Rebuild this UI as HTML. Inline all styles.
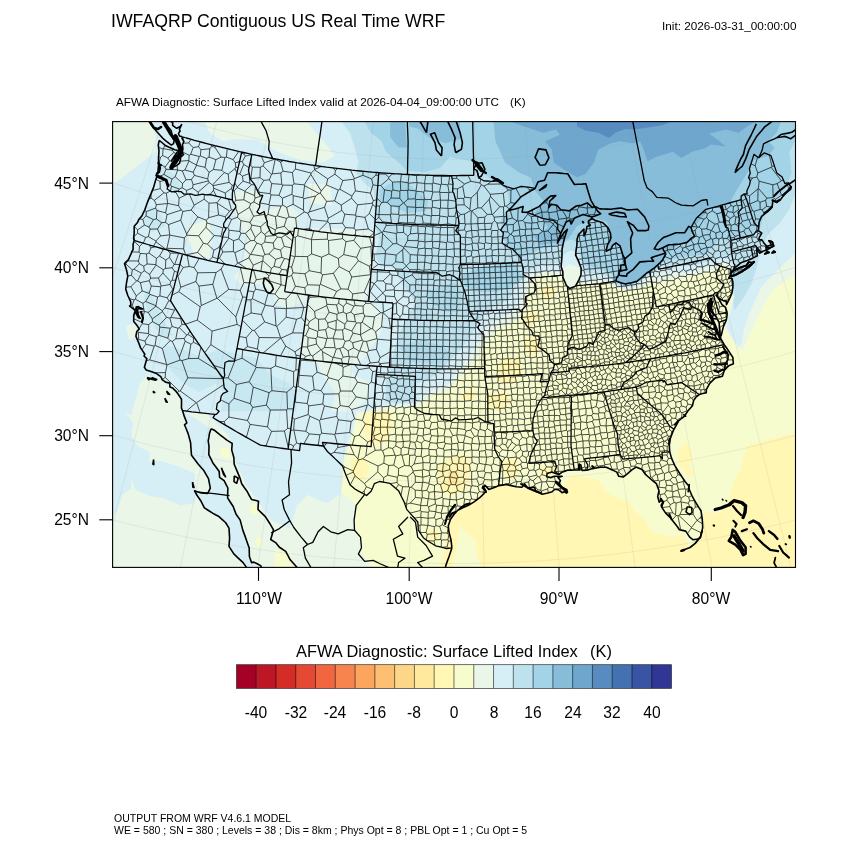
<!DOCTYPE html>
<html lang="en"><head><meta charset="utf-8"><title>IWFAQRP Contiguous US Real Time WRF</title>
<style>
html,body{margin:0;padding:0;background:#fff;}
body{width:850px;height:850px;position:relative;overflow:hidden;font-family:"Liberation Sans",Arial,Helvetica,sans-serif;color:#000;}
.t{position:absolute;white-space:pre;line-height:1;will-change:transform;transform:translateZ(0);}
#title{left:111.3px;top:13.4px;font-size:17.66px;}
#init{left:661.6px;top:20.2px;font-size:11.74px;}
#sub{left:116.2px;top:95.8px;font-size:11.68px;}
#subk{left:510.2px;top:95.8px;font-size:11.68px;}
#cbt{left:296.4px;top:642.5px;font-size:16.4px;}
#cbk{left:590.2px;top:642.5px;font-size:16.4px;}
#foot1{left:114.3px;top:813.2px;font-size:10.5px;}
#foot2{left:114.3px;top:825.2px;font-size:10.5px;}
.yl{font-size:15.6px;width:60px;text-align:right;left:29.2px;}
.xl{font-size:15.6px;width:80px;text-align:center;}
.cl{font-size:15.6px;width:60px;text-align:center;top:704.9px;}
svg{position:absolute;left:0;top:0;}
</style></head><body>
<div class="t" id="title">IWFAQRP Contiguous US Real Time WRF</div>
<div class="t" id="init">Init: 2026-03-31_00:00:00</div>
<div class="t" id="sub">AFWA Diagnostic: Surface Lifted Index valid at 2026-04-04_09:00:00 UTC</div><div class="t" id="subk">(K)</div>
<svg width="850" height="850" viewBox="0 0 850 850">
<defs><clipPath id="fc"><rect x="112.6" y="121.6" width="682.9" height="445.8"/></clipPath></defs>
<g clip-path="url(#fc)">
<rect x="111" y="120" width="686" height="449" fill="#d6eef5"/>
<path d="M341.4,121.7 349.9,132.7 354.1,145.4 358.4,162.4 356.2,172.9 364.7,183.5 373.2,189.9 375.3,204.7 373.2,221.7 379.5,238.6 375.3,255.5 380.0,266.0 394.4,268.0 398.6,277.7 407.1,290.4 415.5,303.1 407.1,317.9 398.6,334.9 394.4,349.7 390.1,368.8 385.9,379.4 385.9,402.7 415.5,402.7 415.5,383.6 428.2,379.4 440.0,372.0 450.0,360.0 460.6,349.7 471.2,334.9 479.6,320.1 492.4,307.4 507.2,301.0 513.5,292.5 519.9,277.7 522.2,273.7 542.4,264.2 560.4,263.1 563.5,254.6 570.9,250.4 578.4,253.6 583.6,272.6 599.5,274.1 611.0,277.5 615.0,284.0 621.6,286.0 625.4,287.0 631.6,285.8 637.2,284.3 646.7,276.2 649.8,274.6 654.5,271.5 658.5,268.8 664.0,266.0 669.8,265.5 680.5,266.0 691.2,265.9 700.4,263.6 712.6,260.6 721.8,258.3 734.0,259.1 732.2,273.5 732.2,296.8 734.4,310.5 742.8,298.9 751.3,284.1 755.5,271.4 760.0,255.0 764.0,242.8 768.2,234.4 780.9,221.7 789.4,208.9 797.0,189.9 796.5,120.6Z" fill="#bde2ee"/>
<path d="M146.0,204.7 158.7,208.9 165.1,225.9 152.4,232.2 143.9,221.7Z" fill="#bde2ee" fill-opacity="0.60"/>
<path d="M159.8,159.2 173.5,175.1 182.0,187.8 173.5,190.9 162.9,181.4 157.6,168.7Z" fill="#bde2ee" fill-opacity="0.60"/>
<path d="M147.1,288.3 155.5,303.1 162.9,320.1 173.5,334.9 165.1,338.1 155.5,328.5 148.1,313.7 143.9,296.8Z" fill="#bde2ee" fill-opacity="0.60"/>
<path d="M165.1,345.5 184.1,349.7 198.9,356.1 220.1,349.7 237.1,353.9 256.1,358.2 271.0,375.1 290.0,383.6 297.0,395.0 296.0,414.9 220.1,414.9 224.4,392.1 215.9,383.6 198.9,392.1 184.1,383.6 171.4,370.9 162.9,356.1Z" fill="#bde2ee" fill-opacity="0.60"/>
<path d="M187.0,414.0 205.0,414.0 210.0,430.0 208.0,452.0 196.0,450.0 190.0,432.0Z" fill="#bde2ee" fill-opacity="0.60"/>
<path d="M364.7,121.7 371.0,132.7 381.7,141.2 385.9,151.8 398.6,162.4 407.0,170.8 425.0,172.0 440.0,168.0 447.0,160.0 450.0,157.1 471.2,161.3 488.1,177.2 507.2,189.9 509.3,204.7 500.8,219.5 502.9,238.6 512.0,252.0 519.1,258.9 542.4,248.3 559.3,246.2 563.5,241.9 572.0,239.8 578.4,243.0 584.7,265.2 599.5,268.4 612.0,274.0 615.2,282.7 621.6,284.7 625.4,285.8 631.6,284.5 637.2,283.0 646.7,274.8 649.8,273.0 654.5,269.7 657.8,266.7 662.2,262.6 669.8,260.0 683.5,257.0 704.7,254.5 713.2,247.1 719.5,239.0 730.1,240.7 738.6,238.6 747.1,234.4 759.8,230.1 764.0,215.3 772.5,204.7 785.2,189.9 791.5,172.9 789.4,151.8 797.0,137.0 796.5,120.6Z" fill="#a3d3e6"/>
<path d="M379.5,189.9 390.1,183.5 407.0,181.4 415.5,189.9 428.2,200.5 426.1,211.0 407.0,213.2 390.1,204.7 379.5,200.5Z" fill="#a3d3e6"/>
<path d="M460.9,277.1 477.9,267.6 496.7,265.8 512.0,262.0 519.3,270.5 523.1,278.9 511.8,286.5 496.7,292.1 477.9,292.1 464.7,286.5Z" fill="#a3d3e6"/>
<path d="M400.0,348.0 417.6,340.0 442.1,345.0 452.0,356.0 440.0,364.0 410.0,362.0Z" fill="#a3d3e6" fill-opacity="0.60"/>
<path d="M425.0,292.0 455.0,282.0 462.0,292.0 460.0,312.0 445.0,312.0 432.0,304.0Z" fill="#a3d3e6" fill-opacity="0.60"/>
<path d="M390.1,124.2 392.0,120.0 405.0,120.0 407.0,147.5 398.6,147.5 390.1,137.0Z" fill="#87bdd9"/>
<path d="M409.2,120.0 460.0,120.0 460.0,139.0 445.2,143.3 428.2,137.0 417.7,128.5 409.2,126.4Z" fill="#87bdd9"/>
<path d="M493.4,121.7 495.5,141.2 505.1,162.4 519.9,172.9 530.5,177.2 534.7,189.9 543.2,200.5 534.7,213.2 543.2,219.5 548.0,228.0 534.0,236.0 540.0,245.0 556.0,243.0 560.1,242.8 568.6,238.6 577.1,225.9 594.0,217.4 606.7,221.7 609.5,228.0 609.0,238.0 606.0,246.0 610.0,250.0 615.0,244.0 619.0,247.0 621.0,255.0 622.0,262.0 619.0,268.0 617.0,274.0 615.5,281.5 621.6,283.5 625.4,284.6 631.6,283.3 637.2,281.8 646.7,273.6 649.8,271.8 654.5,268.5 657.8,265.5 662.2,261.2 666.5,253.5 675.9,246.1 691.2,239.2 692.0,230.1 700.5,219.5 708.9,208.9 730.1,202.6 734.4,194.1 740.7,183.5 747.1,172.9 753.4,160.2 768.2,156.0 774.6,147.5 768.2,141.2 776.7,132.7 780.9,121.7 780.9,120.6 493.4,120.6Z" fill="#87bdd9"/>
<path d="M511.4,121.7 524.1,126.4 543.2,132.7 555.9,129.5 560.1,134.8 545.3,141.2 551.7,149.6 553.8,162.4 564.4,169.8 577.1,177.2 585.5,174.0 594.0,162.4 598.2,149.6 610.9,143.3 620.0,141.2 632.7,143.3 640.1,141.2 643.3,148.6 647.5,161.3 656.0,157.1 672.9,151.8 681.4,158.1 692.0,151.8 704.7,148.6 711.1,144.4 725.9,146.5 715.3,138.0 708.9,133.8 725.9,129.5 738.6,132.7 747.1,126.4 755.5,121.7 755.5,120.6 511.4,120.6Z" fill="#6ea6ce"/>
<path d="M577.0,120.0 577.0,126.4 585.5,130.6 598.2,132.7 608.8,138.0 615.2,132.7 625.0,129.0 633.8,129.5 641.2,128.5 662.4,125.3 670.8,121.7 670.8,120.0Z" fill="#588cc0"/>
<path d="M112.0,516.0 116.4,511.7 122.7,494.7 131.2,488.4 131.2,477.8 148.1,465.1 150.2,452.4 137.5,446.0 131.2,435.4 133.3,422.7 124.8,411.7 131.2,414.9 135.4,400.5 139.6,383.6 148.1,375.1 160.8,380.4 171.4,387.8 179.9,396.3 183.1,413.0 356.2,411.7 368.9,411.1 385.9,404.8 415.5,403.7 428.2,392.1 449.4,383.6 455.0,374.0 462.7,364.5 475.4,347.6 483.9,330.7 496.6,320.1 511.4,313.7 517.8,305.2 523.1,292.5 526.5,279.0 530.0,274.8 542.4,272.0 561.4,272.0 563.5,267.4 569.9,264.2 579.4,267.4 581.5,280.5 599.5,279.6 612.0,282.0 615.0,285.5 621.6,287.5 625.4,288.6 631.6,287.5 637.2,286.2 646.7,278.5 649.8,277.0 654.5,274.5 660.0,273.5 669.8,273.0 680.5,273.0 691.2,271.3 700.4,269.0 712.6,265.9 720.2,262.9 731.0,262.9 730.1,277.7 734.4,296.8 730.1,313.7 726.9,326.4 731.2,335.9 738.6,346.5 741.8,343.4 743.9,328.5 749.2,313.7 755.5,298.9 761.9,286.2 772.5,275.6 780.9,266.7 790.0,258.0 797.0,252.0 796.5,568.4 111.6,568.4 111.6,516.0Z" fill="#e9f6e8"/>
<path d="M111.0,120.0 149.2,120.0 157.6,139.0 155.5,151.8 135.4,167.6 117.4,181.4 111.0,184.5Z" fill="#e9f6e8"/>
<path d="M204.2,120.0 305.4,120.0 316.0,132.7 328.7,147.5 335.1,156.0 322.4,162.4 301.2,160.2 285.0,155.0 273.1,149.6 258.2,140.1 237.1,139.1 222.2,141.2 209.5,132.7Z" fill="#e9f6e8"/>
<path d="M188.4,225.9 209.5,219.5 211.7,238.6 209.5,257.7 194.7,255.5 188.4,238.6Z" fill="#e9f6e8"/>
<path d="M233.9,192.0 258.2,189.9 262.5,211.1 290.0,204.7 300.0,215.0 296.0,228.0 330.0,228.0 373.0,231.0 373.2,266.0 368.9,286.2 364.7,298.9 375.3,305.2 383.8,320.1 379.5,337.0 368.9,349.7 362.6,360.3 349.9,364.5 354.1,375.1 371.0,383.6 364.7,400.5 349.9,414.9 330.8,414.9 335.1,392.1 322.4,375.1 318.1,364.5 301.2,358.2 303.3,328.5 307.5,298.9 290.0,307.4 277.3,305.2 271.0,290.4 258.2,284.1 245.5,286.2 232.8,277.7 241.3,268.0 247.7,238.6 237.1,219.5 235.0,204.7Z" fill="#e9f6e8" fill-opacity="0.80"/>
<path d="M307.5,183.5 330.8,185.0 332.0,204.7 310.0,204.0Z" fill="#e9f6e8"/>
<path d="M125.9,325.4 135.4,323.2 137.5,337.0 129.1,340.2Z" fill="#e9f6e8"/>
<path d="M148.0,462.0 160.8,460.8 179.9,467.2 194.7,473.5 194.7,503.2 179.9,505.3 162.9,498.0 150.0,496.0 136.0,490.0 131.0,478.0Z" fill="#d6eef5"/>
<path d="M190.0,411.0 356.2,411.7 352.0,431.2 347.8,443.9 341.4,462.9 341.4,479.9 339.3,494.7 326.6,503.2 307.5,494.7 297.0,505.0 290.0,528.6 271.0,520.1 258.2,501.1 245.5,484.1 237.1,465.1 228.6,435.4 211.7,418.5 205.0,412.0Z" fill="#d6eef5"/>
<path d="M182.5,410.6 184.3,416.4 186.8,422.8 184.5,424.8 186.4,429.3 188.2,433.9 189.4,438.3 190.6,442.7 190.9,447.7 191.2,451.5 191.5,455.3 194.9,459.7 198.3,464.2 200.9,467.2 203.6,470.2 206.0,474.4 208.5,478.6 209.4,483.3 210.3,488.1 207.8,493.4 204.6,493.2 201.3,493.0 198.0,491.9 194.6,490.8 197.1,495.5 201.1,501.3 204.4,507.8 208.5,510.5 212.6,513.1 215.5,514.7 218.4,516.2 222.0,519.3 225.5,522.5 229.0,528.1 229.3,533.1 229.6,538.2 229.3,542.3 229.0,546.4 233.8,553.9 238.5,558.3 243.1,562.6 245.6,566.1 248.2,569.6 253.1,574.5 253.6,578.4 254.0,582.2 256.8,584.7 256.8,584.7 262.6,581.8 265.0,575.4 262.8,570.5 260.6,565.6 257.2,563.8 253.9,562.1 251.5,562.6 249.4,556.4 249.3,552.2 249.2,548.0 247.3,542.7 245.5,537.4 242.9,530.4 241.5,525.1 240.1,519.9 236.1,514.3 234.6,510.4 233.2,506.5 230.4,502.2 227.6,497.9 227.7,492.9 227.9,488.0 226.0,484.3 224.1,480.7 219.6,477.4 219.2,471.5 216.1,467.2 212.9,462.9 210.9,458.8 208.8,454.7 208.9,450.5 209.0,446.4 208.2,441.0 208.9,437.2 209.5,433.3 211.1,428.7Z" fill="#d6eef5"/>
<path d="M373.2,569.0 368.9,562.5 362.6,554.0 360.5,541.3 356.2,528.6 354.1,520.1 356.2,505.3 349.9,498.9 341.4,492.6 343.5,479.9 343.5,462.9 349.9,443.9 354.1,431.2 358.4,413.5 373.2,414.9 390.1,409.0 415.5,406.9 432.5,396.3 449.4,389.9 456.0,381.0 462.7,375.1 477.5,358.2 486.0,341.2 498.7,328.5 513.5,322.2 522.0,313.7 526.2,298.9 531.0,285.0 536.0,278.5 542.4,275.2 561.4,275.2 564.6,283.2 570.9,287.5 578.4,283.9 599.5,283.0 612.0,285.0 616.0,288.0 621.6,289.5 625.4,290.5 631.6,289.8 637.2,289.0 645.3,286.0 651.0,283.5 657.5,282.5 669.8,280.5 680.5,278.9 691.2,275.9 700.4,273.6 712.6,270.5 718.7,267.5 727.9,265.2 729.0,278.0 732.5,297.0 728.5,314.0 724.5,327.0 730.0,337.0 738.6,349.7 743.9,348.7 749.2,334.9 757.7,317.9 766.1,301.0 774.6,288.3 785.2,280.9 797.0,274.5 796.5,568.4 373.2,568.4Z" fill="#f7fcce"/>
<path d="M220.1,448.1 230.7,449.0 229.0,458.7 221.0,457.0Z" fill="#f7fcce"/>
<path d="M249.8,503.2 256.0,505.0 258.2,515.9 251.0,514.0Z" fill="#f7fcce"/>
<path d="M256.1,537.1 262.5,539.0 261.0,547.7 256.5,546.0Z" fill="#f7fcce"/>
<path d="M275.2,549.8 290.0,552.0 292.0,568.0 274.0,568.0Z" fill="#f7fcce"/>
<path d="M481.8,569.0 477.5,556.1 475.4,539.2 462.7,530.7 458.5,518.0 452.0,521.0 456.4,511.7 481.8,494.7 498.7,484.1 534.7,491.5 560.1,492.6 567.5,479.9 572.8,475.7 598.2,479.9 606.7,492.6 619.4,498.9 628.5,501.1 634.8,511.7 645.4,520.1 651.8,532.8 672.9,537.1 683.5,534.9 685.6,539.2 689.9,547.7 700.5,537.1 702.6,528.6 704.7,511.7 713.2,513.8 725.9,509.5 730.1,494.7 734.4,479.9 740.7,469.3 744.9,454.5 747.1,446.0 759.8,441.8 776.7,437.5 797.0,433.3 796.5,568.4 481.8,568.4Z" fill="#fff7b3"/>
<path d="M449.0,516.0 460.0,516.0 458.0,540.0 452.0,569.0 440.0,569.0 446.0,545.0Z" fill="#fff7b3"/>
<path d="M366.0,412.0 390.0,410.0 392.0,425.0 388.0,440.0 372.0,446.0 363.0,430.0Z" fill="#fff7b3"/>
<path d="M351.0,460.0 362.0,456.0 370.0,468.0 364.0,480.0 352.0,478.0Z" fill="#fff7b3"/>
<path d="M437.0,468.0 450.0,458.0 466.0,455.0 471.0,470.0 465.0,490.0 450.0,496.0 440.0,488.0Z" fill="#fff7b3"/>
<path d="M427.0,530.0 438.0,529.0 439.0,540.0 430.0,542.0Z" fill="#fff7b3"/>
<path d="M502.0,461.0 516.0,459.0 520.0,472.0 512.0,480.0 503.0,476.0Z" fill="#fff7b3"/>
<path d="M540.0,467.0 555.0,466.0 556.0,475.0 541.0,476.0Z" fill="#fff7b3"/>
<path d="M538.9,290.4 549.5,285.1 555.9,288.3 553.8,296.8 543.2,298.9Z" fill="#fff7b3"/>
<path d="M524.1,314.8 534.7,312.6 538.9,320.1 530.5,326.4 524.1,322.2Z" fill="#fff7b3"/>
<path d="M525.2,339.1 536.8,337.0 541.1,349.7 532.6,356.1 524.1,349.7Z" fill="#fff7b3"/>
<path d="M500.8,360.3 519.9,356.1 522.0,370.9 513.5,383.6 498.7,383.6 496.6,370.9Z" fill="#fff7b3"/>
<path d="M488.1,394.2 507.2,392.1 511.4,402.7 500.8,411.1 488.1,406.9Z" fill="#fff7b3"/>
<path d="M462.7,392.1 477.5,389.9 473.3,400.5 462.7,400.5Z" fill="#fff7b3"/>
<path d="M677.2,452.4 685.6,441.8 692.0,452.4 689.9,467.2 694.1,475.7 687.8,475.7 679.3,465.1Z" fill="#fff7b3"/>
<path d="M448.0,472.0 458.0,470.0 459.0,484.0 449.0,486.0Z" fill="#fee99d"/>
<path d="M-166.7,601.0 -159.6,585.1 -152.6,569.4 -145.6,553.7 -138.7,538.2 -131.8,522.7 -125.0,507.3 -118.2,491.9 -111.4,476.7 -104.7,461.5 -98.0,446.4 -91.3,431.3 -84.6,416.3 -78.0,401.4 -71.3,386.5 -64.7,371.6 -58.2,356.8 -51.6,342.0 -45.0,327.3 -38.5,312.6 -32.0,297.9 -25.4,283.2 -18.9,268.5 -12.4,253.8 -5.9,239.2 0.6,224.5 7.1,209.9 13.7,195.2 20.2,180.5 26.7,165.8 33.3,151.1 39.8,136.3 46.4,121.6 53.0,106.7 59.6,91.9 66.2,76.9 72.9,62.0 79.5,46.9 86.3,31.8 93.0,16.7 99.8,1.4 106.6,-13.9 113.5,-29.4 120.4,-44.9 127.3,-60.6 134.3,-76.3 M-88.9,633.0 -82.7,616.8 -76.6,600.7 -70.5,584.7 -64.5,568.7 -58.4,552.9 -52.5,537.1 -46.5,521.5 -40.6,505.9 -34.7,490.3 -28.8,474.9 -22.9,459.5 -17.1,444.1 -11.3,428.8 -5.5,413.6 0.3,398.4 6.0,383.3 11.8,368.1 17.5,353.0 23.2,338.0 28.9,322.9 34.6,307.9 40.3,292.9 46.0,277.9 51.7,262.9 57.4,247.9 63.1,232.9 68.8,217.9 74.5,202.9 80.3,187.9 86.0,172.8 91.7,157.7 97.5,142.6 103.2,127.4 109.0,112.2 114.8,97.0 120.6,81.6 126.5,66.3 132.3,50.8 138.2,35.3 144.2,19.7 150.1,4.0 156.1,-11.8 162.2,-27.7 168.3,-43.7 174.4,-59.8 M-9.5,660.7 -4.2,644.2 1.0,627.8 6.2,611.4 11.4,595.2 16.5,579.0 21.6,563.0 26.7,547.0 31.8,531.1 36.8,515.3 41.8,499.5 46.8,483.8 51.8,468.2 56.7,452.6 61.7,437.1 66.6,421.6 71.5,406.1 76.4,390.7 81.3,375.3 86.2,360.0 91.1,344.6 96.0,329.3 100.8,314.0 105.7,298.7 110.6,283.4 115.4,268.2 120.3,252.9 125.2,237.6 130.1,222.3 134.9,206.9 139.8,191.6 144.7,176.2 149.6,160.8 154.5,145.3 159.5,129.8 164.4,114.3 169.4,98.7 174.4,83.0 179.4,67.2 184.4,51.4 189.5,35.5 194.6,19.5 199.7,3.4 204.9,-12.8 210.1,-29.1 215.3,-45.6 M71.3,684.0 75.7,667.2 80.0,650.5 84.3,633.9 88.5,617.4 92.8,601.0 97.0,584.7 101.2,568.5 105.4,552.3 109.5,536.2 113.7,520.2 117.8,504.3 121.9,488.4 126.0,472.6 130.1,456.8 134.2,441.0 138.2,425.3 142.3,409.7 146.3,394.0 150.4,378.4 154.4,362.9 158.4,347.3 162.4,331.8 166.4,316.2 170.5,300.7 174.5,285.2 178.5,269.6 182.5,254.1 186.5,238.5 190.6,223.0 194.6,207.4 198.6,191.7 202.7,176.1 206.8,160.4 210.8,144.6 214.9,128.8 219.0,113.0 223.1,97.0 227.3,81.0 231.4,65.0 235.6,48.8 239.8,32.5 244.0,16.2 248.3,-0.3 252.6,-16.9 256.9,-33.6 M153.3,702.8 156.7,685.8 160.1,668.9 163.5,652.1 166.8,635.4 170.2,618.8 173.5,602.3 176.8,585.8 180.1,569.5 183.3,553.2 186.6,537.0 189.8,520.8 193.0,504.7 196.3,488.7 199.5,472.7 202.7,456.7 205.9,440.9 209.0,425.0 212.2,409.2 215.4,393.4 218.6,377.6 221.7,361.8 224.9,346.1 228.0,330.4 231.2,314.6 234.3,298.9 237.5,283.2 240.7,267.4 243.8,251.7 247.0,235.9 250.2,220.1 253.3,204.3 256.5,188.4 259.7,172.5 262.9,156.6 266.1,140.6 269.4,124.5 272.6,108.4 275.8,92.2 279.1,75.9 282.4,59.5 285.7,43.1 289.0,26.5 292.4,9.8 295.7,-7.0 299.1,-23.9 M236.2,717.1 238.6,699.9 241.1,682.9 243.5,665.9 246.0,649.0 248.4,632.3 250.8,615.6 253.2,599.0 255.6,582.5 257.9,566.0 260.3,549.6 262.6,533.3 265.0,517.1 267.3,500.9 269.6,484.8 271.9,468.7 274.3,452.6 276.6,436.6 278.9,420.6 281.2,404.7 283.4,388.8 285.7,372.9 288.0,357.0 290.3,341.1 292.6,325.2 294.9,309.3 297.2,293.5 299.5,277.6 301.8,261.7 304.1,245.7 306.3,229.8 308.6,213.8 311.0,197.8 313.3,181.7 315.6,165.6 317.9,149.5 320.3,133.3 322.6,117.0 325.0,100.6 327.3,84.2 329.7,67.7 332.1,51.1 334.5,34.3 336.9,17.5 339.4,0.6 341.8,-16.5 M319.7,726.8 321.2,709.5 322.7,692.3 324.2,675.3 325.7,658.3 327.2,641.4 328.7,624.6 330.2,607.9 331.7,591.3 333.1,574.7 334.6,558.3 336.0,541.9 337.5,525.5 338.9,509.2 340.3,493.0 341.8,476.8 343.2,460.6 344.6,444.5 346.0,428.4 347.4,412.4 348.9,396.4 350.3,380.4 351.7,364.4 353.1,348.4 354.5,332.4 355.9,316.4 357.3,300.4 358.7,284.4 360.1,268.4 361.6,252.4 363.0,236.4 364.4,220.3 365.8,204.2 367.2,188.0 368.7,171.8 370.1,155.5 371.6,139.2 373.0,122.8 374.5,106.4 375.9,89.8 377.4,73.2 378.9,56.5 380.3,39.7 381.8,22.7 383.3,5.7 384.9,-11.5 M403.6,731.9 404.2,714.5 404.8,697.3 405.3,680.2 405.9,663.1 406.5,646.2 407.0,629.4 407.6,612.6 408.1,595.9 408.7,579.3 409.2,562.8 409.8,546.3 410.3,529.9 410.8,513.6 411.4,497.3 411.9,481.0 412.5,464.8 413.0,448.7 413.5,432.5 414.1,416.4 414.6,400.3 415.1,384.3 415.6,368.2 416.2,352.2 416.7,336.2 417.2,320.1 417.8,304.1 418.3,288.1 418.8,272.0 419.4,255.9 419.9,239.8 420.4,223.7 421.0,207.5 421.5,191.3 422.0,175.0 422.6,158.7 423.1,142.3 423.6,125.9 424.2,109.4 424.7,92.8 425.3,76.1 425.8,59.3 426.4,42.5 427.0,25.5 427.5,8.3 428.1,-8.9 M487.7,732.3 487.3,715.0 487.0,697.7 486.6,680.6 486.2,663.6 485.8,646.6 485.5,629.8 485.1,613.0 484.7,596.3 484.4,579.7 484.0,563.2 483.6,546.7 483.3,530.3 482.9,514.0 482.6,497.7 482.2,481.4 481.8,465.2 481.5,449.0 481.1,432.9 480.8,416.8 480.4,400.7 480.1,384.6 479.7,368.6 479.4,352.5 479.0,336.5 478.7,320.5 478.3,304.4 478.0,288.4 477.6,272.3 477.3,256.2 476.9,240.1 476.5,224.0 476.2,207.8 475.8,191.6 475.5,175.3 475.1,159.0 474.7,142.6 474.4,126.2 474.0,109.7 473.7,93.1 473.3,76.4 472.9,59.6 472.5,42.7 472.2,25.7 471.8,8.6 471.4,-8.7 M571.7,728.2 570.4,710.9 569.1,693.7 567.7,676.6 566.4,659.6 565.1,642.7 563.8,625.9 562.5,609.2 561.3,592.6 560.0,576.0 558.7,559.5 557.4,543.1 556.2,526.7 554.9,510.4 553.7,494.1 552.4,477.9 551.2,461.8 549.9,445.6 548.7,429.6 547.4,413.5 546.2,397.4 545.0,381.4 543.7,365.4 542.5,349.4 541.3,333.4 540.0,317.4 538.8,301.4 537.6,285.4 536.3,269.4 535.1,253.4 533.8,237.3 532.6,221.2 531.3,205.1 530.1,188.9 528.8,172.7 527.6,156.4 526.3,140.1 525.1,123.7 523.8,107.2 522.5,90.6 521.2,74.0 519.9,57.3 518.6,40.4 517.3,23.5 516.0,6.4 514.7,-10.8 M655.4,719.4 653.1,702.2 650.8,685.1 648.5,668.1 646.3,651.2 644.1,634.4 641.9,617.7 639.6,601.1 637.4,584.6 635.3,568.1 633.1,551.7 630.9,535.4 628.8,519.1 626.6,502.9 624.5,486.7 622.3,470.6 620.2,454.5 618.0,438.5 615.9,422.5 613.8,406.5 611.7,390.6 609.6,374.6 607.5,358.7 605.3,342.8 603.2,326.9 601.1,311.0 599.0,295.1 596.9,279.2 594.8,263.3 592.7,247.3 590.5,231.4 588.4,215.4 586.3,199.3 584.1,183.2 582.0,167.1 579.9,150.9 577.7,134.7 575.5,118.4 573.4,102.0 571.2,85.5 569.0,69.0 566.8,52.4 564.5,35.6 562.3,18.7 560.0,1.8 557.8,-15.3 M738.4,706.0 735.2,689.0 732.0,672.0 728.8,655.2 725.6,638.5 722.4,621.8 719.3,605.3 716.2,588.8 713.1,572.4 710.0,556.1 706.9,539.8 703.9,523.6 700.8,507.5 697.8,491.4 694.7,475.4 691.7,459.4 688.7,443.5 685.7,427.6 682.7,411.8 679.7,395.9 676.7,380.1 673.7,364.3 670.7,348.5 667.7,332.8 664.8,317.0 661.8,301.3 658.8,285.5 655.8,269.7 652.8,253.9 649.8,238.1 646.8,222.3 643.8,206.4 640.8,190.5 637.8,174.6 634.8,158.6 631.7,142.6 628.7,126.5 625.6,110.3 622.6,94.1 619.5,77.8 616.4,61.4 613.2,44.9 610.1,28.3 606.9,11.6 603.8,-5.3 600.5,-22.2 M820.6,688.1 816.4,671.3 812.3,654.5 808.1,637.9 804.1,621.4 800.0,604.9 796.0,588.6 791.9,572.3 787.9,556.1 784.0,539.9 780.0,523.9 776.0,507.9 772.1,492.0 768.2,476.1 764.3,460.3 760.4,444.5 756.5,428.7 752.6,413.0 748.8,397.4 744.9,381.7 741.0,366.1 737.2,350.5 733.3,334.9 729.5,319.3 725.6,303.8 721.8,288.2 717.9,272.6 714.1,257.0 710.2,241.4 706.4,225.8 702.5,210.2 698.7,194.5 694.8,178.8 690.9,163.0 687.0,147.2 683.1,131.4 679.1,115.5 675.2,99.5 671.2,83.5 667.3,67.4 663.3,51.1 659.2,34.8 655.2,18.4 651.1,1.9 647.0,-14.7 642.9,-31.5 M901.6,665.7 896.5,649.1 891.5,632.7 886.5,616.3 881.5,600.0 876.5,583.8 871.6,567.7 866.7,551.6 861.8,535.7 856.9,519.8 852.1,504.0 847.3,488.2 842.5,472.5 837.7,456.9 832.9,441.3 828.1,425.8 823.4,410.2 818.7,394.8 813.9,379.3 809.2,363.9 804.5,348.6 799.8,333.2 795.1,317.8 790.4,302.5 785.7,287.2 781.0,271.8 776.3,256.5 771.6,241.1 766.9,225.8 762.2,210.4 757.5,195.0 752.8,179.5 748.0,164.1 743.3,148.6 738.5,133.0 733.7,117.4 728.9,101.7 724.1,86.0 719.3,70.2 714.4,54.3 709.5,38.4 704.6,22.3 699.7,6.2 694.7,-10.1 689.7,-26.5 684.6,-43.0 M981.3,638.9 975.3,622.6 969.4,606.4 963.5,590.4 957.6,574.4 951.8,558.5 945.9,542.6 940.2,526.9 934.4,511.2 928.7,495.6 923.0,480.1 917.3,464.7 911.6,449.2 906.0,433.9 900.4,418.6 894.8,403.3 889.2,388.1 883.6,372.9 878.0,357.8 872.5,342.7 866.9,327.6 861.4,312.5 855.8,297.4 850.3,282.3 844.8,267.3 839.2,252.2 833.7,237.2 828.2,222.1 822.6,207.0 817.1,191.9 811.5,176.8 805.9,161.6 800.4,146.5 794.8,131.2 789.2,116.0 783.5,100.6 777.9,85.3 772.2,69.8 766.5,54.3 760.8,38.7 755.0,23.1 749.2,7.3 743.4,-8.6 737.5,-24.5 731.6,-40.6 725.7,-56.8 M1059.4,607.8 1052.6,591.8 1045.7,576.0 1038.9,560.2 1032.2,544.6 1025.5,529.0 1018.8,513.6 1012.2,498.2 1005.6,482.8 999.0,467.6 992.4,452.4 985.9,437.3 979.4,422.2 972.9,407.2 966.5,392.2 960.0,377.3 953.6,362.4 947.2,347.5 940.8,332.7 934.4,317.9 928.1,303.2 921.7,288.4 915.3,273.7 909.0,258.9 902.6,244.2 896.3,229.5 889.9,214.7 883.6,200.0 877.2,185.2 870.8,170.5 864.5,155.7 858.1,140.8 851.7,126.0 845.2,111.1 838.8,96.1 832.3,81.2 825.8,66.1 819.3,51.0 812.8,35.8 806.2,20.6 799.6,5.3 793.0,-10.2 786.3,-25.7 779.5,-41.3 772.8,-57.0 765.9,-72.9 M-203.5,488.5 -189.3,495.6 -175.0,502.6 -160.7,509.5 -146.3,516.1 -131.8,522.7 -117.3,529.0 -102.7,535.2 -88.0,541.3 -73.3,547.2 -58.4,552.9 -43.6,558.5 -28.6,563.8 -13.6,569.1 1.4,574.1 16.5,579.0 31.7,583.8 46.9,588.3 62.1,592.7 77.4,597.0 92.8,601.0 108.2,604.9 123.6,608.6 139.1,612.2 154.6,615.6 170.2,618.8 185.7,621.8 201.4,624.7 217.0,627.4 232.7,629.9 248.4,632.3 264.1,634.4 279.9,636.4 295.6,638.3 311.4,639.9 327.2,641.4 343.1,642.7 358.9,643.8 374.7,644.8 390.6,645.6 406.5,646.2 422.3,646.6 438.2,646.9 454.1,647.0 470.0,646.9 485.8,646.6 501.7,646.2 517.6,645.6 533.4,644.8 549.3,643.8 565.1,642.7 580.9,641.4 596.8,639.9 612.5,638.3 628.3,636.4 644.1,634.4 659.8,632.3 675.5,629.9 691.2,627.4 706.8,624.7 722.4,621.8 738.0,618.8 753.6,615.6 769.1,612.2 784.6,608.6 800.0,604.9 815.4,601.0 830.7,597.0 846.1,592.7 861.3,588.3 876.5,583.8 891.7,579.0 906.8,574.1 921.8,569.1 936.8,563.8 951.8,558.5 966.6,552.9 981.4,547.2 996.2,541.3 1010.9,535.2 1025.5,529.0 1040.0,522.7 1054.5,516.1 1068.9,509.5 1083.2,502.6 1097.5,495.6 1111.6,488.5 1125.7,481.1 1139.8,473.7 1153.7,466.0 1167.5,458.3 M-165.4,414.2 -152.1,420.9 -138.7,427.5 -125.2,434.0 -111.6,440.3 -98.0,446.4 -84.2,452.4 -70.5,458.3 -56.6,463.9 -42.8,469.5 -28.8,474.9 -14.8,480.1 -0.7,485.2 13.4,490.1 27.6,494.9 41.8,499.5 56.1,504.0 70.4,508.3 84.8,512.4 99.2,516.4 113.7,520.2 128.2,523.9 142.7,527.4 157.3,530.7 171.9,533.9 186.6,537.0 201.3,539.8 216.0,542.5 230.7,545.1 245.5,547.4 260.3,549.6 275.1,551.7 289.9,553.6 304.8,555.3 319.7,556.9 334.6,558.3 349.5,559.5 364.4,560.6 379.3,561.5 394.3,562.2 409.2,562.8 424.2,563.2 439.1,563.5 454.1,563.5 469.0,563.5 484.0,563.2 499.0,562.8 513.9,562.2 528.9,561.5 543.8,560.6 558.7,559.5 573.6,558.3 588.5,556.9 603.4,555.3 618.2,553.6 633.1,551.7 647.9,549.6 662.7,547.4 677.5,545.1 692.2,542.5 706.9,539.8 721.6,537.0 736.3,533.9 750.9,530.7 765.5,527.4 780.0,523.9 794.5,520.2 809.0,516.4 823.4,512.4 837.8,508.3 852.1,504.0 866.4,499.5 880.6,494.9 894.8,490.1 908.9,485.2 923.0,480.1 937.0,474.9 950.9,469.5 964.8,463.9 978.7,458.3 992.4,452.4 1006.1,446.4 1019.8,440.3 1033.3,434.0 1046.8,427.5 1060.3,420.9 1073.6,414.2 1086.9,407.3 1100.1,400.2 1113.2,393.1 1126.3,385.7 M-128.2,341.4 -115.6,347.7 -103.0,353.9 -90.3,359.9 -77.6,365.9 -64.7,371.6 -51.9,377.3 -38.9,382.8 -25.9,388.1 -12.9,393.3 0.3,398.4 13.4,403.3 26.7,408.1 39.9,412.7 53.3,417.2 66.6,421.6 80.0,425.8 93.5,429.8 107.0,433.7 120.6,437.4 134.2,441.0 147.8,444.5 161.5,447.8 175.2,450.9 188.9,453.9 202.7,456.7 216.5,459.4 230.3,462.0 244.2,464.4 258.0,466.6 271.9,468.7 285.9,470.6 299.8,472.4 313.8,474.0 327.8,475.5 341.8,476.8 355.8,477.9 369.8,478.9 383.8,479.8 397.9,480.5 411.9,481.0 426.0,481.4 440.0,481.7 454.1,481.7 468.1,481.7 482.2,481.4 496.3,481.0 510.3,480.5 524.4,479.8 538.4,478.9 552.4,477.9 566.4,476.8 580.4,475.5 594.4,474.0 608.4,472.4 622.3,470.6 636.2,468.7 650.1,466.6 664.0,464.4 677.9,462.0 691.7,459.4 705.5,456.7 719.3,453.9 733.0,450.9 746.7,447.8 760.4,444.5 774.0,441.0 787.6,437.4 801.2,433.7 814.7,429.8 828.1,425.8 841.6,421.6 854.9,417.2 868.3,412.7 881.5,408.1 894.8,403.3 907.9,398.4 921.0,393.3 934.1,388.1 947.1,382.8 960.0,377.3 972.9,371.6 985.7,365.9 998.5,359.9 1011.2,353.9 1023.8,347.7 1036.3,341.4 1048.8,334.9 1061.2,328.3 1073.6,321.5 1085.8,314.6 M-91.4,269.5 -79.6,275.4 -67.8,281.2 -55.9,286.9 -44.0,292.5 -32.0,297.9 -19.9,303.2 -7.8,308.3 4.4,313.3 16.6,318.2 28.9,322.9 41.3,327.6 53.7,332.0 66.1,336.4 78.6,340.6 91.1,344.6 103.7,348.6 116.3,352.3 129.0,356.0 141.6,359.5 154.4,362.9 167.1,366.1 180.0,369.2 192.8,372.1 205.7,374.9 218.6,377.6 231.5,380.1 244.4,382.5 257.4,384.7 270.4,386.8 283.4,388.8 296.5,390.6 309.6,392.2 322.6,393.8 335.7,395.1 348.9,396.4 362.0,397.4 375.1,398.4 388.3,399.2 401.4,399.8 414.6,400.3 427.8,400.7 440.9,400.9 454.1,401.0 467.3,400.9 480.4,400.7 493.6,400.3 506.8,399.8 519.9,399.2 533.1,398.4 546.2,397.4 559.3,396.4 572.4,395.1 585.5,393.8 598.6,392.2 611.7,390.6 624.7,388.8 637.8,386.8 650.8,384.7 663.7,382.5 676.7,380.1 689.6,377.6 702.5,374.9 715.4,372.1 728.2,369.2 741.0,366.1 753.8,362.9 766.5,359.5 779.2,356.0 791.9,352.3 804.5,348.6 817.1,344.6 829.6,340.6 842.1,336.4 854.5,332.0 866.9,327.6 879.2,322.9 891.5,318.2 903.8,313.3 915.9,308.3 928.1,303.2 940.1,297.9 952.1,292.5 964.1,286.9 976.0,281.2 987.8,275.4 999.5,269.5 1011.2,263.4 1022.9,257.2 1034.4,250.9 1045.9,244.5 M-54.8,198.1 -43.8,203.6 -32.8,209.0 -21.7,214.3 -10.6,219.5 0.6,224.5 11.9,229.5 23.2,234.3 34.6,238.9 46.0,243.5 57.4,247.9 68.9,252.2 80.5,256.4 92.1,260.4 103.8,264.4 115.4,268.2 127.2,271.8 138.9,275.4 150.8,278.8 162.6,282.0 174.5,285.2 186.4,288.2 198.3,291.1 210.3,293.8 222.3,296.4 234.3,298.9 246.4,301.3 258.5,303.5 270.6,305.6 282.7,307.5 294.9,309.3 307.1,311.0 319.3,312.6 331.5,314.0 343.7,315.3 355.9,316.4 368.2,317.4 380.4,318.3 392.7,319.1 405.0,319.7 417.2,320.1 429.5,320.5 441.8,320.7 454.1,320.7 466.4,320.7 478.7,320.5 490.9,320.1 503.2,319.7 515.5,319.1 527.8,318.3 540.0,317.4 552.3,316.4 564.5,315.3 576.7,314.0 588.9,312.6 601.1,311.0 613.3,309.3 625.4,307.5 637.6,305.6 649.7,303.5 661.8,301.3 673.8,298.9 685.9,296.4 697.9,293.8 709.8,291.1 721.8,288.2 733.7,285.2 745.6,282.0 757.4,278.8 769.2,275.4 781.0,271.8 792.7,268.2 804.4,264.4 816.1,260.4 827.7,256.4 839.2,252.2 850.7,247.9 862.2,243.5 873.6,238.9 885.0,234.3 896.3,229.5 907.5,224.5 918.7,219.5 929.9,214.3 941.0,209.0 952.0,203.6 963.0,198.1 973.9,192.4 984.7,186.6 995.5,180.7 1006.2,174.7 M-18.2,126.5 -8.0,131.7 2.2,136.7 12.5,141.6 22.9,146.4 33.3,151.1 43.7,155.7 54.2,160.1 64.8,164.5 75.3,168.7 86.0,172.8 96.7,176.8 107.4,180.7 118.2,184.4 129.0,188.1 139.8,191.6 150.7,195.0 161.6,198.3 172.6,201.4 183.6,204.4 194.6,207.4 205.7,210.2 216.7,212.8 227.9,215.4 239.0,217.8 250.2,220.1 261.4,222.3 272.6,224.4 283.8,226.3 295.1,228.1 306.3,229.8 317.6,231.4 329.0,232.8 340.3,234.1 351.6,235.3 363.0,236.4 374.3,237.3 385.7,238.1 397.1,238.8 408.5,239.4 419.9,239.8 431.3,240.1 442.7,240.3 454.1,240.4 465.5,240.3 476.9,240.1 488.3,239.8 499.7,239.4 511.1,238.8 522.5,238.1 533.8,237.3 545.2,236.4 556.6,235.3 567.9,234.1 579.2,232.8 590.5,231.4 601.8,229.8 613.1,228.1 624.4,226.3 635.6,224.4 646.8,222.3 658.0,220.1 669.2,217.8 680.3,215.4 691.4,212.8 702.5,210.2 713.6,207.4 724.6,204.4 735.6,201.4 746.6,198.3 757.5,195.0 768.4,191.6 779.2,188.1 790.0,184.4 800.8,180.7 811.5,176.8 822.2,172.8 832.8,168.7 843.4,164.5 854.0,160.1 864.5,155.7 874.9,151.1 885.3,146.4 895.6,141.6 905.9,136.7 916.2,131.7 926.4,126.5 936.5,121.3 946.5,115.9 956.5,110.4 966.5,104.8 M18.8,54.3 28.2,59.0 37.6,63.7 47.1,68.2 56.6,72.6 66.2,76.9 75.8,81.2 85.5,85.3 95.2,89.3 105.0,93.2 114.8,97.0 124.7,100.6 134.5,104.2 144.5,107.7 154.4,111.0 164.4,114.3 174.5,117.4 184.5,120.4 194.6,123.3 204.8,126.1 214.9,128.8 225.1,131.4 235.3,133.9 245.6,136.2 255.8,138.4 266.1,140.6 276.4,142.6 286.8,144.5 297.1,146.3 307.5,147.9 317.9,149.5 328.3,150.9 338.8,152.3 349.2,153.5 359.6,154.6 370.1,155.5 380.6,156.4 391.1,157.2 401.6,157.8 412.1,158.3 422.6,158.7 433.1,159.0 443.6,159.2 454.1,159.2 464.6,159.2 475.1,159.0 485.6,158.7 496.1,158.3 506.6,157.8 517.1,157.2 527.6,156.4 538.1,155.5 548.5,154.6 559.0,153.5 569.4,152.3 579.9,150.9 590.3,149.5 600.7,147.9 611.0,146.3 621.4,144.5 631.7,142.6 642.1,140.6 652.3,138.4 662.6,136.2 672.9,133.9 683.1,131.4 693.3,128.8 703.4,126.1 713.6,123.3 723.7,120.4 733.7,117.4 743.8,114.3 753.8,111.0 763.7,107.7 773.6,104.2 783.5,100.6 793.4,97.0 803.2,93.2 812.9,89.3 822.7,85.3 832.3,81.2 842.0,76.9 851.5,72.6 861.1,68.2 870.6,63.7 880.0,59.0 889.4,54.3 898.7,49.5 908.0,44.5 917.2,39.5 926.4,34.3 M56.5,-19.3 65.0,-14.9 73.7,-10.7 82.3,-6.6 91.0,-2.5 99.8,1.4 108.6,5.3 117.4,9.0 126.3,12.7 135.2,16.2 144.2,19.7 153.2,23.1 162.2,26.3 171.3,29.5 180.4,32.5 189.5,35.5 198.7,38.4 207.8,41.1 217.1,43.8 226.3,46.3 235.6,48.8 244.9,51.1 254.3,53.4 263.6,55.5 273.0,57.6 282.4,59.5 291.8,61.4 301.3,63.1 310.7,64.7 320.2,66.3 329.7,67.7 339.2,69.0 348.7,70.2 358.3,71.3 367.8,72.3 377.4,73.2 386.9,74.0 396.5,74.7 406.1,75.3 415.7,75.7 425.3,76.1 434.9,76.4 444.5,76.5 454.1,76.6 463.7,76.5 473.3,76.4 482.9,76.1 492.5,75.7 502.1,75.3 511.7,74.7 521.2,74.0 530.8,73.2 540.4,72.3 549.9,71.3 559.4,70.2 569.0,69.0 578.5,67.7 588.0,66.3 597.5,64.7 606.9,63.1 616.4,61.4 625.8,59.5 635.2,57.6 644.6,55.5 653.9,53.4 663.3,51.1 672.6,48.8 681.9,46.3 691.1,43.8 700.3,41.1 709.5,38.4 718.7,35.5 727.8,32.5 736.9,29.5 746.0,26.3 755.0,23.1 764.0,19.7 773.0,16.2 781.9,12.7 790.8,9.0 799.6,5.3 808.4,1.4 817.2,-2.5 825.9,-6.6 834.5,-10.7 843.1,-14.9 851.7,-19.3 860.2,-23.7 868.7,-28.2 877.1,-32.8 885.5,-37.5" fill="none" stroke="#9a9a9a" stroke-opacity="0.26" stroke-width="0.6"/>
<path d="M239.4,161.6 235.3,162.8 M235.3,162.8 235.8,167.1 M238.0,167.8 235.8,167.1 M231.5,188.3 232.6,191.3 M231.5,188.3 232.3,185.3 M232.3,185.3 234.1,185.0 M235.8,167.1 235.0,168.6 M235.0,168.6 236.8,172.8 M189.2,155.3 182.6,152.0 M189.2,155.3 188.8,160.5 M188.8,160.5 180.3,161.2 M179.2,154.1 178.3,154.7 M177.9,159.5 178.3,154.7 M209.1,157.1 206.6,158.5 M209.1,157.1 215.9,159.6 M215.9,159.6 213.4,169.5 M205.1,167.3 206.6,158.5 M205.1,167.3 209.0,172.4 M209.0,172.4 213.4,169.5 M215.9,159.6 221.3,157.1 M224.9,157.5 221.3,157.1 M224.9,157.5 221.9,170.3 M213.4,169.5 221.9,170.3 M183.1,137.2 183.2,140.0 M191.0,139.4 188.6,142.9 M183.3,143.3 188.6,142.9 M189.2,155.3 190.7,154.3 M190.7,154.3 193.2,147.5 M193.2,147.5 188.6,142.9 M214.8,147.1 221.3,157.1 M214.8,147.1 216.4,146.2 M226.4,157.1 227.2,149.1 M226.4,157.1 224.9,157.5 M235.3,162.8 233.1,159.6 M233.1,159.6 238.7,151.5 M200.9,149.7 198.5,146.7 M200.9,149.7 209.8,148.8 M198.5,146.7 200.2,142.0 M211.1,144.8 211.7,146.4 M211.7,146.4 209.8,148.8 M190.7,154.3 199.3,156.5 M199.3,156.5 200.3,155.9 M200.3,155.9 200.9,149.7 M193.2,147.5 198.5,146.7 M209.1,157.1 209.8,148.8 M206.6,158.5 200.3,155.9 M214.8,147.1 211.7,146.4 M178.4,191.2 179.2,189.0 M170.5,190.9 171.5,186.2 M179.2,189.0 171.5,186.2 M163.9,174.4 161.6,175.6 M163.9,174.4 172.0,179.1 M161.6,175.6 162.7,178.2 M168.0,185.1 170.4,184.8 M170.4,184.8 172.0,179.1 M177.5,169.8 177.0,165.3 M177.5,169.8 166.0,169.3 M175.9,162.7 169.7,160.8 M169.7,160.8 165.0,167.1 M166.0,169.3 165.0,167.1 M177.7,170.0 175.2,176.7 M163.9,174.4 166.0,169.3 M175.2,176.7 172.0,179.1 M162.6,155.5 163.1,149.0 M162.6,155.5 167.9,158.0 M167.9,158.0 173.8,152.5 M163.4,148.7 163.1,149.0 M163.4,148.7 172.5,150.3 M172.5,150.3 173.8,152.5 M158.8,147.4 163.1,149.0 M160.5,157.4 158.7,156.8 M160.5,157.4 162.6,155.5 M160.5,157.4 158.9,163.4 M158.9,163.4 165.0,167.1 M169.7,160.8 167.9,158.0 M176.0,153.6 173.8,152.5 M172.9,149.2 172.5,150.3 M164.8,145.2 163.4,148.7 M193.2,172.2 184.9,170.0 M193.2,172.2 196.5,165.4 M184.9,170.0 189.0,161.0 M189.0,161.0 196.3,165.0 M196.3,165.0 196.5,165.4 M188.8,160.5 189.0,161.0 M177.7,170.0 182.3,170.9 M182.3,170.9 184.9,170.0 M199.3,156.5 196.3,165.0 M205.1,167.3 196.5,165.4 M161.6,175.6 158.7,175.9 M156.6,174.3 158.7,175.9 M209.0,172.4 207.7,178.9 M193.2,172.2 194.4,175.4 M207.7,178.9 194.4,175.4 M228.2,174.1 229.1,182.4 M228.2,174.1 224.2,172.6 M224.2,172.6 212.5,185.0 M229.1,182.4 213.0,185.7 M213.0,185.7 212.5,185.0 M232.3,185.3 229.1,182.4 M235.0,168.6 228.2,174.1 M233.1,159.6 226.4,157.1 M221.9,170.3 224.2,172.6 M209.2,182.5 208.4,180.9 M209.2,182.5 212.5,185.0 M207.7,178.9 208.4,180.9 M231.5,188.3 225.3,193.0 M213.7,188.2 225.3,193.0 M213.7,188.2 213.0,185.7 M198.2,192.1 209.2,182.5 M198.2,192.1 198.3,194.7 M210.2,194.5 213.4,190.3 M213.7,188.2 213.4,190.3 M158.7,175.9 158.6,176.3 M182.6,183.6 182.2,187.8 M182.6,183.6 186.0,179.8 M182.2,187.8 186.5,190.4 M186.5,190.4 192.5,188.0 M192.5,188.0 193.1,184.8 M193.1,184.8 191.5,179.5 M186.0,179.8 191.5,179.5 M179.2,189.0 182.2,187.8 M171.5,186.2 170.4,184.8 M175.2,176.7 182.6,183.6 M182.3,170.9 186.0,179.8 M186.9,193.9 186.5,190.4 M198.2,192.1 192.5,188.0 M208.4,180.9 193.1,184.8 M194.4,175.4 191.5,179.5 M213.4,190.3 216.3,196.0 M225.3,193.0 225.6,198.2 M220.0,248.2 218.9,247.5 M218.9,247.5 221.4,242.1 M217.6,258.8 212.5,257.0 M212.5,257.0 209.1,260.5 M218.9,247.5 213.9,250.2 M212.5,257.0 213.9,250.2 M185.9,254.8 197.5,252.5 M206.9,260.0 197.5,252.5 M213.9,250.2 207.4,244.2 M197.5,252.5 203.3,243.2 M203.3,243.2 207.4,244.2 M222.2,238.3 221.0,236.2 M207.4,244.2 214.2,235.5 M221.0,236.2 214.2,235.5 M144.4,225.1 142.9,219.4 M144.4,225.1 148.9,227.0 M148.9,227.0 153.5,219.7 M153.5,219.7 146.0,215.8 M142.9,219.4 146.0,215.8 M139.5,218.8 142.9,219.4 M134.4,226.5 137.6,229.9 M137.6,229.9 144.4,225.1 M144.7,210.2 146.3,211.6 M146.3,211.6 146.0,215.8 M183.6,248.8 166.9,248.3 M183.6,248.8 184.4,237.9 M184.4,237.9 169.9,235.1 M169.9,235.1 166.9,248.3 M134.6,240.4 133.9,237.3 M143.4,243.0 145.6,237.5 M145.6,237.5 137.6,233.2 M134.0,236.5 137.6,233.2 M137.6,229.9 137.6,233.2 M222.9,227.9 221.0,236.2 M222.9,227.9 223.9,227.0 M217.3,203.3 229.6,211.1 M217.3,203.3 217.0,202.7 M217.0,202.7 221.2,197.5 M229.6,211.1 231.4,209.8 M231.4,209.8 228.5,199.1 M218.6,215.0 225.3,216.8 M218.6,215.0 217.3,203.3 M225.3,216.8 229.6,211.1 M218.6,215.0 208.6,217.7 M208.6,217.7 209.0,203.2 M209.0,203.2 217.0,202.7 M225.3,216.8 225.9,219.8 M233.8,209.9 231.4,209.8 M205.9,227.3 206.9,222.9 M205.9,227.3 198.6,235.8 M198.6,235.8 186.7,235.2 M197.8,216.9 206.4,220.3 M197.8,216.9 186.6,233.9 M186.6,233.9 186.7,235.2 M206.4,220.3 206.9,222.9 M222.9,227.9 206.9,222.9 M214.2,235.5 205.9,227.3 M203.3,243.2 198.6,235.8 M185.7,254.8 183.6,248.8 M184.4,237.9 186.7,235.2 M208.6,217.7 206.4,220.3 M209.0,203.2 204.2,199.2 M204.2,199.2 194.2,205.2 M191.2,210.1 194.2,205.2 M191.2,210.1 197.8,216.9 M180.7,220.2 186.6,233.9 M180.7,220.2 182.9,211.4 M182.9,211.4 191.2,210.1 M168.5,224.6 180.7,220.2 M168.5,224.6 169.7,234.9 M152.5,190.6 160.3,188.6 M156.1,179.3 160.0,181.5 M160.0,181.5 160.3,188.6 M149.0,198.9 151.2,198.2 M151.2,198.2 150.8,194.6 M151.2,198.2 154.4,200.4 M154.4,200.4 163.9,192.8 M163.9,192.8 160.3,188.6 M204.2,199.2 204.3,194.6 M160.6,235.9 155.9,241.0 M160.6,235.9 157.5,229.0 M155.9,241.0 148.4,236.6 M157.5,229.0 150.1,229.1 M150.1,229.1 148.4,236.6 M165.5,222.4 168.5,224.6 M165.5,222.4 161.6,222.7 M161.6,222.7 157.5,229.0 M169.7,234.9 160.6,235.9 M161.6,222.7 156.4,218.9 M156.4,218.9 153.5,219.7 M148.9,227.0 150.1,229.1 M145.6,237.5 148.4,236.6 M156.0,241.9 165.7,249.1 M156.0,241.9 153.5,246.0 M166.9,248.3 165.7,249.1 M155.9,241.0 156.0,241.9 M146.3,211.6 155.6,208.1 M154.4,200.4 156.3,204.7 M156.3,204.7 155.6,208.1 M156.4,218.9 156.9,210.5 M156.9,210.5 155.6,208.1 M194.2,205.2 189.3,194.1 M160.0,181.5 165.6,180.0 M176.9,191.3 176.0,192.6 M187.4,194.2 179.1,198.2 M179.1,198.2 176.0,192.6 M176.0,192.6 173.0,191.9 M170.4,191.3 170.0,191.2 M163.9,192.8 166.3,193.2 M170.0,191.2 166.3,193.2 M167.5,203.5 165.6,212.8 M167.7,203.4 178.6,205.7 M167.0,214.7 181.3,210.0 M167.0,214.7 165.6,212.8 M181.3,210.0 178.6,205.7 M156.3,204.7 167.5,203.5 M156.9,210.5 165.6,212.8 M166.3,193.2 167.7,203.4 M179.1,198.2 178.6,205.7 M165.5,222.4 167.0,214.7 M182.9,211.4 181.3,210.0 M196.6,402.6 200.1,412.6 M196.2,402.6 186.6,411.0 M223.7,384.6 196.6,402.6 M180.3,391.0 179.1,391.0 M180.3,391.0 196.2,402.6 M177.3,392.8 179.1,391.0 M139.5,246.4 142.8,243.2 M139.5,246.4 134.1,241.3 M139.0,252.1 139.5,246.4 M139.0,252.1 132.0,251.9 M128.0,260.2 127.7,260.9 M127.7,260.9 126.2,262.2 M137.6,281.0 136.5,281.0 M137.6,281.0 140.4,282.6 M136.3,295.9 130.8,286.7 M136.3,295.9 142.2,291.0 M136.5,281.0 130.8,286.7 M140.4,282.6 142.2,291.0 M223.2,379.5 222.4,378.7 M180.3,391.0 187.8,377.8 M187.8,377.8 222.4,378.7 M222.4,378.7 217.0,370.2 M159.5,256.1 156.4,258.3 M159.5,256.1 165.8,260.0 M156.4,258.3 155.9,264.6 M165.8,260.0 165.4,268.5 M155.9,264.6 156.1,265.1 M156.1,265.1 163.3,269.7 M163.3,269.7 165.4,268.5 M127.9,276.0 131.5,275.3 M131.5,275.3 132.3,269.9 M132.3,269.9 125.9,264.0 M125.0,264.8 125.9,264.0 M136.5,281.0 131.5,275.3 M130.8,286.7 126.1,287.2 M137.6,281.0 141.3,273.1 M141.3,273.1 134.0,269.2 M134.0,269.2 132.3,269.9 M126.2,262.2 125.9,264.0 M149.6,274.3 144.3,270.8 M149.6,274.3 150.7,278.1 M140.4,282.6 149.2,280.7 M141.3,273.1 144.3,270.8 M150.7,278.1 149.2,280.7 M142.2,291.0 149.2,293.3 M149.2,280.7 151.3,286.0 M149.2,293.3 151.3,286.0 M149.7,359.9 154.2,346.1 M149.7,359.9 146.4,360.6 M145.9,344.2 154.2,346.1 M145.9,344.2 141.9,349.7 M155.2,372.8 165.5,372.6 M162.4,379.5 165.2,377.4 M165.2,377.4 165.5,372.6 M167.0,364.9 166.6,364.5 M167.0,364.9 165.5,372.6 M166.6,364.5 149.7,359.9 M179.1,391.0 165.2,377.4 M181.6,254.0 182.3,254.4 M147.1,264.0 143.7,266.1 M147.1,264.0 146.5,253.9 M143.7,266.1 139.4,263.8 M139.4,263.8 138.4,261.0 M138.4,261.0 140.3,253.4 M140.3,253.4 146.5,253.9 M149.6,274.3 156.1,265.1 M155.9,264.6 147.1,264.0 M144.3,270.8 143.7,266.1 M148.9,253.0 156.4,258.3 M148.9,253.0 146.5,253.9 M134.0,269.2 139.4,263.8 M127.7,260.9 138.4,261.0 M139.0,252.1 140.3,253.4 M149.3,245.1 150.9,247.9 M148.9,253.0 150.9,247.9 M139.2,328.4 142.3,323.7 M142.3,323.7 141.5,322.2 M141.5,322.2 133.8,318.8 M150.7,278.1 158.5,278.0 M160.6,286.8 151.3,286.0 M160.6,286.8 161.2,286.0 M161.2,286.0 158.5,278.0 M163.3,269.7 162.9,273.0 M162.9,273.0 158.5,278.0 M172.8,289.3 173.2,289.4 M172.8,289.3 170.0,284.5 M170.0,284.5 170.7,281.6 M172.1,280.4 175.6,280.1 M172.1,280.4 170.7,281.6 M160.6,286.8 159.9,295.9 M167.2,297.8 159.9,295.9 M167.2,297.8 172.8,289.3 M161.2,286.0 170.0,284.5 M162.9,273.0 170.7,281.6 M174.4,271.2 177.6,272.4 M174.4,271.2 172.1,280.4 M174.4,271.2 172.1,267.7 M172.1,267.7 165.4,268.5 M155.9,305.7 157.6,297.0 M155.9,305.7 145.6,301.5 M157.6,297.0 149.9,294.4 M145.6,301.5 149.9,294.4 M149.2,293.3 149.9,294.4 M159.9,295.9 157.6,297.0 M136.3,295.9 135.4,299.2 M135.4,299.2 142.9,303.3 M142.9,303.3 145.6,301.5 M142.9,303.3 144.1,311.0 M144.1,311.0 144.5,311.4 M144.5,311.4 148.2,312.4 M155.9,305.7 156.0,306.2 M156.0,306.2 148.2,312.4 M144.5,311.4 141.5,322.2 M152.5,321.7 148.7,324.6 M152.5,321.7 152.3,318.9 M148.7,324.6 142.3,323.7 M148.2,312.4 152.3,318.9 M175.2,308.7 175.4,309.1 M167.2,297.8 168.8,300.6 M170.7,301.3 168.8,300.6 M145.0,341.1 149.2,334.5 M145.0,341.1 138.7,339.4 M138.4,332.4 138.7,339.4 M138.4,332.4 148.6,333.6 M148.6,333.6 149.2,334.5 M137.4,331.1 138.4,332.4 M148.7,324.6 148.6,333.6 M145.9,344.2 145.0,341.1 M138.7,339.4 137.8,340.4 M164.6,249.5 163.2,249.6 M163.2,249.6 162.3,248.8 M150.9,247.9 155.1,246.8 M159.5,256.1 163.2,249.6 M174.1,264.7 169.5,257.4 M174.1,264.7 174.7,264.4 M174.7,264.4 178.7,253.2 M178.4,253.2 170.3,253.1 M170.3,253.1 169.5,257.4 M172.1,267.7 174.1,264.7 M165.8,260.0 169.5,257.4 M179.7,264.5 174.7,264.4 M167.1,250.1 170.3,253.1 M135.4,299.2 134.0,299.9 M134.0,299.9 129.6,298.7 M144.1,311.0 137.9,312.4 M134.0,299.9 132.3,305.5 M132.3,305.5 134.9,310.2 M136.0,313.1 133.9,315.9 M185.4,324.5 181.9,324.3 M189.8,331.1 188.0,334.5 M186.7,335.0 188.0,334.5 M186.7,335.0 179.4,327.7 M179.4,327.7 181.9,324.3 M175.8,338.8 177.9,328.2 M175.8,338.8 184.2,338.5 M184.2,338.5 186.7,335.0 M179.4,327.7 177.9,328.2 M181.2,318.0 180.8,318.6 M181.9,324.3 180.8,318.6 M174.5,310.1 164.9,308.0 M174.5,310.1 170.8,317.5 M170.8,317.5 169.9,318.1 M169.9,318.1 166.5,317.3 M166.5,317.3 162.5,311.6 M164.9,308.0 162.3,310.8 M162.5,311.6 162.3,310.8 M168.8,300.6 164.9,308.0 M175.4,309.1 174.5,310.1 M180.8,318.6 170.8,317.5 M177.9,328.2 172.1,326.5 M172.1,326.5 169.9,318.1 M159.2,325.2 159.8,327.1 M159.2,325.2 166.5,317.3 M172.1,326.5 170.2,328.2 M159.8,327.1 170.2,328.2 M152.5,321.7 159.2,325.2 M152.3,318.9 162.5,311.6 M156.0,306.2 162.3,310.8 M132.3,305.5 130.5,306.5 M188.0,334.5 193.4,337.8 M193.4,337.8 194.0,337.5 M216.8,369.9 198.3,358.4 M198.3,358.4 200.9,347.5 M193.4,337.8 193.5,342.3 M193.5,342.3 199.2,345.1 M156.4,336.7 155.1,345.4 M156.4,336.7 158.8,335.2 M158.8,335.2 167.8,338.2 M162.4,348.5 155.1,345.4 M162.4,348.5 170.1,340.7 M170.1,340.7 167.8,338.2 M154.2,346.1 155.1,345.4 M149.2,334.5 156.4,336.7 M159.8,327.1 158.8,335.2 M170.2,328.2 167.8,338.2 M166.6,364.5 162.4,348.5 M172.3,341.4 175.8,338.8 M172.3,341.4 170.1,340.7 M185.2,341.2 190.9,344.2 M185.2,341.2 179.4,357.1 M190.9,344.2 188.5,358.6 M188.5,358.6 181.9,360.6 M181.9,360.6 180.0,360.1 M180.0,360.1 179.4,357.1 M184.2,338.5 185.2,341.2 M193.5,342.3 190.9,344.2 M172.3,341.4 179.4,357.1 M198.3,358.4 188.5,358.6 M187.8,377.8 181.9,360.6 M167.0,364.9 180.0,360.1 M210.8,344.6 204.8,352.6 M210.8,344.6 234.7,359.8 M224.3,368.7 214.0,365.5 M240.9,326.7 237.2,324.4 M237.2,324.4 212.1,331.1 M212.1,331.1 210.8,344.6 M212.1,331.1 197.3,320.1 M197.3,320.1 185.6,324.2 M197.3,320.1 200.2,306.8 M200.2,306.8 178.8,291.7 M178.8,291.7 172.1,295.1 M178.8,291.7 180.8,287.2 M176.9,276.2 178.0,276.4 M178.0,276.4 180.8,287.2 M249.3,282.8 243.9,282.6 M246.5,297.4 242.7,297.0 M243.9,282.6 240.2,290.4 M242.7,297.0 240.2,290.4 M240.3,267.5 243.9,282.6 M237.2,324.4 235.8,316.9 M235.8,316.9 242.7,297.0 M224.2,264.1 221.1,269.0 M240.2,290.4 228.7,289.4 M221.1,269.0 228.7,289.4 M235.8,316.9 217.3,298.3 M228.7,289.4 217.3,298.3 M200.2,306.8 201.3,305.5 M201.3,305.5 216.9,298.3 M217.3,298.3 216.9,298.3 M197.6,272.8 195.9,281.5 M197.6,272.8 216.1,272.5 M216.1,272.5 212.8,284.3 M212.8,284.3 198.9,286.1 M198.9,286.1 195.9,281.5 M221.1,269.0 216.1,272.5 M216.9,298.3 212.8,284.3 M201.3,305.5 198.9,286.1 M180.8,287.2 195.9,281.5 M197.6,272.8 194.0,267.5 M194.0,267.5 199.2,258.4 M183.3,267.4 189.2,266.5 M183.3,267.4 180.0,264.5 M189.2,266.5 187.2,255.5 M178.0,276.4 183.3,267.4 M194.0,267.5 189.2,266.5 M251.7,225.1 260.6,226.7 M251.7,225.1 250.8,228.6 M250.8,228.6 255.2,237.5 M255.2,237.5 261.2,231.8 M261.2,231.8 260.6,226.7 M250.1,222.4 253.6,216.2 M250.1,222.4 240.9,220.6 M253.6,216.2 249.4,207.4 M249.4,207.4 238.1,214.4 M240.9,220.6 237.4,217.3 M238.1,214.4 237.4,217.3 M264.6,214.3 253.6,216.2 M266.9,221.2 260.6,226.7 M251.7,225.1 250.1,222.4 M265.6,236.3 275.9,235.4 M265.6,236.3 264.7,234.4 M264.7,234.4 269.6,230.3 M275.9,235.4 275.5,234.2 M261.2,231.8 264.7,234.4 M250.6,154.2 250.3,155.0 M250.3,155.0 251.5,155.6 M239.8,173.9 236.9,173.9 M239.8,173.9 243.7,164.4 M239.6,161.8 242.3,161.6 M243.7,164.4 242.3,161.6 M244.2,154.3 241.6,153.0 M244.2,154.3 244.2,152.8 M245.4,156.0 242.3,161.6 M245.4,156.0 244.2,154.3 M245.4,156.0 250.3,155.0 M254.4,240.5 250.6,240.7 M254.4,240.5 255.2,237.5 M250.8,228.6 245.2,233.4 M245.2,233.4 250.6,240.7 M235.7,207.9 238.1,214.4 M237.4,217.3 231.6,219.4 M228.5,217.5 231.6,219.4 M225.0,264.0 219.4,258.1 M219.4,258.1 218.0,258.6 M288.2,268.0 286.7,270.0 M286.7,270.0 287.2,273.8 M239.8,173.9 242.4,176.2 M242.4,176.2 249.0,173.6 M243.7,164.4 248.9,167.6 M233.9,203.0 235.8,200.3 M233.1,190.6 234.2,190.8 M235.8,200.3 234.2,190.8 M240.9,220.6 239.9,231.5 M245.2,233.4 240.9,233.3 M239.9,231.5 240.9,233.3 M231.6,219.4 227.8,227.6 M225.1,227.6 227.8,227.6 M239.9,231.5 229.0,230.2 M227.8,227.6 229.0,230.2 M275.9,235.4 277.3,237.1 M277.3,237.1 281.4,237.5 M281.4,237.5 285.2,235.1 M285.2,235.1 285.7,234.1 M281.4,237.5 284.2,246.3 M285.2,235.1 292.4,240.8 M291.3,247.9 284.2,246.3 M289.2,261.1 288.8,259.4 M288.8,259.4 289.6,258.6 M286.7,270.0 281.9,269.4 M281.9,269.4 279.0,274.3 M277.3,237.1 273.2,243.0 M284.2,246.3 280.5,250.1 M280.5,250.1 274.1,248.3 M273.2,243.0 274.1,248.3 M265.6,236.3 264.7,242.1 M273.2,243.0 264.7,242.1 M256.8,243.1 254.4,240.5 M256.8,243.1 261.4,244.6 M261.4,244.6 264.7,242.1 M242.4,176.2 243.1,181.1 M249.2,174.5 249.8,183.3 M243.1,181.1 249.8,183.3 M234.8,183.0 237.2,187.0 M243.1,181.1 237.2,187.0 M234.2,190.8 237.2,187.5 M237.2,187.0 237.2,187.5 M250.6,240.7 244.6,244.6 M240.9,233.3 238.7,239.0 M238.7,239.0 244.6,244.6 M222.8,237.1 228.5,237.4 M228.5,237.4 229.0,230.2 M238.4,263.1 246.6,268.5 M238.4,263.1 237.5,263.1 M237.5,263.1 234.9,266.1 M274.1,248.3 268.9,254.0 M261.4,244.6 264.8,254.5 M268.9,254.0 264.8,254.5 M237.2,187.5 244.8,191.0 M249.8,183.3 251.6,184.6 M244.8,191.0 251.6,184.6 M254.5,185.0 251.6,184.6 M228.9,238.1 233.5,240.7 M228.9,238.1 221.6,248.7 M233.5,240.7 233.4,251.6 M233.4,251.6 222.7,252.0 M221.6,248.7 222.7,252.0 M228.5,237.4 228.9,238.1 M238.7,239.0 233.5,240.7 M220.4,247.7 221.6,248.7 M244.1,248.4 244.6,244.6 M244.1,248.4 234.9,252.6 M234.9,252.6 233.4,251.6 M237.5,263.1 234.9,252.6 M219.4,258.1 222.7,252.0 M279.8,267.7 274.0,266.4 M279.8,267.7 284.4,258.5 M274.0,266.4 275.7,259.4 M275.7,259.4 281.9,257.3 M284.4,258.5 281.9,257.3 M281.9,269.4 279.8,267.7 M270.3,272.8 271.4,268.4 M271.4,268.4 274.0,266.4 M288.8,259.4 284.4,258.5 M280.5,250.1 281.9,257.3 M268.9,254.0 275.7,259.4 M243.8,199.8 245.0,191.6 M243.8,199.8 250.7,203.5 M245.0,191.6 254.5,195.5 M250.7,203.5 253.9,201.9 M253.9,201.9 255.1,198.0 M255.1,198.0 254.5,195.5 M235.8,200.3 243.8,199.8 M244.8,191.0 245.0,191.6 M249.4,207.4 250.7,203.5 M255.4,186.6 254.5,195.5 M259.6,205.2 253.9,201.9 M262.5,195.6 255.1,198.0 M262.8,260.7 263.3,256.3 M262.8,260.7 262.4,261.1 M262.4,261.1 253.2,265.2 M263.3,256.3 250.8,254.3 M253.2,265.2 248.9,257.8 M248.9,257.8 250.2,254.5 M250.8,254.3 250.2,254.5 M271.4,268.4 262.8,260.7 M264.8,254.5 263.3,256.3 M260.9,271.2 262.4,261.1 M252.3,269.6 253.2,265.2 M256.8,243.1 250.8,254.3 M238.4,263.1 248.9,257.8 M244.1,248.4 250.2,254.5 M373.0,184.8 377.6,185.7 M373.0,184.8 370.4,193.1 M376.6,199.8 373.3,200.6 M370.4,193.1 373.3,200.6 M250.3,178.1 250.9,178.2 M250.8,165.6 249.7,165.7 M250.8,165.6 252.4,167.1 M250.9,178.2 252.4,167.1 M250.8,165.6 251.1,158.7 M351.9,196.0 351.6,198.3 M351.9,196.0 339.8,189.2 M351.6,198.3 341.2,205.1 M341.2,205.1 334.6,200.9 M334.6,200.9 338.3,190.0 M339.8,189.2 338.3,190.0 M311.1,173.1 314.6,169.8 M311.1,173.1 310.8,174.4 M314.6,169.8 327.7,178.9 M310.8,174.4 321.2,191.0 M321.2,191.0 326.4,184.9 M326.4,184.9 327.7,178.9 M339.8,189.2 342.8,180.5 M338.3,190.0 326.4,184.9 M327.7,178.9 334.9,174.2 M334.9,174.2 342.8,180.5 M355.4,190.9 351.9,196.0 M355.4,190.9 353.9,179.2 M342.8,180.5 353.9,179.2 M370.4,193.1 355.4,190.9 M373.3,200.6 372.4,203.2 M351.6,198.3 357.5,204.8 M357.5,204.8 372.4,203.2 M341.8,210.4 344.8,214.2 M341.8,210.4 341.2,205.1 M344.8,214.2 355.5,215.1 M357.5,204.8 355.5,215.1 M376.0,207.3 372.7,204.6 M372.4,203.2 372.7,204.6 M372.7,204.6 369.3,213.5 M355.5,215.1 356.2,216.1 M356.2,216.1 365.0,217.4 M365.0,217.4 369.3,213.5 M267.8,225.9 275.3,229.9 M274.9,234.0 275.3,229.9 M261.3,156.4 264.3,162.8 M275.1,159.1 264.3,162.8 M311.1,173.1 295.4,169.0 M314.6,169.8 314.7,169.3 M314.7,169.3 313.8,165.5 M295.4,169.0 295.7,162.7 M304.1,184.9 310.8,174.4 M304.1,184.9 294.0,183.8 M295.4,169.0 292.4,172.6 M294.0,183.8 292.4,172.6 M292.0,194.2 282.4,198.2 M292.0,194.2 292.5,185.3 M282.4,198.2 279.0,195.3 M279.0,195.3 282.8,185.1 M292.5,185.3 282.8,185.1 M304.1,184.9 304.6,185.7 M304.6,185.7 303.0,197.8 M292.0,194.2 293.2,195.7 M294.0,183.8 292.5,185.3 M303.0,197.8 293.2,195.7 M334.6,200.9 326.6,201.4 M321.2,191.0 320.3,193.1 M326.6,201.4 320.3,193.1 M341.8,210.4 328.2,218.3 M328.2,218.3 324.5,207.3 M326.6,201.4 324.5,207.3 M304.6,185.7 318.9,193.4 M320.3,193.1 318.9,193.4 M363.1,171.4 362.9,175.3 M376.4,172.6 375.9,175.2 M362.9,175.3 371.6,178.9 M371.6,178.9 375.9,175.2 M350.5,170.2 354.4,178.6 M354.4,178.6 362.9,175.3 M378.4,175.5 375.9,175.2 M373.0,184.8 371.6,178.9 M353.9,179.2 354.4,178.6 M337.4,168.7 335.4,170.5 M335.4,170.5 332.9,168.1 M334.9,174.2 335.4,170.5 M314.7,169.3 321.3,166.6 M342.6,223.2 344.8,214.2 M342.6,223.2 345.5,227.6 M356.2,216.1 354.0,228.1 M354.0,228.1 345.5,227.6 M329.6,223.7 342.6,223.2 M329.6,223.7 331.3,232.8 M337.1,233.6 342.5,232.9 M345.5,227.6 342.5,232.9 M342.5,232.9 343.0,234.3 M368.4,229.0 374.1,232.5 M368.4,229.0 355.8,230.1 M374.0,232.9 369.6,236.8 M355.8,230.1 355.4,234.4 M355.8,235.6 355.4,234.4 M365.0,217.4 368.4,229.0 M354.0,228.1 355.8,230.1 M353.5,235.3 355.4,234.4 M369.3,213.5 375.1,219.1 M266.1,218.0 266.5,215.5 M266.5,215.5 265.2,215.1 M259.7,213.8 259.2,213.6 M258.3,212.9 257.3,211.8 M251.0,178.5 251.0,180.0 M282.4,198.2 282.6,205.1 M293.2,195.7 293.1,204.3 M293.1,204.3 286.6,207.3 M286.6,207.3 282.6,205.1 M276.8,228.2 284.2,226.4 M276.8,228.2 275.4,216.6 M284.2,226.4 286.6,218.4 M286.6,218.4 277.3,215.9 M275.4,216.6 277.3,215.9 M286.3,233.9 288.8,230.8 M275.3,229.9 276.8,228.2 M288.8,230.8 284.2,226.4 M268.0,214.4 266.5,215.5 M268.0,214.4 275.4,216.6 M289.0,216.9 286.6,218.4 M289.0,216.9 286.6,207.3 M281.1,206.0 282.6,205.1 M281.1,206.0 277.3,215.9 M268.0,214.4 269.4,205.4 M269.4,205.4 281.1,206.0 M269.3,179.8 271.5,174.3 M269.3,179.8 263.9,180.4 M271.5,174.3 263.0,165.9 M263.9,180.4 260.0,177.7 M260.0,177.7 260.3,167.3 M260.3,167.3 263.0,165.9 M251.0,178.5 260.0,177.7 M257.1,189.4 258.1,189.8 M258.1,189.8 263.9,180.4 M252.4,167.1 260.3,167.3 M264.3,162.8 263.0,165.9 M272.2,173.9 275.2,159.3 M272.2,173.9 280.8,173.0 M280.8,173.0 283.1,171.2 M283.1,171.2 280.6,162.0 M275.2,159.3 280.6,162.0 M271.5,174.3 272.2,173.9 M271.7,183.6 281.8,184.4 M271.7,183.6 269.3,179.8 M281.8,184.4 280.8,173.0 M292.4,172.6 283.1,171.2 M282.8,185.1 281.8,184.4 M283.4,160.6 280.6,162.0 M303.7,198.7 303.4,210.1 M303.7,198.7 315.6,196.0 M315.6,196.0 309.2,212.0 M303.4,210.1 304.3,212.0 M304.3,212.0 307.7,213.1 M309.2,212.0 307.7,213.1 M303.0,197.8 303.7,198.7 M293.1,204.3 303.4,210.1 M318.9,193.4 315.6,196.0 M324.5,207.3 309.2,212.0 M289.0,216.9 295.7,217.9 M295.7,217.9 304.3,212.0 M269.0,204.6 260.1,202.9 M269.0,204.6 271.0,194.9 M270.1,193.7 271.0,194.9 M270.1,193.7 259.5,192.3 M259.5,192.3 259.0,193.5 M269.4,205.4 269.0,204.6 M279.0,195.3 271.0,194.9 M271.7,183.6 270.1,193.7 M258.1,189.8 259.5,192.3 M328.2,218.3 327.6,221.3 M307.7,213.1 311.0,219.7 M311.0,219.7 327.6,221.3 M329.6,223.7 327.8,221.7 M327.8,221.7 327.6,221.3 M327.8,221.7 318.3,231.3 M309.6,228.5 303.6,229.2 M309.7,228.7 309.3,230.1 M311.0,219.7 309.6,228.5 M312.7,230.5 309.7,228.7 M295.7,217.9 296.7,228.2 M288.8,230.8 293.8,231.7 M358.4,260.8 349.3,271.9 M358.4,260.8 369.5,266.3 M349.3,271.9 351.7,277.0 M351.7,277.0 370.5,274.7 M369.5,266.3 370.5,274.7 M349.3,271.9 339.1,266.6 M339.1,266.6 333.4,273.3 M351.7,277.0 348.0,289.2 M333.4,273.3 340.9,288.9 M348.0,289.2 340.9,288.9 M373.0,245.7 371.9,245.7 M371.9,245.7 369.6,237.1 M352.8,293.9 348.0,289.2 M352.8,293.9 364.1,292.4 M370.5,277.1 364.1,292.4 M369.5,266.3 371.6,263.5 M371.6,263.3 371.0,246.6 M371.0,246.6 371.9,245.7 M368.1,301.2 368.7,296.3 M352.0,299.8 352.8,293.9 M364.1,292.4 368.7,296.3 M328.5,240.5 327.3,239.2 M328.5,240.5 342.6,238.7 M342.6,238.7 342.5,234.5 M327.6,232.8 327.3,239.2 M328.5,240.5 328.9,253.9 M311.6,253.9 321.6,257.2 M311.6,253.9 311.5,239.7 M321.6,257.2 328.9,253.9 M327.3,239.2 311.5,239.7 M295.4,237.2 297.7,235.8 M295.4,237.2 293.3,237.0 M297.7,235.8 298.5,228.8 M287.0,277.3 291.6,275.4 M291.6,275.4 295.4,286.2 M291.7,292.5 295.4,286.2 M288.7,266.6 291.7,267.2 M291.6,275.4 293.0,272.8 M291.7,267.2 293.0,272.8 M290.4,255.3 294.8,256.8 M291.7,267.2 294.8,256.8 M295.4,237.2 295.2,256.4 M311.6,253.9 307.5,256.6 M297.7,235.8 311.4,239.5 M307.5,256.6 295.2,256.4 M295.2,256.4 294.8,256.8 M356.6,257.4 343.7,254.6 M356.6,257.4 360.6,248.3 M360.6,248.3 353.8,240.3 M343.7,254.6 346.0,241.7 M346.0,241.7 353.8,240.3 M358.4,260.8 356.6,257.4 M338.4,258.5 343.7,254.6 M338.4,258.5 339.1,266.6 M371.0,246.6 360.6,248.3 M356.5,235.9 353.8,240.3 M338.4,258.5 328.9,253.9 M342.6,238.7 346.0,241.7 M336.7,291.4 340.9,288.9 M336.7,291.4 333.3,297.9 M311.4,239.5 313.7,231.0 M295.4,286.2 304.8,287.7 M305.7,294.5 304.8,287.7 M307.8,284.8 319.6,285.2 M307.8,284.8 305.0,273.8 M309.2,270.7 305.0,273.8 M309.2,270.7 321.0,273.0 M321.0,273.0 322.5,274.9 M322.5,274.9 320.4,284.3 M320.4,284.3 319.6,285.2 M318.4,296.2 319.6,285.2 M304.8,287.7 307.8,284.8 M293.0,272.8 305.0,273.8 M307.5,256.6 309.2,270.7 M321.6,257.2 321.0,273.0 M333.4,273.3 322.5,274.9 M336.7,291.4 320.4,284.3 M257.4,349.0 259.1,337.5 M257.4,349.0 260.4,352.5 M280.8,338.1 263.1,353.0 M280.6,337.8 259.1,337.5 M286.2,317.2 276.9,326.5 M286.2,317.2 286.4,308.7 M274.8,308.1 286.4,308.7 M274.8,308.1 276.0,325.9 M276.0,325.9 276.9,326.5 M301.5,347.3 294.9,351.8 M294.9,351.8 296.1,355.2 M296.1,355.2 300.4,355.9 M296.0,357.9 296.1,355.2 M296.5,319.3 292.7,332.9 M296.5,319.3 301.3,317.5 M301.3,317.5 304.9,322.1 M292.7,332.9 303.4,333.0 M281.0,338.2 292.7,332.9 M280.6,337.8 276.9,326.5 M286.2,317.2 296.5,319.3 M303.8,307.6 301.3,317.5 M286.6,308.4 303.7,307.5 M303.8,307.6 306.9,307.1 M281.0,338.2 285.7,346.1 M285.7,346.1 294.9,351.8 M259.1,337.5 254.3,330.4 M276.0,325.9 264.6,321.9 M254.3,330.4 264.6,321.9 M285.7,346.1 280.6,355.7 M257.4,349.0 247.5,346.6 M247.5,346.6 243.6,349.5 M246.2,337.7 239.4,336.5 M246.2,337.7 252.4,330.4 M252.4,330.4 242.5,320.2 M247.5,346.6 246.2,337.7 M254.3,330.4 252.4,330.4 M243.1,317.1 251.2,313.0 M264.6,321.9 261.4,314.5 M261.4,314.5 251.2,313.0 M246.3,299.9 250.9,299.8 M251.2,313.0 250.9,299.8 M286.6,308.4 286.0,299.1 M303.7,307.5 297.0,293.6 M286.0,299.1 291.7,292.8 M274.8,308.1 273.2,306.5 M286.0,299.1 279.0,298.3 M279.0,298.3 273.2,306.5 M261.4,314.5 265.1,305.2 M273.2,306.5 265.1,305.2 M250.9,299.8 252.4,298.8 M265.1,305.2 264.9,304.6 M252.4,298.8 264.9,304.6 M248.1,290.8 253.9,291.9 M252.4,298.8 253.9,291.9 M274.9,294.0 268.0,293.4 M274.9,294.0 281.1,284.8 M269.9,281.1 269.6,282.1 M269.9,281.1 281.1,284.7 M267.4,292.3 268.0,293.4 M279.0,298.3 274.9,294.0 M264.9,304.6 268.0,293.4 M285.4,285.8 281.1,284.8 M253.9,291.9 255.6,289.2 M255.6,289.2 266.2,291.2 M280.7,274.9 281.1,284.7 M252.0,269.9 253.6,270.1 M253.6,270.1 256.3,279.8 M249.6,282.6 254.3,283.4 M254.3,283.4 256.3,279.8 M255.6,289.2 254.3,283.4 M268.4,277.7 265.3,278.3 M264.0,278.5 256.3,279.8 M268.4,277.7 269.9,281.1 M268.4,277.7 269.0,275.8 M264.7,272.1 269.0,275.8 M271.1,273.3 269.0,275.8 M320.9,349.7 316.5,344.1 M320.9,349.7 312.7,355.9 M316.5,344.1 307.7,346.4 M307.2,347.0 307.7,346.4 M307.2,347.0 310.5,355.0 M312.7,355.9 310.5,355.0 M316.5,344.1 316.0,338.6 M307.7,346.4 308.1,337.6 M316.0,338.6 308.1,337.6 M303.3,336.0 305.7,335.6 M301.9,346.8 307.2,347.0 M305.7,335.6 308.1,337.6 M307.7,302.9 308.2,300.3 M321.4,349.8 322.6,351.7 M321.4,349.8 320.9,349.7 M312.7,355.9 313.5,360.1 M322.6,351.7 323.2,361.3 M307.6,304.5 307.5,304.9 M305.7,318.1 309.4,321.6 M304.8,325.2 308.0,325.1 M309.4,321.6 308.0,325.1 M305.7,335.6 309.1,328.0 M309.1,328.0 308.0,325.1 M314.5,311.4 315.4,317.7 M314.5,311.4 326.7,305.7 M325.0,318.9 329.1,312.1 M325.0,318.9 318.5,319.3 M318.5,319.3 315.4,317.7 M326.7,305.7 329.1,312.1 M307.6,304.5 314.5,311.4 M309.4,321.6 315.4,317.7 M320.5,296.7 325.8,298.2 M326.6,297.4 325.8,298.2 M320.5,296.7 309.9,297.3 M309.9,297.3 308.2,300.3 M326.7,305.7 326.9,304.3 M326.9,304.3 325.8,298.2 M305.6,356.4 304.0,359.0 M305.6,356.4 301.0,353.1 M310.5,355.0 305.6,356.4 M392.6,307.4 383.4,312.2 M382.9,302.5 383.4,312.2 M390.1,351.8 380.1,357.6 M389.5,362.7 379.9,363.7 M380.1,357.6 378.6,362.1 M378.6,362.1 379.8,363.7 M390.8,340.4 377.6,339.2 M376.5,349.4 377.6,339.2 M376.5,349.4 380.1,357.6 M382.0,366.5 379.9,363.7 M378.9,366.3 379.8,363.7 M308.8,295.3 309.5,295.8 M309.5,295.8 309.6,295.3 M309.9,297.3 309.5,295.8 M351.8,331.0 356.6,322.9 M351.8,331.0 353.0,333.1 M353.0,333.1 360.4,334.8 M360.5,334.7 360.8,322.9 M356.6,322.9 360.8,322.9 M344.6,328.4 344.9,324.1 M344.6,328.4 351.8,331.0 M344.9,324.1 347.1,321.0 M347.1,321.0 355.3,321.8 M356.6,322.9 355.3,321.8 M336.9,314.3 329.1,312.1 M336.9,314.3 338.5,313.3 M326.9,304.3 336.5,304.8 M338.5,313.3 336.5,304.8 M339.1,298.8 338.7,303.3 M336.5,304.8 338.7,303.3 M388.8,318.2 390.5,328.3 M388.8,318.2 383.0,312.6 M382.9,312.7 381.5,326.9 M390.5,328.3 381.5,326.9 M391.4,329.2 390.5,328.3 M392.0,318.5 388.8,318.2 M383.4,312.2 383.0,312.6 M375.6,331.8 381.5,326.9 M375.6,331.8 377.0,338.6 M377.6,339.2 377.0,338.6 M341.5,359.0 333.5,357.3 M341.5,359.0 342.4,363.4 M331.5,362.3 333.1,357.7 M333.1,357.7 333.5,357.3 M336.3,348.9 339.8,348.6 M336.3,348.9 333.5,357.3 M339.8,348.6 343.2,357.2 M343.2,357.2 341.5,359.0 M322.6,351.7 333.1,357.7 M321.4,349.8 324.5,347.5 M324.5,347.5 335.0,347.7 M335.0,347.7 336.3,348.9 M376.5,349.4 368.9,350.6 M377.0,338.6 366.5,341.4 M366.5,341.4 368.9,350.6 M378.6,362.1 370.3,363.0 M370.3,363.0 367.0,352.6 M368.9,350.6 367.0,352.6 M370.3,363.0 366.3,365.4 M335.9,330.0 336.3,320.4 M335.7,330.1 328.2,327.1 M336.3,320.4 327.6,322.9 M327.6,322.9 328.2,327.1 M343.6,339.3 333.7,338.7 M343.6,339.3 342.5,329.9 M342.5,329.9 335.9,330.0 M333.7,338.7 333.2,338.2 M333.2,338.2 335.7,330.1 M344.6,328.4 342.5,329.9 M344.9,324.1 337.0,319.4 M337.0,319.4 336.3,320.4 M336.9,314.3 337.0,319.4 M325.0,318.9 327.6,322.9 M325.6,329.6 327.5,338.3 M325.6,329.6 318.7,330.4 M317.4,336.7 317.7,331.4 M317.4,336.7 326.8,338.7 M326.8,338.7 327.5,338.3 M318.7,330.4 317.7,331.4 M333.2,338.2 327.5,338.3 M328.2,327.1 325.6,329.6 M318.5,319.3 318.7,330.4 M316.0,338.6 317.4,336.7 M309.1,328.0 317.7,331.4 M324.5,347.5 326.8,338.7 M335.0,347.7 333.7,338.7 M382.9,312.7 380.8,312.7 M371.8,301.8 370.6,303.3 M380.8,312.7 370.6,303.3 M365.0,301.2 365.7,303.3 M370.6,303.3 365.7,303.3 M355.1,305.5 354.0,300.3 M355.1,305.5 363.1,306.1 M363.1,306.1 365.7,303.3 M350.8,312.1 346.3,313.7 M350.8,312.1 353.9,306.2 M353.9,306.2 346.5,302.9 M346.3,313.7 343.2,312.1 M343.2,312.1 343.4,306.6 M346.5,302.9 343.4,306.6 M347.1,321.0 346.3,313.7 M355.3,321.8 354.2,314.8 M354.2,314.8 350.8,312.1 M355.1,305.5 353.9,306.2 M354.2,314.8 363.4,313.1 M363.4,313.1 363.1,306.1 M346.0,299.5 346.5,302.9 M338.5,313.3 343.2,312.1 M338.7,303.3 343.4,306.6 M366.5,341.4 363.3,341.1 M367.0,352.6 359.8,350.8 M359.8,350.8 363.3,341.1 M374.5,316.8 364.7,316.0 M374.5,316.8 372.5,328.9 M371.0,328.6 372.5,328.9 M371.0,328.6 362.2,322.2 M362.2,322.2 364.7,316.0 M380.8,312.7 374.5,316.8 M363.4,313.1 364.7,316.0 M375.6,331.8 372.5,328.9 M360.5,334.7 371.0,328.6 M360.4,334.8 362.3,340.1 M362.3,340.1 363.3,341.1 M360.8,322.9 362.2,322.2 M349.5,356.7 357.2,357.2 M349.5,356.7 348.1,363.9 M357.2,357.2 360.9,365.0 M343.2,357.2 349.0,356.2 M349.0,356.2 349.5,356.7 M359.8,350.8 359.3,351.1 M359.3,351.1 357.2,357.2 M353.6,347.8 348.2,350.8 M353.6,347.8 352.5,342.8 M345.2,341.3 343.0,347.0 M345.2,341.3 349.5,340.5 M343.0,347.0 348.2,350.8 M349.5,340.5 352.5,342.8 M349.0,356.2 348.2,350.8 M359.3,351.1 353.6,347.8 M362.3,340.1 352.5,342.8 M343.6,339.3 345.2,341.3 M339.8,348.6 343.0,347.0 M353.0,333.1 349.5,340.5 M223.8,377.9 228.1,377.9 M234.9,360.8 228.1,377.9 M242.7,349.7 242.0,358.2 M258.9,352.5 255.6,366.7 M242.0,358.2 255.6,366.7 M234.9,360.8 242.0,358.2 M270.9,368.4 256.1,367.5 M270.9,368.4 271.9,390.7 M256.1,367.5 249.2,381.7 M269.1,392.7 271.9,390.7 M269.1,392.7 253.3,387.1 M253.3,387.1 249.2,381.7 M276.3,355.4 275.5,365.9 M275.5,365.9 270.9,368.4 M255.6,366.7 256.1,367.5 M228.1,377.9 236.4,384.5 M236.4,384.5 249.2,381.7 M250.3,403.7 234.0,398.3 M250.3,403.7 253.3,387.1 M234.0,398.3 236.4,384.5 M295.8,370.0 298.5,369.7 M295.8,370.0 296.4,358.3 M275.5,365.9 293.6,371.7 M293.6,371.7 295.8,370.0 M250.3,403.7 252.7,407.4 M269.1,392.7 266.4,405.1 M266.4,405.1 252.7,407.4 M287.5,408.8 293.3,408.9 M287.5,408.8 286.9,392.2 M286.9,392.2 293.6,386.4 M293.6,386.4 296.1,387.7 M271.9,390.7 286.9,392.2 M293.6,371.7 293.6,386.4 M284.4,431.0 287.7,428.4 M284.4,431.0 271.5,431.4 M287.7,428.4 286.6,409.9 M271.5,431.4 267.5,426.9 M267.5,426.9 270.3,410.0 M286.6,409.9 270.3,410.0 M288.2,447.3 284.4,431.0 M290.7,428.5 287.7,428.4 M266.1,445.5 266.2,445.9 M266.1,445.5 271.5,431.4 M287.5,408.8 286.6,409.9 M246.4,437.2 250.1,424.4 M250.1,424.4 267.5,426.9 M266.1,445.5 263.9,445.5 M266.4,405.1 270.3,410.0 M252.7,407.4 247.5,420.5 M247.5,420.5 250.1,424.4 M219.6,421.5 224.3,421.5 M228.9,403.9 228.9,417.1 M228.9,403.9 220.7,399.9 M228.9,417.1 224.3,421.5 M225.1,424.8 224.3,421.5 M234.0,398.3 228.9,403.9 M247.5,420.5 228.9,417.1 M307.2,403.5 309.4,392.3 M307.2,403.5 295.2,402.2 M295.2,402.2 296.2,389.5 M296.5,387.5 298.1,386.3 M309.4,392.3 298.1,386.3 M336.8,416.4 337.5,408.6 M336.8,416.4 320.5,419.6 M337.5,408.6 324.4,405.9 M324.4,405.9 320.5,419.6 M342.2,366.2 342.7,363.7 M342.2,366.2 334.9,362.9 M366.4,446.1 367.7,442.0 M371.3,440.4 367.7,442.0 M349.7,432.5 351.1,421.4 M349.7,432.5 335.3,433.9 M351.1,421.4 338.3,419.8 M335.3,433.9 338.3,419.8 M295.2,402.2 294.5,402.6 M307.2,403.5 308.7,405.9 M308.7,405.9 308.2,414.5 M308.2,414.5 294.4,419.2 M294.4,419.2 292.5,417.1 M323.8,394.1 321.0,390.7 M323.8,394.1 322.8,404.0 M309.4,392.3 314.1,389.6 M322.8,404.0 308.7,405.9 M321.0,390.7 314.1,389.6 M316.4,360.8 315.3,361.1 M331.6,362.6 327.2,375.7 M327.2,375.7 317.1,372.2 M315.3,361.1 317.1,372.2 M321.0,390.7 328.6,377.7 M314.1,389.6 312.6,376.2 M327.2,375.7 328.6,377.7 M317.1,372.2 312.6,376.2 M298.1,386.3 299.2,375.3 M312.6,376.2 299.2,375.3 M322.8,404.0 324.4,405.9 M320.5,419.6 319.5,420.5 M308.2,414.5 309.8,416.2 M319.5,420.5 309.8,416.2 M294.4,419.2 293.7,429.8 M290.7,430.6 293.7,429.8 M309.8,416.2 305.8,431.3 M305.8,431.3 293.9,430.0 M371.3,382.1 375.4,383.4 M371.3,382.1 372.7,371.7 M372.7,371.7 376.5,370.9 M374.4,397.6 368.0,398.6 M368.6,384.5 368.0,398.6 M368.6,384.5 371.3,382.1 M369.4,367.9 369.4,365.9 M369.4,367.9 372.7,371.7 M369.4,367.9 358.6,369.6 M358.6,369.6 354.8,364.8 M342.2,366.2 343.1,367.4 M343.1,367.4 350.9,364.4 M336.8,416.4 338.3,419.8 M335.3,433.9 334.7,434.4 M319.5,420.5 321.7,433.2 M334.7,434.4 321.7,433.2 M305.8,431.3 309.3,433.9 M309.3,433.9 319.9,434.8 M321.7,433.2 319.9,434.8 M343.1,367.4 342.9,376.0 M328.6,377.7 338.4,380.5 M338.4,380.5 342.9,376.0 M358.6,369.6 354.9,377.9 M342.9,376.0 354.9,377.9 M368.6,384.5 357.5,382.1 M357.5,382.1 354.9,377.9 M351.6,409.6 354.6,418.9 M351.6,409.6 367.3,405.1 M354.6,418.9 362.4,420.5 M367.3,405.1 362.4,420.5 M354.7,436.4 359.1,435.1 M354.7,436.4 349.7,432.5 M359.1,435.1 365.4,424.0 M354.6,418.9 351.1,421.4 M365.4,424.0 362.4,420.5 M299.1,375.2 300.8,360.2 M299.1,375.2 298.1,375.0 M300.5,359.8 300.8,360.2 M300.6,358.9 300.5,359.8 M315.3,361.1 300.8,360.2 M292.4,449.6 293.7,445.8 M300.2,444.1 296.6,443.0 M296.6,443.0 293.7,445.8 M309.3,433.9 304.0,443.7 M318.3,444.7 319.9,434.8 M318.3,444.7 317.0,445.2 M288.9,443.9 293.7,445.8 M293.9,430.0 296.6,443.0 M337.3,443.7 334.7,434.4 M318.3,444.7 318.7,445.4 M354.7,436.4 352.3,445.0 M367.7,442.0 359.1,435.1 M338.9,393.8 340.5,391.0 M338.9,393.8 340.2,405.6 M340.5,391.0 352.1,391.1 M340.2,405.6 348.7,406.8 M348.7,406.8 356.3,396.9 M356.3,396.9 352.1,391.1 M323.8,394.1 338.9,393.8 M338.4,380.5 340.5,391.0 M337.5,408.6 340.2,405.6 M357.5,382.1 352.1,391.1 M351.6,409.6 348.7,406.8 M367.6,399.2 356.3,396.9 M367.6,399.2 367.9,404.4 M367.9,404.4 367.3,405.1 M367.6,399.2 368.0,398.6 M365.4,424.0 372.4,425.2 M367.9,404.4 373.6,408.4 M375.8,214.2 379.0,214.6 M376.4,205.9 379.6,206.1 M379.6,206.1 379.0,214.6 M377.0,198.1 381.5,202.8 M381.5,202.8 383.0,202.3 M383.0,202.3 384.5,189.9 M384.5,189.9 380.8,185.5 M380.8,185.5 378.0,185.5 M379.6,206.1 381.5,202.8 M400.5,181.6 401.4,174.4 M400.5,181.6 408.1,182.8 M401.4,174.4 409.1,174.9 M409.1,174.9 408.1,182.8 M424.8,183.7 432.3,183.8 M424.8,183.7 424.7,190.8 M424.7,190.8 432.4,191.5 M432.3,183.8 432.4,191.5 M448.8,192.6 439.8,192.4 M448.8,192.6 448.3,200.1 M440.6,200.2 448.1,200.2 M440.4,200.0 439.8,192.4 M449.0,192.4 452.7,192.1 M455.7,201.2 448.3,200.1 M392.9,190.0 399.9,191.2 M392.9,190.0 392.5,182.1 M392.5,182.1 400.3,181.8 M400.3,181.8 400.7,190.5 M400.7,190.5 399.9,191.2 M388.8,178.7 392.5,182.1 M388.8,178.7 380.8,185.5 M384.5,189.9 391.8,191.0 M391.8,191.0 392.9,190.0 M408.2,190.1 416.0,190.9 M408.2,190.1 408.3,183.2 M408.3,183.2 416.9,182.5 M416.0,190.9 417.2,182.7 M416.2,191.2 415.2,198.8 M415.2,198.8 408.0,199.1 M407.7,190.4 408.0,199.1 M407.7,190.4 408.2,190.1 M408.1,182.8 408.3,183.2 M407.7,190.4 400.7,190.5 M416.2,191.2 423.6,192.0 M423.6,192.0 424.7,190.8 M424.8,183.7 424.5,183.4 M424.5,183.4 417.2,182.7 M388.8,178.7 388.8,177.3 M378.8,173.9 385.6,174.2 M388.8,177.3 385.6,174.2 M388.8,177.3 392.2,174.0 M395.1,173.9 392.2,174.0 M455.5,225.1 456.2,217.7 M456.2,217.7 458.0,217.6 M423.6,192.0 424.4,199.4 M432.9,192.0 431.1,199.5 M432.9,192.0 432.4,191.5 M424.4,199.4 431.1,199.5 M440.4,200.0 432.4,200.9 M432.9,192.0 439.5,192.0 M439.8,192.4 439.5,192.0 M432.4,200.9 431.1,199.5 M456.4,210.2 454.8,216.4 M454.8,216.4 456.2,217.7 M456.0,205.3 455.8,207.9 M455.8,207.9 456.3,208.5 M449.0,192.4 447.8,184.8 M447.8,184.8 448.6,184.1 M448.6,184.1 452.8,184.4 M439.5,192.0 440.8,184.7 M432.3,183.8 433.1,183.0 M440.8,184.7 433.1,183.0 M447.8,184.8 441.4,184.2 M440.8,184.7 441.4,184.2 M391.8,191.0 391.1,198.0 M399.9,191.2 399.8,198.3 M399.8,198.3 391.1,198.0 M383.0,202.3 387.1,202.3 M387.1,202.3 391.1,198.0 M385.6,174.2 385.5,173.3 M425.8,175.4 429.3,175.4 M424.5,183.4 425.8,175.4 M433.1,183.0 433.3,176.4 M432.4,175.5 433.3,176.4 M403.8,203.0 407.1,206.8 M403.4,203.0 399.2,206.4 M399.2,206.4 398.7,214.4 M407.1,206.8 407.4,214.9 M407.4,214.9 399.3,215.2 M398.7,214.4 399.3,215.2 M408.0,199.1 403.8,203.0 M399.8,198.3 403.4,203.0 M391.0,205.9 387.1,202.3 M391.0,205.9 399.2,206.4 M391.0,205.9 391.0,214.0 M391.0,214.0 398.7,214.4 M407.5,215.1 407.5,222.8 M407.2,223.1 398.3,222.4 M398.3,222.4 399.3,215.2 M411.5,174.8 416.5,175.6 M419.7,175.1 416.7,175.3 M409.1,174.9 409.5,174.7 M416.9,182.5 416.5,175.6 M382.3,221.7 378.9,217.1 M382.3,221.7 391.5,222.9 M390.4,214.7 391.5,222.9 M390.4,214.7 379.0,214.6 M379.0,214.6 378.9,217.1 M391.0,214.0 390.4,214.7 M398.3,222.4 397.1,223.5 M391.7,223.2 391.5,222.9 M375.3,220.7 378.9,217.1 M382.3,221.7 382.3,222.5 M407.2,224.0 407.2,223.1 M455.1,225.1 447.6,223.7 M447.6,223.7 447.3,224.1 M447.2,225.1 447.3,224.1 M454.8,216.4 448.3,216.3 M447.6,223.7 447.5,217.0 M448.3,216.3 447.5,217.0 M455.8,207.9 448.1,208.7 M448.3,216.3 448.1,208.7 M448.1,200.2 447.8,208.4 M448.1,208.7 447.8,208.4 M440.6,200.2 440.5,208.1 M447.8,208.4 440.5,208.1 M432.4,200.9 432.4,207.2 M432.4,207.2 440.0,208.6 M440.5,208.1 440.0,208.6 M407.5,215.1 415.3,214.8 M407.5,222.8 414.6,222.9 M415.3,214.8 415.9,215.5 M414.6,222.9 415.9,215.5 M424.1,199.7 423.4,207.3 M424.1,199.7 415.7,199.4 M423.4,207.3 415.8,207.5 M415.7,199.4 415.6,207.3 M423.9,207.9 431.6,208.0 M423.9,207.9 423.4,207.3 M432.4,207.2 431.6,208.0 M415.2,198.8 415.7,199.4 M415.3,214.8 415.8,207.5 M423.7,214.7 423.9,207.9 M423.7,214.7 422.2,216.2 M415.9,215.5 422.2,216.2 M407.1,206.8 415.6,207.3 M441.4,176.4 441.0,176.1 M441.4,176.4 449.6,176.4 M441.0,176.1 441.0,175.6 M449.6,175.7 449.6,176.4 M441.4,184.2 441.4,176.4 M433.3,176.4 441.0,176.1 M448.6,184.1 449.6,176.4 M451.7,176.6 449.6,176.4 M423.7,214.7 431.3,216.0 M431.6,208.0 431.8,215.5 M431.3,216.0 431.8,215.5 M440.0,208.6 439.5,215.5 M431.8,215.5 439.5,215.5 M447.5,217.0 439.9,216.0 M439.9,216.0 439.5,215.5 M414.6,222.9 415.9,224.3 M447.3,224.1 439.0,224.8 M439.9,216.0 438.5,224.3 M439.0,224.8 438.5,224.3 M430.8,223.5 431.1,223.9 M430.8,223.5 423.2,223.1 M431.1,223.9 431.0,224.8 M423.2,223.1 422.4,223.9 M422.4,223.9 422.5,224.6 M431.3,216.0 430.8,223.5 M438.5,224.3 431.1,223.9 M422.2,216.2 423.2,223.1 M415.9,224.3 422.4,223.9 M384.6,265.3 392.0,265.3 M384.4,265.0 385.4,253.7 M385.4,253.7 396.2,255.0 M396.2,255.0 395.7,261.8 M392.0,265.3 395.7,261.8 M396.2,255.0 402.7,249.6 M402.7,249.6 403.2,262.6 M395.7,261.8 403.2,262.6 M374.2,246.5 374.0,237.5 M374.2,246.5 373.2,247.5 M385.4,250.9 385.3,253.5 M385.4,250.9 381.6,246.6 M385.3,253.5 374.0,254.1 M381.6,246.6 374.2,246.5 M374.0,254.1 372.8,252.7 M381.8,232.3 374.9,224.9 M381.8,232.3 374.1,235.6 M378.2,264.4 371.7,269.2 M378.2,264.4 374.3,260.4 M374.3,260.4 372.1,260.5 M384.4,265.0 378.2,264.4 M374.0,254.1 374.3,260.4 M384.6,265.3 384.4,270.2 M395.7,269.1 402.7,269.3 M395.7,269.1 395.5,270.8 M402.7,269.3 402.5,271.2 M392.0,265.3 395.7,269.1 M432.2,271.0 438.5,270.3 M432.2,271.0 430.9,269.6 M431.2,263.4 438.9,263.5 M438.5,270.3 439.0,263.7 M430.9,269.6 431.1,263.5 M403.2,262.6 406.3,265.9 M402.7,269.3 406.3,266.2 M383.3,231.3 382.2,232.3 M383.3,231.3 396.2,233.5 M382.2,232.3 382.7,233.7 M382.7,233.7 393.1,243.8 M396.2,233.5 396.8,243.6 M393.1,243.8 396.8,243.6 M381.6,246.6 382.7,233.7 M381.8,232.3 382.2,232.3 M385.4,250.9 393.1,243.8 M383.3,231.3 386.1,225.5 M386.1,225.5 386.0,223.1 M417.8,226.1 418.1,233.2 M417.8,226.1 425.7,226.9 M425.0,233.6 425.7,226.9 M425.0,233.6 418.6,233.7 M418.6,233.7 418.1,233.2 M426.2,225.0 426.3,226.3 M426.3,226.3 425.7,226.9 M417.6,225.9 417.8,224.8 M432.0,272.2 432.2,271.0 M438.5,270.3 438.8,270.6 M438.8,270.6 439.2,274.0 M439.0,263.7 445.7,263.5 M446.2,263.9 445.7,263.5 M446.2,263.9 445.7,270.7 M438.8,270.6 445.7,270.7 M438.9,263.5 438.5,256.4 M445.7,263.5 446.4,256.2 M446.4,256.2 438.5,256.4 M424.0,270.1 424.7,262.2 M423.7,270.4 417.4,269.4 M417.4,269.4 417.4,262.5 M424.7,262.2 417.6,262.3 M430.9,269.6 424.0,270.1 M431.1,263.5 424.7,262.2 M423.8,272.0 423.7,270.4 M409.7,269.7 417.0,269.8 M409.7,269.7 409.7,271.5 M417.0,269.8 416.9,271.8 M410.0,262.3 417.4,262.5 M410.0,262.3 406.3,265.9 M406.3,266.2 409.7,269.7 M417.4,269.4 417.0,269.8 M410.0,262.3 410.2,254.6 M417.6,262.3 417.3,255.1 M417.3,255.1 410.2,254.6 M424.7,262.2 425.3,255.7 M425.2,255.6 417.6,254.9 M402.7,249.6 403.7,247.9 M410.2,254.6 403.7,247.9 M396.8,243.6 403.7,247.2 M403.7,247.9 403.7,247.2 M386.1,225.5 396.4,225.0 M396.5,223.8 396.4,225.0 M396.2,233.5 397.1,232.7 M397.1,232.7 396.6,225.2 M445.7,270.7 446.7,271.7 M446.7,271.7 446.4,275.2 M446.2,263.9 452.8,264.4 M453.1,264.7 453.4,270.5 M446.7,271.7 453.4,270.5 M459.6,271.5 453.6,270.8 M460.4,263.9 453.1,264.7 M459.6,278.3 456.8,278.1 M453.6,270.8 453.2,275.8 M403.7,225.5 411.3,226.4 M403.7,225.4 403.8,224.1 M411.6,224.5 411.9,225.8 M411.9,225.8 411.3,226.4 M397.1,232.7 403.5,232.4 M403.5,232.4 403.7,225.5 M396.6,225.2 403.7,225.4 M407.8,236.2 410.3,233.9 M407.8,236.2 403.5,232.4 M410.3,233.9 411.3,226.4 M417.6,225.9 411.9,225.8 M418.1,233.2 410.3,233.9 M431.2,263.4 432.5,255.8 M438.5,256.4 438.2,256.0 M438.2,256.0 432.5,255.8 M425.3,255.7 432.2,255.5 M417.4,247.8 418.5,241.2 M417.4,247.8 404.4,246.5 M407.6,240.5 418.1,240.7 M407.6,240.5 404.4,246.5 M418.1,240.7 418.5,241.2 M417.6,254.9 418.4,248.9 M403.7,247.2 404.4,246.5 M418.4,248.9 417.4,247.8 M418.6,233.7 418.1,240.7 M407.8,236.2 407.6,240.5 M418.5,241.2 424.8,241.7 M424.8,241.7 425.1,233.7 M454.0,234.9 454.7,241.8 M454.0,234.9 447.6,235.0 M447.6,235.0 447.4,241.8 M447.4,241.8 453.8,242.8 M454.7,241.8 453.8,242.8 M460.3,248.9 454.1,248.9 M460.2,241.7 454.7,241.8 M454.1,248.9 453.8,242.8 M426.3,226.3 432.7,226.9 M425.1,233.7 432.5,234.6 M432.5,234.6 432.9,234.3 M432.9,234.3 432.7,226.9 M454.4,234.6 459.1,234.5 M454.4,234.6 454.0,234.9 M454.1,248.9 446.7,249.7 M454.1,248.9 454.5,256.4 M453.4,257.2 446.6,256.0 M453.4,257.2 454.5,256.4 M446.6,256.0 446.7,249.7 M460.3,257.1 454.5,256.4 M452.8,264.4 453.4,257.2 M440.8,227.4 447.5,227.6 M440.8,227.4 440.5,227.8 M440.5,227.8 439.8,234.4 M447.5,227.6 447.5,235.0 M447.5,235.0 440.1,234.8 M440.1,234.8 439.8,234.4 M432.9,234.3 439.8,234.4 M432.7,226.9 433.1,226.7 M433.1,226.7 440.5,227.8 M432.1,241.3 425.0,241.9 M432.1,241.3 432.5,241.7 M432.5,241.7 432.7,247.8 M425.0,241.9 424.9,248.1 M431.8,248.7 432.7,247.8 M431.8,248.7 425.3,248.5 M425.3,248.5 424.9,248.1 M432.5,234.6 432.1,241.3 M439.8,241.5 432.5,241.7 M439.8,241.5 440.1,234.8 M418.4,248.9 424.9,248.1 M425.2,255.6 425.3,248.5 M432.2,255.5 431.8,248.7 M446.4,242.7 446.4,249.4 M446.4,242.7 439.9,241.7 M439.9,241.7 439.0,248.7 M446.4,249.4 439.3,249.2 M439.3,249.2 439.0,248.7 M447.4,241.8 446.4,242.7 M446.7,249.7 446.4,249.4 M432.7,247.8 439.0,248.7 M438.2,256.0 439.3,249.2 M433.1,226.7 433.4,225.2 M440.8,227.4 440.8,225.3 M457.8,227.1 455.0,226.6 M455.0,225.4 455.0,226.6 M454.4,234.6 454.1,227.4 M447.6,227.5 454.1,227.4 M454.1,227.4 455.0,226.6 M447.6,227.5 447.6,225.4 M377.5,270.0 377.5,271.8 M377.5,271.8 377.3,272.2 M371.2,271.9 377.3,272.2 M377.5,271.8 389.4,272.3 M383.1,280.9 390.2,274.1 M383.1,280.9 377.1,280.8 M389.4,272.3 390.2,274.1 M377.3,272.2 377.1,280.8 M397.7,275.6 398.1,271.3 M397.7,275.6 392.1,275.2 M392.1,275.2 390.2,274.1 M389.4,272.3 389.4,270.8 M392.1,275.2 391.7,284.3 M383.1,280.9 385.8,283.7 M391.7,284.3 385.8,283.7 M370.5,281.7 374.2,283.6 M374.2,283.6 370.0,291.3 M377.1,280.8 374.2,283.6 M439.0,304.0 433.4,303.6 M439.0,304.0 438.8,309.6 M438.6,309.7 432.8,309.2 M432.8,309.2 433.4,303.6 M468.3,320.5 468.7,316.5 M468.7,316.5 468.2,316.0 M468.2,316.0 462.6,316.1 M462.4,320.6 462.6,316.1 M450.7,320.6 450.4,315.9 M456.4,320.6 456.6,315.8 M456.6,315.8 450.8,315.5 M450.4,315.9 450.8,315.5 M385.8,283.7 385.6,290.4 M374.2,283.6 382.8,292.8 M385.6,290.4 382.8,292.8 M439.0,304.0 439.4,303.7 M433.3,303.5 433.3,297.8 M433.3,297.8 438.9,297.6 M439.4,303.7 438.9,297.6 M457.0,298.3 451.2,298.0 M457.0,298.3 457.4,297.9 M457.4,297.9 457.1,292.6 M451.2,298.0 451.3,292.2 M457.1,292.6 451.3,292.2 M445.4,292.4 444.8,297.3 M445.4,292.4 451.1,292.0 M444.8,297.3 445.1,297.7 M445.1,297.7 451.0,298.2 M457.5,292.2 457.1,292.6 M457.5,292.2 457.6,286.5 M451.3,286.5 457.3,286.3 M451.3,286.5 451.1,292.0 M412.3,293.7 408.7,297.2 M408.7,297.2 409.2,302.7 M409.2,302.7 414.5,302.3 M414.5,302.3 415.3,296.9 M412.6,293.8 415.3,296.9 M456.7,315.8 462.6,316.1 M450.4,315.9 444.5,315.9 M444.5,315.9 444.4,320.6 M444.5,310.3 444.4,315.8 M444.5,310.3 445.0,309.8 M450.8,315.5 450.6,310.0 M445.0,309.8 450.6,310.0 M438.8,309.6 444.5,310.3 M439.4,303.7 444.8,303.8 M445.0,309.8 444.8,303.8 M439.0,297.5 444.8,297.3 M445.1,297.7 444.8,303.7 M370.0,291.3 376.6,298.6 M382.8,293.1 376.6,298.6 M373.4,301.6 376.5,298.7 M397.1,302.2 397.1,301.8 M397.1,302.2 403.3,305.8 M408.7,297.2 403.1,296.6 M409.2,302.7 406.6,305.8 M403.3,305.8 406.6,305.8 M397.1,301.8 403.1,296.6 M412.3,293.7 409.7,291.0 M409.7,291.0 403.7,290.8 M403.1,296.6 403.7,290.8 M414.5,302.3 415.5,303.3 M420.9,297.3 415.3,296.9 M420.9,297.3 421.3,302.9 M415.5,303.3 421.3,302.9 M457.5,292.2 463.4,292.4 M462.6,286.2 457.6,286.5 M463.2,288.0 463.4,292.4 M457.4,297.9 462.8,298.5 M462.8,298.5 463.6,292.5 M464.9,292.6 463.6,292.5 M451.8,275.7 451.4,280.3 M445.9,275.6 446.0,279.5 M446.0,279.5 451.4,280.3 M451.3,286.5 451.0,286.1 M457.2,280.4 457.3,286.3 M457.2,280.4 451.4,280.3 M451.0,286.1 451.4,280.3 M457.5,280.1 459.4,280.2 M457.5,280.1 457.5,279.1 M457.2,280.4 457.5,280.1 M445.3,280.2 445.3,285.9 M445.3,280.2 439.7,279.8 M439.7,279.8 439.8,285.7 M439.8,285.7 445.2,286.0 M451.0,286.1 445.3,285.9 M446.0,279.5 445.3,280.2 M444.9,291.9 445.2,286.0 M444.9,291.9 445.4,292.4 M397.7,275.6 403.8,279.0 M404.2,271.6 404.5,278.3 M404.5,278.3 403.8,279.0 M433.6,285.2 427.7,285.1 M433.6,285.2 434.3,280.3 M434.3,280.3 433.5,279.4 M433.5,279.4 427.9,279.3 M427.7,285.1 427.8,279.5 M433.4,291.4 433.7,285.3 M433.4,291.4 438.8,291.6 M439.0,291.5 439.4,286.1 M439.4,286.1 433.7,285.3 M444.9,291.9 439.0,291.5 M439.8,285.7 439.4,286.1 M439.0,297.5 438.8,291.6 M439.7,279.8 434.3,280.3 M421.7,279.3 421.8,285.0 M421.7,279.3 427.8,279.5 M427.7,285.1 421.8,285.0 M433.3,303.5 427.2,303.4 M427.0,303.1 427.8,297.7 M433.1,297.6 427.8,297.7 M433.1,297.6 433.3,291.5 M472.2,316.7 468.7,316.5 M474.3,319.9 474.3,320.4 M402.5,314.2 408.7,314.6 M402.5,314.2 403.3,305.8 M406.6,305.8 409.0,308.4 M408.7,314.6 409.0,308.4 M402.5,314.2 400.0,316.6 M400.0,316.6 399.8,319.3 M408.7,319.7 408.8,314.8 M420.7,320.1 421.1,315.2 M421.1,315.2 426.6,315.1 M426.6,315.1 426.7,320.3 M437.9,315.2 438.5,315.8 M437.9,315.2 432.5,315.1 M438.5,315.8 438.0,320.5 M432.5,315.1 432.2,320.4 M438.6,309.7 437.9,315.2 M444.4,315.8 438.5,315.8 M450.7,303.7 456.6,304.0 M450.6,303.7 450.8,309.8 M450.8,309.8 456.5,309.6 M456.5,309.6 457.0,304.4 M456.6,304.0 457.0,304.4 M451.0,298.2 450.7,303.7 M444.8,303.7 450.6,303.7 M457.0,298.3 456.6,304.0 M456.9,310.1 456.7,315.8 M456.9,310.1 456.5,309.6 M379.5,302.0 385.6,302.1 M386.0,302.4 385.6,302.1 M376.5,298.7 379.5,302.0 M385.5,296.0 382.8,293.1 M385.5,296.0 385.6,302.1 M394.2,289.8 394.5,290.5 M394.2,289.8 394.4,287.3 M394.5,290.5 403.6,290.7 M394.4,287.3 403.5,279.6 M403.5,279.6 403.6,290.7 M385.6,290.4 394.2,289.8 M385.5,296.0 394.6,296.6 M394.6,296.6 394.5,290.5 M391.7,284.3 394.4,287.3 M397.1,301.8 394.6,296.6 M403.8,279.1 403.5,279.6 M409.7,291.0 409.9,284.9 M409.9,284.9 403.8,279.1 M396.8,313.7 392.5,314.2 M396.8,313.7 396.3,302.9 M396.3,302.9 393.0,304.3 M400.0,316.6 396.8,313.7 M397.1,302.2 396.3,302.9 M420.7,314.8 415.0,314.6 M420.7,314.8 421.1,309.0 M421.1,308.9 415.1,308.8 M414.9,314.6 414.9,309.0 M415.5,303.3 415.1,308.8 M421.5,303.1 421.1,308.9 M409.0,308.4 414.9,309.0 M408.8,314.8 414.9,314.6 M456.9,310.1 462.5,310.3 M462.6,316.1 462.6,310.3 M457.0,304.4 462.7,304.2 M462.5,310.3 462.7,304.2 M462.9,298.7 462.9,304.0 M439.7,279.8 439.7,274.7 M433.5,279.4 434.1,273.8 M438.7,274.1 434.1,273.8 M412.0,274.9 404.5,278.3 M412.0,274.9 413.2,272.8 M413.2,272.8 413.2,271.9 M421.6,285.2 421.3,290.8 M421.6,285.2 415.7,284.6 M415.4,284.8 415.8,290.7 M415.8,290.7 421.3,290.8 M421.5,279.1 416.0,279.4 M416.0,279.4 415.7,284.6 M412.0,274.9 416.0,279.4 M409.9,284.9 415.4,284.8 M412.6,293.8 415.8,290.7 M427.6,291.0 421.3,290.9 M427.6,291.1 427.0,296.8 M427.0,296.8 421.3,297.0 M421.3,297.0 421.3,290.9 M427.7,285.1 427.6,291.0 M433.3,291.5 427.6,291.1 M427.8,297.7 427.0,296.8 M427.0,303.1 421.5,303.1 M420.9,297.3 421.3,297.0 M415.0,314.6 414.9,319.9 M421.1,315.2 420.7,314.8 M432.5,315.1 426.6,315.0 M432.5,315.1 432.3,309.5 M426.6,315.0 426.6,309.6 M432.3,309.5 427.4,308.9 M426.6,309.6 427.4,308.9 M432.8,309.2 432.3,309.5 M421.1,309.0 426.6,309.6 M427.2,303.4 427.4,308.9 M468.2,316.0 468.8,310.8 M462.6,310.3 468.3,310.2 M468.8,310.8 468.3,310.2 M462.9,304.0 467.6,304.7 M468.3,310.2 468.2,308.0 M434.1,273.8 433.8,273.5 M433.8,272.5 433.8,273.5 M427.9,279.3 427.8,273.7 M433.8,273.5 427.8,273.7 M421.9,273.6 427.7,273.6 M421.8,273.4 421.8,272.2 M427.7,273.6 427.8,272.4 M421.5,279.1 421.9,273.6 M413.2,272.8 421.8,273.4 M462.9,298.7 466.4,298.6 M475.2,366.4 468.6,366.5 M475.2,366.4 475.5,360.2 M475.2,360.0 468.6,359.9 M468.6,366.5 468.6,359.9 M456.2,346.8 456.0,340.1 M456.1,346.9 449.5,346.6 M456.0,340.1 449.7,340.4 M449.7,340.4 449.5,346.6 M456.2,346.8 462.2,346.8 M456.1,346.9 455.9,353.5 M455.9,353.5 462.1,353.6 M462.1,353.6 462.6,353.1 M462.6,353.1 462.3,346.9 M391.5,332.5 397.6,333.0 M397.6,333.0 397.7,339.0 M397.5,339.3 391.1,339.1 M397.8,332.8 404.2,332.9 M397.7,339.0 404.1,339.0 M404.1,339.0 404.4,333.0 M417.4,339.4 416.9,339.8 M417.4,339.4 423.7,340.1 M416.9,339.8 416.6,345.9 M423.7,340.1 423.4,346.0 M416.6,345.9 416.9,346.2 M416.9,346.2 423.2,346.2 M397.8,332.8 398.1,326.2 M404.2,332.9 404.2,326.6 M398.2,326.2 404.2,326.5 M404.4,333.0 410.8,332.9 M404.2,326.6 410.5,326.6 M410.8,332.9 410.5,326.6 M475.5,347.0 469.2,347.0 M475.5,347.0 475.2,353.7 M469.2,347.0 468.9,353.3 M475.2,353.7 469.0,353.4 M469.0,340.6 469.0,346.8 M469.0,340.6 469.3,340.3 M475.6,340.6 475.5,347.0 M469.3,340.3 475.6,340.5 M469.0,346.8 462.3,346.9 M462.6,353.1 468.9,353.3 M475.2,360.0 475.2,353.7 M468.6,359.8 469.0,353.4 M468.6,359.8 462.5,359.7 M462.1,353.6 462.5,359.7 M482.0,340.6 482.1,334.1 M482.1,334.1 483.2,334.2 M482.1,340.6 483.8,340.7 M475.5,360.2 481.5,359.9 M481.5,359.9 482.0,354.0 M475.2,353.7 481.7,353.7 M482.0,354.0 481.7,353.7 M475.5,347.0 481.6,347.4 M481.7,353.7 481.6,347.4 M475.6,340.6 482.0,340.6 M482.1,340.6 481.9,347.1 M449.5,340.1 443.1,339.9 M449.5,340.1 449.8,333.6 M449.6,333.5 443.2,333.7 M443.2,333.7 443.1,339.9 M443.0,346.3 449.5,346.7 M443.0,346.3 443.0,340.0 M449.7,340.4 449.5,340.1 M462.2,366.1 468.6,366.5 M462.2,366.1 461.7,366.6 M461.7,366.6 461.8,368.7 M468.6,366.5 468.5,368.6 M462.5,359.7 462.2,360.0 M462.2,360.0 462.2,366.1 M475.2,366.5 475.2,368.5 M481.9,366.7 481.5,360.0 M475.2,366.5 481.6,366.9 M481.6,366.9 481.6,368.4 M484.4,366.5 481.9,366.7 M391.1,339.7 391.2,346.0 M397.6,345.7 397.5,339.3 M391.2,346.0 397.5,345.8 M391.1,346.1 390.7,352.0 M390.1,358.3 390.8,358.3 M390.8,358.3 390.9,352.2 M398.1,326.2 391.8,326.6 M404.3,339.3 410.5,339.3 M404.3,339.3 404.1,345.8 M410.5,339.3 410.5,346.0 M404.1,345.8 410.5,346.0 M410.7,339.2 411.0,333.2 M403.9,346.0 397.6,345.7 M410.7,339.2 416.9,339.8 M410.5,346.0 416.6,345.9 M410.5,346.0 410.4,352.4 M416.9,346.2 416.7,352.7 M416.7,352.7 410.4,352.4 M423.2,352.7 416.9,352.8 M423.2,352.7 423.2,346.2 M398.2,326.2 397.8,319.9 M392.2,319.5 397.8,319.9 M404.2,326.5 404.7,319.9 M410.7,326.4 410.6,320.0 M408.0,319.9 404.7,319.9 M417.4,339.4 417.6,333.4 M411.0,333.2 417.1,332.9 M417.6,333.4 417.1,332.9 M430.3,326.7 436.8,326.7 M430.3,326.7 430.4,320.6 M436.7,320.8 436.8,326.6 M430.0,327.0 430.2,333.0 M430.0,327.0 430.3,326.7 M430.2,333.0 436.4,333.3 M436.4,333.3 436.8,326.7 M429.9,333.4 430.0,339.7 M429.9,333.4 423.8,333.3 M423.7,333.5 423.7,340.1 M423.7,340.1 430.0,339.7 M417.6,333.4 423.7,333.5 M481.9,333.9 475.8,334.0 M475.6,340.5 475.8,334.1 M469.3,340.3 469.3,334.2 M475.8,334.1 469.3,334.2 M482.0,354.0 484.1,353.9 M481.9,347.1 484.0,347.2 M430.2,346.4 436.7,346.4 M430.2,346.4 430.4,340.0 M430.4,340.0 436.4,339.7 M436.7,346.4 436.5,339.8 M423.4,346.0 429.9,346.7 M429.9,346.7 430.2,346.4 M430.0,339.7 430.4,340.0 M430.2,333.0 429.9,333.4 M436.6,333.5 436.4,339.7 M442.5,346.7 442.7,352.8 M442.5,346.7 436.7,346.4 M442.7,352.8 436.2,353.0 M436.2,353.0 436.7,346.4 M443.0,346.3 442.5,346.7 M443.0,340.0 436.5,339.8 M442.9,333.4 436.6,333.5 M442.9,333.4 443.2,333.7 M429.9,346.7 430.0,352.7 M430.0,352.7 436.1,353.1 M455.6,366.2 455.4,368.7 M455.6,366.2 461.7,366.6 M462.2,360.0 455.9,359.9 M455.6,366.2 455.9,359.9 M455.8,353.6 455.7,359.6 M403.9,346.0 404.0,352.3 M404.0,352.3 410.4,352.4 M398.0,319.8 402.7,319.7 M417.4,326.5 417.5,320.3 M417.6,326.7 423.8,326.8 M424.2,320.5 424.0,326.6 M410.7,326.4 417.4,326.5 M417.1,332.9 417.6,326.7 M423.8,333.3 423.8,326.8 M430.0,327.0 424.0,326.6 M443.6,320.8 443.0,327.1 M449.8,320.9 449.9,327.0 M443.1,327.2 449.5,327.4 M449.5,327.4 449.9,327.0 M436.8,326.6 443.0,327.1 M442.9,333.4 443.1,327.2 M449.6,333.5 449.5,327.4 M462.8,333.9 456.3,333.5 M462.8,333.9 462.6,340.2 M462.6,340.2 456.1,340.0 M456.1,340.0 456.0,333.8 M462.2,346.8 462.6,340.2 M469.0,340.6 462.6,340.2 M449.8,333.6 456.0,333.8 M456.4,327.3 456.3,333.5 M456.4,327.3 449.9,327.0 M462.7,327.1 456.6,327.1 M462.7,327.1 463.2,320.9 M457.6,320.9 456.4,321.0 M456.4,321.0 456.6,327.1 M475.3,321.0 469.4,321.0 M464.3,320.8 469.3,321.0 M463.0,327.4 462.9,333.9 M463.0,327.4 469.2,327.4 M469.2,327.4 469.6,327.7 M469.6,327.7 469.1,333.9 M462.9,333.9 469.1,333.9 M462.7,327.1 463.0,327.4 M469.3,321.0 469.2,327.4 M475.8,334.0 475.3,327.7 M475.3,327.7 469.6,327.7 M481.5,360.0 484.3,360.2 M416.9,352.8 416.6,359.1 M416.6,359.1 423.2,359.5 M423.5,353.0 423.2,359.5 M423.5,353.0 429.9,352.8 M455.6,366.2 449.3,365.7 M455.7,359.6 449.2,359.8 M449.2,359.8 449.3,365.7 M477.6,327.4 475.8,327.2 M475.8,327.2 475.9,321.4 M481.9,333.9 482.0,333.0 M475.3,327.7 475.8,327.2 M423.3,359.6 429.8,359.5 M423.3,359.6 423.1,365.5 M423.3,365.7 429.6,365.9 M429.8,359.5 430.0,365.5 M429.6,365.9 430.0,365.5 M429.9,352.8 429.8,359.5 M416.5,359.2 416.4,365.5 M416.6,365.7 423.1,365.5 M416.6,365.7 416.6,368.1 M423.2,368.3 423.3,365.7 M429.6,368.5 429.6,365.9 M455.8,353.6 449.5,353.2 M449.1,359.7 449.5,353.2 M449.5,346.7 449.1,352.8 M442.7,352.8 443.1,353.2 M443.1,353.2 449.1,352.8 M449.5,353.2 449.1,352.8 M436.1,353.1 436.6,359.4 M429.8,359.5 436.6,359.4 M443.1,353.2 442.7,359.3 M436.6,359.4 442.7,359.3 M430.0,365.5 436.4,365.9 M436.6,359.4 436.4,365.9 M449.1,359.7 442.9,359.5 M436.1,368.6 436.4,365.9 M448.9,366.1 442.8,366.1 M448.9,366.1 449.0,368.7 M442.6,366.3 442.6,368.7 M449.3,365.7 448.9,366.1 M442.9,359.5 442.8,366.1 M436.4,365.9 442.6,366.3 M416.5,359.2 410.1,358.9 M410.4,352.4 410.1,358.9 M416.4,365.5 410.0,365.5 M410.1,358.9 410.0,365.5 M389.7,365.1 390.8,365.1 M390.8,365.1 390.8,367.0 M410.1,358.9 403.9,358.8 M403.9,358.8 403.5,365.2 M403.7,365.4 409.7,365.7 M409.7,365.7 409.8,367.9 M403.7,365.4 403.5,367.6 M397.5,345.8 397.5,352.2 M390.9,352.2 397.4,352.3 M397.5,352.2 403.7,352.6 M403.7,352.6 403.7,358.6 M397.2,365.1 390.9,365.0 M397.3,365.0 397.4,358.7 M390.9,365.0 390.9,358.4 M390.9,358.4 397.2,358.5 M397.2,367.3 397.2,365.1 M403.5,365.2 397.3,365.0 M403.7,358.6 397.4,358.7 M397.4,352.3 397.2,358.5 M485.6,415.1 487.7,415.2 M485.6,415.1 485.3,415.4 M487.7,421.9 487.0,421.9 M485.3,415.4 485.5,421.4 M458.3,372.9 464.2,373.1 M458.3,372.9 457.9,369.0 M464.2,373.1 464.8,369.0 M485.3,415.4 478.6,415.4 M478.3,417.4 478.3,415.7 M478.6,415.4 478.3,415.7 M485.6,415.1 485.7,408.8 M485.5,408.6 478.5,408.8 M478.6,415.4 478.5,408.8 M478.3,415.7 471.6,415.2 M471.5,418.9 471.6,415.2 M478.2,408.5 472.0,408.4 M472.0,408.4 471.1,414.8 M471.6,415.2 471.1,414.8 M465.0,415.1 471.1,414.8 M465.0,415.1 464.4,415.7 M464.4,415.7 464.7,419.4 M450.7,372.8 444.2,372.8 M450.7,372.8 450.9,369.0 M444.2,372.8 443.8,369.0 M457.7,373.5 458.3,372.9 M457.7,373.5 450.9,373.0 M443.4,379.4 443.7,373.4 M443.4,379.4 436.5,379.5 M443.7,373.4 436.9,372.5 M436.5,379.5 435.9,373.5 M436.9,372.5 435.9,373.5 M429.2,372.9 435.9,373.5 M429.2,372.9 429.5,368.8 M436.9,372.5 436.9,368.9 M444.2,372.8 443.7,373.4 M376.6,372.5 380.4,372.3 M380.9,366.7 380.4,372.3 M485.7,408.8 487.7,408.7 M485.5,408.6 485.4,401.6 M478.2,408.5 478.9,401.1 M485.4,401.6 478.9,401.1 M450.2,408.5 457.4,408.0 M450.2,408.5 449.9,408.2 M449.9,408.2 450.2,401.5 M450.3,401.4 457.1,401.2 M457.4,408.0 457.1,401.2 M450.2,401.5 443.3,401.4 M450.3,401.4 449.7,394.2 M449.7,394.2 443.4,394.3 M443.4,394.3 443.3,401.4 M449.9,408.2 443.5,408.7 M443.5,408.7 443.1,408.2 M443.1,408.2 443.2,401.5 M415.6,386.5 415.3,394.1 M443.1,414.8 439.7,415.1 M443.1,414.8 443.5,408.7 M436.1,414.5 436.2,408.0 M443.1,408.2 436.2,408.0 M429.1,413.9 429.5,408.3 M436.2,408.0 429.5,408.3 M443.1,414.8 443.8,415.5 M443.8,415.5 443.7,419.3 M457.2,415.0 450.8,414.7 M457.2,415.0 457.8,415.7 M457.8,415.7 457.4,418.7 M450.8,414.7 450.2,415.3 M450.2,415.3 450.6,420.8 M450.2,408.5 450.8,414.7 M458.0,408.6 457.4,408.0 M458.0,408.6 457.2,415.0 M465.0,415.1 464.0,408.3 M464.4,415.7 457.8,415.7 M464.0,408.3 458.0,408.6 M443.8,415.5 450.2,415.3 M415.4,368.4 415.6,372.3 M422.5,368.6 422.2,372.6 M415.6,372.3 422.2,372.6 M429.2,372.9 422.7,373.1 M422.7,373.1 422.2,372.6 M387.6,367.1 388.1,372.4 M394.7,367.5 394.7,372.3 M394.7,372.3 388.1,372.4 M478.5,368.8 478.4,373.2 M484.6,373.2 478.5,373.3 M478.3,394.0 478.6,387.3 M478.3,394.0 471.4,393.8 M478.6,387.3 472.0,386.8 M471.4,393.8 471.3,387.5 M471.3,387.5 472.0,386.8 M479.2,380.5 478.8,387.1 M479.2,380.5 485.3,380.2 M486.1,385.4 486.2,387.1 M478.8,387.1 485.7,387.7 M485.7,387.7 486.2,387.1 M478.9,380.2 478.5,373.3 M478.9,380.2 479.2,380.5 M485.6,393.8 478.4,394.2 M485.6,393.8 485.7,387.7 M487.6,394.1 485.8,393.9 M485.8,393.9 485.4,401.6 M485.4,401.6 487.6,401.5 M478.4,394.2 478.7,400.9 M449.7,394.2 450.4,393.6 M450.4,393.6 457.4,394.4 M457.1,401.2 457.4,394.4 M464.0,408.3 464.6,407.6 M471.8,408.1 464.6,407.6 M478.7,400.9 472.0,401.5 M471.8,408.1 472.0,401.5 M457.1,401.2 464.5,401.4 M464.6,407.6 464.5,401.4 M450.4,387.6 450.4,393.6 M450.4,387.6 443.2,386.6 M443.3,394.1 443.2,386.6 M451.1,386.9 456.8,386.6 M451.1,386.9 450.3,380.1 M456.8,386.6 457.8,380.2 M450.4,379.9 457.5,379.8 M457.5,379.8 457.8,380.2 M450.4,387.6 451.1,386.9 M458.0,387.9 456.8,386.6 M458.0,387.9 457.7,394.1 M457.7,394.1 457.4,394.4 M443.8,380.0 450.3,380.1 M443.8,380.0 443.2,386.5 M464.4,380.9 457.8,380.2 M464.4,380.9 464.4,387.0 M464.4,387.0 458.0,387.9 M450.9,373.0 450.4,379.9 M443.8,380.0 443.4,379.4 M457.7,373.5 457.5,379.8 M429.2,372.9 429.3,379.9 M422.1,379.4 422.7,373.1 M422.1,379.4 423.2,380.6 M429.3,379.9 423.2,380.6 M443.2,401.5 436.2,401.1 M443.3,394.1 436.6,394.3 M436.2,401.1 436.6,394.3 M436.2,408.0 436.0,401.3 M429.5,408.3 428.5,407.3 M428.5,407.3 429.3,401.1 M436.0,401.3 429.3,401.1 M415.6,379.4 415.5,372.3 M408.7,375.9 408.7,373.0 M408.7,373.0 415.5,372.3 M415.5,386.4 415.3,382.6 M422.1,379.4 415.6,379.4 M408.5,372.8 408.1,368.1 M387.7,374.9 387.5,373.1 M387.5,373.1 380.9,372.9 M380.9,372.9 380.8,374.5 M380.4,372.3 380.9,372.9 M388.1,372.4 387.5,373.1 M401.9,375.6 402.0,373.1 M394.8,375.2 394.7,372.3 M394.7,372.3 401.2,372.3 M402.0,373.1 401.2,372.3 M408.5,372.8 402.0,373.1 M401.8,367.8 401.2,372.3 M471.4,373.1 471.9,373.5 M471.4,373.1 464.9,373.7 M471.9,373.5 471.9,380.5 M464.9,373.7 465.0,380.3 M465.0,380.3 471.7,380.6 M471.3,368.9 471.4,373.1 M478.4,373.2 471.9,373.5 M464.2,373.1 464.9,373.7 M478.9,380.2 471.9,380.5 M464.4,380.9 465.0,380.3 M464.4,387.0 471.3,387.5 M472.0,386.8 471.7,380.6 M471.0,400.5 464.7,401.2 M471.0,400.5 471.4,393.9 M464.7,401.2 463.9,394.5 M471.4,393.9 464.8,393.7 M464.8,393.7 463.9,394.5 M472.0,401.5 471.0,400.5 M457.7,394.1 463.9,394.5 M464.4,387.0 464.8,393.7 M415.6,386.5 422.3,386.8 M415.4,394.2 422.3,393.6 M422.3,386.8 422.3,393.6 M423.2,380.6 422.3,386.7 M422.4,400.6 422.6,394.0 M422.4,400.6 429.2,401.0 M429.2,401.0 429.1,394.0 M422.6,394.0 429.1,394.0 M421.9,401.1 415.8,400.6 M421.9,401.1 422.3,407.7 M422.2,407.8 415.4,407.6 M415.4,407.6 415.0,401.5 M415.0,401.5 415.8,400.6 M415.4,394.2 415.8,400.6 M422.4,400.6 421.9,401.1 M422.6,394.0 422.3,393.6 M428.5,407.3 422.3,407.7 M422.2,412.1 422.2,407.8 M429.1,394.0 429.7,393.5 M436.5,394.1 429.7,393.5 M443.2,386.5 436.9,386.9 M436.5,394.1 436.9,386.9 M422.3,386.7 429.5,387.5 M429.7,393.5 429.5,387.5 M436.6,386.6 429.9,387.0 M436.6,386.6 436.1,380.0 M429.9,387.0 429.5,380.1 M436.1,380.0 429.5,380.1 M429.5,387.5 429.9,387.0 M436.9,386.9 436.6,386.6 M436.5,379.5 436.1,380.0 M325.1,442.8 325.1,444.8 M325.1,444.8 327.6,443.0 M343.3,467.5 345.2,467.3 M336.7,460.1 345.2,467.3 M325.1,444.8 324.1,446.8 M330.5,454.2 334.0,452.4 M345.2,467.3 353.3,471.0 M353.3,471.0 358.5,459.9 M354.2,454.8 334.0,452.4 M354.2,454.8 357.9,458.9 M357.9,458.9 358.5,459.9 M353.3,471.0 353.3,472.1 M353.3,472.1 346.2,475.3 M498.8,482.0 497.7,479.0 M497.7,479.0 499.3,477.4 M472.3,419.2 472.8,422.8 M472.8,422.8 479.0,421.7 M479.0,421.7 479.2,418.3 M449.6,535.1 448.8,535.2 M448.8,535.2 447.9,539.8 M451.1,541.4 448.5,540.8 M448.5,540.8 447.9,539.8 M423.0,462.7 423.0,469.4 M423.0,462.7 414.1,464.0 M413.2,470.9 411.2,466.7 M413.2,470.9 422.3,470.0 M414.1,464.0 411.2,466.7 M422.3,470.0 423.0,469.4 M334.0,452.4 337.6,447.6 M338.1,444.1 337.6,447.6 M354.2,454.8 350.1,445.2 M337.6,447.6 350.1,445.2 M357.9,458.9 360.6,446.0 M372.6,440.9 371.6,441.0 M372.6,440.9 375.2,450.4 M367.1,446.4 365.8,455.9 M375.2,450.4 365.8,455.9 M358.5,459.9 362.9,458.8 M362.9,458.8 365.8,455.9 M376.8,374.5 376.7,376.6 M376.7,376.6 376.1,377.2 M382.3,385.4 384.9,378.0 M384.2,377.1 384.9,378.0 M384.2,377.1 376.7,376.6 M376.0,378.6 376.6,384.2 M382.0,385.7 376.6,384.2 M375.6,406.6 375.2,412.5 M375.6,406.6 375.2,406.2 M375.2,406.2 374.1,406.3 M375.2,412.5 373.6,412.4 M472.6,423.0 465.5,422.1 M465.5,422.1 465.6,419.7 M458.4,422.2 465.3,422.2 M458.4,422.2 458.1,419.3 M382.0,406.8 388.9,406.3 M382.0,406.8 382.1,412.7 M388.9,406.3 388.0,413.2 M388.0,413.2 382.1,412.7 M395.6,412.5 389.1,414.4 M395.6,412.5 396.7,414.0 M396.7,414.0 397.1,419.5 M397.1,419.5 395.2,420.9 M395.2,420.9 388.8,419.6 M389.1,414.4 388.8,419.6 M387.3,427.1 388.2,420.1 M387.3,427.1 394.8,427.4 M394.8,427.4 395.2,420.9 M388.8,419.6 388.2,420.1 M395.5,428.2 394.8,427.4 M395.5,428.2 401.9,427.1 M397.1,419.5 401.3,420.6 M401.3,420.6 402.1,421.4 M402.1,421.4 401.9,427.1 M429.7,462.9 423.1,462.6 M429.7,462.9 430.2,456.0 M430.2,456.0 429.1,455.0 M429.1,455.0 422.4,457.4 M423.1,462.6 422.4,457.4 M421.1,456.3 422.4,457.4 M421.1,456.3 421.9,448.6 M429.0,449.4 429.1,455.0 M429.0,449.4 428.5,448.8 M428.5,448.8 421.9,448.6 M416.3,456.4 421.1,456.3 M416.3,456.4 414.1,464.0 M350.3,484.7 355.1,475.8 M355.1,475.8 364.5,483.5 M361.9,492.8 364.2,490.9 M364.5,483.5 366.4,486.8 M364.2,490.9 366.4,486.8 M353.3,472.1 355.1,475.8 M377.8,471.9 378.0,466.0 M377.8,471.9 364.5,483.5 M362.9,458.8 378.0,466.0 M383.6,477.8 377.8,471.9 M383.6,477.8 383.5,482.1 M371.9,489.0 366.4,486.8 M364.5,494.2 364.2,490.9 M404.5,502.6 406.4,503.9 M406.4,503.9 406.7,504.2 M406.7,504.2 406.3,507.8 M416.3,456.4 414.8,455.1 M414.8,455.1 409.7,455.3 M411.2,466.7 409.2,465.8 M409.2,465.8 409.7,455.3 M387.6,475.2 388.7,465.4 M387.6,475.2 397.3,477.3 M398.6,468.5 393.7,465.2 M398.6,468.5 398.4,475.2 M388.7,465.4 393.7,465.2 M397.3,477.3 398.4,475.2 M383.6,477.8 387.6,475.2 M383.8,463.2 378.0,466.0 M383.8,463.2 388.7,465.4 M390.5,483.6 397.1,482.4 M397.1,482.4 397.3,477.3 M413.2,470.9 413.1,472.1 M409.2,465.8 404.6,465.5 M404.6,465.5 398.6,468.5 M398.4,475.2 407.7,476.6 M413.1,472.1 407.7,476.6 M410.2,503.1 406.7,504.2 M410.2,503.1 415.4,497.5 M406.4,503.9 409.7,487.3 M415.2,490.1 415.4,497.5 M415.2,490.1 411.3,487.2 M411.3,487.2 409.7,487.3 M477.7,464.4 479.3,463.3 M477.7,464.4 472.1,462.5 M479.3,463.3 479.1,457.3 M472.1,456.9 479.1,457.3 M472.1,456.9 471.8,457.3 M472.1,462.5 471.8,457.3 M479.0,421.7 480.6,422.7 M486.2,421.9 486.0,422.5 M486.0,422.5 480.6,422.7 M449.3,548.1 448.2,547.9 M448.5,540.8 447.1,546.8 M448.2,547.9 447.1,546.8 M447.6,490.9 449.3,485.6 M447.6,490.9 442.7,492.3 M449.3,485.6 443.4,483.0 M443.4,483.0 440.4,484.5 M440.4,484.5 442.7,492.3 M442.2,497.4 435.1,499.7 M442.2,497.4 442.6,492.4 M434.9,499.5 434.4,491.6 M442.6,492.4 434.4,491.6 M449.3,485.6 451.3,484.4 M443.4,483.0 444.9,477.4 M451.3,484.4 449.6,477.2 M444.9,477.4 449.6,477.2 M457.0,478.4 449.9,476.9 M457.0,478.4 455.5,484.9 M451.3,484.4 455.5,484.9 M457.0,478.4 458.0,477.5 M458.0,477.5 455.5,471.8 M455.5,471.8 451.4,472.0 M449.9,476.9 451.4,472.0 M455.6,512.3 456.1,507.1 M463.2,507.3 463.3,506.6 M463.3,506.6 457.3,505.9 M456.1,507.1 457.3,505.9 M450.5,493.2 447.6,490.9 M450.5,493.2 450.0,499.4 M443.1,498.5 442.2,497.4 M443.1,498.5 449.8,499.6 M456.1,507.1 449.2,505.9 M457.3,505.9 456.5,500.0 M449.2,505.9 449.8,499.6 M450.0,499.4 456.4,499.9 M450.5,493.2 456.0,492.2 M456.4,499.9 456.0,492.2 M455.5,484.9 456.4,485.7 M456.4,485.7 457.5,490.6 M456.0,492.2 457.5,490.6 M463.6,497.8 456.5,500.0 M463.6,497.8 463.9,492.7 M457.5,490.6 463.6,492.5 M442.2,524.8 448.2,527.9 M442.2,524.8 439.7,526.3 M439.7,526.3 441.7,532.9 M441.7,532.9 447.2,533.0 M447.2,533.0 448.2,527.9 M448.8,535.2 447.2,533.0 M434.2,533.7 434.3,526.6 M435.8,525.8 434.3,526.6 M435.8,525.8 439.7,526.3 M441.7,532.9 441.3,533.4 M434.4,534.0 441.3,533.4 M455.4,512.6 449.4,513.9 M448.0,506.7 448.4,512.9 M448.0,506.7 449.2,505.9 M449.4,513.9 448.4,512.9 M450.0,520.2 449.0,519.3 M449.4,513.9 449.0,519.3 M442.2,524.8 443.6,520.4 M449.0,519.3 443.6,520.4 M448.4,512.9 441.4,513.5 M443.6,520.4 441.5,517.9 M441.4,513.5 441.5,517.9 M435.8,525.8 436.0,519.6 M441.5,517.9 436.0,519.6 M414.8,518.0 412.8,516.1 M447.1,546.8 442.3,547.4 M447.9,539.8 441.5,540.0 M441.2,547.1 441.5,540.0 M441.3,533.4 440.7,539.5 M441.5,540.0 440.7,539.5 M434.4,534.0 435.1,539.8 M440.7,539.5 435.1,539.8 M402.7,486.7 398.4,484.6 M402.7,486.7 401.0,495.3 M398.4,484.6 396.0,488.5 M397.1,482.4 398.4,484.6 M407.7,476.6 408.7,486.8 M408.7,486.8 402.7,486.7 M409.7,487.3 408.7,486.8 M391.1,375.4 390.9,376.6 M384.2,377.1 384.2,375.0 M384.9,378.0 388.9,378.2 M390.9,376.6 388.9,378.2 M382.3,385.4 390.2,385.8 M388.9,378.2 391.3,384.2 M390.2,385.8 391.3,384.2 M376.6,384.2 375.6,384.8 M382.0,406.8 381.2,406.0 M381.2,406.0 381.7,399.8 M388.9,406.3 390.2,405.3 M389.6,401.4 390.2,405.3 M389.6,401.4 382.7,398.9 M381.7,399.8 382.7,398.9 M397.2,375.7 397.2,378.6 M403.1,375.9 403.1,378.5 M403.1,378.5 397.7,379.2 M397.7,379.2 397.2,378.6 M390.9,376.6 397.2,378.6 M391.3,384.2 396.3,383.5 M396.3,383.5 397.7,379.2 M403.8,379.0 409.3,379.1 M403.8,379.0 403.1,378.5 M409.3,379.1 410.0,376.2 M415.1,380.0 409.6,379.5 M409.3,379.1 409.6,379.5 M471.7,449.9 464.8,451.1 M471.7,449.9 471.3,444.1 M471.3,444.1 463.9,443.0 M463.9,443.0 463.6,450.1 M463.6,450.1 464.8,451.1 M464.3,456.2 465.5,457.4 M464.3,456.2 464.8,451.1 M472.1,456.9 472.0,450.2 M472.0,450.2 471.7,449.9 M471.8,457.3 465.5,457.4 M455.5,471.8 457.6,470.0 M449.7,469.7 451.4,472.0 M449.7,469.7 449.7,465.7 M457.6,470.0 457.2,464.2 M449.7,465.7 452.5,463.4 M452.5,463.4 457.2,464.2 M451.5,449.1 458.4,450.3 M451.5,449.1 451.6,444.2 M451.9,443.9 457.6,443.2 M457.6,443.2 458.4,450.2 M458.5,442.4 456.6,435.0 M458.5,442.4 457.6,443.2 M452.9,435.6 456.6,435.0 M452.9,435.6 451.1,437.1 M451.1,437.1 451.9,443.9 M463.4,442.5 463.9,443.0 M463.4,442.5 458.5,442.4 M463.6,450.1 458.4,450.2 M464.3,456.2 459.2,457.5 M459.2,457.5 457.1,455.6 M457.1,455.6 458.4,450.3 M438.0,447.8 437.0,443.4 M438.0,447.8 436.2,449.8 M429.0,449.4 436.2,449.8 M428.5,448.8 430.1,442.6 M437.0,443.4 430.1,442.6 M456.9,434.7 457.5,428.4 M456.9,434.7 464.9,435.3 M464.9,435.3 466.0,431.1 M457.6,428.3 464.9,429.6 M464.9,429.6 466.0,431.1 M452.9,435.6 449.3,428.8 M449.3,428.8 450.2,428.2 M450.2,428.2 457.5,428.4 M463.4,442.5 465.2,435.8 M465.2,435.8 464.9,435.3 M458.0,422.7 457.6,428.3 M458.0,422.7 451.8,422.4 M451.8,422.4 450.2,428.2 M458.4,422.2 458.0,422.7 M465.3,422.2 464.9,429.6 M472.6,423.0 472.4,427.5 M472.4,427.5 470.6,430.0 M470.6,430.0 466.0,431.1 M409.6,379.5 409.7,386.2 M414.9,386.2 411.5,387.3 M409.7,386.2 411.5,387.3 M411.9,392.0 411.5,387.3 M411.9,392.0 414.7,392.8 M396.7,414.0 404.2,413.3 M401.3,420.6 404.5,413.8 M404.2,413.3 404.5,413.8 M409.8,421.3 408.4,415.2 M409.8,421.4 402.1,421.4 M404.5,413.8 408.4,415.2 M409.8,421.3 416.4,419.7 M416.4,419.7 417.2,415.0 M417.2,415.0 416.7,414.2 M416.7,414.2 410.5,413.4 M408.4,415.2 410.5,413.4 M411.9,392.0 409.2,394.9 M414.5,398.7 410.1,398.6 M410.1,398.6 409.2,394.9 M395.4,434.2 388.8,435.2 M395.4,434.2 396.2,434.9 M388.7,440.8 395.9,441.5 M396.2,434.9 395.9,441.5 M388.8,435.2 388.6,440.7 M395.5,428.2 395.4,434.2 M387.1,427.2 388.0,434.6 M388.8,435.2 388.0,434.6 M380.6,420.3 381.9,419.2 M380.6,420.3 374.6,418.9 M381.9,419.2 381.7,413.1 M381.7,413.1 375.7,413.2 M374.6,418.9 375.7,413.2 M387.1,427.2 380.5,427.2 M380.5,427.2 380.6,420.3 M388.2,420.1 381.9,419.2 M388.0,413.2 389.1,414.4 M382.1,412.7 381.7,413.1 M381.2,406.0 375.6,406.6 M375.2,412.5 375.7,413.2 M373.7,419.5 373.1,419.4 M373.7,419.5 374.6,418.9 M381.0,449.9 382.6,450.7 M381.0,449.9 375.2,450.4 M383.8,463.2 384.4,456.0 M384.4,456.0 382.6,450.7 M416.4,419.7 418.1,421.5 M409.8,421.4 409.9,427.0 M409.9,427.0 417.9,427.5 M418.1,421.5 417.9,427.5 M416.3,448.5 414.8,442.4 M416.3,448.5 421.9,448.6 M421.9,448.6 421.6,443.1 M421.6,443.1 416.6,441.2 M414.8,442.4 416.6,441.2 M414.8,455.1 415.4,449.2 M415.4,449.2 416.3,448.5 M409.3,428.0 410.6,434.2 M409.3,428.0 403.3,428.4 M402.0,435.0 410.1,434.9 M402.0,435.0 403.3,428.4 M410.1,434.9 410.6,434.2 M416.7,434.2 418.3,428.1 M416.7,434.2 410.6,434.2 M409.9,427.0 409.3,428.0 M417.9,427.5 418.3,428.1 M401.9,427.1 403.3,428.4 M396.2,434.9 402.0,435.1 M415.4,449.2 409.1,448.4 M409.7,455.3 408.2,454.1 M409.1,448.4 408.2,454.1 M404.6,465.5 402.0,455.3 M408.2,454.1 402.0,455.3 M470.0,491.7 471.5,486.2 M470.0,491.7 463.9,492.7 M463.6,492.5 464.8,484.6 M471.5,486.2 464.8,484.6 M463.3,477.2 458.0,477.5 M463.3,477.2 464.4,479.0 M456.4,485.7 463.7,483.0 M464.4,479.0 463.7,483.0 M463.7,483.0 464.8,484.6 M441.4,513.5 441.1,513.1 M436.0,519.6 434.2,517.8 M434.2,517.8 436.0,512.0 M436.0,512.0 441.1,513.1 M448.0,506.7 443.0,505.8 M441.1,513.1 443.0,505.8 M443.1,498.5 442.9,505.7 M415.2,490.1 421.6,490.6 M421.6,490.6 422.1,490.9 M422.1,490.9 422.3,497.7 M415.4,497.5 421.9,498.1 M421.9,498.1 422.3,497.7 M410.2,503.1 420.5,505.3 M421.9,498.1 420.5,505.3 M472.0,450.2 478.4,450.3 M479.1,457.3 479.4,456.9 M479.4,456.9 479.5,451.3 M478.4,450.3 479.5,451.3 M479.3,463.3 485.4,464.6 M485.8,464.4 485.4,464.6 M485.8,464.4 486.6,457.3 M479.4,456.9 486.4,457.1 M479.5,451.3 485.2,450.5 M486.4,457.1 485.2,450.5 M493.7,423.8 493.5,430.7 M486.0,422.5 487.5,424.0 M487.5,424.0 493.5,423.8 M492.5,431.7 487.3,428.7 M492.5,431.7 493.5,430.7 M487.5,424.0 487.3,428.7 M492.5,431.7 492.1,435.7 M492.1,435.7 494.1,436.1 M494.3,443.6 492.9,443.8 M495.2,450.5 492.3,450.6 M492.9,443.8 492.0,450.2 M492.0,450.2 492.3,450.6 M498.5,457.3 494.1,458.0 M492.2,456.4 492.3,450.6 M492.2,456.4 494.1,458.0 M486.6,457.3 492.2,456.4 M485.9,449.6 485.2,450.5 M485.9,449.6 492.0,450.2 M492.1,435.7 491.3,436.4 M492.9,443.8 492.1,443.1 M492.1,443.1 491.3,436.4 M485.9,449.6 485.2,443.8 M492.1,443.1 485.2,443.8 M472.4,427.5 478.6,430.6 M480.6,422.7 480.0,429.3 M478.6,430.6 480.0,429.3 M487.3,428.7 485.1,430.8 M480.0,429.3 485.1,430.8 M491.3,436.4 485.4,436.5 M485.1,430.8 485.4,436.5 M485.2,443.8 484.8,443.5 M484.8,443.5 485.0,436.8 M485.4,436.5 485.0,436.8 M471.9,443.3 472.5,438.4 M471.9,443.3 479.6,444.1 M479.7,444.0 478.0,436.2 M472.5,438.4 474.4,436.5 M474.4,436.5 477.6,435.8 M477.6,435.8 478.0,436.2 M465.2,435.8 472.5,438.4 M471.3,444.1 471.9,443.3 M478.4,450.3 479.6,444.1 M484.8,443.5 479.7,444.0 M485.0,436.8 478.0,436.2 M470.6,430.0 474.4,436.5 M478.6,430.6 477.6,435.8 M463.6,497.8 464.6,499.1 M464.6,499.1 463.7,506.4 M429.4,484.0 426.7,490.4 M429.4,484.0 434.5,485.4 M434.5,485.4 434.4,491.6 M434.4,491.6 429.1,492.4 M429.1,492.4 426.7,490.4 M440.4,484.5 437.5,483.7 M437.5,483.7 434.5,485.4 M434.9,499.5 428.5,498.7 M428.5,498.7 429.1,492.4 M422.1,490.9 426.7,490.4 M428.2,498.8 422.3,497.7 M430.5,463.6 429.7,462.9 M430.5,463.6 429.8,469.9 M423.0,469.4 429.0,470.8 M429.8,469.9 429.0,470.8 M443.3,475.9 442.6,471.6 M443.3,475.9 436.8,478.3 M437.7,470.6 435.1,476.6 M437.7,470.6 442.5,471.5 M436.8,478.3 435.1,476.6 M444.9,477.4 443.3,475.9 M449.7,469.7 442.6,471.6 M437.5,483.7 436.8,478.3 M436.9,469.5 437.7,470.6 M436.9,469.5 429.8,469.9 M429.0,470.8 429.8,475.4 M430.5,476.2 429.8,475.4 M430.5,476.2 435.1,476.6 M428.9,483.3 430.5,476.2 M428.9,483.3 429.4,484.0 M422.7,477.1 415.3,476.0 M422.8,477.3 422.9,482.2 M415.3,482.4 415.3,476.0 M415.3,482.4 422.5,482.5 M422.5,482.5 422.9,482.2 M422.3,470.0 422.7,477.1 M429.8,475.4 422.8,477.3 M413.1,472.1 415.3,476.0 M428.9,483.3 422.9,482.2 M411.3,487.2 415.3,482.4 M421.6,490.6 422.5,482.5 M464.3,472.5 463.6,471.5 M464.3,472.5 470.4,470.9 M463.6,471.5 463.6,464.3 M470.4,470.9 469.5,464.6 M469.5,464.6 465.3,463.4 M465.3,463.4 463.6,464.3 M463.3,477.2 464.3,472.5 M457.6,470.0 463.6,471.5 M457.2,464.2 458.7,463.2 M458.7,463.2 463.6,464.3 M472.1,462.5 469.5,464.6 M465.5,457.4 465.3,463.4 M459.2,457.5 458.7,463.2 M426.4,539.9 427.2,534.3 M427.2,534.3 426.1,532.5 M426.1,532.5 420.2,532.5 M434.2,533.7 427.2,534.3 M434.3,526.6 428.0,525.3 M427.8,525.4 426.1,532.5 M420.0,525.4 420.2,532.5 M420.0,525.4 421.0,524.9 M427.8,525.4 421.0,524.9 M420.0,525.4 418.2,525.1 M434.1,541.1 434.9,545.2 M434.1,541.1 427.4,540.6 M435.1,539.8 434.1,541.1 M390.8,399.5 397.0,398.5 M390.8,399.5 389.6,392.7 M397.0,398.5 395.2,391.9 M395.2,391.9 391.1,391.5 M389.6,392.7 391.1,391.5 M389.6,401.4 390.8,399.5 M382.7,398.9 383.4,393.0 M383.4,393.0 389.6,392.7 M382.0,385.7 382.6,392.1 M390.2,385.8 391.1,391.5 M383.4,393.0 382.6,392.1 M375.1,392.4 375.7,393.0 M375.7,393.0 374.9,399.0 M374.6,399.2 374.9,399.0 M382.6,392.1 375.7,393.0 M381.7,399.8 374.9,399.0 M375.2,406.2 374.5,400.6 M436.9,469.5 437.1,464.3 M442.5,471.5 443.5,463.3 M443.5,463.3 437.1,464.3 M449.7,465.7 443.7,463.1 M436.2,449.8 437.0,456.1 M430.2,456.0 436.5,456.5 M437.0,456.1 436.5,456.5 M430.5,463.6 435.7,463.1 M436.5,456.5 435.7,463.1 M435.7,463.1 437.1,464.3 M451.2,449.6 451.9,456.2 M451.2,449.6 444.2,450.4 M444.2,450.4 443.6,456.3 M451.9,456.2 451.3,456.9 M451.3,456.9 444.1,456.9 M443.6,456.3 444.1,456.9 M457.1,455.6 451.9,456.2 M451.5,449.1 451.2,449.6 M443.4,449.0 445.4,443.5 M443.4,449.0 444.2,450.4 M445.4,443.5 451.6,444.2 M438.0,447.8 443.4,449.0 M437.0,456.1 443.6,456.3 M452.5,463.4 451.3,456.9 M443.7,463.1 444.1,456.9 M449.1,420.8 444.9,422.1 M443.8,419.6 443.6,421.1 M443.6,421.1 444.9,422.1 M451.8,422.4 450.5,421.1 M445.6,428.9 444.9,422.1 M445.6,428.9 449.3,428.8 M451.1,437.1 444.7,436.7 M445.4,443.5 444.5,442.0 M444.7,436.7 444.5,442.0 M437.0,443.4 437.2,443.0 M444.5,442.0 437.2,443.0 M398.2,386.2 396.6,390.9 M398.2,386.2 403.3,386.1 M396.6,390.9 403.5,393.3 M403.3,386.1 404.9,387.5 M404.9,387.5 404.2,392.9 M403.5,393.3 404.2,392.9 M396.3,383.5 398.2,386.2 M395.2,391.9 396.6,390.9 M403.8,379.0 403.3,386.1 M409.7,386.2 404.9,387.5 M409.2,394.9 404.2,392.9 M410.1,398.6 409.3,400.1 M414.2,406.5 411.0,406.4 M409.3,400.1 411.0,406.4 M416.7,414.2 416.7,409.5 M410.5,413.4 410.6,406.8 M411.0,406.4 410.6,406.8 M404.2,413.3 404.0,408.0 M410.6,406.8 404.0,408.0 M373.6,426.1 372.7,426.3 M373.6,426.1 375.0,427.3 M375.0,427.3 373.0,434.5 M373.0,434.5 372.1,434.3 M373.7,419.5 373.6,426.1 M380.3,427.4 375.0,427.3 M382.6,435.3 381.1,441.1 M382.6,435.3 380.5,433.4 M380.5,433.4 374.1,435.8 M380.8,441.4 381.1,441.1 M380.8,441.4 374.3,438.8 M374.3,438.8 374.1,435.8 M388.0,434.6 382.6,435.3 M388.6,440.7 381.1,441.1 M380.3,427.4 380.5,433.4 M373.0,434.5 374.1,435.8 M381.0,449.9 380.8,441.4 M388.7,440.8 388.4,447.7 M388.4,447.7 382.6,450.7 M372.6,440.9 374.3,438.8 M443.6,421.1 438.1,421.3 M436.9,414.9 438.1,421.3 M402.0,435.1 403.3,441.5 M410.1,434.9 409.9,441.0 M403.3,441.5 409.9,441.0 M414.8,442.4 410.5,441.7 M408.9,448.2 410.5,441.7 M417.9,435.5 416.7,434.2 M417.9,435.5 416.6,441.2 M410.5,441.7 409.9,441.0 M388.4,447.7 392.5,448.4 M384.4,456.0 395.1,455.2 M392.5,448.4 395.1,455.2 M393.7,465.2 395.9,455.9 M402.0,455.3 401.0,454.7 M401.0,454.7 395.9,455.9 M395.9,455.9 395.1,455.2 M464.4,479.0 471.6,479.4 M470.4,470.9 471.7,471.5 M471.6,479.4 471.7,471.5 M484.1,470.9 485.4,472.6 M484.1,470.9 477.4,471.5 M485.4,472.6 483.8,478.2 M483.8,478.2 478.5,476.9 M478.5,476.9 477.4,471.5 M477.7,464.4 476.5,470.8 M471.7,471.5 476.5,470.8 M484.1,470.9 485.4,464.6 M477.4,471.5 476.5,470.8 M472.0,485.7 471.7,479.4 M472.0,485.7 478.0,486.5 M478.0,486.5 479.1,485.0 M479.1,485.0 476.7,478.9 M476.7,478.9 471.7,479.4 M471.5,486.2 472.0,485.7 M479.3,491.7 478.0,486.5 M479.3,491.7 477.8,493.3 M470.1,491.8 477.8,493.3 M478.5,476.9 476.7,478.9 M484.5,479.5 483.0,483.6 M484.5,479.5 491.8,480.0 M483.0,483.6 484.9,485.4 M486.3,486.5 491.5,486.9 M491.9,486.3 491.5,486.9 M491.9,486.3 491.9,480.1 M483.8,478.2 484.5,479.5 M479.1,485.0 483.0,483.6 M485.4,472.6 491.1,472.9 M491.1,472.9 491.8,480.0 M483.0,492.2 479.3,491.7 M483.0,492.2 484.2,489.8 M491.5,488.4 491.5,486.9 M484.1,493.1 483.0,492.2 M496.2,486.6 491.9,486.3 M497.7,479.0 491.9,480.1 M434.2,517.8 428.1,518.2 M428.0,525.3 428.1,518.3 M421.0,524.9 421.0,517.4 M428.1,518.3 421.0,517.4 M414.8,518.0 420.8,517.2 M500.1,466.0 493.2,463.8 M500.1,466.0 499.5,471.3 M499.1,471.8 499.5,471.3 M499.1,471.8 492.4,471.5 M492.4,471.5 491.1,465.4 M491.1,465.4 493.2,463.8 M500.1,459.5 500.1,466.0 M494.1,458.0 493.2,463.8 M499.5,475.3 499.1,471.8 M500.0,471.3 499.5,471.3 M491.1,472.9 492.4,471.5 M485.8,464.4 491.1,465.4 M500.1,466.0 501.0,465.8 M471.6,499.0 476.8,499.7 M471.6,499.0 470.0,499.9 M470.0,499.9 469.8,504.2 M470.1,491.8 471.6,499.0 M477.8,493.3 477.0,499.6 M464.6,499.1 470.0,499.9 M463.7,506.4 464.9,506.6 M402.6,406.8 402.6,401.1 M402.6,406.8 395.9,408.3 M395.9,408.3 394.7,407.0 M394.7,407.0 398.0,399.1 M402.6,401.1 400.9,399.3 M398.0,399.1 400.9,399.3 M409.3,400.1 402.6,401.1 M404.0,408.0 402.6,406.8 M395.6,412.5 395.9,408.3 M390.2,405.3 394.7,407.0 M397.0,398.5 398.0,399.1 M403.5,393.3 400.9,399.3 M417.2,415.0 423.3,414.2 M423.7,413.1 423.7,413.7 M423.3,414.2 423.7,413.7 M423.7,413.7 424.7,413.6 M396.2,442.1 403.3,441.5 M396.2,442.1 395.7,446.0 M395.7,446.0 401.1,448.6 M403.3,441.5 403.1,447.0 M403.1,447.0 401.1,448.6 M395.9,441.5 396.2,442.1 M392.5,448.4 395.7,446.0 M401.0,454.7 401.1,448.6 M408.9,448.2 403.1,447.0 M436.0,512.0 435.8,511.7 M442.9,505.7 436.5,505.2 M435.8,511.7 436.5,505.2 M435.1,499.7 435.4,503.9 M435.4,503.9 436.5,505.2 M445.6,428.9 445.1,429.4 M438.1,421.3 437.3,422.3 M437.3,422.3 438.0,427.8 M438.0,427.8 445.1,429.4 M444.7,436.7 443.9,435.7 M445.1,429.4 443.9,435.7 M420.8,505.6 427.2,505.6 M420.8,505.6 420.3,510.5 M427.2,505.6 428.6,506.8 M428.6,506.8 429.2,510.9 M428.3,512.3 421.1,511.6 M428.3,512.3 429.2,510.9 M420.3,510.5 421.1,511.6 M428.2,498.8 427.2,505.6 M420.5,505.3 420.8,505.6 M410.2,513.1 420.3,510.5 M435.4,503.9 428.6,506.8 M435.8,511.7 429.2,510.9 M428.1,518.2 428.3,512.3 M420.8,517.2 421.1,511.6 M425.0,427.6 429.6,428.7 M425.0,427.6 424.3,421.2 M429.6,428.7 431.6,422.5 M424.3,421.2 424.9,420.5 M424.9,420.5 429.4,420.1 M429.4,420.1 431.6,422.5 M418.1,421.5 424.3,421.2 M418.3,428.1 423.6,428.5 M423.6,428.5 425.0,427.6 M423.3,414.2 424.9,420.5 M431.4,414.5 429.4,420.1 M437.3,422.3 431.6,422.5 M438.0,427.8 437.2,428.6 M429.6,428.7 430.5,429.9 M430.5,429.9 437.2,428.6 M443.9,435.7 438.0,436.1 M437.2,428.6 438.0,436.1 M437.2,443.0 438.0,436.2 M429.6,441.7 431.5,435.6 M429.6,441.7 424.3,440.3 M424.3,440.3 422.6,436.0 M431.5,435.6 430.4,433.8 M430.4,433.8 423.3,435.2 M422.6,436.0 423.3,435.2 M430.1,442.6 429.6,441.7 M438.0,436.2 431.5,435.6 M421.6,443.1 424.3,440.3 M417.9,435.5 422.6,436.0 M430.5,429.9 430.4,433.8 M423.6,428.5 423.3,435.2 M455.9,200.0 457.3,198.4 M453.0,188.7 457.5,188.8 M457.5,188.8 457.3,198.4 M464.2,204.8 463.7,198.4 M464.2,204.8 456.3,205.0 M457.3,198.4 463.7,198.4 M457.5,188.8 462.7,186.1 M463.7,198.4 464.7,197.2 M462.7,186.1 464.7,197.2 M501.4,184.0 487.7,184.2 M487.7,184.2 491.2,181.4 M513.4,188.9 511.0,190.0 M511.0,190.0 508.3,190.1 M508.3,190.1 504.9,186.2 M483.9,186.0 490.3,194.3 M483.9,186.0 487.7,184.2 M490.3,194.3 503.3,193.3 M503.3,193.3 508.3,190.1 M483.9,186.0 481.3,184.8 M480.8,179.2 479.9,183.0 M479.9,183.0 481.3,184.8 M464.5,184.0 470.9,181.3 M464.5,184.0 456.7,178.3 M470.9,181.3 468.2,175.6 M456.7,178.3 456.7,175.7 M452.3,178.5 456.7,178.3 M462.7,186.1 464.5,184.0 M479.9,183.0 470.9,181.3 M481.3,184.8 477.3,192.2 M464.7,197.2 471.1,197.9 M471.1,197.9 477.3,192.2 M464.2,204.8 469.9,209.4 M471.1,197.9 469.9,209.4 M489.2,199.3 481.3,207.9 M489.2,199.3 490.5,196.4 M490.5,196.4 490.3,194.3 M481.3,207.9 477.8,207.9 M477.3,192.2 477.8,207.9 M526.9,187.1 529.3,189.7 M529.3,189.7 532.7,189.7 M515.9,188.3 520.5,197.1 M520.3,186.8 523.3,186.7 M529.5,191.5 529.3,189.7 M489.2,199.3 491.9,214.3 M481.3,207.9 487.3,214.4 M491.9,214.3 487.3,214.4 M456.7,210.2 460.6,214.5 M460.6,214.5 458.3,217.4 M469.9,209.4 470.6,210.6 M460.6,214.5 464.4,214.1 M470.6,210.6 464.4,214.1 M459.3,223.5 458.8,221.1 M459.3,223.5 465.0,223.6 M464.4,214.1 465.0,223.6 M459.3,223.5 459.1,223.8 M465.8,263.4 465.9,264.3 M465.8,263.4 460.7,263.4 M466.4,257.0 466.2,263.0 M466.4,257.0 465.0,255.9 M465.0,255.9 460.6,256.5 M465.8,263.4 466.2,263.0 M460.5,237.3 465.3,237.4 M458.7,233.6 458.3,231.0 M465.5,237.2 466.3,231.7 M464.3,229.9 466.3,231.7 M464.3,229.9 458.7,230.5 M458.7,230.5 458.3,231.0 M465.5,224.0 465.0,223.6 M465.5,224.0 464.3,229.9 M458.7,226.2 458.7,230.5 M519.0,256.1 518.8,261.8 M518.8,261.8 521.3,261.7 M517.5,254.7 519.0,256.1 M503.3,193.3 504.7,206.1 M511.0,190.0 510.7,202.6 M504.7,206.1 506.3,206.2 M510.7,202.6 506.3,206.2 M510.7,202.6 515.1,203.3 M499.8,206.7 503.5,206.8 M499.8,206.7 492.6,214.6 M503.5,206.8 503.7,216.3 M503.7,216.3 494.2,217.2 M492.6,214.6 494.2,217.2 M490.5,196.4 499.8,206.7 M504.7,206.1 503.5,206.8 M491.9,214.3 492.6,214.6 M490.8,229.3 485.2,229.5 M490.8,229.3 492.1,223.2 M492.1,223.2 484.7,223.6 M484.7,223.6 485.1,229.5 M487.3,214.4 484.8,217.2 M484.8,217.2 484.4,223.3 M494.5,220.8 494.2,217.2 M494.5,220.8 492.1,223.2 M484.4,223.3 484.7,223.6 M477.8,207.9 471.7,210.9 M470.6,210.6 471.3,210.9 M484.8,217.2 477.9,217.7 M471.7,210.9 477.9,217.7 M465.5,224.0 470.9,223.9 M471.3,210.9 470.9,223.9 M458.3,231.0 456.1,230.8 M478.3,250.5 478.8,249.8 M478.3,250.5 479.4,256.1 M479.5,256.2 485.6,255.9 M484.4,248.6 478.8,249.8 M484.4,248.6 485.7,249.7 M485.6,255.9 485.7,249.7 M472.3,263.2 472.4,264.2 M472.3,263.2 472.8,262.7 M472.8,262.7 479.6,263.2 M479.6,264.1 479.7,263.3 M466.2,263.0 472.3,263.2 M471.4,255.9 473.0,257.3 M471.4,255.9 466.4,257.0 M473.0,257.3 472.8,262.7 M473.0,257.3 479.4,256.1 M479.5,256.2 479.6,263.2 M485.8,263.2 486.0,263.9 M485.8,263.2 479.7,263.3 M471.9,243.8 465.8,244.9 M471.9,243.8 472.9,250.2 M471.9,251.1 472.9,250.2 M471.9,251.1 465.2,249.8 M465.8,244.9 465.1,249.6 M471.4,255.9 471.9,251.1 M478.3,250.5 472.9,250.2 M465.0,255.9 465.2,249.8 M460.6,249.9 465.1,249.6 M478.8,249.8 477.9,243.3 M471.9,243.8 472.5,243.1 M477.9,243.3 472.5,243.1 M465.5,244.5 465.8,244.9 M465.5,244.5 465.3,237.4 M465.5,237.2 471.6,238.1 M472.5,243.1 471.6,238.1 M471.6,230.4 472.3,237.3 M471.6,230.4 466.3,231.7 M472.3,237.3 471.6,238.1 M517.5,254.7 512.1,255.9 M511.3,248.7 511.0,249.1 M512.1,255.9 511.0,249.1 M494.5,220.8 497.0,223.0 M504.0,216.6 503.9,222.8 M504.0,216.6 503.7,216.3 M497.0,223.0 503.9,222.8 M477.8,223.6 478.5,229.9 M477.8,223.6 471.0,223.9 M478.5,229.9 478.0,230.7 M478.0,230.7 471.6,230.4 M471.6,230.4 471.0,223.9 M484.4,223.3 477.8,223.6 M477.9,217.7 477.8,223.6 M485.1,229.5 478.5,229.9 M478.6,236.1 472.3,237.3 M478.6,236.1 478.0,230.7 M485.8,263.2 486.3,262.6 M485.6,255.9 486.1,256.3 M486.3,262.6 486.1,256.3 M505.6,262.9 505.0,262.3 M505.0,262.3 499.2,263.0 M465.5,244.5 460.5,243.6 M512.2,262.8 512.2,262.3 M518.4,262.3 512.6,261.8 M512.6,261.8 512.2,262.3 M518.8,261.8 518.4,262.3 M505.6,262.9 512.2,262.3 M512.1,255.9 511.9,256.2 M511.9,256.2 512.6,261.8 M505.0,262.3 505.4,256.1 M511.9,256.2 505.4,256.1 M506.3,206.2 509.6,209.3 M504.0,216.6 506.5,216.6 M478.6,242.7 479.3,236.8 M478.6,242.7 484.5,243.7 M485.4,242.7 485.4,236.7 M485.4,242.7 484.5,243.7 M479.3,236.8 485.3,236.6 M477.9,243.3 478.6,242.7 M478.6,236.1 479.3,236.8 M484.4,248.6 484.5,243.7 M491.6,243.8 485.4,242.7 M491.8,243.6 491.8,237.2 M491.8,237.2 491.0,236.6 M491.0,236.6 485.4,236.7 M491.6,243.8 491.0,248.9 M485.7,249.7 491.0,248.9 M485.2,229.5 485.3,236.6 M491.0,236.6 491.9,230.5 M491.9,230.5 490.8,229.3 M505.5,249.5 504.9,255.6 M505.5,249.5 498.4,249.2 M504.9,255.6 498.9,255.6 M498.9,255.6 498.4,249.2 M511.0,249.1 505.5,249.5 M505.4,256.1 504.9,255.6 M498.2,243.6 498.4,249.2 M498.2,243.6 491.8,243.6 M491.0,248.9 492.2,250.2 M492.2,250.2 498.4,249.2 M491.9,230.5 497.8,230.5 M497.0,223.0 498.6,229.6 M497.8,230.5 498.6,229.6 M502.0,243.1 498.4,243.4 M498.4,243.4 497.8,236.9 M502.7,236.6 497.9,236.8 M505.5,249.5 504.9,245.2 M491.8,237.2 497.8,236.9 M497.8,230.5 497.9,236.8 M492.2,255.4 491.9,255.7 M492.2,255.4 498.6,255.9 M491.9,255.7 492.7,262.2 M498.6,255.9 498.3,262.2 M498.3,262.2 493.1,262.5 M492.7,262.2 493.1,262.5 M492.2,250.2 492.2,255.4 M486.1,256.3 491.9,255.7 M498.9,255.6 498.6,255.9 M486.3,262.6 492.7,262.2 M499.2,263.0 498.3,262.2 M492.9,263.7 493.1,262.5 M503.9,222.8 504.9,223.8 M498.6,229.6 500.8,229.6 M462.3,279.3 460.3,279.3 M462.3,279.3 462.5,284.6 M474.2,301.0 468.8,301.2 M474.2,301.0 474.1,295.5 M468.8,301.2 468.5,295.5 M474.1,295.5 468.5,295.5 M474.1,295.4 473.8,289.9 M473.8,289.9 468.4,290.0 M468.4,290.0 468.5,295.5 M467.3,301.3 468.7,301.2 M468.3,306.7 469.0,306.6 M468.7,301.2 469.0,306.6 M517.5,277.1 518.0,282.5 M517.7,276.8 523.1,276.9 M523.1,276.9 523.2,282.4 M518.0,282.5 523.2,282.4 M468.5,295.5 466.0,295.7 M468.4,290.0 464.4,290.1 M468.4,290.0 468.3,284.4 M468.2,284.4 462.6,284.7 M462.6,284.7 462.7,285.7 M473.9,289.8 473.7,284.2 M473.7,284.2 468.3,284.4 M469.0,306.6 469.2,311.1 M462.1,268.4 461.9,273.6 M462.1,268.4 461.7,268.0 M461.7,268.0 459.0,268.1 M460.0,273.7 461.9,273.6 M461.8,264.7 461.7,268.0 M467.9,279.0 468.2,284.4 M467.9,279.0 462.3,279.2 M462.3,279.2 462.1,273.8 M473.9,289.8 479.2,289.6 M473.7,284.2 479.1,284.3 M479.1,284.3 479.3,289.4 M517.7,276.8 517.5,271.8 M517.5,271.8 523.1,271.2 M523.1,276.9 523.1,274.6 M528.6,277.7 528.7,282.1 M532.8,281.9 528.9,282.2 M523.1,276.9 527.0,276.8 M523.4,282.6 528.7,282.1 M517.3,271.5 517.2,266.1 M517.3,271.5 511.8,271.7 M511.8,271.7 511.7,266.1 M511.7,266.1 517.2,266.1 M517.3,266.0 522.4,266.0 M522.7,267.1 523.1,270.8 M517.2,262.8 517.3,266.0 M489.4,264.1 489.7,267.1 M489.7,267.1 495.1,266.7 M495.0,263.9 495.1,266.7 M529.2,293.5 529.3,294.7 M529.2,293.5 532.9,293.1 M526.8,304.3 524.3,304.3 M525.5,298.9 523.9,299.0 M523.9,299.0 524.3,304.3 M529.4,287.6 534.4,287.7 M529.4,287.6 529.0,288.0 M534.4,287.7 534.7,291.0 M529.0,288.0 529.1,293.4 M490.7,300.2 485.4,300.6 M485.4,300.6 485.6,306.1 M490.9,300.5 491.2,305.7 M491.2,305.7 485.6,306.1 M474.7,306.3 469.0,306.6 M474.3,301.0 474.7,306.3 M485.1,300.3 480.1,300.8 M485.1,300.3 485.1,294.9 M479.8,300.5 480.1,300.8 M479.8,300.5 479.3,295.2 M479.6,294.9 484.9,294.8 M480.1,306.2 485.6,306.1 M480.0,306.1 480.1,300.8 M490.6,294.8 485.1,294.9 M490.6,294.8 490.7,300.2 M480.0,306.1 474.7,306.3 M474.3,301.0 479.8,300.5 M474.1,295.4 479.3,295.2 M479.2,289.6 479.6,294.9 M485.0,289.4 484.9,294.8 M479.3,289.4 484.9,289.4 M490.7,294.6 490.2,289.2 M490.2,289.2 485.0,289.4 M491.3,305.7 496.8,305.5 M491.3,305.7 491.4,310.4 M496.8,305.5 496.8,310.2 M502.4,309.9 502.1,305.6 M501.9,305.4 496.9,305.4 M485.6,306.1 485.9,310.6 M474.7,306.3 474.7,311.0 M480.1,306.2 480.4,310.8 M534.5,283.7 534.6,287.5 M534.6,287.5 535.6,287.4 M529.4,287.6 528.9,282.2 M511.6,266.1 511.6,263.1 M500.6,266.8 495.2,266.8 M500.6,266.8 500.5,263.7 M511.8,271.7 506.5,271.8 M511.6,266.1 506.1,266.4 M506.5,271.8 506.1,266.4 M505.9,263.4 506.1,266.4 M500.6,266.9 506.1,266.4 M517.5,277.1 512.3,277.3 M511.8,271.7 512.0,277.1 M512.3,277.3 512.0,277.1 M479.1,284.3 479.4,283.9 M484.9,289.4 484.6,283.8 M479.4,283.9 484.6,283.8 M490.3,283.9 484.7,283.8 M490.3,283.9 490.4,288.9 M502.1,305.6 507.7,305.0 M501.9,305.4 502.1,299.7 M502.1,299.7 507.3,299.6 M507.3,299.6 507.7,305.0 M507.8,309.6 507.7,305.0 M512.3,277.3 512.2,282.8 M512.4,282.9 517.7,282.8 M529.1,293.4 523.9,293.5 M523.7,298.9 523.9,293.5 M524.2,307.4 524.3,304.4 M523.7,298.9 518.5,299.1 M518.5,299.1 518.6,304.5 M524.3,304.4 518.6,304.5 M523.5,287.8 518.1,288.2 M523.6,287.9 523.6,293.3 M518.1,288.2 518.4,293.5 M518.4,293.5 523.6,293.3 M523.4,282.6 523.5,287.8 M518.0,288.1 517.7,282.8 M529.0,288.0 523.6,287.9 M518.3,293.7 518.5,299.1 M473.7,284.2 473.7,278.8 M479.4,283.9 479.0,278.6 M479.0,278.6 473.7,278.8 M467.9,279.0 473.7,278.7 M478.5,264.4 478.5,267.5 M473.0,264.5 473.3,267.7 M478.5,267.5 473.3,267.7 M473.2,273.3 473.0,268.1 M473.2,273.3 467.8,273.7 M473.0,268.1 467.5,267.9 M467.6,273.6 467.4,268.1 M467.9,279.0 467.8,273.7 M473.3,273.3 473.7,278.7 M467.4,264.6 467.5,267.9 M473.3,267.7 473.0,268.1 M462.1,273.8 467.6,273.6 M462.1,268.4 467.4,268.1 M512.2,282.8 506.8,283.0 M512.4,282.9 512.5,288.3 M506.8,283.0 507.1,288.5 M507.1,288.5 512.5,288.3 M518.0,288.1 512.8,288.5 M518.3,293.7 512.8,293.6 M512.8,288.5 512.8,293.6 M501.3,283.4 506.8,283.0 M501.3,283.4 501.4,288.8 M507.0,288.6 501.5,288.9 M490.7,294.6 495.9,294.5 M496.0,289.0 490.4,288.9 M496.0,289.0 495.9,294.5 M518.6,304.6 519.0,309.5 M518.6,304.6 513.1,304.9 M513.1,305.0 513.4,309.3 M522.2,309.9 519.6,310.1 M507.7,305.0 513.1,305.0 M512.0,277.1 506.7,277.4 M506.2,272.1 506.7,277.4 M506.8,283.0 506.5,277.6 M506.5,277.6 501.1,277.7 M501.2,283.2 501.1,277.7 M484.0,264.3 484.1,267.3 M489.6,267.3 484.1,267.3 M495.2,272.4 495.2,266.8 M495.2,272.4 489.8,272.7 M489.6,267.3 489.8,272.7 M478.5,267.6 484.1,267.4 M478.9,273.0 479.1,278.4 M478.9,273.0 484.2,272.7 M484.4,278.2 479.1,278.4 M484.4,278.2 484.4,272.8 M473.3,273.3 478.9,273.0 M478.5,267.6 478.9,273.0 M484.1,267.4 484.2,272.7 M484.8,278.6 484.4,278.2 M484.8,278.6 484.7,283.8 M489.8,272.7 484.4,272.8 M507.4,294.1 507.3,299.6 M507.5,294.0 512.6,293.8 M512.6,293.8 513.1,299.2 M507.3,299.6 513.0,299.4 M507.0,288.6 507.5,294.0 M501.5,288.9 501.7,294.1 M501.7,294.1 507.4,294.1 M518.5,299.1 513.1,299.2 M513.1,304.9 513.0,299.4 M502.0,299.6 496.5,300.1 M502.0,299.6 501.5,294.4 M501.5,294.4 496.1,294.7 M496.1,294.7 496.2,299.9 M496.9,305.4 496.5,300.1 M501.4,288.8 496.0,289.0 M490.9,300.5 496.2,299.9 M495.8,283.3 490.5,283.6 M495.8,283.2 495.6,277.9 M495.6,277.9 490.0,278.1 M490.5,283.6 489.9,278.2 M496.0,289.0 495.8,283.3 M501.2,283.2 495.8,283.2 M484.8,278.6 489.9,278.2 M489.8,272.7 490.0,278.1 M495.4,272.5 500.8,272.2 M495.4,272.5 495.7,277.8 M495.7,277.8 501.1,277.6 M501.1,277.6 501.0,272.3 M500.6,266.9 500.8,272.2 M506.2,272.1 501.0,272.3 M513.1,358.4 513.1,352.7 M513.1,358.4 508.5,359.0 M508.5,359.0 508.0,358.6 M508.0,358.6 507.5,352.8 M513.1,352.7 507.5,352.8 M496.9,364.5 492.1,364.8 M496.9,364.5 496.5,359.1 M492.1,364.8 491.1,359.7 M496.5,359.1 491.2,359.5 M496.9,364.5 497.4,364.7 M492.1,364.8 491.4,365.6 M497.4,364.7 497.3,370.7 M497.3,370.7 491.6,370.0 M491.4,365.6 491.6,370.0 M485.5,360.4 491.1,359.7 M485.5,360.4 485.5,365.0 M491.4,365.6 485.5,365.0 M539.3,339.5 536.1,339.7 M535.2,335.9 536.1,339.7 M513.2,347.2 513.6,346.8 M513.2,347.2 513.1,352.7 M513.6,346.8 518.7,346.5 M518.7,346.5 519.7,352.1 M513.1,352.7 519.0,352.9 M519.0,352.9 519.7,352.1 M506.3,330.0 501.4,330.4 M506.3,330.0 506.9,335.6 M501.2,336.4 501.4,330.4 M501.3,336.5 506.9,335.6 M507.5,347.0 507.2,341.9 M507.5,347.0 513.2,347.2 M512.6,341.4 513.6,346.8 M512.6,341.4 507.4,341.7 M512.3,335.4 512.7,335.7 M512.3,335.4 507.4,336.1 M512.6,341.4 513.3,340.5 M512.7,335.7 513.3,340.5 M507.4,341.7 507.4,336.1 M512.3,335.4 512.1,329.7 M506.5,329.9 511.9,329.6 M507.4,336.1 506.9,335.6 M501.3,336.5 501.3,341.0 M507.2,341.9 501.8,341.5 M501.8,341.5 501.3,341.0 M471.2,314.5 471.7,314.5 M471.7,315.4 471.7,314.5 M471.6,311.4 472.0,314.0 M471.7,314.5 472.0,314.0 M501.2,336.4 495.3,335.5 M501.4,330.4 501.0,330.1 M495.3,335.5 495.5,330.9 M501.0,330.1 495.5,330.9 M494.3,324.8 494.6,318.9 M494.3,324.8 490.0,325.0 M490.0,325.0 489.5,324.6 M489.5,324.6 488.3,320.2 M489.3,318.7 488.3,320.2 M489.3,318.7 494.5,318.8 M489.3,330.7 490.0,325.0 M489.3,330.7 495.3,330.8 M494.7,325.0 495.3,330.8 M494.7,325.0 494.3,324.8 M477.3,314.0 472.0,314.0 M477.3,314.0 477.6,311.2 M507.5,347.0 507.1,347.5 M501.8,341.5 501.2,347.4 M507.1,347.5 501.2,347.4 M507.1,347.5 507.3,352.7 M502.4,359.4 497.1,358.4 M502.6,359.2 502.5,353.5 M497.1,358.4 496.8,354.3 M496.8,354.3 501.9,353.1 M502.5,353.5 501.9,353.1 M496.5,359.1 497.1,358.4 M502.4,364.0 497.4,364.7 M502.4,364.0 502.4,359.4 M508.0,358.6 502.6,359.2 M507.3,352.7 502.5,353.5 M501.2,347.4 500.9,347.7 M500.9,347.7 501.9,353.1 M486.1,371.1 491.3,370.4 M486.1,371.1 486.2,376.2 M491.3,370.4 491.9,376.1 M486.2,376.2 487.1,376.3 M484.7,365.9 485.5,370.7 M485.5,370.7 484.8,370.8 M485.5,360.4 484.9,359.8 M485.5,365.0 484.7,365.9 M491.6,370.0 491.3,370.4 M486.1,371.1 485.5,370.7 M484.4,354.3 484.9,354.2 M484.9,354.2 484.4,351.6 M484.9,359.8 485.0,354.3 M524.3,351.9 525.6,357.4 M524.4,351.8 530.3,351.4 M530.4,351.5 530.1,357.3 M530.1,357.3 525.6,357.4 M513.1,358.4 514.0,359.2 M519.0,352.9 519.4,358.1 M519.4,358.1 514.0,359.2 M521.1,311.7 517.2,312.3 M516.8,309.3 517.2,312.3 M517.7,317.8 521.6,317.4 M517.7,317.8 517.1,312.4 M536.1,339.7 535.8,340.1 M538.0,345.2 536.7,345.2 M535.8,340.1 536.7,345.2 M536.4,351.4 541.6,351.0 M536.4,351.4 535.9,346.3 M541.6,351.0 542.0,350.6 M542.0,349.5 542.0,350.6 M536.7,345.2 535.9,346.3 M523.4,320.8 523.6,323.0 M517.6,317.9 517.9,323.6 M517.9,323.6 523.6,323.0 M523.6,323.0 524.0,323.4 M524.0,323.4 524.9,323.3 M495.3,335.5 494.6,336.3 M501.3,341.0 495.6,341.8 M494.6,336.3 495.6,341.8 M495.9,347.7 500.9,347.7 M495.9,347.7 495.4,342.1 M495.7,347.9 495.6,353.3 M495.7,347.9 490.1,348.0 M490.1,348.0 489.7,353.7 M495.6,353.3 490.8,354.5 M490.8,354.5 489.7,353.7 M496.8,354.3 495.6,353.3 M491.2,359.5 490.8,354.5 M485.0,354.3 489.7,353.7 M489.7,342.4 489.6,347.5 M489.7,342.4 484.2,342.3 M489.6,347.5 484.4,347.8 M484.3,346.2 484.4,347.8 M489.9,342.2 495.4,342.1 M490.1,348.0 489.6,347.5 M494.6,336.3 489.5,336.4 M489.2,330.8 489.5,336.4 M484.1,339.6 484.3,336.9 M489.9,342.2 489.3,336.6 M484.3,336.9 489.3,336.6 M478.3,328.4 478.4,326.7 M480.8,331.4 483.2,331.5 M483.2,331.5 484.3,330.4 M484.3,330.4 483.9,326.0 M479.0,325.6 483.1,325.2 M483.1,325.2 483.9,326.0 M484.1,336.7 484.0,336.2 M483.7,334.3 483.2,331.5 M489.2,330.8 484.3,330.4 M489.5,324.6 483.9,326.0 M483.5,320.2 488.3,320.2 M483.5,320.2 483.1,325.2 M477.6,314.3 476.9,319.5 M477.6,314.3 482.7,314.9 M482.9,319.7 482.7,314.9 M482.9,319.7 477.8,320.5 M477.8,320.5 476.9,319.5 M477.3,314.0 477.6,314.3 M474.4,319.6 476.9,319.5 M477.7,322.1 477.8,320.5 M483.5,320.2 482.9,319.7 M511.4,309.7 511.2,312.3 M517.1,312.4 511.6,312.7 M511.6,312.7 511.2,312.3 M517.6,317.9 512.1,318.0 M511.6,312.7 512.1,318.0 M512.1,323.3 512.1,318.1 M512.1,323.3 517.8,323.7 M506.0,323.6 500.2,324.4 M506.1,323.5 505.9,318.5 M505.8,318.4 500.2,318.7 M500.2,324.4 499.7,319.3 M499.7,319.3 500.2,318.7 M506.5,329.9 506.0,323.6 M511.9,329.6 511.7,323.8 M511.7,323.8 506.1,323.5 M501.0,330.1 500.2,324.4 M511.7,323.8 512.1,323.3 M512.1,318.1 505.9,318.5 M511.2,312.3 505.6,313.0 M505.5,313.1 505.8,318.4 M499.7,313.0 500.2,318.7 M499.7,313.0 505.5,313.1 M494.7,325.0 500.2,324.4 M494.6,318.9 499.7,319.3 M505.6,313.0 505.4,310.0 M489.3,318.7 488.4,314.2 M482.7,314.9 483.6,314.1 M483.6,314.1 488.2,314.0 M483.6,314.1 483.1,311.0 M508.5,359.0 508.4,364.2 M502.4,364.0 502.8,364.5 M502.8,364.5 508.4,364.2 M513.5,364.3 514.0,363.7 M513.5,364.3 508.6,364.4 M514.0,359.2 514.0,363.7 M503.2,370.3 502.8,364.5 M503.2,370.3 502.9,370.6 M497.5,370.9 502.9,370.6 M497.5,370.9 496.8,376.0 M536.4,351.4 536.4,357.0 M536.4,351.4 530.4,351.5 M530.1,357.3 530.8,357.9 M530.8,357.9 536.4,357.0 M520.0,363.3 519.6,358.3 M520.0,363.3 525.4,364.0 M525.5,363.8 524.8,358.2 M524.8,358.2 519.6,358.3 M519.2,364.3 520.0,363.3 M519.2,364.3 514.0,363.7 M525.6,357.4 524.8,358.2 M530.8,357.9 530.9,362.6 M530.9,362.6 525.5,363.8 M524.3,351.9 519.7,352.1 M513.5,364.3 514.1,369.6 M519.2,364.3 519.5,369.5 M519.5,369.5 514.1,369.6 M508.6,364.4 508.7,369.9 M514.1,369.6 508.7,369.9 M503.2,370.3 508.4,370.3 M508.7,369.9 508.4,370.3 M525.4,364.0 525.5,368.7 M519.6,369.5 525.5,368.7 M541.6,351.0 542.9,356.4 M547.7,356.2 547.7,354.1 M542.0,350.6 543.3,350.5 M547.5,356.4 542.9,356.4 M536.4,357.0 537.2,357.7 M537.2,357.7 542.1,357.2 M542.1,357.2 542.9,356.4 M549.2,356.2 547.7,356.2 M532.8,334.6 529.9,334.8 M529.9,334.8 529.1,329.0 M524.0,323.4 524.0,329.2 M529.1,329.0 524.0,329.2 M535.8,340.1 530.4,341.2 M535.9,346.3 530.2,345.6 M530.4,341.2 530.2,345.6 M529.8,334.9 529.6,340.4 M530.4,341.2 529.6,340.4 M530.3,351.4 529.8,346.1 M529.8,346.1 530.2,345.6 M502.9,370.6 503.4,375.7 M508.4,370.3 509.2,375.4 M548.5,379.2 549.0,379.7 M548.5,379.2 543.2,380.0 M543.2,380.0 543.4,381.4 M542.7,373.9 542.8,379.7 M542.8,379.7 540.8,379.9 M554.0,364.2 554.1,365.5 M548.5,379.2 548.3,374.2 M550.5,373.5 549.3,373.4 M548.3,374.2 549.3,373.4 M542.7,373.9 543.0,373.5 M543.2,380.0 542.8,379.7 M548.3,374.2 543.0,373.5 M553.5,367.6 548.8,368.5 M549.3,373.4 548.8,368.5 M530.9,362.6 537.1,363.2 M530.9,362.6 531.5,368.9 M531.7,369.1 536.5,368.3 M537.1,363.2 536.9,367.8 M536.9,367.8 536.5,368.3 M537.2,357.7 537.2,363.1 M525.9,369.0 525.5,368.7 M525.9,369.0 531.5,368.9 M531.9,374.2 531.7,369.1 M537.9,373.7 536.5,368.3 M514.1,369.6 513.9,375.2 M518.8,346.3 519.1,341.3 M518.8,346.3 524.9,346.2 M519.1,341.3 524.2,340.4 M525.0,346.1 524.2,340.4 M513.3,340.5 518.5,340.7 M518.5,340.7 519.1,341.3 M524.4,351.8 524.9,346.2 M529.8,346.1 525.0,346.1 M529.6,340.4 524.2,340.4 M529.8,334.9 524.0,334.8 M524.0,334.8 524.2,340.4 M524.0,329.2 523.7,334.4 M524.0,329.2 517.9,328.5 M523.7,334.4 518.6,335.0 M517.2,329.3 517.9,328.5 M517.2,329.3 518.4,334.8 M524.0,334.8 523.7,334.4 M517.8,323.7 517.9,328.5 M518.5,340.7 518.6,335.0 M512.1,329.7 517.2,329.3 M512.7,335.7 518.4,334.8 M488.2,314.0 488.2,310.8 M488.4,314.2 493.7,312.8 M493.5,310.6 493.7,312.8 M494.5,318.8 494.9,313.7 M499.5,312.9 494.9,313.7 M494.9,313.7 493.7,312.8 M542.7,368.5 543.1,368.9 M542.7,368.5 543.0,362.9 M543.1,368.9 548.1,367.9 M548.1,367.9 548.0,362.6 M543.1,362.9 547.9,362.6 M543.0,373.5 543.1,368.9 M536.9,367.8 542.7,368.5 M537.2,363.1 543.0,362.9 M548.8,368.5 548.1,367.9 M552.0,362.4 548.0,362.6 M542.1,357.2 543.1,362.9 M547.5,356.4 547.9,362.6 M520.0,374.6 522.2,374.8 M519.6,369.5 520.0,374.6 M525.9,369.0 525.9,374.5 M516.8,375.1 519.8,374.8 M499.5,312.9 499.4,310.3 M516.9,382.7 517.1,387.5 M516.9,382.7 522.8,381.1 M517.1,387.5 517.7,388.1 M517.7,388.1 523.4,388.1 M522.8,381.1 523.1,381.5 M523.1,381.5 523.9,387.6 M523.9,387.6 523.4,388.1 M522.7,376.9 528.1,375.2 M522.7,376.9 522.8,381.1 M529.5,381.5 523.1,381.5 M529.5,381.5 529.8,381.2 M529.8,381.2 528.1,375.2 M528.5,387.4 523.9,387.6 M528.5,387.4 529.5,381.5 M528.5,387.4 529.6,388.2 M529.6,388.2 529.7,393.8 M529.7,393.8 523.9,393.9 M523.9,393.9 523.4,388.1 M488.6,421.3 488.6,422.4 M488.6,421.3 488.0,420.9 M535.7,399.5 530.8,399.5 M535.7,399.5 537.0,393.9 M530.8,399.5 530.1,394.1 M530.1,394.1 535.7,392.7 M537.0,393.9 535.7,392.7 M529.6,388.2 535.5,387.2 M529.7,393.8 530.1,394.1 M535.8,387.5 535.7,392.7 M536.5,400.3 536.3,405.9 M536.5,400.3 535.7,399.5 M536.3,405.9 530.6,406.2 M530.8,399.5 530.3,400.0 M530.3,400.0 530.6,406.2 M523.9,393.9 523.1,394.9 M523.1,394.9 524.1,400.1 M530.3,400.0 524.1,400.1 M524.3,412.0 530.5,412.3 M524.3,412.0 524.2,406.1 M530.5,412.3 530.5,406.3 M530.5,406.3 524.2,406.1 M531.6,424.1 530.5,418.1 M531.6,424.1 524.9,425.3 M530.5,418.1 525.1,418.9 M524.9,425.3 524.3,424.5 M524.3,424.5 524.5,419.6 M525.1,418.9 524.5,419.6 M523.6,412.7 524.3,412.0 M523.6,412.7 525.1,418.9 M530.6,418.0 530.7,412.4 M518.5,413.0 523.6,412.7 M518.5,413.0 518.6,418.6 M518.6,418.6 524.5,419.6 M518.6,418.6 517.9,419.3 M524.3,424.5 517.7,425.1 M517.9,419.3 517.7,425.1 M524.3,430.9 522.4,431.1 M525.3,429.9 524.3,430.9 M525.3,429.9 524.9,425.3 M517.6,425.2 519.3,431.2 M512.8,431.5 513.5,425.7 M513.5,425.7 517.6,425.2 M494.2,427.7 494.6,431.9 M494.7,420.8 494.6,427.1 M494.7,420.8 499.9,420.7 M499.9,420.7 500.7,426.1 M494.6,427.1 500.7,426.1 M493.6,419.9 494.7,420.8 M493.6,419.9 488.6,421.3 M494.2,427.7 494.6,427.1 M493.6,419.9 493.6,414.6 M500.2,420.5 499.5,414.5 M493.6,414.6 499.5,414.5 M500.2,420.5 505.4,419.6 M505.4,419.6 507.1,425.8 M506.3,426.9 507.1,425.8 M506.3,426.9 501.1,426.5 M501.1,426.5 500.7,426.1 M501.1,426.5 500.0,431.9 M494.6,431.9 495.4,432.0 M493.5,414.5 493.4,409.2 M493.5,414.5 488.0,414.6 M493.4,409.2 488.0,408.4 M494.6,408.0 493.4,409.2 M494.6,408.0 498.8,407.8 M500.2,413.7 499.8,408.5 M500.2,413.7 499.5,414.5 M498.8,407.8 499.8,408.5 M505.9,431.7 506.9,431.4 M506.9,431.4 507.3,431.7 M506.3,426.9 506.9,431.4 M507.1,425.8 512.1,424.9 M513.5,425.7 512.1,424.9 M542.0,374.5 541.2,374.4 M541.3,377.2 541.2,374.4 M535.5,387.2 535.1,381.4 M529.8,381.2 535.0,381.2 M541.1,373.8 541.1,374.4 M535.2,374.2 535.4,375.7 M528.4,374.8 535.3,375.7 M541.1,374.4 535.4,375.7 M528.1,375.2 528.4,374.8 M535.0,381.2 535.3,375.7 M522.0,376.2 521.9,375.1 M522.0,376.2 522.7,376.9 M540.2,381.2 535.1,381.4 M541.8,386.8 541.0,387.6 M541.8,386.8 546.6,387.0 M541.0,387.6 542.4,392.8 M542.4,392.8 545.2,392.3 M541.8,381.8 541.8,386.8 M535.8,387.5 541.0,387.6 M546.6,381.4 547.4,384.7 M541.4,394.0 542.4,392.8 M541.4,394.0 537.0,393.9 M522.0,376.2 515.9,376.1 M516.9,382.7 516.3,382.1 M515.9,376.1 515.3,376.8 M516.3,382.1 515.3,376.8 M517.7,388.1 517.3,394.3 M523.1,394.9 517.9,394.8 M517.3,394.3 517.9,394.8 M494.6,408.0 493.0,401.8 M488.0,403.2 493.0,401.8 M500.1,401.5 498.8,407.8 M500.1,401.5 499.1,400.5 M499.1,400.5 493.2,401.4 M493.0,401.8 493.2,401.4 M511.9,419.2 512.3,418.8 M511.9,419.2 505.9,418.9 M512.3,418.8 512.4,413.4 M505.9,418.9 505.7,414.5 M512.4,413.4 511.7,412.9 M511.7,412.9 506.2,413.8 M505.7,414.5 506.2,413.8 M517.9,419.3 512.3,418.8 M512.1,424.9 511.9,419.2 M505.4,419.6 505.9,418.9 M518.5,413.0 518.1,412.7 M518.1,412.7 512.4,413.4 M500.2,413.7 505.7,414.5 M505.1,408.0 505.6,407.3 M505.1,408.0 506.2,413.8 M505.6,407.3 511.2,408.0 M511.2,408.0 511.7,412.9 M499.8,408.5 505.1,408.0 M530.6,418.0 533.3,418.0 M531.6,424.1 532.3,424.8 M516.9,406.3 517.8,407.1 M516.9,406.3 516.8,401.1 M517.8,407.1 523.6,405.6 M516.8,401.1 517.2,400.7 M517.2,400.7 523.5,401.0 M523.6,405.6 523.5,401.0 M518.1,412.7 517.8,407.1 M512.2,406.9 511.2,408.0 M512.2,406.9 516.9,406.3 M524.2,406.1 523.6,405.6 M524.1,400.1 523.5,401.0 M517.9,394.8 517.2,400.7 M515.9,376.1 515.9,375.4 M485.4,376.6 485.4,377.8 M505.8,395.6 511.5,395.0 M505.8,395.6 505.5,401.7 M511.5,395.0 512.2,400.2 M505.6,401.8 510.6,401.7 M512.2,400.2 510.6,401.7 M512.0,394.4 511.5,395.0 M512.0,394.4 517.3,394.3 M516.8,401.1 512.2,400.2 M500.1,401.5 505.5,401.7 M505.6,407.3 505.6,401.8 M512.2,406.9 510.6,401.7 M532.7,430.5 531.7,430.5 M532.3,424.8 531.7,430.5 M525.3,429.9 529.9,430.7 M541.4,394.0 542.4,397.4 M536.5,400.3 540.4,400.2 M499.1,400.5 499.3,395.5 M505.8,395.6 504.4,394.2 M499.5,395.2 504.4,394.2 M512.0,394.4 511.0,388.8 M504.4,394.2 504.9,389.5 M504.9,389.4 511.0,388.8 M517.1,387.5 511.1,388.7 M516.3,382.1 510.3,383.1 M511.1,388.7 510.3,383.1 M493.2,401.4 491.8,396.4 M487.9,396.1 491.8,396.4 M499.3,395.5 492.2,395.8 M492.2,395.8 491.8,396.4 M536.8,407.1 536.8,406.4 M530.7,412.4 534.8,412.1 M536.3,405.9 536.8,406.4 M504.9,389.4 504.5,382.8 M510.3,383.1 509.8,382.6 M509.8,382.6 504.5,382.8 M515.3,376.8 510.5,376.9 M509.8,382.6 510.5,376.9 M509.5,376.0 510.5,376.9 M509.5,376.0 504.0,376.3 M504.3,382.7 503.9,376.5 M491.3,376.5 491.3,377.1 M485.5,377.8 491.3,377.1 M485.5,377.8 485.4,379.2 M492.2,395.8 493.2,389.9 M487.1,389.4 492.3,389.0 M493.2,389.9 492.3,389.0 M499.5,395.2 497.4,390.0 M493.2,389.9 497.4,390.0 M504.9,389.5 498.9,388.4 M497.4,390.0 498.9,388.4 M504.3,382.7 498.9,383.6 M498.9,388.4 498.9,383.6 M491.6,377.4 492.5,383.0 M491.6,377.4 497.9,377.0 M497.9,382.8 492.7,383.2 M497.9,382.8 498.3,377.3 M498.3,377.3 497.9,377.0 M486.1,383.5 492.5,383.0 M491.3,377.1 491.6,377.4 M497.8,376.2 497.9,377.0 M492.3,389.0 492.7,383.2 M498.9,383.6 497.9,382.8 M503.9,376.5 498.3,377.3 M553.1,487.7 555.7,481.9 M553.1,487.7 554.3,489.3 M555.7,481.9 559.4,482.2 M560.6,488.5 555.4,489.1 M560.6,488.5 561.8,487.2 M566.4,492.4 565.9,492.6 M560.6,488.5 560.9,491.6 M552.0,467.1 551.8,471.8 M552.0,467.1 546.5,466.9 M547.5,473.2 544.5,470.0 M546.5,466.9 544.5,470.0 M550.9,461.9 552.9,463.2 M553.3,465.9 552.0,467.1 M553.3,465.9 553.2,464.0 M544.2,462.4 546.5,466.9 M553.2,464.0 552.9,463.2 M553.2,464.0 555.1,462.9 M552.9,463.2 553.3,461.8 M494.8,448.9 494.8,448.2 M494.7,446.7 495.7,445.8 M495.7,445.8 495.7,440.2 M495.7,440.2 494.5,440.0 M553.3,465.9 556.3,466.8 M555.5,481.7 554.3,476.4 M534.5,485.8 530.9,487.4 M534.5,485.8 537.7,489.8 M536.0,491.3 537.7,489.8 M528.7,481.8 522.2,483.5 M528.7,481.8 529.4,487.5 M522.2,483.5 522.6,486.1 M528.6,487.5 527.6,487.5 M539.6,464.2 542.1,462.6 M539.6,464.2 535.8,463.0 M544.5,470.0 543.0,470.6 M539.4,468.8 543.0,470.6 M539.4,468.8 539.6,464.2 M533.8,470.0 534.8,463.1 M533.8,470.0 535.4,470.7 M535.4,470.7 539.4,468.8 M533.8,470.0 529.3,470.4 M527.4,463.2 528.6,462.8 M527.4,463.2 527.6,467.8 M527.6,467.8 529.3,470.4 M498.4,456.6 499.7,455.7 M499.7,455.7 505.2,457.4 M505.2,457.4 501.8,462.6 M499.3,453.1 495.4,450.1 M499.3,453.1 499.7,455.7 M507.0,456.9 505.2,457.4 M507.0,456.9 508.1,457.9 M508.1,457.9 510.0,464.2 M501.6,464.0 502.1,464.6 M502.1,464.6 510.0,464.2 M502.1,464.6 503.3,470.6 M510.2,464.4 506.7,470.6 M506.7,470.6 503.3,470.6 M515.2,466.4 520.6,464.1 M515.2,466.4 516.0,469.7 M516.0,469.7 520.2,471.0 M520.6,464.1 522.4,468.8 M522.4,468.8 520.2,471.0 M513.8,465.2 510.2,464.4 M513.8,465.2 515.2,466.4 M506.7,470.6 507.1,471.1 M515.2,470.9 507.1,471.1 M515.2,470.9 516.0,469.7 M527.4,463.2 526.6,462.6 M526.6,462.6 522.0,462.3 M522.0,462.3 520.6,464.1 M527.6,467.8 522.4,468.8 M529.3,470.4 527.4,475.4 M527.4,475.4 522.9,476.3 M522.9,476.3 520.2,471.0 M516.4,481.4 517.1,481.7 M516.4,481.4 513.6,476.4 M517.1,481.7 521.1,481.6 M513.6,476.4 514.1,475.7 M514.1,475.7 522.9,476.4 M521.1,481.6 522.9,476.4 M515.2,470.9 514.1,475.7 M507.1,471.1 509.7,477.1 M509.7,477.1 513.6,476.4 M502.2,443.8 499.4,446.0 M502.2,443.8 505.7,444.9 M499.4,446.0 502.3,449.8 M502.3,449.8 508.0,450.6 M505.7,444.9 507.8,448.4 M508.0,450.6 507.8,448.4 M499.3,453.1 502.3,449.8 M495.7,445.8 499.4,446.0 M507.0,456.9 508.0,450.6 M508.0,450.6 511.9,450.3 M511.9,450.3 516.3,445.2 M516.3,445.2 512.0,442.2 M512.0,442.2 507.8,448.4 M494.9,433.8 496.7,438.7 M494.9,433.8 494.3,433.5 M495.7,440.2 496.7,438.7 M540.8,490.3 541.4,491.0 M540.8,490.3 537.7,489.8 M541.4,491.0 541.8,493.7 M522.2,483.5 521.1,481.6 M517.1,481.7 515.8,486.5 M535.9,443.8 533.5,443.2 M532.7,437.1 533.5,443.2 M532.7,437.1 534.2,437.3 M533.5,443.2 531.7,444.8 M531.7,444.8 532.4,450.8 M532.6,437.0 529.0,436.6 M532.6,437.0 533.5,434.4 M530.4,431.0 527.7,432.3 M527.7,432.3 529.0,436.6 M526.6,438.3 526.8,443.9 M526.6,438.3 529.0,436.6 M531.7,444.8 526.8,443.9 M494.9,433.8 497.6,432.3 M530.1,456.8 528.3,455.5 M526.6,462.6 526.2,457.6 M528.3,455.5 526.2,457.6 M532.4,450.8 528.6,451.7 M528.3,455.5 528.6,451.7 M526.7,444.0 527.2,451.0 M528.6,451.7 527.2,451.0 M519.2,458.2 522.3,455.5 M519.2,458.2 517.0,457.8 M516.3,457.1 517.0,457.8 M516.3,457.1 515.9,453.3 M515.9,453.3 520.7,449.6 M522.3,455.5 522.9,451.5 M520.7,449.6 522.9,451.5 M522.0,462.3 519.2,458.2 M526.2,457.6 522.3,455.5 M513.8,465.2 517.0,457.8 M508.1,457.9 516.3,457.1 M511.9,450.3 515.9,453.3 M516.3,445.2 519.1,445.0 M519.9,445.7 519.1,445.0 M519.9,445.7 520.7,449.6 M527.2,451.0 522.9,451.5 M519.9,445.7 526.7,444.0 M536.7,475.1 537.8,476.4 M536.7,475.1 528.9,477.0 M537.8,476.4 533.1,480.8 M533.1,480.8 530.0,479.5 M528.9,477.0 530.0,479.5 M527.4,475.4 528.9,477.0 M535.4,470.7 536.7,475.1 M534.5,485.8 535.0,484.2 M528.7,481.8 530.0,479.5 M535.0,484.2 533.1,480.8 M541.8,474.6 539.4,477.0 M541.8,474.6 546.6,476.1 M539.4,477.0 541.7,481.7 M548.2,477.2 546.5,481.2 M542.0,481.9 546.1,481.8 M546.5,481.2 546.1,481.8 M543.0,470.6 541.8,474.6 M537.8,476.4 539.4,477.0 M535.0,484.2 541.7,481.7 M555.5,481.7 546.5,481.2 M548.9,487.2 546.1,481.8 M548.9,487.2 547.6,488.8 M540.8,490.3 542.0,481.9 M547.6,488.8 541.4,491.0 M553.1,487.7 548.9,487.2 M526.6,438.3 522.4,437.5 M519.1,445.0 519.5,440.3 M522.4,437.5 519.5,440.3 M510.6,484.0 516.4,481.4 M510.6,484.0 509.5,483.2 M509.5,483.2 509.5,477.3 M503.3,470.6 502.7,471.0 M509.5,477.3 502.7,478.4 M502.7,478.4 502.7,471.0 M502.7,471.0 500.3,471.2 M547.6,488.8 548.3,492.7 M510.6,484.0 511.1,485.4 M509.5,483.2 503.6,484.7 M527.7,432.3 526.7,431.1 M520.4,432.4 522.4,437.5 M520.4,432.4 521.0,431.4 M520.4,432.4 513.7,433.8 M519.5,440.3 513.5,436.5 M513.5,436.5 513.7,433.8 M512.0,442.2 511.0,439.7 M513.5,436.5 511.0,439.7 M511.7,431.8 512.3,431.9 M505.7,444.9 508.2,439.6 M508.2,439.6 511.0,439.7 M513.7,433.8 512.3,431.9 M502.5,485.0 502.6,478.4 M502.6,478.4 499.6,477.8 M502.5,485.0 498.8,484.6 M505.9,438.2 506.8,433.3 M505.9,438.2 502.2,438.6 M502.2,438.6 501.7,438.3 M501.7,438.3 501.4,432.5 M501.4,432.5 506.8,433.3 M508.2,431.9 506.8,433.3 M508.2,439.6 505.9,438.2 M502.2,443.8 502.2,438.6 M496.7,438.7 501.7,438.3 M501.1,432.2 501.4,432.5 M510.3,210.3 512.4,218.1 M506.9,219.3 512.4,218.1 M506.5,222.2 506.7,224.5 M512.4,218.1 517.0,220.9 M517.0,220.9 513.3,224.5 M513.3,224.5 507.1,224.9 M506.7,224.5 507.1,224.9 M558.5,245.3 558.0,246.1 M558.5,245.3 562.7,244.9 M561.9,251.2 558.5,251.1 M558.0,246.1 558.5,251.1 M506.7,224.5 504.3,225.1 M538.8,241.8 545.0,240.7 M538.8,241.8 539.1,247.3 M545.4,246.4 545.0,240.7 M545.4,246.4 539.2,247.4 M560.3,270.6 560.4,275.3 M560.3,270.6 562.1,270.2 M517.0,220.9 517.7,220.8 M518.2,208.3 517.7,220.8 M513.3,231.1 519.4,229.8 M513.3,231.1 513.3,224.5 M519.4,229.8 519.9,229.2 M519.9,229.2 518.1,221.0 M552.5,252.5 558.3,251.5 M552.5,252.5 553.4,258.5 M558.3,251.5 559.2,257.3 M553.4,258.5 558.6,257.9 M559.2,257.3 558.6,257.9 M561.7,257.4 559.2,257.3 M559.5,263.9 558.6,257.9 M559.5,263.9 561.2,263.7 M545.4,246.4 545.8,246.8 M551.0,240.6 551.6,246.1 M551.0,240.6 545.3,240.3 M545.3,240.3 545.0,240.7 M551.6,246.1 545.8,246.8 M558.0,246.1 551.7,246.3 M552.5,252.5 551.7,251.9 M551.7,246.3 551.7,251.9 M558.5,245.3 557.9,242.4 M557.7,241.6 557.3,240.0 M551.0,240.6 551.4,240.2 M551.4,240.2 557.3,240.0 M564.1,238.8 563.3,238.2 M563.3,238.2 560.0,238.9 M558.6,239.2 557.8,239.4 M557.3,240.0 557.8,239.4 M553.2,224.5 547.8,231.1 M553.2,224.5 556.4,227.3 M556.4,227.3 556.8,233.5 M547.8,231.1 551.3,234.2 M551.3,234.2 556.6,233.7 M544.0,231.6 545.3,240.3 M544.0,231.6 547.8,231.1 M551.4,240.2 551.3,234.2 M557.8,239.4 556.6,233.7 M563.3,238.2 563.0,234.4 M560.6,233.1 556.8,233.5 M556.4,227.3 557.6,227.3 M553.2,223.8 555.0,221.9 M553.2,223.8 553.2,224.5 M522.8,220.5 518.1,221.0 M522.8,220.5 527.8,214.2 M527.8,214.2 527.6,212.7 M553.2,223.8 550.2,221.7 M550.2,221.7 549.9,220.0 M515.1,249.3 515.1,251.5 M515.1,249.3 521.3,248.8 M521.3,248.8 521.4,255.0 M521.2,255.2 518.1,254.7 M514.4,248.5 515.1,249.3 M514.4,248.5 512.1,248.7 M507.9,246.7 507.2,244.3 M507.2,244.3 503.7,244.1 M510.9,234.3 513.5,236.3 M510.9,234.3 510.2,234.3 M510.2,234.3 507.8,237.4 M513.5,236.3 515.0,242.8 M507.8,237.4 508.2,242.9 M508.2,242.9 514.7,243.3 M515.0,242.8 514.7,243.3 M513.3,231.1 510.9,234.3 M519.4,229.8 519.9,235.9 M519.9,235.9 513.5,236.3 M507.1,224.9 507.8,232.0 M507.8,232.0 510.2,234.3 M519.9,235.9 520.6,236.3 M520.6,236.3 520.7,241.5 M519.8,242.3 520.7,241.5 M519.8,242.3 515.0,242.8 M507.2,244.3 508.2,242.9 M502.8,238.3 507.8,237.4 M514.4,248.5 514.7,243.3 M519.8,242.3 521.5,248.6 M501.0,229.8 501.0,230.3 M507.8,232.0 502.3,231.5 M541.8,276.9 540.7,271.8 M548.0,276.4 547.9,271.5 M546.9,270.7 541.0,271.5 M546.9,270.7 547.9,271.5 M541.0,271.5 540.7,271.8 M546.1,252.8 540.6,253.1 M546.4,253.0 547.1,258.6 M540.6,253.1 540.5,259.3 M540.5,259.3 546.9,258.8 M545.8,246.8 546.1,252.8 M551.7,251.9 546.4,253.0 M540.1,252.7 539.2,247.4 M540.1,252.7 540.6,253.1 M553.4,258.5 552.8,259.1 M552.8,259.1 547.1,258.6 M546.5,264.9 546.9,258.8 M546.5,264.9 553.1,264.5 M553.1,264.5 552.8,259.1 M521.4,255.0 527.4,254.3 M521.5,248.6 526.5,248.0 M527.5,254.1 526.5,248.0 M540.1,252.7 534.0,254.2 M539.1,247.3 532.9,248.0 M534.0,254.2 533.4,253.7 M533.4,253.7 532.9,248.0 M559.0,264.5 553.4,264.8 M559.0,264.5 560.2,270.6 M560.2,270.6 553.9,270.7 M553.4,264.8 553.2,270.1 M553.2,270.1 553.9,270.7 M559.5,263.9 559.0,264.5 M553.1,264.5 553.4,264.8 M554.4,275.8 553.9,270.7 M546.9,270.7 546.5,264.9 M547.9,271.5 553.2,270.1 M540.7,264.6 540.4,259.5 M540.7,264.6 540.2,265.1 M540.2,265.1 535.1,265.5 M540.4,259.5 534.2,259.0 M535.1,265.5 533.6,259.7 M534.2,259.0 533.6,259.7 M546.5,264.9 540.7,264.6 M541.0,271.5 540.2,265.1 M534.0,254.2 534.2,259.0 M527.5,254.1 533.4,253.7 M532.9,248.0 532.4,247.5 M532.4,247.5 526.7,247.8 M520.7,241.5 526.3,242.2 M526.7,247.8 526.3,242.2 M521.2,255.2 521.3,260.0 M527.4,254.3 527.9,260.0 M521.4,260.3 527.9,260.0 M533.6,259.7 528.4,260.5 M527.9,260.0 528.4,260.5 M528.4,260.5 528.1,266.0 M528.1,266.0 523.0,267.1 M535.4,272.4 534.0,266.8 M535.3,272.5 529.0,272.6 M529.0,272.6 528.9,266.7 M534.0,266.8 528.9,266.7 M540.7,271.8 535.4,272.4 M535.1,265.5 534.0,266.8 M534.9,277.4 535.3,272.5 M528.1,266.0 528.9,266.7 M544.0,231.6 543.2,231.3 M550.2,221.7 544.3,221.8 M543.2,231.3 544.3,221.8 M543.7,218.7 543.8,221.4 M544.3,221.8 543.8,221.4 M538.8,241.8 538.3,241.3 M543.2,231.3 542.5,231.3 M542.5,231.3 538.5,234.7 M538.5,234.7 538.3,241.3 M532.4,247.5 533.0,241.3 M538.3,241.3 533.0,241.3 M527.0,241.5 526.3,242.2 M527.0,241.5 532.3,240.8 M533.0,241.3 532.3,240.8 M531.3,229.0 526.0,229.2 M531.3,229.0 532.5,234.7 M532.3,235.0 526.0,235.8 M526.0,235.8 525.2,235.2 M525.2,235.2 525.5,229.7 M525.5,229.7 526.0,229.2 M524.9,222.6 526.0,229.2 M524.9,222.6 531.9,223.3 M531.9,223.3 531.4,229.0 M531.4,229.0 539.1,228.5 M539.1,228.5 542.5,231.3 M538.5,234.7 532.5,234.7 M532.3,240.8 532.3,235.0 M527.0,241.5 526.0,235.8 M520.6,236.3 525.2,235.2 M519.9,229.2 525.5,229.7 M522.8,220.5 524.9,222.6 M536.1,216.0 531.3,216.7 M537.5,216.6 538.1,221.8 M531.3,216.7 532.2,222.9 M532.2,222.9 537.4,222.6 M537.4,222.6 538.1,221.8 M527.8,214.2 531.3,216.7 M543.8,221.4 538.1,221.8 M531.9,223.3 532.2,222.9 M539.1,228.5 537.4,222.6 M523.3,272.8 528.7,272.9 M528.7,272.9 529.1,277.7 M530.4,278.3 530.4,278.8 M533.7,321.5 534.9,327.0 M533.7,321.5 539.0,321.4 M534.9,327.0 539.8,326.3 M539.8,326.3 539.5,321.8 M539.0,321.4 539.5,321.8 M551.9,276.4 549.4,276.6 M556.5,276.0 552.3,276.7 M552.3,276.7 551.9,276.4 M565.9,313.5 569.9,312.5 M565.9,313.5 565.2,308.4 M565.8,307.7 565.2,308.4 M565.8,307.7 569.3,307.3 M562.9,280.7 564.2,280.7 M562.9,280.7 562.9,277.9 M533.5,321.3 533.9,316.4 M538.7,316.1 539.0,321.4 M538.7,316.1 538.1,315.6 M538.1,315.6 533.9,316.4 M535.7,283.1 534.5,283.2 M535.7,283.1 536.3,288.4 M536.7,288.6 536.7,293.8 M536.7,288.6 536.3,288.4 M536.5,293.9 531.7,294.3 M531.6,293.9 531.7,294.3 M543.5,277.1 541.3,277.3 M565.8,307.7 564.4,302.7 M565.2,308.4 560.0,308.4 M560.0,308.4 560.3,302.9 M564.4,302.7 560.3,302.9 M554.3,304.1 555.0,308.8 M554.3,304.1 560.0,302.6 M559.8,308.6 555.0,308.8 M549.7,314.6 549.6,309.8 M548.7,309.0 549.6,309.8 M548.7,309.0 543.8,309.8 M543.6,310.1 544.4,315.2 M549.6,314.7 544.4,315.2 M538.7,316.1 543.8,316.1 M539.5,321.8 544.8,320.2 M544.8,320.2 543.8,316.1 M543.6,310.1 538.5,310.9 M538.1,315.6 538.5,310.9 M543.8,316.1 544.4,315.2 M550.7,325.5 549.9,320.3 M550.5,325.7 545.2,326.1 M545.2,326.1 545.4,320.7 M545.4,320.7 549.8,320.2 M539.8,326.3 540.3,326.7 M544.8,320.2 545.4,320.7 M540.3,326.7 545.2,326.1 M549.6,314.7 549.8,320.2 M522.1,318.9 522.0,317.7 M524.8,322.4 528.7,322.1 M528.7,322.1 527.4,317.1 M522.4,317.4 527.2,316.9 M522.4,317.4 522.0,317.7 M528.7,322.1 533.5,321.3 M533.9,316.4 533.5,316.0 M533.5,316.0 527.4,317.1 M522.2,314.6 522.4,317.4 M566.7,285.9 563.9,286.1 M562.7,281.0 563.9,286.1 M556.9,275.9 558.0,281.8 M562.7,281.0 558.0,281.8 M559.0,292.5 563.7,291.3 M559.0,292.5 559.8,297.2 M559.8,297.2 564.6,296.8 M564.6,296.8 564.1,291.6 M564.1,291.6 563.7,291.3 M558.3,292.0 558.2,286.6 M558.3,292.0 559.0,292.5 M563.2,286.9 558.2,286.6 M563.2,286.9 563.7,291.3 M567.7,291.2 564.1,291.6 M563.9,286.1 563.2,286.9 M555.0,308.8 554.6,309.2 M554.6,309.2 549.6,309.8 M548.7,309.0 548.9,304.0 M554.1,303.9 548.9,304.0 M558.9,298.5 560.0,302.6 M558.9,298.5 553.8,298.0 M554.1,303.9 553.8,298.0 M558.3,292.0 553.7,292.8 M558.9,298.5 559.8,297.2 M553.7,292.8 553.6,297.8 M548.5,303.5 548.9,298.7 M548.5,303.5 548.9,304.0 M553.6,297.8 548.9,298.7 M542.5,298.5 548.9,298.7 M548.5,303.5 543.4,303.7 M543.4,303.7 542.5,298.5 M543.8,309.8 542.6,304.7 M543.4,303.7 542.6,304.7 M531.9,305.6 526.4,306.1 M531.9,305.6 532.2,310.9 M526.3,306.2 527.3,311.7 M527.4,311.8 532.0,311.1 M525.7,300.4 526.3,300.4 M525.6,306.3 526.3,306.2 M526.3,300.4 526.3,302.8 M526.4,305.3 526.4,306.1 M522.4,311.9 527.3,311.7 M527.2,316.9 527.4,311.8 M533.5,316.0 532.0,311.1 M538.5,310.9 537.8,310.2 M537.8,310.2 532.2,310.9 M529.4,295.0 531.5,294.6 M526.5,300.2 526.8,296.3 M534.9,277.7 536.2,282.6 M539.2,277.4 541.1,277.7 M536.2,282.6 541.0,282.2 M541.0,282.2 541.1,277.7 M530.4,278.3 533.5,277.8 M535.7,283.1 536.2,282.6 M536.7,288.6 541.3,287.9 M541.7,282.8 541.3,287.9 M541.7,282.8 541.0,282.2 M546.8,276.8 547.2,281.9 M547.2,281.9 546.5,282.6 M541.3,277.3 541.1,277.7 M541.7,282.8 546.5,282.6 M567.7,345.9 563.7,347.1 M564.2,351.5 563.7,347.1 M564.2,351.5 567.3,351.8 M564.4,356.5 563.6,352.1 M563.6,352.1 564.2,351.5 M555.6,319.6 560.4,319.0 M555.6,319.6 554.8,315.1 M554.8,315.1 555.4,314.3 M555.4,314.3 560.7,313.6 M560.4,319.0 560.8,313.7 M549.7,314.6 554.8,315.1 M555.6,319.7 549.9,320.3 M554.6,309.2 555.4,314.3 M559.8,308.6 560.7,313.6 M565.7,313.6 560.8,313.7 M565.0,302.1 565.3,297.3 M565.0,302.1 568.8,302.4 M565.3,297.3 568.3,296.7 M564.4,302.7 565.0,302.1 M564.6,296.8 565.3,297.3 M550.9,331.2 550.5,325.7 M545.2,326.1 546.6,331.7 M550.8,331.2 546.6,331.7 M557.6,341.4 556.7,335.9 M557.6,341.4 557.3,341.7 M557.3,341.7 552.3,342.2 M556.7,335.9 552.1,336.7 M552.1,342.0 551.8,337.1 M551.8,337.1 552.1,336.7 M546.8,342.0 552.1,342.0 M546.8,342.0 546.0,337.0 M551.8,337.1 546.0,337.0 M540.3,326.7 540.5,331.7 M546.6,331.7 546.2,332.1 M540.5,331.7 546.2,332.1 M550.8,331.2 552.1,336.7 M545.9,336.9 546.2,332.1 M528.7,322.1 528.6,327.2 M534.9,327.0 534.1,327.9 M528.6,327.2 534.1,327.9 M557.9,281.8 558.2,286.5 M552.3,276.7 552.2,282.1 M557.9,281.8 552.2,282.1 M547.2,281.9 552.1,282.2 M546.5,282.6 547.5,287.7 M541.5,288.0 547.5,287.7 M536.7,293.8 542.7,293.6 M541.5,288.0 542.7,293.6 M537.4,299.3 532.4,299.7 M537.5,299.3 537.8,304.8 M532.4,305.1 531.6,300.8 M532.4,305.1 537.3,305.3 M537.3,305.3 537.8,304.8 M532.4,299.7 531.6,300.8 M536.5,293.9 537.4,299.3 M531.5,294.6 532.4,299.7 M542.5,298.5 542.8,293.6 M542.5,298.5 537.5,299.3 M542.6,304.7 537.8,304.8 M526.5,300.2 531.6,300.8 M531.9,305.6 532.4,305.1 M537.8,310.2 537.3,305.3 M554.2,364.0 556.9,363.7 M562.6,358.0 559.6,358.3 M559.5,362.9 559.6,358.3 M554.2,364.0 553.1,359.1 M553.1,359.1 549.8,359.3 M546.8,342.0 545.9,343.1 M540.5,337.7 545.9,336.9 M540.5,337.7 541.3,343.2 M541.3,343.2 545.9,343.1 M567.3,335.6 562.4,336.2 M567.3,335.6 568.1,340.6 M568.1,340.6 567.7,341.2 M567.7,341.2 563.2,341.3 M562.4,336.2 562.2,340.4 M562.2,340.4 563.2,341.3 M569.6,340.5 568.1,340.6 M568.0,343.6 567.7,341.2 M562.7,346.3 563.7,347.1 M562.7,346.3 563.2,341.3 M557.6,341.4 562.2,340.4 M557.3,341.7 558.5,346.7 M562.7,346.3 558.5,346.7 M556.9,335.7 562.3,336.1 M571.5,329.4 568.1,329.1 M572.0,334.7 567.6,335.2 M567.6,335.2 566.6,330.6 M566.6,330.6 568.1,329.1 M567.3,335.6 567.6,335.2 M562.3,336.1 562.0,330.2 M562.0,330.2 566.6,330.6 M565.7,313.6 566.6,318.5 M560.4,319.0 561.8,319.9 M566.6,318.5 561.8,319.9 M534.8,335.6 534.2,332.7 M539.3,337.7 540.3,337.6 M540.3,337.6 539.9,332.5 M539.9,332.5 534.6,332.1 M534.6,332.1 534.2,332.7 M540.5,331.7 539.9,332.5 M534.1,327.9 534.6,332.1 M532.6,333.0 534.2,332.7 M547.5,293.0 553.5,292.6 M547.3,292.9 547.7,287.9 M547.7,287.9 552.3,287.3 M553.5,292.6 552.5,287.4 M548.9,298.7 547.5,293.0 M542.8,293.6 547.3,292.9 M552.1,282.2 552.3,287.3 M558.2,286.5 552.5,287.4 M553.1,359.1 553.7,358.2 M559.6,358.3 559.2,357.9 M553.7,358.2 559.2,357.9 M563.6,352.1 559.1,352.7 M559.2,357.9 559.1,352.7 M558.3,347.0 558.5,352.3 M559.1,352.7 558.5,352.3 M541.3,343.2 541.0,343.7 M538.6,343.8 541.0,343.7 M552.3,342.2 552.1,347.3 M545.9,343.1 547.3,347.7 M547.3,347.7 552.1,347.3 M553.7,358.2 552.9,353.2 M548.0,353.8 552.9,353.2 M558.5,352.3 553.0,353.0 M558.3,347.0 552.3,347.6 M553.0,353.0 552.3,347.6 M562.0,330.2 556.8,330.6 M562.0,330.2 562.3,325.0 M561.8,324.5 562.3,325.0 M561.8,324.5 556.1,324.9 M555.9,325.2 556.5,330.3 M556.5,330.3 556.8,330.6 M556.9,335.7 556.8,330.6 M568.1,329.1 567.1,324.7 M567.1,324.7 562.3,325.0 M555.6,319.7 556.1,324.9 M561.8,319.9 561.8,324.5 M550.7,325.5 555.9,325.2 M550.9,331.2 556.5,330.3 M571.0,323.7 567.7,323.9 M567.7,323.9 566.8,318.6 M566.8,318.6 570.5,318.2 M567.1,324.7 567.7,323.9 M546.9,353.1 546.5,348.6 M546.5,348.6 541.3,348.4 M547.3,347.7 546.5,348.6 M548.0,353.8 546.9,353.1 M541.0,343.7 541.3,348.4 M600.3,290.8 599.5,286.3 M599.5,286.3 599.8,286.0 M600.2,291.0 595.9,290.7 M599.5,286.3 595.2,286.8 M595.2,286.8 595.9,290.7 M599.4,283.9 599.8,286.0 M595.1,284.3 595.2,286.8 M595.5,291.1 595.9,290.7 M595.5,291.1 591.0,291.7 M595.2,286.8 590.6,287.3 M590.6,287.3 591.0,291.7 M570.4,314.7 570.8,316.9 M600.2,291.0 600.6,294.6 M595.5,291.1 596.0,295.8 M600.6,294.6 596.0,295.8 M584.2,315.2 584.0,311.0 M584.2,315.2 579.8,316.1 M584.0,311.0 579.8,311.2 M579.7,316.0 579.2,311.9 M579.8,311.2 579.2,311.9 M581.0,320.7 579.8,316.1 M581.0,320.7 576.0,321.0 M576.0,321.0 575.5,316.9 M575.5,316.9 579.7,316.0 M593.1,310.2 593.6,314.5 M593.1,310.2 593.8,309.3 M593.6,314.5 598.3,313.6 M598.3,313.6 597.8,309.5 M593.8,309.3 597.8,309.5 M593.1,310.2 588.4,310.6 M588.4,310.6 588.8,306.1 M592.4,305.2 588.8,306.1 M593.8,309.3 592.5,305.2 M590.4,287.1 590.2,284.7 M590.4,287.1 585.9,287.9 M585.3,285.1 585.7,287.7 M575.1,316.6 574.6,312.6 M575.1,316.6 571.4,317.3 M571.4,317.3 570.8,316.9 M570.4,312.4 574.6,312.6 M579.8,311.2 579.0,306.7 M579.2,311.9 575.4,311.6 M579.0,306.7 574.7,307.8 M574.7,307.9 575.4,311.6 M575.1,316.6 575.5,316.9 M575.4,311.6 574.6,312.6 M600.6,294.6 600.9,294.9 M588.4,310.6 589.2,315.1 M589.2,315.1 593.6,314.5 M599.1,318.3 598.3,313.6 M599.0,318.4 594.6,319.0 M593.6,314.5 594.6,319.0 M599.1,318.3 603.1,318.0 M603.1,318.0 603.4,317.7 M598.3,313.6 602.9,313.2 M603.4,317.7 602.9,313.2 M584.3,310.7 588.4,310.6 M584.3,310.7 583.6,306.1 M588.8,306.1 588.2,305.6 M588.2,305.6 583.6,306.1 M584.3,310.7 584.0,311.0 M579.1,306.7 583.5,306.1 M592.5,305.2 597.4,304.6 M597.9,309.2 597.4,304.6 M592.4,305.2 592.3,301.3 M596.8,300.2 592.3,301.3 M596.8,300.2 597.7,304.3 M597.7,304.3 597.4,304.6 M568.6,294.7 568.7,298.2 M596.3,332.6 596.4,337.0 M596.3,332.6 598.4,332.5 M591.0,291.7 590.8,292.1 M595.9,295.9 591.9,296.1 M590.8,292.1 591.9,296.1 M600.9,294.9 601.4,299.2 M596.9,300.0 595.9,295.9 M596.9,300.0 601.2,299.4 M597.7,304.3 601.7,304.0 M601.2,299.4 601.7,304.0 M584.2,315.2 584.8,315.8 M584.8,315.8 589.2,315.2 M581.0,320.7 584.7,320.0 M584.8,315.8 584.7,320.0 M604.3,322.1 603.9,322.6 M603.9,322.6 604.4,327.0 M605.0,326.9 604.4,327.0 M603.1,318.0 604.3,322.1 M603.4,317.7 604.1,317.6 M599.3,322.8 599.0,318.4 M599.3,322.8 600.0,323.4 M600.0,323.4 603.9,322.6 M602.9,313.2 603.2,312.8 M568.8,298.6 569.4,303.5 M570.4,312.4 570.0,308.6 M574.7,307.9 570.2,308.4 M568.6,294.7 572.4,293.6 M572.4,293.6 571.9,289.7 M571.9,289.7 568.0,289.7 M568.0,289.7 567.6,286.7 M585.9,287.9 585.9,292.1 M590.8,292.1 586.4,292.5 M585.9,292.1 586.4,292.5 M582.2,292.8 585.9,292.1 M582.2,292.8 581.7,293.4 M581.7,293.4 582.2,297.3 M586.8,296.8 586.4,292.5 M586.8,296.8 582.2,297.3 M580.9,285.4 581.4,288.1 M576.7,285.8 576.8,288.9 M581.4,288.1 581.1,288.5 M581.1,288.5 577.1,289.2 M585.7,287.7 581.4,288.1 M582.2,292.8 581.1,288.5 M577.2,293.0 577.1,289.2 M577.3,293.1 581.7,293.4 M577.2,293.0 572.6,293.7 M572.5,288.9 571.9,289.7 M572.5,288.9 576.8,288.9 M572.5,288.9 572.2,287.7 M604.5,330.2 604.0,327.5 M600.4,331.3 599.7,327.7 M604.0,327.5 600.1,327.3 M599.7,327.7 600.1,327.3 M604.4,327.0 604.0,327.5 M596.3,332.6 595.6,332.0 M595.5,328.1 595.6,332.0 M595.5,328.1 599.7,327.7 M600.0,323.4 600.1,327.3 M592.2,301.1 591.7,296.4 M592.2,301.1 587.3,301.0 M591.7,296.4 587.3,297.3 M587.3,297.3 587.3,301.0 M588.2,305.6 587.3,301.0 M586.8,296.8 587.3,297.3 M583.3,301.9 587.3,301.0 M583.3,301.9 582.6,301.3 M582.6,301.3 582.2,297.3 M583.5,306.1 583.3,301.9 M592.7,344.2 592.8,342.2 M593.9,342.1 592.8,342.2 M587.9,343.0 588.0,343.5 M589.4,342.6 592.6,342.1 M587.1,334.1 587.6,338.3 M587.1,334.1 591.2,333.3 M587.6,338.3 591.7,338.1 M591.5,333.4 592.5,337.1 M592.5,337.1 591.7,338.1 M587.5,338.4 588.0,342.9 M592.6,342.1 591.7,338.1 M595.6,332.0 591.5,333.4 M590.5,328.7 591.2,333.3 M590.6,328.5 595.4,328.0 M596.3,337.1 592.5,337.1 M571.4,317.3 571.3,321.7 M572.5,331.0 571.6,326.9 M582.4,334.3 586.7,333.8 M582.4,334.3 581.7,329.9 M581.7,329.9 586.2,329.3 M586.7,333.8 586.4,329.4 M581.4,329.7 577.1,330.2 M582.3,334.5 577.6,334.6 M577.6,334.6 576.9,330.5 M581.4,329.7 581.6,325.3 M585.6,325.2 581.6,325.3 M585.6,325.2 586.2,329.3 M590.5,328.7 586.4,329.4 M587.1,334.1 586.7,333.8 M572.3,331.2 572.8,335.5 M572.3,335.5 572.8,335.5 M568.1,345.1 569.7,344.7 M570.0,348.2 569.9,344.9 M569.1,342.1 569.7,344.7 M597.9,309.2 602.3,308.4 M601.8,304.1 602.3,308.4 M603.2,312.8 602.5,308.5 M602.9,308.4 602.5,308.5 M601.8,304.1 602.3,304.0 M580.9,324.7 581.6,325.3 M580.9,324.7 581.0,320.7 M585.6,325.2 586.1,324.6 M586.1,324.6 584.9,320.1 M590.6,328.5 589.8,324.2 M586.1,324.6 589.8,324.2 M589.2,315.2 589.7,319.6 M584.9,320.1 589.7,319.6 M569.7,303.6 570.2,308.4 M578.2,302.9 573.8,303.0 M578.2,302.9 578.6,302.2 M578.6,302.2 577.4,297.8 M573.7,302.9 573.7,298.5 M573.8,298.5 577.4,297.8 M579.1,306.7 578.2,302.9 M574.7,307.8 573.8,303.0 M582.6,301.3 578.6,302.2 M582.2,297.3 577.4,297.8 M569.7,303.6 573.7,302.9 M568.8,298.6 573.7,298.5 M572.6,293.7 573.8,298.5 M577.3,293.1 577.4,297.8 M579.8,349.2 579.8,348.7 M579.8,348.7 581.0,348.6 M587.9,343.0 583.3,343.4 M583.3,343.4 584.0,347.3 M574.0,344.3 569.9,344.9 M574.8,347.6 574.3,344.5 M579.8,348.7 579.3,348.2 M577.0,348.5 579.3,348.2 M587.5,338.4 582.8,339.0 M582.3,334.5 582.5,338.7 M582.8,339.0 583.0,343.2 M579.3,348.2 579.4,344.1 M583.0,343.2 579.4,344.1 M574.3,344.5 579.2,344.0 M571.3,321.7 572.2,325.8 M571.3,321.7 576.0,321.0 M572.2,325.8 576.4,325.7 M576.0,321.0 576.5,325.7 M571.6,326.6 572.2,325.8 M572.5,331.0 576.9,330.5 M577.1,330.2 576.4,325.7 M580.9,324.7 576.5,325.7 M577.8,339.6 578.2,339.1 M577.8,339.6 574.2,340.1 M578.2,339.1 577.5,334.8 M574.2,340.1 573.6,339.7 M573.6,339.7 573.3,335.9 M577.5,334.8 573.3,335.9 M582.5,338.7 578.2,339.1 M579.2,344.0 577.8,339.6 M574.0,344.3 574.2,340.1 M570.1,340.1 573.6,339.7 M572.8,335.5 573.3,335.9 M590.0,319.9 590.1,323.7 M590.0,319.9 594.4,319.1 M590.1,323.7 594.9,324.1 M594.4,319.1 595.1,323.7 M595.1,323.7 594.9,324.1 M589.8,324.2 590.1,323.7 M589.7,319.6 590.0,319.9 M595.4,328.0 594.9,324.1 M599.3,322.8 595.1,323.7 M609.5,231.4 607.6,231.6 M607.4,227.4 607.6,231.6 M624.5,258.6 623.0,258.9 M623.0,258.9 624.4,264.2 M598.2,244.8 592.9,245.6 M591.6,239.9 592.2,245.1 M597.3,239.1 591.6,239.8 M597.5,239.3 598.3,244.7 M592.9,245.6 592.2,245.1 M585.6,240.7 591.6,239.9 M585.6,240.7 586.9,246.3 M592.2,245.1 586.9,246.3 M591.6,284.3 591.2,280.3 M591.2,280.3 585.5,281.4 M585.5,281.4 586.0,284.7 M588.9,220.8 589.1,222.8 M588.5,222.9 589.0,222.8 M597.3,239.1 596.2,233.4 M591.6,239.8 590.7,234.4 M596.2,233.4 590.7,234.4 M595.6,227.6 595.0,222.5 M595.0,222.5 589.1,222.8 M589.0,222.8 589.3,224.1 M589.5,225.7 590.0,228.6 M595.4,227.8 590.0,228.6 M616.7,254.0 617.7,259.4 M616.7,254.0 611.2,254.5 M617.7,259.4 611.7,260.2 M611.7,260.2 610.8,255.0 M611.2,254.5 610.8,255.0 M606.1,261.3 611.4,260.7 M606.1,261.3 605.2,255.6 M611.7,260.2 611.4,260.7 M610.8,255.0 605.2,255.6 M616.7,254.0 617.0,253.6 M622.9,258.8 617.9,259.6 M622.9,258.8 622.5,254.1 M617.0,253.6 622.1,253.0 M598.2,244.8 599.1,250.3 M592.9,245.6 593.1,251.5 M598.8,250.7 599.1,250.3 M598.8,250.7 593.3,251.7 M586.7,246.7 587.9,251.6 M586.7,246.7 586.9,246.3 M593.1,251.5 587.9,251.6 M586.7,246.7 581.3,247.4 M581.7,253.1 581.3,247.4 M581.7,253.1 587.4,252.3 M587.4,252.3 587.9,251.6 M598.8,250.7 599.8,256.6 M599.1,250.3 604.4,250.1 M604.4,250.1 605.1,255.5 M605.1,255.5 599.9,256.7 M593.3,251.7 593.7,256.8 M599.8,256.6 593.7,256.8 M588.3,258.0 587.4,252.3 M588.5,258.1 593.7,256.8 M579.9,281.9 585.4,281.3 M579.9,281.9 579.6,278.6 M580.5,276.3 584.8,275.8 M585.4,281.3 584.8,275.8 M579.7,282.1 580.2,285.2 M577.8,282.2 579.7,282.1 M595.2,268.6 589.7,269.0 M595.2,268.6 596.0,274.0 M590.6,275.3 596.0,274.0 M590.6,275.3 590.1,274.9 M590.1,274.9 589.7,269.0 M590.6,275.3 591.2,280.3 M584.8,275.8 585.2,275.4 M590.1,274.9 585.2,275.4 M588.3,258.0 582.5,258.4 M581.7,253.2 582.5,258.4 M579.2,235.6 579.9,241.3 M579.2,235.5 583.8,235.2 M584.6,235.1 585.0,235.1 M585.0,235.1 585.6,240.7 M585.6,240.7 580.5,241.7 M580.5,241.7 579.9,241.3 M578.4,235.7 579.2,235.6 M579.1,234.2 579.2,235.5 M581.3,247.4 580.9,247.1 M580.9,247.1 580.5,241.7 M585.1,234.1 585.2,234.9 M586.7,229.0 590.0,228.6 M590.0,228.6 590.5,234.2 M585.2,234.9 590.5,234.2 M596.3,233.3 595.4,227.8 M624.4,264.2 624.1,264.5 M604.0,244.3 608.1,243.4 M604.0,244.3 604.8,249.7 M604.8,249.7 606.3,249.6 M598.3,244.7 603.7,244.0 M604.4,250.1 604.8,249.7 M611.2,254.5 610.3,249.6 M616.0,248.1 615.4,243.5 M616.0,248.1 611.4,248.7 M617.0,253.6 616.1,248.1 M608.5,237.4 607.5,231.8 M608.4,237.6 603.2,238.4 M607.5,231.8 602.1,232.3 M602.5,237.9 603.2,238.4 M602.5,237.9 601.9,232.6 M610.7,237.2 608.5,237.4 M608.9,242.0 608.4,237.6 M603.7,244.0 603.2,238.4 M601.1,227.3 602.1,232.3 M601.1,227.3 601.5,226.8 M601.5,226.8 605.9,226.0 M597.5,239.3 602.5,237.9 M596.3,233.3 601.9,232.6 M595.6,227.6 601.1,227.3 M600.4,262.0 601.0,267.9 M600.2,261.8 595.0,262.7 M595.3,268.4 594.8,262.9 M595.3,268.4 601.0,267.9 M601.1,267.9 606.6,267.1 M606.6,267.1 605.8,261.7 M605.8,261.7 600.4,262.0 M606.1,261.3 605.8,261.7 M599.9,256.7 600.2,261.8 M593.7,256.8 595.0,262.7 M601.1,267.9 601.7,273.3 M601.7,273.3 596.2,274.2 M589.0,263.3 594.8,262.9 M589.0,263.3 588.5,258.1 M606.6,267.1 607.5,272.4 M601.7,273.3 602.0,273.6 M602.0,273.6 607.5,272.4 M603.2,283.0 602.3,279.3 M602.3,279.3 597.3,279.7 M597.2,283.8 596.9,280.2 M596.9,280.2 597.3,279.7 M608.6,282.0 608.4,278.1 M602.8,278.6 608.4,278.1 M602.8,278.6 602.3,279.3 M596.2,274.2 597.3,279.7 M602.0,273.6 602.8,278.6 M591.2,280.3 596.9,280.2 M589.0,263.4 589.4,268.8 M582.3,258.7 583.2,263.9 M589.0,263.4 583.2,263.9 M595.0,222.5 595.4,222.0 M594.9,220.2 595.4,222.0 M601.5,226.8 600.5,222.2 M595.4,222.0 598.5,221.5 M617.9,259.6 618.2,265.3 M611.4,260.7 612.5,265.7 M618.2,265.3 612.5,265.7 M620.5,265.2 618.2,265.4 M618.2,265.4 618.7,270.8 M606.6,267.1 612.1,266.2 M612.1,266.2 612.5,265.7 M616.1,248.1 620.3,247.2 M614.1,277.3 613.8,277.7 M614.1,277.3 613.2,271.6 M613.8,277.7 608.6,277.9 M608.6,277.9 607.9,272.7 M607.9,272.7 613.1,271.5 M617.3,276.8 614.1,277.3 M614.3,281.0 613.8,277.7 M618.7,270.8 613.2,271.6 M607.5,272.4 607.9,272.7 M612.1,266.2 613.1,271.5 M580.0,264.8 583.0,264.2 M583.0,264.2 584.2,269.6 M581.3,270.5 583.8,270.1 M583.8,270.1 584.2,269.6 M582.3,258.7 577.9,259.5 M589.4,268.8 584.2,269.6 M585.2,275.4 583.8,270.1 M579.9,241.3 577.2,241.8 M576.2,256.0 575.9,253.7 M581.7,253.2 576.0,253.6 M580.9,247.1 576.7,247.7 M584.0,214.6 587.6,213.4 M589.3,216.2 589.5,214.9 M589.5,214.9 587.6,213.4 M579.4,215.9 577.2,209.8 M587.6,213.4 587.1,208.1 M587.1,208.1 579.0,206.8 M577.2,209.8 579.0,206.8 M587.9,203.7 587.2,207.9 M579.0,206.8 578.8,205.7 M577.2,209.8 571.8,209.8 M571.8,209.8 571.7,209.3 M556.3,205.7 557.2,210.9 M556.3,205.7 555.4,205.1 M556.9,211.5 557.2,210.9 M556.9,211.5 548.9,212.7 M547.9,212.0 548.9,212.7 M547.9,212.0 548.6,205.3 M548.6,205.3 549.0,205.3 M550.8,205.0 553.0,204.6 M574.1,218.5 571.1,219.0 M571.1,219.0 571.6,222.8 M596.1,209.1 594.4,214.5 M597.5,214.8 595.0,215.0 M594.4,214.5 595.0,215.0 M589.5,214.9 594.4,214.5 M587.2,207.9 595.1,207.5 M595.2,215.6 595.0,215.0 M569.9,210.6 570.4,210.8 M562.3,210.1 567.0,218.1 M570.4,210.8 569.0,217.8 M569.0,217.8 567.0,218.1 M556.7,205.3 556.3,205.7 M557.2,210.9 562.3,210.1 M571.8,209.8 570.4,210.8 M558.7,219.2 566.9,218.2 M558.7,219.2 556.9,211.5 M571.1,219.0 569.0,217.8 M566.1,221.9 566.9,218.2 M552.5,196.0 553.0,197.9 M531.5,213.9 533.0,214.0 M533.0,214.0 533.5,214.7 M532.1,210.2 533.0,214.0 M541.8,212.1 534.3,215.0 M541.8,212.1 540.0,205.9 M558.7,219.2 557.6,221.0 M548.9,212.7 549.3,218.2 M549.3,218.2 557.6,221.0 M563.7,226.8 557.4,223.7 M557.6,221.0 557.4,223.7 M541.8,212.1 542.4,218.1 M541.8,212.1 547.9,212.0 M549.3,218.2 548.4,219.4 M547.8,198.7 546.4,202.6 M542.5,203.5 546.4,202.6 M548.6,205.3 546.4,202.6 M626.1,285.9 626.0,284.0 M626.1,285.9 631.0,284.8 M630.9,283.0 631.0,284.8 M631.6,285.2 636.4,284.3 M631.6,285.2 632.2,289.9 M636.4,284.3 637.0,289.4 M632.2,289.9 637.0,289.4 M638.1,294.3 642.9,293.1 M637.9,294.1 637.3,289.6 M637.3,289.6 642.0,288.5 M642.0,288.5 642.9,293.1 M621.5,286.3 626.1,285.9 M621.5,286.3 621.0,282.9 M617.2,281.6 616.2,281.6 M616.2,281.6 616.1,281.1 M621.5,286.4 621.7,291.2 M621.5,286.4 616.7,286.8 M616.7,286.8 616.2,287.5 M616.2,287.5 617.4,292.1 M621.7,291.2 617.4,292.1 M616.2,281.6 615.6,282.4 M615.6,282.4 616.7,286.8 M615.6,282.4 611.1,283.0 M611.1,283.0 611.6,287.7 M616.2,287.5 612.1,288.1 M611.6,287.7 612.1,288.1 M611.1,283.0 610.7,282.7 M610.7,282.7 610.7,282.0 M640.9,278.4 645.3,277.3 M645.3,277.3 644.9,274.8 M645.3,277.3 645.9,277.7 M645.9,277.7 650.3,276.2 M648.5,272.1 649.6,272.1 M650.3,276.2 649.6,272.1 M649.6,271.5 649.6,272.0 M640.9,278.5 641.8,283.3 M636.1,281.6 636.7,283.8 M636.7,283.8 641.5,283.7 M641.8,283.3 641.5,283.7 M646.1,282.5 646.8,281.8 M646.1,282.5 641.8,283.3 M646.8,281.8 645.9,277.7 M631.6,285.2 631.0,284.8 M636.4,284.3 636.7,283.8 M642.2,288.1 642.0,288.5 M642.2,288.1 641.5,283.7 M637.9,294.1 632.5,294.7 M632.5,294.7 632.2,290.0 M626.1,285.9 627.3,290.3 M632.2,290.0 627.3,290.3 M622.4,291.8 626.9,290.8 M622.4,291.8 621.7,291.2 M627.3,290.3 626.9,290.8 M647.5,287.7 652.0,286.5 M647.5,287.7 647.2,288.2 M647.2,288.2 647.9,292.4 M647.9,292.4 652.4,292.3 M652.0,286.5 653.0,289.9 M653.2,291.1 652.4,292.3 M646.1,282.5 647.5,287.7 M646.8,281.8 651.3,281.8 M652.1,286.3 651.3,281.8 M642.2,288.1 647.2,288.2 M653.0,294.5 652.4,292.3 M643.5,293.6 647.8,292.5 M643.5,293.6 643.7,298.1 M647.8,292.5 648.6,297.7 M648.6,297.7 644.3,298.5 M643.7,298.1 644.3,298.5 M642.9,293.1 643.5,293.6 M638.8,298.8 638.1,294.3 M638.8,298.8 643.7,298.1 M652.6,296.9 648.9,297.9 M652.7,302.3 649.7,302.8 M649.5,303.0 650.1,307.4 M652.0,307.6 650.8,307.9 M650.8,307.9 650.1,307.4 M648.9,297.9 649.7,302.8 M644.7,303.3 649.5,303.0 M644.7,303.3 644.3,298.5 M650.9,309.7 650.8,307.9 M649.1,312.9 646.3,313.4 M646.5,314.9 646.3,313.4 M605.3,324.5 607.1,324.3 M604.7,319.8 606.5,319.4 M607.1,324.3 606.5,319.4 M633.4,330.5 632.8,330.5 M633.4,330.5 633.4,331.0 M633.4,330.4 632.9,325.6 M627.6,326.0 627.9,327.7 M627.6,326.0 632.4,325.2 M632.9,325.6 632.4,325.2 M626.4,321.7 627.6,326.0 M626.4,321.7 626.7,321.3 M632.4,325.2 631.7,320.7 M626.7,321.3 631.7,320.7 M638.7,299.0 639.6,303.9 M644.4,303.6 644.7,303.3 M644.4,303.6 639.6,303.9 M633.4,330.4 637.0,330.2 M650.1,307.4 645.4,308.5 M646.1,313.2 645.4,308.5 M644.4,303.6 645.2,308.4 M606.5,319.4 605.3,315.0 M605.3,315.0 604.1,315.2 M632.5,294.8 628.6,295.9 M632.5,294.8 634.2,299.6 M628.6,295.9 629.0,300.5 M629.0,300.5 633.4,300.5 M634.2,299.6 633.4,300.5 M626.9,290.8 627.9,295.5 M627.9,295.5 628.6,295.9 M638.7,299.0 634.2,299.6 M610.7,282.7 606.1,283.5 M606.1,283.5 605.9,282.8 M606.0,283.7 600.8,284.6 M600.8,284.6 600.7,283.7 M600.5,285.2 600.8,284.6 M627.6,326.0 622.7,327.4 M622.7,327.4 623.0,328.8 M626.7,321.3 626.1,316.6 M626.2,316.5 631.3,316.1 M631.7,320.7 632.2,319.9 M632.2,319.9 631.3,316.1 M641.6,319.4 641.9,322.5 M641.6,319.4 637.0,319.5 M637.0,319.5 636.7,319.9 M636.7,319.9 637.2,324.4 M638.0,324.9 637.2,324.4 M643.9,318.6 642.1,318.8 M642.1,318.8 641.6,319.4 M632.9,325.6 637.2,324.4 M632.2,319.9 636.7,319.9 M638.3,328.6 638.0,324.9 M607.2,324.3 611.9,324.0 M612.8,327.8 611.9,324.0 M618.3,329.9 617.9,327.6 M613.4,328.4 617.9,327.6 M606.5,319.4 611.0,318.7 M611.0,318.7 612.1,323.6 M611.9,324.0 612.1,323.6 M627.9,295.5 623.5,296.6 M629.0,300.5 624.0,301.3 M624.0,301.3 623.5,296.6 M622.4,291.8 622.8,296.0 M622.8,296.0 623.5,296.6 M617.4,292.1 616.9,292.7 M616.9,292.7 618.0,297.1 M622.8,296.0 618.0,297.1 M626.2,311.5 626.2,316.5 M626.2,311.5 630.1,310.6 M631.3,316.1 631.7,315.3 M631.7,315.3 630.1,310.6 M622.5,327.3 618.2,327.4 M626.4,321.7 622.3,322.2 M622.5,327.3 622.3,322.2 M626.2,311.5 625.5,311.0 M626.1,316.6 621.3,316.7 M621.3,316.7 620.8,312.5 M625.5,311.0 620.8,312.5 M636.8,314.9 635.8,314.3 M636.8,314.9 640.9,313.9 M635.8,314.3 635.5,309.7 M640.9,313.9 640.2,309.2 M635.5,309.7 639.9,308.9 M639.9,308.9 640.2,309.2 M637.0,319.5 636.8,314.9 M631.7,315.3 635.8,314.3 M642.1,318.8 640.9,313.9 M646.1,313.2 640.9,313.9 M645.2,308.4 640.2,309.2 M639.6,303.9 639.9,308.9 M629.6,305.8 634.0,304.7 M629.6,305.8 630.2,310.4 M630.2,310.4 635.2,309.4 M635.2,309.4 634.3,304.9 M629.4,305.7 629.0,300.5 M633.4,300.5 634.0,304.7 M635.5,309.7 635.2,309.4 M639.6,303.9 634.3,304.9 M621.9,321.9 617.4,322.9 M621.9,321.9 621.2,316.8 M621.2,316.8 616.4,317.8 M616.8,322.4 617.4,322.9 M616.8,322.4 616.4,317.8 M618.2,327.4 617.4,322.9 M622.3,322.2 621.9,321.9 M615.3,312.7 619.8,311.7 M615.3,312.7 616.4,317.8 M620.8,312.5 619.8,311.7 M612.1,323.6 616.8,322.4 M611.3,318.2 611.0,318.7 M611.3,318.2 616.4,317.8 M605.3,315.0 605.8,314.4 M603.4,309.9 604.4,309.6 M605.8,314.4 604.4,309.6 M600.8,289.6 601.6,289.3 M600.5,285.2 601.7,289.2 M606.0,283.7 606.5,288.5 M601.7,289.2 606.5,288.5 M611.6,287.7 606.7,288.6 M619.1,307.0 619.7,307.4 M619.1,307.0 618.5,302.0 M619.7,307.4 624.2,306.5 M618.5,302.0 618.8,301.7 M618.8,301.7 623.8,301.5 M623.8,301.5 624.6,305.9 M624.6,305.9 624.2,306.5 M625.5,311.0 624.2,306.5 M619.8,311.7 619.7,307.4 M617.9,297.3 618.8,301.7 M629.4,305.7 624.6,305.9 M614.1,308.4 609.7,308.7 M614.1,308.4 615.3,312.7 M609.7,308.7 609.9,313.5 M615.3,312.7 610.5,314.0 M610.5,314.0 609.9,313.5 M614.6,307.6 614.1,308.4 M614.6,307.6 619.1,307.0 M605.8,314.4 609.9,313.5 M609.7,308.7 604.5,309.5 M611.3,318.2 610.5,314.0 M614.6,307.6 613.5,303.0 M609.7,308.7 608.8,303.6 M608.8,303.5 613.5,303.0 M618.5,302.0 613.7,302.9 M617.9,297.3 613.2,298.0 M613.7,302.9 613.2,298.0 M603.5,304.6 602.7,304.7 M603.6,304.6 602.8,299.3 M602.1,299.5 602.8,299.3 M604.5,309.5 603.5,304.6 M608.8,303.6 603.6,304.6 M616.9,292.7 612.5,293.0 M613.2,298.0 612.6,297.6 M612.6,297.6 612.5,293.0 M612.1,288.1 612.2,292.8 M606.7,288.6 607.4,293.2 M612.2,292.8 607.4,293.2 M608.2,299.3 608.8,298.4 M608.2,299.3 603.0,299.1 M608.8,298.4 607.1,293.7 M607.1,293.7 602.6,294.8 M603.0,299.1 602.6,294.9 M608.8,303.5 608.2,299.3 M612.6,297.6 608.8,298.4 M607.4,293.2 607.1,293.7 M601.6,289.3 602.6,294.8 M601.4,294.9 602.6,294.9 M603.0,354.8 600.1,354.5 M603.0,354.8 603.8,358.6 M603.8,358.6 599.3,359.5 M599.3,359.5 598.5,355.8 M598.5,355.8 600.1,354.5 M607.4,324.9 610.0,327.4 M611.2,326.7 610.0,327.4 M629.8,328.7 629.8,329.3 M625.6,328.5 629.8,329.3 M631.3,329.8 630.6,330.1 M629.8,329.3 630.6,330.1 M620.4,330.1 620.4,331.5 M624.9,328.7 624.7,329.7 M624.7,329.7 621.9,332.1 M620.4,331.5 621.9,332.1 M599.3,359.5 599.0,360.0 M598.5,355.8 595.3,355.6 M594.9,359.9 595.3,355.6 M594.9,359.9 595.8,360.4 M595.8,360.4 599.0,360.0 M583.0,366.3 582.7,367.1 M583.0,366.3 582.2,365.1 M582.2,365.1 577.8,366.0 M578.8,367.4 577.8,366.0 M577.5,362.8 577.8,366.0 M577.5,362.8 581.6,360.7 M581.6,360.7 582.3,360.6 M582.3,360.6 582.2,365.1 M603.8,358.6 604.3,359.1 M599.0,360.0 600.2,363.6 M604.1,362.6 600.2,363.6 M604.1,362.6 604.4,361.8 M604.3,359.1 604.4,361.8 M605.4,342.8 604.4,338.0 M604.4,338.0 607.6,337.4 M607.6,337.4 609.9,340.6 M605.4,342.9 609.9,340.6 M603.0,354.8 603.8,354.0 M598.5,350.2 600.1,354.5 M598.6,350.0 601.8,348.8 M601.8,348.8 604.2,350.0 M603.8,354.0 604.2,350.0 M614.1,332.4 615.8,329.5 M614.1,332.4 612.7,331.2 M612.7,331.2 613.3,328.7 M610.0,327.4 609.3,328.8 M610.0,330.5 609.3,328.8 M610.0,330.5 612.7,331.2 M618.9,331.9 620.4,331.5 M618.9,331.9 616.8,329.8 M598.5,350.2 595.0,352.0 M595.1,355.3 595.0,352.0 M598.6,350.0 596.8,347.0 M596.8,347.0 593.7,347.3 M593.7,347.3 593.4,351.0 M595.0,352.0 593.4,351.0 M595.1,355.3 591.3,355.9 M593.4,351.0 591.2,351.4 M591.2,351.4 590.9,355.4 M590.9,355.4 591.3,355.9 M594.9,359.9 591.3,360.8 M591.3,360.8 590.4,359.8 M591.3,355.9 590.4,359.8 M558.0,370.2 558.7,372.1 M558.0,370.2 553.6,369.5 M553.6,369.5 553.7,372.5 M568.9,370.1 567.6,371.2 M577.8,366.0 575.8,367.1 M575.8,367.1 575.6,367.7 M577.5,362.8 574.9,361.3 M581.6,360.7 576.7,358.1 M576.7,358.1 574.6,360.1 M574.9,361.3 574.6,360.1 M604.4,338.0 603.6,337.6 M607.6,337.4 608.8,334.5 M608.8,334.5 605.7,333.0 M605.7,333.0 603.6,337.6 M605.4,342.8 600.5,340.3 M600.5,340.3 602.4,337.5 M603.6,337.6 602.4,337.5 M618.9,331.9 616.5,335.2 M621.9,332.1 622.6,333.9 M622.3,334.4 622.6,333.9 M622.3,334.4 618.2,336.7 M616.5,335.2 618.2,336.7 M614.1,332.4 614.5,335.0 M616.5,335.2 614.5,335.0 M610.0,330.5 609.2,334.3 M609.2,334.3 613.6,335.6 M614.5,335.0 613.6,335.6 M622.3,334.4 622.7,339.1 M622.7,339.1 619.3,339.6 M618.2,336.7 619.3,339.6 M628.4,345.4 624.1,345.5 M628.4,345.4 629.6,342.5 M629.6,342.5 628.7,341.6 M628.7,341.6 624.4,341.9 M624.4,341.9 623.5,344.4 M624.1,345.5 623.5,344.4 M626.9,351.0 625.9,351.1 M626.9,351.0 628.5,345.8 M625.9,351.1 623.5,347.6 M623.5,347.6 624.1,345.5 M628.5,345.8 628.4,345.4 M622.7,339.1 623.3,339.2 M623.3,339.2 624.4,341.9 M618.8,342.7 619.0,340.1 M618.8,342.7 619.9,343.7 M619.9,343.7 623.5,344.4 M619.3,339.6 619.0,340.1 M619.7,348.9 623.5,347.6 M619.7,348.9 619.9,343.7 M627.8,338.4 631.5,337.3 M627.8,338.4 626.6,337.3 M626.6,337.3 626.6,335.0 M631.5,337.3 628.6,333.3 M626.6,335.0 627.8,333.7 M628.6,333.3 627.8,333.7 M623.3,339.2 626.6,337.3 M628.7,341.6 627.8,338.4 M622.6,333.9 626.6,335.0 M624.7,329.7 627.8,333.7 M630.1,332.0 630.6,330.1 M630.1,332.0 628.6,333.3 M625.9,351.1 624.0,352.8 M624.0,352.8 620.3,351.6 M619.5,349.1 620.3,351.6 M597.5,365.0 600.1,363.7 M597.5,365.0 597.5,365.7 M600.1,363.7 600.9,365.4 M595.8,360.4 596.2,364.4 M596.2,364.4 597.5,365.0 M605.2,364.9 604.1,362.6 M572.9,353.7 577.0,353.4 M572.9,353.7 573.4,359.3 M576.7,358.1 577.2,356.1 M573.4,359.3 574.6,360.1 M577.0,353.4 577.2,356.1 M582.6,360.3 582.4,358.9 M582.6,360.3 582.3,360.6 M577.2,356.1 582.4,358.9 M572.0,349.4 568.8,349.2 M572.0,349.4 572.7,348.0 M572.7,348.0 572.7,347.5 M590.3,350.9 589.3,347.5 M590.3,350.9 591.2,351.4 M593.7,347.3 593.3,347.0 M593.3,347.0 589.8,346.9 M589.8,346.9 589.3,347.5 M608.8,334.5 609.2,334.3 M609.9,340.6 610.6,340.8 M613.6,335.6 612.7,339.3 M610.6,340.8 612.7,339.3 M619.0,340.1 613.9,340.0 M613.9,340.0 612.7,339.3 M618.8,342.7 615.9,344.3 M613.9,340.0 615.9,344.3 M602.5,344.7 601.7,347.0 M602.5,344.7 598.5,341.8 M601.7,347.0 597.5,344.8 M597.5,344.8 597.5,341.9 M598.5,341.8 597.5,341.9 M600.5,340.3 598.5,341.8 M605.4,342.9 605.3,343.5 M605.3,343.5 602.5,344.7 M596.8,347.0 597.5,344.8 M601.8,348.8 601.7,347.0 M605.3,343.5 606.5,345.3 M606.5,345.3 606.1,348.6 M604.2,350.0 605.1,349.6 M606.1,348.6 605.1,349.6 M603.8,354.0 607.8,354.5 M607.8,354.5 609.1,352.9 M605.1,349.6 609.1,352.9 M569.2,368.2 567.3,365.7 M566.6,371.3 566.3,367.3 M566.3,367.3 567.3,365.7 M564.6,371.5 562.7,367.5 M566.3,367.3 562.7,367.5 M558.0,370.2 558.5,369.1 M558.5,369.1 561.9,366.7 M562.7,367.5 561.9,366.7 M571.7,366.0 574.5,366.2 M571.7,366.0 570.7,363.9 M570.7,363.9 574.2,362.1 M574.5,366.2 574.2,362.1 M571.0,368.0 571.7,366.0 M575.8,367.1 574.5,366.2 M569.4,359.2 568.8,363.2 M569.4,359.2 573.4,359.3 M568.8,363.2 570.7,363.9 M574.9,361.3 574.2,362.1 M635.0,340.5 632.7,340.0 M635.0,340.5 636.2,337.9 M632.7,340.0 632.0,337.4 M632.0,337.4 634.3,334.9 M629.6,342.4 632.7,340.0 M631.5,337.3 632.0,337.4 M630.1,332.0 634.3,334.9 M628.5,345.8 631.4,347.6 M629.6,342.4 633.8,344.9 M633.8,344.9 631.4,347.6 M628.1,351.6 632.0,349.3 M628.1,351.6 626.9,351.0 M631.4,347.6 632.0,349.3 M635.0,340.5 635.9,341.7 M633.8,344.9 635.1,344.8 M635.9,341.7 635.1,344.8 M637.4,350.5 637.9,351.4 M637.4,350.5 635.1,349.8 M634.9,354.3 633.2,354.9 M633.9,350.3 635.1,349.8 M633.9,350.3 633.1,354.8 M633.3,356.0 633.2,354.9 M632.0,349.3 633.9,350.3 M635.7,345.6 635.1,344.8 M635.7,345.6 635.1,349.8 M628.1,351.6 628.9,353.1 M628.9,353.1 633.1,354.8 M628.9,353.1 628.3,354.8 M632.4,356.9 629.9,357.9 M628.3,354.8 629.9,357.9 M629.9,357.9 628.8,359.2 M628.8,359.2 628.8,359.8 M624.0,352.8 623.9,354.7 M628.3,354.8 625.0,357.2 M623.9,354.7 625.0,357.2 M628.8,359.2 625.0,357.4 M625.0,362.6 623.5,359.1 M625.0,357.4 623.5,359.1 M583.0,366.3 586.1,366.3 M586.4,366.8 586.1,366.3 M584.9,360.6 582.6,360.3 M584.9,360.6 586.9,364.5 M586.9,364.5 586.1,366.3 M584.9,360.6 587.2,359.4 M591.3,360.8 591.3,363.8 M587.2,359.4 590.4,359.8 M586.9,364.5 591.3,363.8 M596.2,364.4 592.3,365.5 M591.3,363.8 592.3,365.5 M592.3,365.5 592.2,366.2 M572.1,353.4 572.0,349.4 M572.1,353.4 569.0,354.3 M567.7,351.5 569.0,354.3 M572.1,353.4 572.9,353.7 M569.4,359.2 568.8,358.3 M568.8,358.3 568.9,354.4 M611.4,348.6 614.9,345.9 M611.4,348.6 609.4,345.4 M609.4,345.4 611.1,342.8 M611.1,342.8 614.9,345.6 M606.5,345.3 609.4,345.4 M611.2,349.0 606.1,348.6 M611.2,349.0 611.4,348.6 M610.6,340.8 611.1,342.8 M615.9,344.3 614.9,345.6 M619.5,349.1 617.2,348.7 M617.2,348.7 614.9,345.9 M556.0,364.5 554.7,364.7 M558.5,369.1 556.5,364.8 M556.5,364.8 556.0,364.5 M568.8,363.2 568.2,363.5 M567.3,365.7 567.3,364.5 M568.2,363.5 567.3,364.5 M561.9,366.7 562.1,364.5 M567.3,364.5 562.1,364.5 M556.5,364.8 561.9,364.0 M561.9,364.0 562.1,364.5 M604.3,359.1 608.5,358.0 M607.8,354.5 608.5,357.9 M620.7,363.1 621.5,359.8 M616.7,361.8 617.4,363.5 M616.7,361.8 617.0,359.7 M617.0,359.7 621.5,359.8 M620.3,351.6 619.6,352.6 M619.6,352.6 619.1,355.7 M623.9,354.7 619.7,355.9 M619.1,355.7 619.7,355.9 M623.5,359.1 622.5,359.1 M619.7,355.9 622.5,359.1 M621.5,359.8 622.5,359.1 M609.4,362.0 610.0,360.5 M609.4,362.0 609.7,364.5 M613.4,362.1 612.4,364.1 M613.4,362.1 611.8,360.4 M610.0,360.5 611.8,360.4 M604.4,361.8 609.4,362.0 M608.5,358.0 610.0,360.5 M616.7,361.8 613.4,362.1 M587.2,359.4 587.0,354.9 M582.4,358.9 582.7,355.0 M582.7,355.0 587.0,354.9 M590.9,355.4 587.2,354.7 M590.3,350.9 587.5,352.2 M587.2,354.7 587.5,352.2 M589.3,347.5 586.0,347.9 M586.0,347.9 585.8,350.8 M587.5,352.2 585.8,350.8 M589.8,346.9 589.4,343.3 M589.4,343.3 588.7,343.0 M586.0,347.9 585.1,347.2 M577.1,353.4 581.8,353.6 M577.1,353.4 577.2,350.4 M577.2,350.4 577.9,349.1 M581.8,353.6 582.4,352.4 M582.4,352.4 581.8,349.4 M581.8,349.4 581.1,348.9 M582.7,355.0 581.8,353.6 M572.7,348.0 577.2,350.4 M585.8,350.8 582.4,352.4 M585.1,347.2 581.8,349.4 M561.9,364.0 561.7,362.3 M568.2,363.5 564.2,360.1 M562.2,360.7 564.2,360.1 M568.8,358.3 565.2,359.1 M565.2,359.1 564.2,360.1 M568.9,354.4 567.4,354.6 M565.2,359.1 564.7,356.7 M593.3,347.0 593.5,343.5 M597.5,341.9 597.0,341.6 M594.2,342.2 597.0,341.6 M602.4,337.5 600.3,334.7 M600.3,334.7 596.7,339.9 M597.0,341.6 596.7,339.9 M600.9,332.8 600.4,331.6 M600.9,332.8 604.7,331.7 M604.7,331.7 605.4,329.6 M605.4,329.6 605.1,329.2 M600.2,334.6 597.9,334.5 M600.2,334.6 600.9,332.8 M605.7,333.0 604.7,331.7 M609.3,328.8 605.4,329.6 M635.9,341.7 638.9,341.5 M635.7,345.6 640.6,346.3 M637.4,350.5 640.2,347.4 M640.6,346.3 640.2,347.4 M640.2,347.4 640.7,348.9 M614.6,357.5 612.2,356.1 M614.6,357.5 616.1,357.4 M616.4,357.1 616.1,357.4 M616.4,357.1 615.1,352.4 M612.2,356.1 611.2,352.0 M611.2,352.0 611.6,351.6 M611.6,351.6 614.9,352.1 M608.5,357.9 612.2,356.1 M611.8,360.4 614.6,357.5 M617.0,359.7 616.1,357.4 M619.1,355.7 616.4,357.1 M619.6,352.6 615.1,352.4 M609.1,352.9 611.2,352.0 M611.2,349.0 611.6,351.6 M617.2,348.7 614.9,352.1 M596.7,339.9 596.0,338.7 M640.9,346.1 643.9,344.9 M640.9,346.2 642.0,347.3 M639.9,342.8 640.9,346.1 M565.2,394.9 559.8,395.8 M565.2,394.9 565.1,395.7 M568.4,394.5 566.3,394.0 M568.4,394.5 568.8,395.3 M566.3,394.0 565.5,394.3 M565.5,394.3 565.2,394.9 M545.8,391.2 547.4,391.9 M544.9,395.2 547.8,394.9 M547.8,394.9 547.4,391.9 M542.8,397.5 543.1,397.2 M549.0,396.0 549.0,397.1 M549.0,396.0 547.8,394.9 M554.3,396.6 553.3,394.4 M553.3,394.4 549.0,396.0 M559.8,395.8 558.7,393.8 M553.4,394.3 558.7,393.8 M604.0,369.6 602.9,365.5 M604.0,369.6 604.8,369.9 M604.8,369.9 608.2,367.5 M608.2,367.5 609.1,364.8 M588.0,393.5 587.6,392.2 M587.6,392.2 583.7,391.2 M582.6,394.0 583.7,391.2 M613.2,378.6 611.1,380.6 M613.2,378.6 609.6,373.9 M611.1,380.6 605.7,379.5 M605.7,379.5 607.8,374.1 M609.6,373.9 607.8,374.1 M604.8,369.9 606.1,372.7 M611.5,371.7 609.6,373.9 M611.5,371.7 611.4,371.0 M611.4,371.0 608.2,367.5 M606.1,372.7 607.8,374.1 M648.7,362.4 647.5,359.5 M647.8,364.2 643.8,363.3 M644.0,368.4 643.8,363.3 M546.9,386.9 548.0,386.7 M547.5,385.4 548.0,386.7 M550.5,374.8 551.5,374.5 M549.2,380.3 552.8,381.4 M552.8,381.4 551.5,374.5 M552.0,372.9 552.0,374.0 M551.5,374.5 552.0,374.0 M566.3,394.0 567.0,389.0 M565.5,394.3 561.3,390.3 M567.0,389.0 563.2,388.0 M563.2,388.0 561.3,390.3 M558.7,393.8 559.7,390.9 M561.3,390.3 559.7,390.9 M625.6,376.4 621.7,379.0 M625.6,376.4 627.0,380.3 M624.1,382.1 622.0,381.4 M621.7,379.0 622.0,381.4 M625.9,375.1 630.4,376.1 M625.9,375.1 625.6,376.4 M630.4,376.1 630.7,377.9 M620.8,386.4 621.6,386.9 M620.8,386.4 621.0,382.1 M621.0,382.1 622.0,381.4 M591.2,388.8 588.2,391.1 M591.2,388.8 591.2,387.9 M591.2,387.9 586.7,384.9 M588.2,391.1 585.9,385.5 M585.9,385.5 586.7,384.9 M587.6,392.2 588.2,391.1 M594.7,390.6 593.4,392.9 M594.7,390.6 591.2,388.8 M588.1,382.4 586.7,384.9 M588.1,382.4 591.3,382.9 M591.3,382.9 592.2,385.5 M592.2,385.5 591.2,387.9 M603.2,391.8 602.8,389.9 M607.2,388.2 602.8,389.9 M607.2,388.2 608.2,389.8 M608.2,389.8 608.2,391.2 M612.1,389.5 612.5,390.6 M612.1,389.5 608.2,389.8 M612.3,389.2 616.7,387.8 M612.3,389.2 611.3,384.5 M611.3,384.5 616.0,385.4 M616.0,385.4 616.8,387.2 M616.8,387.2 616.7,387.8 M617.2,389.9 616.7,387.8 M607.2,388.2 607.4,386.3 M607.4,386.3 611.3,384.5 M615.0,378.3 617.3,382.2 M615.0,378.3 613.2,378.6 M617.3,382.2 616.0,385.4 M611.1,380.6 611.3,384.5 M620.8,386.4 616.8,387.2 M617.3,382.2 621.0,382.1 M611.5,371.7 615.9,372.6 M615.9,372.6 616.1,373.1 M615.0,378.3 616.0,377.1 M616.1,373.1 616.0,377.1 M621.7,379.0 620.1,377.1 M616.0,377.1 620.1,377.1 M601.7,375.6 602.9,379.0 M601.7,375.6 606.1,372.7 M605.6,379.5 602.9,379.0 M607.4,386.3 605.7,384.7 M605.6,379.5 605.7,384.7 M643.1,361.7 643.9,360.1 M643.1,361.7 643.3,362.7 M643.3,362.7 643.8,363.3 M644.0,368.4 640.5,368.8 M643.3,362.7 638.6,366.7 M638.6,366.7 640.5,368.8 M643.1,361.7 639.0,360.8 M638.6,360.9 637.1,366.3 M638.6,366.7 637.1,366.3 M640.2,370.0 640.5,368.8 M547.4,391.9 548.1,390.5 M553.4,394.3 553.3,390.5 M553.3,390.5 548.1,390.5 M548.1,390.5 548.2,386.7 M567.0,389.0 567.8,388.6 M568.5,384.9 567.8,388.6 M568.5,384.9 565.8,383.5 M563.2,388.0 562.4,384.0 M562.4,384.0 562.7,383.7 M565.8,383.5 562.7,383.7 M561.2,374.3 562.4,379.3 M561.2,374.3 558.2,374.3 M562.4,379.3 556.3,379.5 M558.2,374.3 556.6,375.6 M556.3,379.5 556.6,375.6 M562.5,372.0 561.5,374.0 M561.5,374.0 561.2,374.3 M557.6,372.5 558.2,374.3 M555.6,380.5 556.3,379.5 M555.6,380.5 559.6,384.2 M562.4,384.0 559.6,384.2 M562.5,379.4 562.7,383.7 M552.0,374.0 556.6,375.6 M555.6,380.5 553.1,381.6 M561.5,374.0 566.5,375.6 M562.5,379.4 567.3,378.0 M566.5,375.6 567.3,378.0 M565.8,383.5 568.1,378.4 M568.1,378.4 567.3,378.0 M630.4,376.1 631.2,375.3 M631.2,375.3 633.0,376.0 M636.1,372.0 634.9,372.1 M634.9,372.1 635.3,373.1 M629.6,362.5 626.8,362.7 M629.6,362.5 628.3,367.5 M628.3,367.5 624.1,365.3 M624.1,365.3 623.7,363.9 M624.2,363.0 623.7,363.9 M618.8,363.7 618.7,364.3 M618.7,364.3 623.7,363.9 M604.0,369.6 600.9,370.6 M600.9,370.6 599.4,372.1 M601.7,375.6 600.0,374.1 M600.0,374.1 599.4,372.1 M612.5,364.4 613.5,367.6 M617.0,363.9 618.4,364.4 M613.5,367.6 616.8,369.2 M618.4,364.4 618.5,368.1 M616.8,369.2 618.5,368.1 M611.4,371.0 613.5,367.6 M615.9,372.6 616.8,369.2 M597.2,390.4 597.8,392.5 M597.2,390.4 594.7,390.6 M568.5,384.9 571.1,383.6 M571.3,378.8 568.1,378.4 M571.3,378.8 571.8,381.3 M571.8,381.3 571.1,383.6 M575.9,377.3 578.0,379.0 M575.9,377.3 571.7,378.3 M571.3,378.8 571.7,378.3 M571.8,381.3 575.7,382.6 M575.7,382.6 578.0,379.0 M571.8,390.1 574.0,387.9 M571.8,390.1 571.9,392.2 M571.9,392.2 574.3,394.5 M574.0,387.9 575.8,387.8 M575.8,387.8 577.8,393.3 M574.3,394.5 577.7,393.4 M567.8,388.6 571.8,390.1 M571.1,383.6 574.0,387.9 M568.4,394.5 571.9,392.2 M578.4,394.4 577.7,393.4 M583.7,391.2 582.4,390.1 M582.4,390.1 577.8,393.3 M597.2,376.9 595.2,375.1 M597.2,376.9 597.0,379.4 M595.2,375.1 591.9,377.4 M597.0,379.4 595.9,380.4 M595.9,380.4 593.8,380.2 M591.9,377.4 593.8,380.2 M602.5,379.3 602.9,379.0 M602.5,379.3 597.0,379.4 M600.0,374.1 597.2,376.9 M597.2,385.5 597.6,384.3 M597.2,385.5 597.9,389.4 M597.6,384.3 600.7,383.6 M597.9,389.4 601.4,389.1 M601.4,389.1 602.7,385.2 M600.7,383.6 602.7,385.2 M591.3,382.9 593.8,380.2 M592.2,385.5 597.2,385.5 M595.9,380.4 597.6,384.3 M597.2,390.4 597.9,389.4 M602.5,379.3 600.7,383.6 M602.8,389.9 601.4,389.1 M605.7,384.7 602.7,385.2 M577.2,373.8 581.3,374.4 M577.2,373.8 575.8,371.3 M575.8,371.3 575.8,370.3 M582.0,373.6 581.3,374.4 M582.0,373.6 579.1,368.1 M575.8,370.3 576.8,368.6 M576.8,368.6 579.1,368.1 M575.9,377.3 577.2,373.8 M581.6,377.4 581.3,374.4 M581.6,377.4 579.5,379.3 M578.0,379.0 579.5,379.3 M571.6,374.7 571.7,378.3 M571.6,374.7 575.8,371.3 M570.3,368.4 570.2,369.7 M576.4,367.9 576.8,368.6 M570.2,369.7 575.8,370.3 M579.7,367.7 579.1,368.1 M634.1,365.5 635.9,366.5 M634.1,365.5 629.2,369.4 M635.9,366.5 634.8,372.0 M629.2,369.8 632.2,372.3 M632.2,372.3 634.8,372.0 M637.1,366.3 635.9,366.5 M631.2,375.3 632.2,372.3 M629.6,362.5 630.2,362.2 M634.1,365.5 632.1,361.9 M628.3,367.5 629.2,369.4 M552.6,385.0 552.2,385.7 M552.6,385.0 558.2,385.9 M552.2,385.7 553.8,389.1 M553.8,389.1 557.8,389.2 M558.2,385.9 557.8,389.2 M553.1,381.6 552.6,385.0 M548.2,386.7 552.2,385.7 M559.6,384.2 558.2,385.9 M553.3,390.5 553.8,389.1 M559.7,390.9 557.8,389.2 M569.3,370.5 569.5,372.3 M569.5,372.3 566.8,374.7 M566.8,374.7 565.3,371.8 M570.2,369.7 569.3,370.5 M571.6,374.7 569.5,372.3 M566.5,375.6 566.8,374.7 M621.0,369.4 623.3,368.0 M621.0,369.4 621.5,372.7 M623.3,368.0 626.9,371.2 M622.1,373.3 621.5,372.7 M622.1,373.3 625.4,373.8 M625.4,373.8 626.9,371.2 M624.1,365.3 623.3,368.0 M618.5,368.1 621.0,369.4 M616.1,373.1 621.5,372.7 M629.2,369.8 626.9,371.2 M620.1,377.1 622.1,373.3 M625.9,375.1 625.4,373.8 M585.9,379.1 581.6,377.4 M582.0,373.6 585.6,372.1 M585.6,372.1 586.0,379.1 M588.1,382.4 586.6,379.3 M591.9,377.4 590.7,376.6 M590.7,376.6 586.6,379.3 M599.4,372.1 595.4,371.0 M595.2,375.1 595.3,371.1 M590.7,376.6 590.1,373.2 M595.3,371.1 590.1,373.2 M598.2,366.0 594.9,368.4 M594.9,368.4 593.7,367.4 M593.7,367.4 593.7,366.4 M600.9,370.6 598.9,365.9 M595.4,371.0 594.9,368.4 M577.8,386.2 577.8,385.2 M577.8,386.2 581.9,388.1 M577.8,385.2 580.3,381.9 M584.1,385.7 582.6,382.5 M584.1,385.7 581.9,388.1 M582.6,382.5 580.3,381.9 M575.7,382.6 577.8,385.2 M575.8,387.8 577.8,386.2 M582.4,390.1 581.9,388.1 M579.5,379.3 580.3,381.9 M585.9,385.5 584.1,385.7 M585.9,379.1 582.6,382.5 M586.6,379.3 586.0,379.1 M591.3,367.5 588.8,372.2 M591.3,367.5 590.0,366.7 M586.2,367.1 585.3,368.3 M585.3,368.3 586.1,371.5 M586.1,371.5 588.8,372.2 M590.1,373.2 588.8,372.2 M593.7,367.4 591.3,367.5 M582.4,367.4 585.3,368.3 M585.6,372.1 586.1,371.5 M544.9,427.6 548.5,427.1 M544.9,427.6 543.7,426.8 M548.9,421.4 548.5,427.1 M548.9,421.4 543.7,421.2 M543.7,421.2 543.7,426.8 M529.0,462.2 530.1,462.3 M530.0,458.4 530.1,462.3 M530.3,463.1 530.4,462.5 M534.6,455.7 530.5,456.7 M534.6,455.7 534.1,451.2 M534.1,451.2 532.7,451.1 M539.0,439.8 536.3,439.6 M539.0,439.8 539.5,444.4 M539.5,444.4 535.6,445.1 M534.1,451.2 534.5,450.6 M534.2,448.0 534.5,450.6 M566.1,470.6 564.3,470.3 M564.3,470.3 563.5,471.2 M536.1,409.4 536.1,410.6 M536.1,410.6 535.6,410.7 M550.0,433.0 544.3,433.1 M550.0,433.0 549.1,427.5 M544.9,427.6 544.0,432.9 M548.5,427.1 549.1,427.5 M544.0,432.9 544.3,433.1 M539.0,439.8 539.7,438.6 M539.7,438.6 538.8,433.7 M533.8,434.2 538.8,433.7 M550.1,433.1 549.7,438.2 M544.3,433.1 545.1,438.7 M549.7,438.2 545.1,438.7 M539.7,438.6 545.0,438.8 M544.0,432.9 539.2,433.2 M539.2,433.2 538.8,433.7 M548.9,421.4 549.5,420.9 M549.1,427.5 554.4,426.8 M554.4,426.8 554.9,426.0 M554.9,426.0 553.5,421.4 M553.5,421.4 549.5,420.9 M548.9,415.5 549.2,410.7 M548.9,415.5 543.7,415.5 M547.6,409.1 549.2,410.7 M547.6,409.1 543.0,410.7 M543.0,410.7 543.7,415.5 M543.5,421.1 542.9,416.4 M548.9,415.5 549.5,420.9 M542.9,416.4 543.7,415.5 M543.7,426.8 539.0,427.3 M539.2,433.2 538.5,428.1 M539.0,427.3 538.5,428.1 M541.8,398.7 541.7,399.3 M536.1,410.6 537.1,411.4 M537.1,411.4 542.0,410.0 M542.0,410.0 541.2,404.7 M541.2,404.7 538.0,404.9 M564.3,470.3 564.4,465.7 M564.4,465.7 568.7,464.3 M568.7,464.3 570.5,469.9 M573.7,469.9 574.1,469.8 M568.7,464.3 569.2,463.8 M569.2,463.8 573.3,464.4 M569.2,463.8 569.0,459.0 M572.6,458.7 569.0,459.0 M563.4,458.8 568.9,458.9 M563.4,458.8 562.3,453.7 M562.3,453.7 562.7,453.2 M562.7,453.2 568.9,453.6 M568.9,458.9 568.9,453.6 M534.6,455.7 535.1,456.1 M539.9,450.2 534.5,450.6 M539.9,450.2 539.9,455.4 M535.1,456.1 539.9,455.4 M563.5,471.2 558.4,471.3 M558.3,471.4 558.4,473.9 M550.1,433.1 555.3,432.6 M554.4,426.8 555.7,432.1 M555.7,432.1 555.3,432.6 M566.4,424.9 566.4,430.3 M566.4,430.3 561.2,431.4 M561.0,431.3 560.4,425.3 M566.3,424.8 560.4,425.3 M554.9,426.0 560.3,425.2 M561.0,431.3 555.7,432.1 M566.4,424.9 571.0,425.2 M566.4,430.3 567.5,431.2 M567.5,431.2 570.9,430.5 M566.9,419.3 566.4,420.1 M566.9,419.3 571.0,419.1 M566.3,424.8 566.4,420.1 M566.9,419.3 565.5,414.6 M565.5,414.6 565.8,414.2 M565.8,414.2 571.1,413.2 M571.1,408.3 570.4,408.3 M571.1,411.9 570.4,408.3 M571.1,403.6 570.2,408.1 M569.6,395.6 569.8,397.1 M564.1,396.1 564.1,397.6 M569.8,397.1 569.5,397.5 M564.2,397.6 569.5,397.5 M553.5,421.4 554.0,420.9 M560.3,425.2 559.8,420.3 M554.0,420.9 559.8,420.3 M566.4,420.1 560.0,420.0 M547.9,405.4 548.4,404.7 M547.9,405.4 541.6,404.3 M548.4,404.7 546.5,399.3 M546.5,399.3 542.1,399.8 M541.6,404.3 542.1,399.8 M547.6,409.1 547.9,405.4 M542.0,410.0 543.0,410.7 M541.2,404.7 541.6,404.3 M541.7,399.3 542.1,399.8 M552.9,403.2 552.5,403.8 M552.9,403.2 552.4,398.9 M552.5,403.8 548.4,404.7 M546.5,399.3 547.3,398.4 M552.4,398.9 547.3,398.4 M547.3,397.5 547.3,398.4 M565.8,414.2 565.7,408.3 M570.2,408.1 565.8,408.2 M571.1,403.0 569.7,401.8 M569.7,401.8 564.9,403.5 M565.8,408.2 564.9,403.5 M564.2,397.6 564.0,402.9 M569.7,401.8 569.5,397.5 M564.9,403.5 564.0,402.9 M554.3,409.8 554.6,415.3 M554.4,409.6 559.1,408.9 M559.4,409.2 559.1,408.9 M559.4,409.2 560.6,414.6 M560.6,414.6 559.6,415.7 M559.6,415.7 554.7,415.4 M549.2,410.7 554.3,409.8 M552.5,403.8 554.4,409.6 M548.9,415.5 554.6,415.3 M558.8,403.0 559.2,403.5 M558.8,403.0 552.9,403.2 M559.2,403.5 559.1,408.9 M559.2,403.5 564.0,402.9 M565.7,408.3 559.4,409.2 M565.5,414.6 560.6,414.6 M560.0,420.0 559.6,415.7 M554.0,420.9 554.7,415.4 M533.0,422.6 537.7,422.8 M533.9,416.9 537.3,415.9 M538.1,422.3 537.7,422.8 M538.1,422.3 537.7,416.2 M537.3,415.9 537.7,416.2 M537.1,411.4 537.3,415.9 M543.5,421.1 538.1,422.3 M539.0,427.3 537.7,422.8 M542.9,416.4 537.7,416.2 M538.5,428.1 533.0,428.4 M567.9,447.5 562.6,448.9 M567.9,447.5 568.4,447.9 M562.6,448.9 562.7,453.2 M568.9,453.6 569.4,453.0 M568.4,447.9 569.4,453.0 M558.3,471.4 555.5,471.7 M563.3,459.0 564.1,465.5 M563.3,459.0 558.6,460.5 M558.6,460.5 558.8,464.8 M564.1,465.5 558.8,464.8 M564.4,465.7 564.1,465.5 M557.1,454.5 562.3,453.7 M557.1,454.5 557.1,459.3 M557.1,459.3 558.6,460.5 M552.5,460.7 552.6,461.5 M552.5,460.7 557.1,459.3 M556.2,465.6 557.9,465.7 M557.9,465.7 558.8,464.8 M558.4,471.3 557.9,465.7 M541.9,461.5 541.2,460.8 M541.9,461.5 541.8,462.3 M541.2,460.8 535.7,461.5 M535.5,462.7 535.3,462.1 M535.3,462.1 535.7,461.5 M535.1,456.1 535.7,461.5 M539.9,455.4 541.2,456.4 M541.2,456.4 541.2,460.8 M530.4,462.5 535.3,462.1 M570.8,442.1 567.7,442.2 M567.7,442.2 567.6,436.6 M570.9,436.4 567.7,436.5 M567.9,447.5 567.6,442.3 M571.1,447.5 568.4,447.9 M563.1,442.4 567.6,442.3 M563.1,442.4 561.5,437.5 M561.5,437.5 562.3,436.4 M562.3,436.4 567.6,436.6 M567.5,431.2 567.7,436.5 M561.2,431.4 562.3,436.4 M569.8,397.1 571.1,397.1 M539.5,444.4 539.9,444.7 M545.0,438.8 544.9,443.8 M544.9,443.8 539.9,444.7 M539.9,450.2 540.5,449.6 M539.9,444.7 540.5,449.6 M545.6,454.9 546.6,455.6 M545.6,454.9 545.1,450.4 M546.6,455.6 551.5,454.5 M545.1,450.4 545.8,449.8 M545.8,449.8 550.7,449.5 M550.7,449.5 551.7,454.3 M546.1,461.8 547.2,460.5 M546.1,461.8 541.9,461.5 M547.2,460.5 546.6,455.6 M541.2,456.4 545.6,454.9 M540.5,449.6 545.1,450.4 M547.2,460.5 552.3,460.5 M552.3,460.5 551.5,454.5 M544.9,443.8 545.6,444.3 M545.6,444.3 545.8,449.8 M550.1,444.0 551.0,449.0 M550.1,444.0 545.6,444.3 M551.0,449.0 550.7,449.5 M557.1,454.5 556.6,454.1 M556.6,454.1 551.7,454.3 M549.7,438.2 550.0,438.5 M550.1,444.0 550.9,443.1 M550.0,438.5 550.9,443.1 M555.3,432.6 556.1,437.7 M550.0,438.5 556.1,437.7 M561.5,437.5 556.8,438.4 M556.8,438.4 556.1,437.7 M561.8,443.8 562.0,448.2 M561.8,443.8 556.5,442.6 M562.0,448.2 556.5,448.4 M556.5,442.6 555.9,443.3 M555.9,443.3 556.2,448.2 M556.5,448.4 556.2,448.2 M562.6,448.9 562.0,448.2 M563.1,442.4 561.8,443.8 M556.8,438.4 556.5,442.6 M556.6,454.1 556.5,448.4 M550.9,443.1 555.9,443.3 M551.0,449.0 556.2,448.2 M553.4,397.5 553.3,397.0 M553.4,397.5 558.7,397.9 M558.9,396.5 558.9,397.7 M552.4,398.9 553.4,397.5 M558.8,403.0 558.7,397.9 M564.1,397.6 558.9,397.7 M569.4,453.0 571.8,452.9 M605.8,398.9 605.0,399.1 M604.0,393.1 602.0,393.1 M605.0,399.1 602.0,393.2 M602.1,392.3 602.0,393.1 M616.4,451.0 619.2,450.7 M616.4,451.0 616.0,451.6 M616.0,451.6 616.4,454.9 M613.8,425.3 613.0,425.5 M613.0,425.5 614.3,431.1 M616.2,431.2 614.5,431.2 M612.8,425.3 612.7,421.9 M606.6,418.7 611.5,417.9 M606.6,418.7 606.0,425.9 M612.8,425.3 606.1,425.9 M577.1,394.9 583.8,395.7 M584.1,394.2 584.3,395.0 M583.8,395.7 584.3,395.0 M589.6,393.7 584.3,395.0 M571.8,409.3 571.4,407.5 M571.8,409.3 571.4,409.3 M585.5,470.1 585.4,467.5 M585.4,467.5 587.2,467.7 M596.3,440.6 595.4,446.7 M596.3,440.6 588.9,441.0 M588.9,441.0 590.1,446.7 M590.1,446.7 595.1,447.0 M590.1,446.7 589.5,447.3 M596.4,452.4 595.1,447.0 M596.4,452.4 589.9,453.5 M589.5,447.3 589.9,453.5 M590.7,394.3 591.3,399.8 M590.7,394.3 594.7,393.1 M598.0,394.5 595.7,393.0 M598.0,394.5 597.2,400.4 M597.2,400.4 591.3,399.8 M589.6,393.7 590.7,394.3 M602.0,393.2 598.0,394.5 M571.4,398.5 572.0,401.9 M571.4,402.6 572.0,401.9 M577.0,395.1 571.4,397.7 M605.1,417.8 604.6,412.9 M605.1,417.8 599.2,419.5 M599.2,419.5 598.3,413.9 M598.3,413.9 599.1,412.8 M599.1,412.8 604.6,412.9 M606.6,418.7 605.1,417.8 M609.6,411.6 606.0,410.9 M606.0,410.9 604.6,412.9 M616.0,451.6 609.2,451.5 M609.2,451.5 609.9,455.7 M597.5,453.3 602.0,452.1 M597.5,453.3 597.1,457.2 M604.2,456.4 604.0,453.2 M604.0,453.2 602.0,452.1 M602.0,446.3 595.4,446.7 M602.0,446.3 602.0,452.1 M596.4,452.4 597.5,453.3 M590.6,458.0 589.5,454.1 M589.5,454.1 589.9,453.5 M609.2,451.5 604.0,453.2 M589.5,447.3 583.6,448.1 M583.0,441.0 588.7,440.7 M583.0,441.0 583.2,447.8 M583.2,447.8 583.6,448.1 M589.5,454.1 583.8,454.2 M583.6,448.1 583.8,454.2 M618.0,444.0 616.1,444.1 M616.1,444.1 615.8,438.4 M615.8,438.4 617.6,437.9 M616.4,451.0 615.7,444.6 M615.7,444.6 616.1,444.1 M614.5,431.2 614.7,437.4 M614.7,437.4 615.8,438.4 M614.3,431.1 607.5,433.0 M606.1,425.9 606.9,432.5 M607.5,433.0 606.9,432.5 M606.0,425.9 600.3,425.6 M600.3,425.6 599.1,419.6 M576.4,442.4 576.4,448.2 M583.2,447.8 576.4,448.2 M582.9,440.9 576.6,442.1 M576.4,442.4 571.1,442.8 M571.2,436.4 574.3,436.2 M576.6,442.1 574.4,436.2 M582.9,440.9 581.8,434.7 M574.4,436.2 581.4,434.3 M581.4,434.3 581.8,434.7 M574.3,436.2 574.5,429.4 M574.5,429.4 571.3,429.4 M596.1,406.6 598.6,408.3 M596.1,406.6 597.3,400.6 M598.6,408.3 604.6,406.2 M597.3,400.6 603.5,401.7 M603.5,401.7 604.9,405.6 M604.9,405.6 604.6,406.2 M599.1,412.8 598.6,408.3 M606.0,410.9 604.6,406.2 M605.0,399.1 603.5,401.7 M607.6,405.1 604.9,405.6 M585.4,467.5 584.8,467.0 M585.7,461.5 584.6,461.8 M584.8,467.0 584.6,461.8 M584.8,467.0 581.7,468.1 M574.3,469.0 578.4,468.3 M578.5,466.4 577.7,462.3 M577.7,462.3 573.4,462.8 M571.6,449.4 576.4,448.2 M608.6,438.8 609.2,444.2 M608.6,438.8 607.7,437.9 M607.7,437.9 602.1,439.1 M608.3,445.3 602.7,445.4 M608.3,445.3 609.2,444.2 M602.7,445.4 600.9,440.7 M600.9,440.7 602.1,439.1 M614.7,437.4 608.6,438.8 M615.7,444.6 609.2,444.2 M607.5,433.0 607.7,437.9 M609.2,451.5 608.3,445.3 M602.0,446.3 602.7,445.4 M596.3,440.6 600.9,440.7 M598.3,413.9 593.0,413.5 M596.1,406.6 591.7,408.1 M593.0,413.5 591.7,408.1 M577.0,395.1 578.4,402.3 M583.8,395.7 584.3,401.0 M584.3,401.0 578.4,402.3 M572.0,401.9 578.0,402.7 M578.4,402.3 578.0,402.7 M571.8,409.3 572.3,409.6 M572.3,409.6 578.1,408.6 M578.0,402.7 578.1,408.6 M596.3,440.6 595.2,434.7 M602.1,439.1 600.2,433.2 M595.2,434.7 600.2,433.2 M606.9,432.5 600.4,432.9 M600.3,425.6 599.5,426.5 M599.5,426.5 600.4,432.9 M581.4,430.4 581.4,434.3 M581.4,430.4 580.4,429.4 M574.5,429.4 575.0,428.8 M580.4,429.4 575.0,428.8 M584.3,461.5 577.9,462.1 M584.3,461.5 582.8,455.2 M577.9,462.1 577.2,456.1 M582.8,455.2 578.6,454.9 M577.2,456.1 578.6,454.9 M584.6,461.8 584.3,461.5 M583.8,454.2 582.8,455.2 M576.4,448.2 578.6,454.9 M577.2,456.1 572.6,456.5 M599.1,419.6 593.5,419.9 M593.0,413.5 591.7,415.5 M591.7,415.5 593.5,419.9 M594.6,427.2 599.5,426.5 M594.6,427.2 592.4,421.3 M593.5,419.9 592.4,421.3 M586.0,408.6 591.6,408.0 M585.7,408.4 584.4,401.1 M591.6,408.0 590.4,400.6 M590.4,400.6 584.4,401.1 M578.1,408.6 579.0,409.3 M579.0,409.3 585.7,408.4 M591.3,399.8 590.4,400.6 M588.3,428.5 589.1,434.5 M588.3,428.5 593.9,427.9 M593.9,427.9 594.8,434.5 M594.8,434.5 589.7,435.2 M589.7,435.2 589.1,434.5 M581.4,430.4 587.5,427.9 M587.5,427.9 588.3,428.5 M581.8,434.7 589.1,434.5 M587.5,427.9 586.7,422.7 M594.6,427.2 593.9,427.9 M592.4,421.3 586.7,422.7 M595.2,434.7 594.8,434.5 M588.7,440.7 589.7,435.2 M580.4,429.4 580.7,422.2 M575.0,428.8 574.5,423.3 M574.5,423.3 580.7,422.2 M586.0,414.6 587.1,415.7 M586.0,414.6 579.9,416.2 M587.1,415.7 586.4,422.5 M579.9,416.2 581.0,421.8 M586.4,422.5 581.0,421.8 M591.7,415.5 587.1,415.7 M586.0,408.6 586.0,414.6 M579.0,409.3 579.4,415.8 M579.4,415.8 579.9,416.2 M580.7,422.2 581.0,421.8 M573.4,422.5 573.2,416.7 M573.4,422.5 571.3,423.0 M571.3,416.0 572.2,415.8 M572.2,415.8 573.2,416.7 M574.5,423.3 573.4,422.5 M579.4,415.8 573.2,416.7 M572.3,409.6 572.2,415.8 M664.1,423.5 667.6,423.3 M664.1,423.5 663.4,419.2 M665.0,419.2 663.5,419.0 M644.8,445.5 648.9,442.5 M644.8,445.5 644.2,445.1 M644.2,445.1 642.4,440.2 M648.9,442.5 648.9,440.3 M648.9,440.3 646.9,439.0 M646.9,439.0 645.1,438.5 M645.1,438.5 642.4,440.2 M640.4,445.4 639.3,444.8 M640.4,445.4 644.2,445.1 M639.3,444.8 638.5,440.4 M638.5,440.4 639.5,439.5 M639.5,439.5 642.4,440.2 M634.3,458.0 633.6,455.4 M636.3,457.8 637.8,455.2 M637.8,455.2 633.8,454.9 M633.6,455.4 633.8,454.9 M628.5,455.6 633.6,455.4 M628.5,455.6 629.2,458.4 M627.9,433.0 629.3,434.3 M627.9,433.0 625.7,432.3 M629.0,435.7 629.3,434.3 M629.0,435.7 626.5,437.9 M625.0,437.3 626.5,437.9 M625.0,437.3 623.9,434.4 M625.7,432.3 623.9,434.4 M617.6,433.7 620.0,434.8 M620.0,434.8 620.9,434.0 M616.3,430.6 621.1,430.6 M621.1,430.6 620.9,434.0 M627.9,433.0 629.4,428.1 M625.7,432.3 624.7,430.2 M629.4,428.1 624.7,430.2 M621.1,430.6 621.7,429.8 M621.7,429.8 624.0,429.7 M620.9,434.0 623.9,434.4 M624.7,430.2 624.0,429.7 M620.4,426.9 621.7,429.8 M620.4,426.9 623.8,424.7 M623.8,424.7 625.3,425.3 M624.0,429.7 625.3,425.3 M623.8,424.7 622.2,421.8 M622.2,421.8 626.9,419.9 M626.9,419.9 626.5,425.1 M626.5,425.1 625.3,425.3 M615.9,429.6 617.0,426.0 M614.1,425.3 617.0,426.0 M620.4,426.9 617.7,425.5 M617.7,425.5 617.0,426.0 M609.8,391.2 611.1,394.9 M614.0,390.6 613.3,394.5 M611.1,394.9 613.3,394.5 M670.5,426.8 669.7,426.8 M669.2,426.0 669.7,426.8 M663.5,419.0 662.8,415.8 M643.2,398.7 642.7,398.9 M642.7,398.9 643.1,402.2 M643.1,402.2 647.7,403.5 M647.7,403.5 648.0,403.2 M644.8,445.5 645.3,448.4 M648.9,442.5 650.5,443.8 M650.5,443.8 651.4,446.7 M651.4,446.7 649.7,448.9 M645.3,448.4 649.7,448.9 M645.1,457.0 644.6,455.0 M650.2,456.5 648.9,454.2 M648.9,454.2 645.5,453.6 M644.6,455.0 645.5,453.6 M640.4,457.5 640.7,455.4 M640.7,455.4 644.6,455.0 M645.3,448.4 644.6,449.5 M650.9,451.3 649.7,448.9 M650.9,451.3 648.9,454.2 M644.6,449.5 645.5,453.6 M633.5,437.9 630.6,437.2 M633.5,437.9 634.1,440.0 M634.1,440.0 630.1,441.7 M630.6,437.2 630.1,441.7 M634.5,435.4 633.5,437.9 M634.5,435.4 632.5,432.9 M632.5,432.9 629.3,434.3 M629.0,435.7 630.6,437.2 M627.3,441.3 629.8,441.9 M627.3,441.3 626.5,437.9 M629.8,441.9 630.1,441.7 M639.3,444.8 635.4,446.8 M638.5,440.4 635.8,441.0 M635.8,441.0 634.5,445.9 M635.4,446.8 634.5,445.9 M635.8,441.0 634.1,440.0 M629.8,441.9 631.0,445.6 M634.5,445.9 631.0,445.6 M628.3,425.7 629.6,427.9 M628.3,425.7 631.6,421.7 M629.6,427.9 632.6,428.6 M631.6,421.7 633.0,422.5 M633.0,422.5 633.8,426.7 M632.6,428.6 633.8,426.7 M626.5,425.1 628.3,425.7 M627.0,419.7 630.9,420.5 M630.9,420.5 631.6,421.7 M632.5,432.9 633.4,430.3 M633.4,430.3 632.6,428.6 M637.3,420.9 636.8,418.2 M637.3,420.9 636.9,421.3 M630.9,420.5 631.9,418.2 M636.9,421.3 633.0,422.5 M631.9,418.2 636.8,418.2 M636.9,421.3 637.2,426.0 M637.2,426.0 633.8,426.7 M639.5,427.1 638.4,431.2 M639.5,427.1 637.2,426.0 M638.4,431.2 633.4,430.3 M651.4,446.7 652.8,446.8 M652.8,446.8 655.5,448.2 M650.9,451.3 654.2,452.1 M654.2,452.1 655.5,448.2 M641.5,425.6 640.4,426.7 M641.5,425.6 646.0,428.0 M640.4,426.7 643.6,430.6 M646.0,428.0 646.2,429.6 M646.2,429.6 643.6,430.6 M620.0,434.8 619.6,439.0 M618.0,439.4 619.6,439.0 M625.0,437.3 620.2,439.4 M620.2,439.4 619.6,439.0 M627.0,419.7 626.3,417.5 M622.2,421.8 620.8,421.1 M626.3,417.5 621.8,415.9 M620.8,421.1 621.8,415.9 M617.7,425.5 618.4,422.2 M620.8,421.1 618.4,422.2 M617.3,393.3 613.6,394.5 M617.3,393.3 619.7,398.2 M613.6,394.5 616.5,398.8 M616.5,398.8 619.2,398.6 M619.7,398.2 619.2,398.6 M618.5,391.2 618.5,390.0 M618.5,391.2 617.3,393.3 M659.7,423.0 658.2,424.7 M659.7,423.0 663.5,425.0 M658.2,424.7 662.1,427.8 M663.5,425.0 663.7,426.9 M662.1,427.8 663.4,427.3 M663.4,427.3 663.7,426.9 M658.5,419.9 660.2,420.7 M658.5,419.9 654.7,421.5 M660.2,420.7 659.7,423.0 M657.0,425.1 658.2,424.7 M657.0,425.1 655.3,424.1 M655.3,424.1 654.7,421.5 M664.1,423.5 663.5,425.0 M660.2,420.7 663.4,419.2 M669.2,426.0 663.7,426.9 M671.3,434.5 671.6,431.3 M671.3,434.5 669.5,436.1 M671.6,431.3 669.5,429.7 M669.5,429.7 666.2,431.9 M666.2,431.9 667.6,435.4 M667.6,435.4 668.5,436.1 M669.5,436.1 668.5,436.1 M673.1,431.0 671.6,431.3 M670.6,437.4 669.5,436.1 M669.7,426.8 669.5,429.7 M663.4,427.3 666.2,431.9 M667.2,439.9 668.5,436.1 M667.2,439.9 669.7,441.2 M647.7,403.5 647.0,407.0 M652.4,408.3 647.0,407.0 M652.4,408.3 653.2,407.2 M627.1,392.1 624.8,391.2 M627.1,392.1 627.6,395.2 M624.8,391.2 622.2,393.7 M627.6,395.2 623.6,397.7 M622.2,393.7 622.6,397.4 M622.6,397.4 623.6,397.7 M623.7,389.2 624.8,391.2 M628.4,388.5 627.8,391.4 M627.8,391.4 627.1,392.1 M630.3,396.5 627.6,395.2 M630.3,396.5 632.6,396.6 M627.8,391.4 632.8,391.3 M632.6,396.6 633.4,395.4 M632.8,391.3 633.4,395.4 M618.5,391.2 622.2,393.7 M630.3,396.5 626.9,401.8 M624.8,400.2 626.7,401.8 M624.8,400.2 623.6,397.7 M619.7,398.2 622.6,397.4 M624.8,400.2 621.2,403.6 M621.2,403.6 619.4,401.6 M619.4,401.6 619.2,398.6 M638.1,395.1 637.9,400.3 M638.1,395.1 639.3,395.3 M642.0,397.6 642.5,398.8 M642.5,398.8 638.0,400.3 M637.7,394.8 637.8,393.9 M637.7,394.8 638.1,395.1 M641.4,404.5 643.1,402.2 M641.4,404.5 639.8,405.1 M639.8,405.1 638.0,400.3 M633.1,387.7 632.7,388.1 M636.8,390.6 632.9,391.0 M632.7,388.1 632.9,391.0 M632.2,387.9 632.7,388.1 M633.4,395.4 637.7,394.8 M647.9,412.6 646.4,407.6 M647.9,412.6 646.1,413.9 M646.1,413.9 644.1,412.5 M644.1,412.5 644.3,408.9 M644.3,408.9 646.2,407.6 M650.3,412.8 652.6,411.5 M650.3,412.8 647.9,412.6 M652.4,408.3 652.6,411.5 M647.0,407.0 646.4,407.6 M640.4,409.4 639.8,412.3 M640.4,409.4 644.3,408.9 M639.8,412.3 644.1,412.5 M641.4,404.5 646.2,407.6 M640.4,409.4 639.0,406.3 M639.8,405.1 639.0,406.3 M650.5,415.5 654.4,417.1 M650.5,415.5 649.6,417.6 M649.6,417.6 650.7,420.2 M650.7,420.2 653.1,420.0 M654.4,417.1 653.1,420.0 M650.3,412.8 650.5,415.5 M645.5,416.1 646.1,413.9 M645.5,416.1 649.6,417.6 M651.7,426.4 650.0,425.1 M651.7,426.4 655.3,424.1 M650.0,425.1 650.6,420.2 M654.7,421.5 653.1,420.0 M639.1,454.3 639.8,454.5 M639.1,454.3 636.2,450.2 M639.8,454.5 642.6,449.9 M636.3,450.0 639.6,449.1 M639.6,449.1 642.6,449.9 M637.8,455.2 639.1,454.3 M640.7,455.4 639.8,454.5 M633.8,454.9 634.0,451.6 M634.0,451.6 636.2,450.2 M644.6,449.5 642.6,449.9 M640.4,445.4 639.6,449.1 M635.4,446.8 636.3,450.0 M667.2,439.9 664.9,441.1 M669.2,444.9 668.8,445.0 M668.8,445.0 664.9,441.1 M667.6,435.4 662.1,437.8 M664.9,441.1 663.9,441.1 M663.7,441.0 662.1,437.8 M642.3,432.2 643.8,434.6 M642.3,432.2 638.9,432.2 M643.8,434.6 639.1,437.0 M638.9,432.2 638.2,435.3 M638.2,435.3 639.1,437.0 M640.4,426.7 639.5,427.1 M638.4,431.2 638.9,432.2 M643.6,430.6 642.3,432.2 M645.1,438.5 644.7,435.1 M639.5,439.5 639.1,437.0 M644.7,435.1 643.8,434.6 M634.5,435.4 638.2,435.3 M624.7,458.8 624.2,456.6 M628.5,455.6 628.0,455.0 M628.0,455.0 624.2,456.6 M619.8,451.9 622.1,450.8 M622.1,450.8 623.3,451.8 M621.5,456.7 623.1,456.3 M623.3,451.8 623.1,456.3 M624.2,456.6 623.1,456.3 M629.3,447.5 631.6,451.3 M629.3,447.5 627.5,447.8 M627.5,447.8 626.7,452.4 M631.6,451.3 628.0,454.2 M628.0,454.2 626.7,452.4 M634.0,451.6 631.6,451.3 M631.0,445.6 629.3,447.5 M627.3,441.3 624.6,443.3 M624.6,443.3 626.7,447.4 M626.7,447.4 627.5,447.8 M622.5,449.1 622.1,450.8 M622.5,449.1 626.7,447.4 M623.3,451.8 626.7,452.4 M628.0,455.0 628.0,454.2 M624.6,443.3 623.3,443.2 M622.5,449.1 621.3,447.1 M621.3,447.1 623.3,443.2 M620.2,439.4 621.7,441.9 M623.3,443.2 621.7,441.9 M618.5,445.5 618.5,445.0 M621.3,447.1 618.7,446.7 M621.7,441.9 618.5,445.0 M639.8,412.4 634.8,412.5 M638.7,406.3 634.4,410.9 M634.4,410.9 634.8,412.5 M631.9,418.2 631.5,414.7 M636.9,418.0 634.3,413.2 M634.3,413.2 631.5,414.7 M636.9,418.0 640.4,415.7 M640.4,415.7 639.8,412.4 M634.3,413.2 634.8,412.5 M626.3,417.5 627.7,415.7 M627.7,415.7 630.3,414.3 M630.3,414.3 631.5,414.7 M640.6,415.8 644.6,417.0 M640.6,415.8 640.8,421.7 M644.6,417.0 644.8,421.0 M642.3,422.5 640.8,421.7 M642.3,422.5 644.4,421.6 M644.4,421.6 644.8,421.0 M645.5,416.1 644.6,417.0 M637.3,420.9 640.8,421.7 M650.6,420.2 644.8,421.0 M641.5,425.6 642.3,422.5 M647.5,425.4 644.4,421.6 M647.5,425.4 646.0,428.0 M647.5,425.4 650.0,425.1 M627.7,415.7 625.0,412.1 M621.8,415.9 622.2,413.7 M622.2,413.7 625.0,412.1 M628.2,410.2 630.3,414.3 M628.2,410.2 626.3,410.2 M626.3,410.2 625.0,412.1 M621.2,403.6 621.8,406.7 M626.7,401.8 624.4,406.0 M624.4,406.0 623.5,406.8 M623.5,406.8 621.8,406.7 M618.4,422.2 617.5,421.5 M621.8,415.9 617.2,415.9 M617.5,421.5 617.2,415.9 M605.9,398.5 607.1,396.0 M604.9,394.8 607.1,396.0 M604.7,391.9 604.7,394.3 M611.1,394.9 610.2,396.1 M610.2,396.1 607.1,396.0 M657.4,416.4 659.1,414.8 M657.4,416.4 654.8,416.6 M659.1,414.8 656.5,411.6 M654.8,416.6 653.3,411.9 M653.3,411.9 656.5,411.6 M658.5,419.9 657.4,416.4 M661.5,414.5 659.1,414.8 M654.4,417.1 654.8,416.6 M657.2,410.6 656.5,411.6 M652.6,411.5 653.3,411.9 M638.7,406.3 635.9,405.3 M634.4,410.9 633.0,409.2 M635.9,405.3 633.0,409.2 M624.4,406.0 630.3,406.3 M628.2,410.2 630.4,408.0 M626.3,410.2 623.5,406.8 M630.3,406.3 630.4,408.0 M630.4,408.0 633.0,409.2 M633.6,400.1 633.9,400.5 M633.6,400.1 627.0,401.8 M633.9,400.5 633.6,403.1 M633.6,403.1 630.5,405.3 M627.0,401.8 630.5,405.3 M632.6,396.6 633.6,400.1 M637.9,400.3 633.9,400.5 M635.9,405.3 633.6,403.1 M630.3,406.3 630.5,405.3 M659.2,453.3 659.7,454.4 M659.2,453.3 654.6,452.7 M654.6,452.7 653.6,456.2 M659.5,455.6 659.7,454.4 M654.2,452.1 654.6,452.7 M655.5,448.2 658.6,446.8 M658.9,446.9 660.0,451.3 M660.0,451.3 659.2,453.3 M669.5,450.8 668.8,451.5 M659.7,454.4 662.0,454.4 M657.4,443.2 658.1,439.4 M657.4,443.2 655.2,442.8 M654.6,442.4 655.2,442.8 M654.6,442.4 652.7,438.1 M658.1,439.4 656.0,437.6 M652.7,438.1 656.0,437.6 M663.7,441.0 657.7,443.6 M662.1,437.8 658.1,439.4 M657.7,443.6 657.4,443.2 M652.8,446.8 655.2,442.8 M658.6,446.8 657.7,443.6 M650.5,443.8 654.6,442.4 M648.9,440.3 652.3,437.9 M652.3,437.9 652.7,438.1 M651.9,428.2 647.0,430.4 M651.9,428.2 652.8,429.5 M652.8,429.5 652.6,432.9 M649.1,433.7 651.5,434.2 M649.1,433.7 647.9,433.0 M651.5,434.2 652.6,432.9 M647.9,433.0 647.0,430.4 M651.7,426.4 651.9,428.2 M646.2,429.6 647.0,430.4 M657.0,425.1 656.9,428.9 M656.9,428.9 652.8,429.5 M646.9,439.0 649.1,433.7 M652.3,437.9 651.5,434.2 M644.7,435.1 647.9,433.0 M660.5,429.5 658.2,430.1 M660.5,429.5 662.7,433.2 M658.2,430.1 657.5,433.4 M662.7,433.2 661.2,435.3 M661.2,435.3 657.7,433.8 M657.7,433.8 657.5,433.4 M662.1,427.8 660.5,429.5 M656.9,428.9 658.2,430.1 M666.2,431.9 662.7,433.2 M652.6,432.9 657.5,433.4 M662.1,437.8 661.2,435.3 M656.0,437.6 657.7,433.8 M622.2,413.7 620.7,411.5 M621.8,406.7 621.3,407.0 M621.3,407.0 620.7,411.5 M610.2,396.1 610.4,397.8 M610.4,397.8 606.6,400.8 M616.5,398.8 614.8,400.2 M614.8,400.2 611.4,399.7 M610.4,397.8 611.4,399.7 M619.4,401.6 615.9,404.1 M614.8,400.2 615.4,403.5 M615.9,404.1 615.4,403.5 M621.3,407.0 616.2,406.8 M615.9,404.1 616.2,406.8 M611.4,399.7 610.5,403.1 M615.4,403.5 610.5,403.1 M607.6,404.1 609.9,403.8 M609.9,403.8 610.5,403.1 M667.2,450.5 664.7,450.7 M667.2,450.5 667.2,446.3 M667.2,446.3 663.4,445.6 M664.6,450.7 662.7,446.3 M662.7,446.3 663.4,445.6 M668.8,451.5 667.2,450.5 M664.4,452.0 664.7,450.7 M668.8,445.0 667.2,446.3 M663.9,441.1 663.4,445.6 M660.0,451.3 664.6,450.7 M658.9,446.9 662.7,446.3 M616.0,411.7 615.8,407.2 M616.0,411.7 615.7,412.2 M615.7,412.2 612.8,412.6 M612.8,412.6 610.7,409.3 M615.8,407.2 612.2,407.3 M610.7,409.3 612.2,407.3 M620.7,411.5 616.0,411.7 M616.2,406.8 615.8,407.2 M617.2,415.9 616.9,415.7 M616.9,415.7 615.7,412.2 M609.9,403.8 612.2,407.3 M609.3,409.6 610.7,409.3 M612.8,412.6 611.2,414.6 M611.2,414.6 610.8,414.5 M613.2,417.7 612.2,417.5 M613.2,417.7 615.1,420.9 M612.2,417.5 611.8,417.9 M613.2,422.4 615.1,420.9 M616.9,415.7 613.2,417.7 M611.2,414.6 612.2,417.5 M617.5,421.5 615.1,420.9 M694.3,500.6 694.7,501.0 M694.3,500.6 694.3,500.2 M701.9,518.1 699.9,518.1 M699.9,518.1 701.6,515.5 M694.7,501.0 695.4,507.3 M698.2,506.6 695.4,507.3 M701.2,532.8 691.3,528.0 M691.3,528.0 691.5,527.4 M691.5,527.4 697.0,520.4 M697.1,520.4 702.3,523.7 M687.5,533.5 691.3,528.0 M699.9,518.1 697.1,520.4 M662.3,455.1 666.8,455.0 M666.8,455.0 668.5,452.0 M683.3,481.3 685.1,481.7 M683.3,481.3 683.7,479.7 M651.8,477.4 656.1,474.2 M651.8,477.4 654.3,480.9 M658.2,480.4 654.3,480.9 M658.2,480.4 657.2,474.8 M657.2,474.8 656.1,474.2 M666.8,455.0 668.4,458.6 M668.4,458.6 667.1,461.5 M667.1,461.5 661.0,459.9 M660.5,456.8 661.0,459.9 M661.5,467.4 659.4,462.4 M661.5,467.4 667.8,464.1 M667.1,461.5 667.8,464.1 M661.0,459.9 659.4,462.4 M663.3,472.8 661.2,468.4 M663.3,472.8 657.2,474.8 M661.2,468.4 654.7,469.3 M656.1,474.2 654.4,469.6 M654.4,469.6 654.7,469.3 M654.0,481.5 654.3,480.9 M651.8,477.4 650.6,476.9 M649.3,477.6 650.6,476.9 M654.4,469.6 650.2,470.1 M650.2,470.1 649.7,470.6 M649.7,470.6 650.6,476.9 M695.4,507.3 693.4,509.0 M697.0,520.4 693.2,514.3 M693.2,514.3 693.4,509.0 M626.2,474.5 623.4,468.0 M630.5,470.8 629.9,467.7 M629.9,467.7 623.8,467.4 M623.8,467.4 623.4,468.0 M622.8,461.6 623.8,467.4 M622.8,461.6 621.6,460.9 M617.3,469.0 619.0,470.2 M617.3,469.0 616.6,462.7 M619.0,470.2 623.4,468.0 M621.6,460.9 616.6,462.7 M603.7,457.7 603.3,456.8 M603.7,457.7 603.4,458.5 M603.4,458.5 595.7,460.8 M595.4,460.4 595.7,460.8 M595.4,460.4 595.6,457.7 M603.7,457.7 608.2,457.0 M608.8,456.1 608.2,457.0 M619.0,470.2 618.8,472.0 M618.8,472.0 623.8,476.4 M685.1,488.9 678.5,489.3 M685.1,488.9 683.1,481.5 M678.5,489.3 676.9,483.9 M683.1,481.5 677.5,482.9 M677.5,482.9 676.9,483.9 M689.0,488.5 685.9,489.4 M685.9,489.4 685.1,488.9 M677.9,490.1 680.2,497.2 M677.9,490.1 672.8,491.8 M672.8,491.8 672.7,496.5 M680.2,497.2 672.7,496.5 M685.9,489.4 685.3,495.5 M677.9,490.1 678.5,489.3 M680.2,497.2 681.2,498.0 M685.3,495.5 681.2,498.0 M691.7,495.5 688.8,497.1 M685.3,495.5 688.8,497.1 M694.3,500.6 689.5,500.8 M688.8,497.1 689.5,500.8 M693.4,509.0 691.8,508.0 M690.6,507.2 689.7,506.6 M689.7,506.6 688.4,503.3 M689.5,500.8 688.4,503.3 M675.7,477.5 677.5,482.9 M675.7,477.5 677.9,474.8 M680.8,475.4 677.9,474.8 M668.4,458.6 671.4,458.2 M677.9,474.8 676.6,470.1 M676.6,470.1 677.4,469.9 M674.2,464.5 668.9,464.9 M675.7,467.2 676.4,470.0 M676.4,470.0 669.6,472.2 M668.9,464.9 668.8,471.9 M668.8,471.9 669.6,472.2 M667.8,464.1 668.9,464.9 M675.7,477.5 672.6,477.4 M672.6,477.4 669.6,472.2 M664.4,473.7 668.8,471.9 M664.4,473.7 663.3,472.8 M661.2,468.4 661.5,467.4 M620.4,456.0 614.5,455.4 M620.4,456.0 620.6,455.6 M621.6,460.9 620.4,456.0 M616.6,462.7 614.1,461.9 M614.1,461.9 614.4,455.4 M622.8,461.6 628.2,459.7 M628.2,459.7 628.2,458.8 M611.0,462.9 614.1,461.9 M611.0,462.9 608.2,457.0 M654.2,456.6 655.1,462.6 M654.2,456.6 651.1,456.7 M648.4,462.8 654.7,463.0 M648.4,462.8 647.8,457.4 M655.1,462.6 654.7,463.0 M648.2,457.0 647.8,457.4 M659.4,462.4 655.1,462.6 M654.7,469.3 654.7,463.0 M650.2,470.1 648.0,463.5 M648.0,463.5 648.4,462.8 M646.7,457.2 647.8,457.4 M648.0,463.5 642.4,465.1 M641.7,457.6 641.1,463.9 M642.4,465.1 641.1,463.9 M649.7,470.6 645.5,471.5 M645.1,473.6 645.5,471.5 M642.4,465.1 641.9,469.3 M645.5,471.5 642.3,469.6 M591.8,468.3 589.4,466.7 M591.8,468.3 591.8,468.7 M589.4,466.7 587.6,467.3 M597.2,465.4 591.8,468.3 M597.2,465.4 598.1,466.1 M598.1,466.1 598.2,467.4 M676.2,503.0 680.9,501.7 M676.2,503.0 675.5,514.9 M681.9,510.0 679.9,514.6 M681.9,510.0 681.2,502.0 M681.2,502.0 680.9,501.7 M679.9,514.6 678.8,515.4 M678.8,515.4 677.9,515.7 M677.9,515.7 676.1,515.6 M676.1,515.6 675.5,514.9 M693.2,514.3 690.0,514.4 M689.0,514.4 679.9,514.6 M689.7,506.6 689.1,506.9 M686.9,507.8 681.9,510.0 M688.4,503.3 681.2,502.0 M681.2,498.0 680.9,501.7 M691.5,527.4 678.8,515.4 M680.7,529.8 677.9,515.7 M672.2,520.0 676.1,515.6 M636.9,463.5 634.7,466.1 M636.9,463.5 635.0,459.3 M629.5,460.6 631.0,466.3 M629.5,460.6 635.0,459.3 M631.0,466.3 634.7,466.1 M641.1,463.9 636.9,463.5 M635.4,467.3 634.7,466.1 M635.5,458.2 635.0,459.3 M628.2,459.7 629.5,460.6 M629.9,467.7 631.0,466.3 M672.6,477.4 669.9,480.0 M676.9,483.9 673.8,484.2 M673.8,484.2 669.9,480.0 M672.8,491.8 672.1,491.3 M672.1,491.3 672.0,485.7 M673.8,484.2 672.0,485.7 M658.4,494.3 659.7,494.2 M659.7,494.2 659.1,491.1 M658.8,489.7 658.3,487.7 M659.2,501.1 660.0,500.9 M659.7,494.2 660.4,494.6 M660.0,500.9 660.4,494.6 M662.5,507.5 669.8,506.6 M662.5,507.5 662.3,507.8 M665.6,512.8 672.8,512.9 M672.8,512.9 669.8,506.6 M662.4,505.1 662.5,507.5 M675.5,514.9 672.8,512.9 M672.5,496.8 674.2,502.5 M672.5,496.8 667.5,498.2 M667.5,498.2 666.9,500.2 M666.9,500.2 670.2,504.6 M674.2,502.5 670.2,504.6 M676.2,503.0 674.2,502.5 M672.1,491.3 666.3,490.6 M666.3,490.6 664.6,493.7 M664.6,493.7 667.5,498.2 M663.7,501.7 666.9,500.2 M664.6,493.7 660.4,494.6 M669.8,506.6 670.2,504.6 M597.2,465.4 595.7,460.8 M595.4,460.4 590.2,460.5 M589.4,466.7 589.6,461.0 M590.2,460.5 589.6,461.0 M590.2,460.5 589.3,458.4 M589.6,461.0 586.1,461.7 M618.8,472.0 617.7,473.6 M664.4,479.7 665.7,480.8 M664.4,479.7 659.8,481.1 M665.7,480.8 666.5,485.2 M659.8,481.1 658.8,487.2 M658.8,487.2 665.6,487.9 M666.5,485.2 665.6,487.9 M664.4,473.7 664.4,479.7 M669.9,480.0 665.7,480.8 M658.2,480.4 659.8,481.1 M672.0,485.7 666.5,485.2 M658.3,487.7 658.8,487.2 M666.3,490.6 665.6,487.9 M604.8,467.0 604.4,465.2 M610.3,463.9 612.0,469.3 M610.3,463.9 604.9,464.7 M604.9,464.7 604.4,465.2 M598.1,466.1 604.4,465.2 M611.0,462.9 610.3,463.9 M617.3,469.0 612.0,469.3 M603.4,458.5 604.9,464.7 M687.8,410.8 686.9,411.0 M687.2,411.7 686.9,411.0 M686.2,407.3 686.8,410.9 M686.2,407.3 681.4,405.9 M686.8,410.9 682.0,412.8 M681.4,405.9 679.4,407.9 M679.4,407.9 680.4,411.8 M680.4,411.8 682.0,412.8 M687.8,404.1 691.7,404.8 M687.8,404.1 686.2,407.3 M691.7,404.8 692.1,406.0 M681.7,417.4 682.3,417.7 M681.7,417.4 682.0,412.8 M676.0,406.8 679.4,407.9 M676.0,406.8 675.7,402.1 M680.9,401.3 675.7,402.1 M680.9,401.3 681.4,405.9 M666.7,396.5 661.9,395.7 M666.7,396.5 667.0,396.0 M664.7,389.3 661.0,392.9 M664.7,389.3 667.2,390.4 M667.0,396.0 667.2,390.4 M661.9,395.7 661.0,392.9 M658.9,385.0 659.4,392.4 M658.9,385.0 664.3,387.7 M664.3,387.7 664.7,389.3 M661.0,392.9 659.4,392.4 M649.1,382.0 647.3,383.7 M647.3,383.7 646.3,382.4 M661.7,414.3 662.9,413.5 M665.7,419.8 665.8,414.7 M665.8,414.7 662.9,413.5 M668.5,402.1 667.7,403.1 M668.5,402.1 673.2,400.3 M667.7,403.1 668.2,405.3 M673.2,400.3 675.7,402.1 M676.0,406.8 674.4,408.1 M674.4,408.1 671.0,408.6 M668.2,405.3 671.0,408.6 M672.1,418.0 675.7,418.6 M672.1,418.0 669.3,414.4 M669.3,414.4 670.1,413.0 M670.1,413.0 676.3,412.7 M675.7,418.6 676.6,412.9 M665.8,414.7 669.3,414.4 M668.2,405.3 662.8,412.3 M671.0,408.6 670.1,413.0 M662.8,412.3 662.9,413.5 M674.4,408.1 676.3,412.7 M681.7,417.4 677.3,419.8 M677.3,419.8 675.7,418.6 M680.4,411.8 676.6,412.9 M657.7,381.0 658.8,381.9 M658.8,381.9 661.9,380.5 M664.3,387.7 666.2,383.8 M658.8,381.9 658.7,384.8 M667.0,396.0 673.0,394.4 M667.2,390.4 672.3,389.9 M672.3,389.9 673.0,394.4 M671.6,384.3 672.8,389.1 M672.3,389.9 672.8,389.1 M668.5,402.1 666.7,396.5 M673.2,400.3 674.1,396.2 M673.0,394.4 674.1,396.2 M661.9,395.7 660.3,399.4 M660.3,399.4 654.9,396.9 M659.4,392.4 656.3,392.5 M656.3,392.5 654.9,396.9 M655.9,408.9 655.3,404.7 M655.9,408.9 661.3,409.7 M661.3,409.7 661.0,402.9 M655.5,404.4 661.0,402.9 M662.8,412.3 661.3,409.7 M667.7,403.1 661.0,402.9 M660.3,399.4 661.0,402.9 M654.9,396.9 652.7,398.3 M652.7,398.3 655.5,404.4 M651.6,405.5 655.3,404.7 M677.3,419.8 677.5,422.6 M677.0,423.6 671.9,425.4 M672.1,418.0 670.9,419.9 M670.9,419.9 671.9,425.4 M670.9,419.9 667.0,421.8 M693.4,400.8 691.9,398.1 M691.9,398.1 695.8,395.2 M695.8,395.2 697.0,396.0 M691.7,404.8 692.7,403.9 M687.8,404.1 686.7,400.8 M686.7,400.8 690.4,398.0 M690.4,398.0 691.9,398.1 M695.6,393.6 690.6,391.7 M695.6,393.6 696.1,392.7 M690.6,391.7 690.9,389.1 M690.4,398.0 688.3,393.3 M688.3,393.3 690.6,391.7 M695.8,395.2 695.6,393.6 M681.5,382.6 685.8,386.1 M678.5,383.1 678.3,388.0 M678.3,388.0 683.7,389.1 M685.8,386.1 683.7,389.1 M672.8,389.1 677.5,388.5 M677.5,388.5 678.3,388.0 M686.2,385.9 685.8,386.1 M688.3,393.3 684.5,392.2 M684.5,392.2 683.7,389.1 M683.7,393.4 678.5,393.8 M683.7,393.4 682.9,399.4 M682.5,399.5 677.0,395.7 M677.0,395.7 678.5,393.8 M684.5,392.2 683.7,393.4 M677.5,388.5 678.5,393.8 M686.7,400.8 682.9,399.4 M680.9,401.3 682.5,399.5 M674.1,396.2 677.0,395.7 M653.0,381.6 652.4,386.3 M658.7,384.8 654.8,387.3 M654.8,387.3 652.4,386.3 M656.3,392.5 655.5,391.6 M654.8,387.3 655.5,391.6 M650.2,404.4 648.4,399.0 M645.0,399.9 648.4,399.0 M652.7,398.3 649.6,397.9 M648.4,399.0 649.6,397.9 M655.5,391.6 648.7,392.5 M649.6,397.9 648.7,392.5 M671.9,425.4 670.7,426.6 M641.8,397.0 641.6,395.6 M641.6,395.6 638.5,394.1 M648.5,392.3 643.3,392.5 M648.5,392.3 648.9,387.0 M647.5,385.8 640.8,387.5 M647.5,385.8 648.9,387.0 M643.3,392.5 640.7,387.6 M641.6,395.6 643.3,392.5 M652.4,386.3 648.9,387.0 M640.7,385.3 640.8,387.5 M647.3,383.7 647.5,385.8 M636.8,388.7 640.7,387.6 M725.5,346.8 723.6,346.9 M723.8,344.8 723.6,346.9 M652.6,361.4 649.9,360.6 M652.6,361.4 655.2,360.1 M654.7,358.3 655.2,360.1 M719.2,347.7 718.7,345.9 M719.2,347.7 723.2,347.4 M723.2,347.4 723.6,346.9 M642.7,369.3 642.1,370.5 M640.8,370.1 642.1,370.5 M670.5,379.2 666.3,380.1 M670.5,379.2 672.6,382.9 M666.3,380.1 665.8,382.6 M672.6,382.9 667.9,384.5 M672.6,382.9 673.2,383.4 M657.6,380.7 660.4,379.0 M661.1,380.3 661.0,379.1 M660.4,379.0 661.0,379.1 M650.4,380.9 651.5,381.4 M650.4,380.9 650.0,381.6 M650.4,380.9 650.1,379.2 M650.1,379.2 653.6,377.3 M655.1,377.5 653.6,377.3 M655.1,377.5 656.6,380.8 M657.8,375.5 655.1,377.5 M657.8,375.5 660.4,379.0 M666.3,380.1 664.1,378.0 M664.1,378.0 661.0,379.1 M650.1,367.4 647.1,366.7 M650.1,367.4 651.7,371.9 M646.9,367.2 647.6,373.5 M651.7,371.9 648.2,374.0 M648.2,374.0 647.6,373.5 M652.3,365.8 650.1,367.4 M652.3,365.8 652.6,361.4 M642.2,371.6 642.1,370.5 M642.2,371.6 647.6,373.5 M647.9,377.4 650.1,379.2 M647.9,377.4 648.2,374.0 M652.6,372.1 653.6,377.3 M652.6,372.1 651.7,371.9 M723.2,347.4 725.2,352.7 M728.3,350.7 725.4,352.9 M730.8,354.6 726.5,355.7 M725.4,352.9 726.5,355.7 M713.7,353.0 715.9,348.5 M713.7,353.0 715.6,355.6 M715.6,355.6 718.7,354.0 M718.5,348.2 716.2,348.3 M718.5,348.2 718.8,353.8 M709.1,349.6 710.6,352.1 M709.1,349.6 709.3,349.1 M710.6,352.1 713.7,353.0 M709.3,349.1 715.9,348.5 M719.2,347.7 718.5,348.2 M714.9,346.8 716.2,348.3 M725.2,352.7 718.8,353.8 M709.3,349.1 709.4,348.0 M715.1,357.5 715.6,355.6 M715.1,357.5 714.9,357.8 M714.9,357.8 713.0,358.7 M710.6,352.1 709.0,356.0 M713.0,358.7 709.0,356.0 M627.9,380.1 628.6,380.9 M632.9,379.8 631.7,377.4 M632.9,379.8 632.5,380.7 M628.6,380.9 632.5,380.7 M636.4,372.1 636.6,374.1 M636.6,374.1 635.1,373.9 M637.7,377.6 638.3,375.6 M637.7,377.6 640.1,381.1 M638.3,375.6 640.9,374.2 M640.9,374.2 645.3,378.2 M640.1,381.1 643.8,380.3 M645.3,378.2 643.8,380.3 M632.9,379.8 637.7,377.6 M636.6,374.1 638.3,375.6 M642.2,371.6 640.9,374.2 M647.9,377.4 645.3,378.2 M645.0,382.7 643.8,380.3 M638.5,384.8 639.5,383.4 M638.5,384.8 639.0,385.7 M639.5,383.4 642.2,384.2 M632.5,380.7 633.1,383.0 M640.1,381.1 639.5,383.4 M636.0,385.0 633.1,383.0 M636.0,385.0 638.5,384.8 M636.0,385.0 635.2,387.1 M694.1,386.1 689.2,385.7 M694.1,386.1 694.0,382.2 M689.2,385.7 688.0,385.0 M694.0,382.2 691.7,380.2 M691.7,380.2 688.4,380.8 M688.0,385.0 688.4,380.8 M694.1,386.1 694.5,389.1 M694.1,386.1 701.5,384.1 M701.5,384.1 699.1,389.1 M699.1,389.1 695.5,389.8 M695.5,389.8 694.5,389.1 M689.2,385.7 689.0,387.5 M692.8,390.0 694.5,389.1 M695.5,389.8 696.5,392.5 M701.0,389.9 699.1,389.1 M701.0,389.9 700.6,394.0 M705.7,392.7 705.1,392.8 M681.5,355.3 676.9,355.7 M681.5,355.3 681.6,353.6 M676.0,354.6 676.2,355.4 M676.2,355.4 676.9,355.7 M685.9,370.0 681.1,372.1 M685.9,370.0 687.2,374.7 M685.6,375.9 687.2,374.7 M685.6,375.9 681.6,374.5 M681.6,374.5 681.1,372.1 M680.7,375.6 682.7,381.9 M680.7,375.6 681.6,374.5 M682.7,381.9 686.3,379.8 M686.3,379.8 685.6,375.9 M675.7,371.5 674.2,372.9 M675.7,371.5 679.9,370.8 M674.2,372.9 677.2,377.5 M679.9,370.8 681.1,372.1 M680.7,375.6 677.2,377.5 M682.0,355.7 682.4,361.3 M682.0,355.7 687.8,355.4 M688.1,357.0 687.8,355.4 M688.1,357.0 684.1,362.8 M684.1,362.8 682.4,361.3 M686.5,369.0 686.0,364.8 M686.5,369.0 685.9,370.0 M679.9,370.8 680.2,367.9 M686.0,364.8 684.8,364.2 M684.8,364.2 680.2,367.9 M682.0,355.7 681.5,355.3 M676.9,355.7 677.6,361.7 M682.4,361.3 677.6,361.7 M697.1,373.6 696.6,374.2 M697.1,373.6 694.1,369.2 M696.6,374.2 692.3,375.9 M690.4,370.9 692.6,368.8 M690.4,370.9 690.0,374.1 M690.0,374.1 692.3,375.9 M694.1,369.2 692.6,368.8 M702.1,371.9 701.3,367.9 M702.1,371.9 701.8,372.4 M701.8,372.4 697.1,373.6 M697.3,365.9 694.1,369.2 M697.3,365.9 700.3,366.5 M700.3,366.5 701.3,367.9 M694.0,382.2 697.7,380.2 M691.7,380.2 692.3,375.9 M697.7,380.2 696.6,374.2 M686.5,369.0 690.4,370.9 M687.2,374.7 690.0,374.1 M686.3,379.8 688.4,380.8 M689.3,358.4 693.7,358.7 M689.3,358.4 690.1,364.1 M693.7,358.7 693.2,362.6 M693.2,362.6 690.2,364.1 M688.1,357.0 689.3,358.4 M686.0,364.8 690.1,364.1 M684.1,362.8 684.8,364.2 M697.3,365.9 695.7,363.3 M695.7,363.3 693.2,362.6 M692.6,368.8 690.2,364.1 M702.1,371.9 706.2,370.9 M701.3,367.9 705.6,365.2 M705.6,365.2 707.4,366.5 M707.4,366.5 706.2,370.9 M701.8,372.4 703.4,376.1 M697.7,380.2 698.6,380.5 M703.4,376.1 698.6,380.5 M707.6,376.5 704.4,377.0 M707.6,376.5 709.1,371.7 M706.2,370.9 709.1,371.7 M703.4,376.1 704.4,377.0 M701.5,384.1 701.8,383.8 M698.6,380.5 701.8,383.8 M732.9,359.9 727.4,359.9 M726.5,355.7 726.2,357.1 M727.4,359.9 726.2,357.1 M718.7,354.0 722.0,358.1 M726.2,357.1 722.0,358.1 M715.1,357.5 721.0,359.3 M721.0,359.3 722.0,358.1 M716.8,365.7 711.6,364.3 M716.8,365.7 716.9,367.3 M716.9,367.3 716.4,368.8 M716.4,368.8 711.5,371.5 M711.3,371.4 710.7,365.6 M711.6,364.3 710.7,365.6 M714.9,357.8 718.4,364.1 M718.4,364.1 716.8,365.7 M711.0,362.2 713.0,358.7 M711.0,362.2 711.6,364.3 M710.6,377.6 707.6,376.5 M710.6,377.6 712.5,376.9 M709.1,371.7 711.3,371.4 M712.5,376.9 713.5,375.5 M713.5,375.5 711.5,371.5 M707.4,366.5 710.7,365.6 M701.5,362.2 705.4,362.2 M701.5,362.2 699.6,359.3 M705.0,356.4 705.9,356.9 M705.0,356.4 699.6,356.8 M705.9,356.9 706.7,360.9 M705.4,362.2 706.7,360.9 M699.6,359.3 699.5,356.9 M700.3,366.5 701.5,362.2 M705.6,365.2 705.4,362.2 M695.7,363.3 699.6,359.3 M705.6,350.5 705.0,356.4 M705.6,350.5 709.1,349.6 M709.0,356.0 705.9,356.9 M705.6,350.5 703.1,349.3 M702.7,349.4 698.2,352.3 M698.2,352.3 699.6,356.8 M711.0,362.2 706.7,360.9 M694.0,358.3 693.7,358.7 M694.0,358.3 699.5,356.9 M691.8,354.0 688.6,354.1 M691.8,354.0 694.6,352.0 M694.6,352.0 694.0,351.2 M688.6,354.1 688.1,352.3 M687.8,355.4 688.6,354.1 M694.0,358.3 691.8,354.0 M698.2,352.3 697.3,351.8 M697.3,351.8 694.6,352.0 M697.3,351.8 697.2,350.5 M688.0,385.0 686.6,385.8 M682.7,381.9 682.1,382.7 M677.1,377.8 677.6,383.0 M673.2,383.4 674.7,383.4 M670.5,379.2 670.9,378.3 M670.9,378.3 677.1,377.8 M710.6,377.6 709.0,381.2 M712.5,376.9 713.4,379.5 M709.0,381.2 711.3,381.5 M655.2,360.1 655.8,360.2 M655.8,360.2 659.2,359.8 M659.9,357.5 659.8,359.0 M659.8,359.0 659.2,359.8 M670.9,378.3 670.7,373.4 M674.2,372.9 670.9,373.2 M675.7,371.5 674.5,367.7 M674.5,367.7 670.3,368.1 M670.9,373.2 670.3,368.1 M655.8,360.2 656.7,366.4 M659.2,359.8 661.2,363.0 M661.2,363.0 656.7,366.4 M652.3,365.8 656.5,367.1 M656.5,367.1 656.7,366.4 M677.6,365.9 676.7,362.5 M677.6,365.9 674.5,367.6 M674.5,367.6 672.8,362.3 M676.7,362.5 672.8,362.3 M680.2,367.9 677.6,365.9 M677.6,361.7 676.7,362.5 M672.4,362.1 669.4,363.4 M672.4,362.1 672.8,356.8 M669.4,363.4 667.1,361.9 M667.1,361.9 666.4,358.2 M671.1,356.0 666.6,357.3 M671.1,356.0 672.8,356.8 M666.6,357.3 666.4,358.2 M670.3,368.1 669.3,366.8 M669.3,366.8 669.4,363.4 M672.8,362.3 672.4,362.1 M676.2,355.4 672.8,356.8 M659.8,359.0 666.4,358.2 M661.2,363.0 662.5,363.9 M662.5,363.9 667.1,361.9 M671.0,355.5 671.1,356.0 M666.2,356.4 666.6,357.3 M719.3,376.9 719.1,375.5 M722.7,375.0 721.4,374.0 M721.4,374.0 719.4,375.2 M719.4,375.2 719.1,375.5 M713.5,375.5 719.1,375.5 M723.6,371.3 721.4,374.0 M723.6,371.3 723.7,370.7 M723.7,370.7 716.9,367.3 M716.4,368.8 719.4,375.2 M719.6,363.7 724.6,368.0 M719.6,363.7 720.4,362.8 M720.4,362.8 726.9,362.1 M724.6,368.0 727.8,365.7 M727.8,365.7 726.9,362.1 M718.4,364.1 719.6,363.7 M723.7,370.7 724.6,368.0 M721.0,359.3 720.4,362.8 M727.4,359.9 726.9,362.1 M728.4,365.9 727.8,365.7 M630.0,386.6 626.8,383.4 M629.9,387.0 624.1,387.3 M626.8,383.4 624.0,384.1 M624.0,384.1 623.4,386.2 M623.4,386.2 624.1,387.3 M633.1,383.0 630.0,386.6 M630.1,387.9 629.9,387.0 M628.6,380.9 626.8,383.4 M624.5,388.8 624.1,387.3 M623.6,383.3 624.0,384.1 M622.1,386.6 623.4,386.2 M706.5,389.2 704.6,389.8 M708.8,384.8 707.0,382.9 M704.2,389.5 703.4,383.8 M704.2,389.5 704.6,389.8 M707.0,382.9 705.3,382.6 M703.4,383.8 705.3,382.6 M705.1,392.8 704.6,389.8 M709.0,381.2 707.0,382.9 M701.0,389.9 704.2,389.5 M701.8,383.8 703.4,383.8 M704.4,377.0 705.3,382.6 M664.1,369.2 665.5,373.4 M664.1,369.2 662.8,368.4 M662.8,368.4 657.8,370.2 M664.3,375.1 658.3,373.4 M664.3,375.1 665.5,373.4 M658.3,373.4 657.5,371.0 M657.5,371.0 657.8,370.2 M670.7,373.4 665.5,373.4 M669.3,366.8 664.1,369.2 M662.5,363.9 662.8,368.4 M656.5,367.1 657.8,370.2 M664.1,378.0 664.3,375.1 M657.8,375.5 658.3,373.4 M652.6,372.1 657.5,371.0 M681.2,353.0 679.9,353.6 M677.3,348.6 676.9,349.0 M677.3,348.6 681.0,348.1 M681.0,348.1 682.3,350.4 M682.3,350.4 681.2,353.0 M676.9,349.0 677.6,353.8 M677.3,348.6 675.5,345.3 M675.5,345.3 674.8,345.1 M674.8,345.1 672.3,347.3 M676.9,349.0 673.2,350.0 M672.3,347.3 673.2,350.0 M674.8,353.6 677.6,353.8 M674.8,353.6 672.9,350.9 M672.9,350.9 673.2,350.0 M681.0,348.1 681.3,345.3 M675.5,345.3 680.2,343.5 M680.2,343.5 681.3,345.3 M711.2,345.9 715.2,346.2 M711.2,345.9 710.2,347.5 M717.6,345.9 716.9,345.5 M716.9,345.5 720.4,341.9 M722.3,344.8 721.9,342.2 M720.4,341.9 721.9,342.2 M722.4,341.8 721.9,342.2 M715.2,346.2 716.3,345.4 M716.3,345.4 716.9,345.5 M674.0,354.7 674.8,353.6 M649.7,349.1 650.4,349.8 M650.4,349.8 651.8,348.5 M646.5,346.8 643.6,349.2 M643.6,349.2 643.2,349.0 M643.2,349.0 642.7,346.9 M671.2,324.2 670.4,323.9 M671.2,324.2 671.5,323.7 M674.8,345.1 673.5,340.8 M672.3,347.3 670.2,346.4 M673.5,340.8 671.8,340.6 M671.8,340.6 670.0,342.8 M670.0,342.8 670.2,346.4 M673.8,340.7 675.7,335.4 M673.8,340.7 680.1,340.4 M680.1,340.4 680.1,336.0 M675.7,335.4 678.6,335.1 M680.1,336.0 678.6,335.1 M680.2,343.5 680.1,340.4 M684.4,340.4 680.1,340.4 M684.4,340.4 685.8,344.6 M685.8,344.6 681.3,345.3 M654.5,358.1 655.6,357.7 M655.8,355.2 658.1,353.4 M655.8,355.2 655.6,357.7 M659.4,357.2 659.9,353.9 M659.9,353.9 658.1,353.4 M650.4,349.8 650.2,350.7 M643.6,349.2 644.0,350.8 M644.0,350.8 650.2,350.7 M653.8,353.1 655.8,355.2 M653.8,353.1 650.7,352.8 M651.4,358.6 649.7,354.6 M649.7,354.6 650.7,352.8 M651.9,348.4 655.5,349.4 M655.5,349.4 653.8,353.1 M650.2,350.7 650.7,352.8 M681.1,314.2 681.3,315.3 M681.3,315.3 680.9,316.5 M680.9,316.5 680.0,316.6 M684.3,307.8 684.3,309.0 M684.3,309.0 683.1,309.8 M681.3,315.3 685.0,314.0 M683.1,309.8 685.0,314.0 M680.9,316.5 683.4,319.6 M683.4,319.6 685.1,319.8 M685.0,314.0 685.7,314.3 M685.7,314.3 686.2,319.2 M685.1,319.8 686.2,319.2 M677.3,321.4 682.2,320.6 M676.9,321.9 677.7,326.0 M682.2,320.6 680.7,326.4 M677.7,326.0 680.7,326.4 M683.4,319.6 682.2,320.6 M716.3,345.4 715.4,342.0 M720.4,341.9 718.5,339.7 M717.5,339.7 715.4,342.0 M663.8,356.1 664.3,356.4 M663.8,356.1 663.5,353.7 M663.5,353.7 663.9,352.7 M663.9,352.7 666.7,351.2 M668.8,355.6 669.5,354.3 M666.7,351.2 669.0,352.4 M669.5,354.3 669.0,352.4 M663.5,356.5 663.8,356.1 M659.9,353.9 663.5,353.7 M671.0,355.2 669.5,354.3 M672.9,350.9 669.0,352.4 M682.3,350.4 683.1,350.4 M686.5,344.9 686.8,346.8 M686.5,344.9 685.8,344.6 M686.8,346.8 685.7,349.4 M683.1,350.4 685.7,349.4 M692.9,341.3 690.1,340.8 M692.9,341.3 695.0,342.3 M689.1,343.2 691.6,346.9 M689.1,343.2 690.1,340.8 M695.0,342.3 695.3,344.3 M695.3,344.3 691.6,346.9 M686.5,344.9 689.1,343.2 M686.8,346.8 691.3,348.7 M691.6,346.9 691.3,348.7 M671.2,324.2 672.8,327.9 M669.3,328.6 672.8,327.9 M658.1,353.4 657.8,348.7 M663.9,352.7 659.9,348.2 M659.9,348.2 657.8,348.7 M655.5,349.4 657.6,348.7 M656.5,346.5 657.6,348.7 M670.2,346.4 667.8,347.6 M666.7,351.2 666.9,348.6 M666.9,348.6 667.8,347.6 M659.9,348.2 662.0,345.3 M666.9,348.6 662.0,345.3 M670.0,342.8 665.9,342.7 M667.8,347.6 665.9,342.7 M662.0,345.3 662.1,343.7 M678.4,331.1 677.2,326.3 M678.4,331.1 677.9,332.2 M677.9,332.2 673.3,329.7 M677.2,326.3 673.1,328.1 M673.1,328.1 673.3,329.7 M680.1,336.0 683.1,334.1 M678.6,335.1 677.9,332.2 M682.1,329.5 683.1,334.1 M682.1,329.5 678.4,331.1 M677.7,326.0 677.2,326.3 M627.1,362.3 626.7,361.8 M643.2,349.0 641.2,348.8 M630.5,361.8 631.6,358.8 M631.6,358.8 631.2,358.4 M644.0,350.8 643.7,353.2 M649.7,354.6 644.8,354.9 M643.7,353.2 644.8,354.9 M638.8,351.0 640.4,353.9 M643.7,353.2 640.4,353.9 M636.5,353.0 639.4,354.6 M640.4,353.9 639.4,354.6 M688.9,312.3 688.1,309.9 M688.9,312.3 690.5,313.6 M690.5,313.6 693.0,312.5 M693.0,312.5 693.2,307.7 M693.2,307.7 691.3,308.1 M688.1,309.9 688.7,309.1 M684.3,309.0 688.1,309.9 M685.7,314.3 688.9,312.3 M682.1,329.5 682.4,327.6 M680.7,326.4 682.4,327.5 M710.0,323.7 711.6,324.0 M710.0,323.7 705.9,325.2 M711.6,324.0 709.0,329.2 M705.8,325.6 706.9,329.1 M709.0,329.2 706.9,329.1 M712.2,323.9 711.6,324.0 M709.4,322.6 710.0,323.7 M704.6,320.9 703.8,321.2 M703.8,321.2 705.9,325.2 M714.6,325.8 711.9,330.8 M715.8,331.9 714.6,332.6 M714.6,332.6 712.8,332.7 M712.8,332.7 711.9,330.8 M709.0,329.2 711.9,330.8 M715.9,334.1 714.6,332.6 M695.0,342.3 698.6,339.5 M698.6,339.5 700.6,340.5 M696.5,345.5 695.3,344.3 M696.5,345.5 700.1,344.6 M700.6,340.5 700.1,344.6 M683.1,350.4 685.4,352.5 M685.7,349.4 689.1,351.3 M689.1,351.8 689.1,351.3 M691.3,348.7 691.5,349.5 M689.1,351.3 691.5,349.5 M673.2,334.1 672.6,332.2 M673.2,334.1 669.9,337.9 M672.6,332.2 668.2,333.0 M667.9,334.1 668.6,337.5 M668.6,337.5 669.9,337.9 M675.7,335.4 673.2,334.1 M673.3,329.7 672.6,332.2 M671.8,340.6 669.9,337.9 M665.8,342.6 662.8,343.0 M665.8,342.6 667.3,338.0 M666.7,337.9 667.3,338.0 M662.1,343.7 662.3,343.3 M668.6,337.5 667.3,338.0 M644.8,354.9 644.8,355.4 M645.7,359.5 644.8,355.4 M639.0,355.9 641.2,358.0 M639.0,355.9 636.4,358.0 M635.7,359.6 636.4,358.0 M635.7,359.6 636.6,360.9 M641.2,358.0 640.9,360.2 M639.4,354.6 639.0,355.9 M644.8,355.4 641.2,358.0 M635.1,354.4 636.4,358.0 M631.6,358.8 635.7,359.6 M716.1,337.9 712.7,337.3 M712.8,332.7 711.9,334.3 M711.9,334.3 712.7,337.3 M686.2,319.2 689.9,319.0 M690.5,313.6 690.6,318.3 M689.9,319.0 690.6,318.3 M689.9,319.0 691.5,324.2 M690.6,318.3 694.4,318.2 M694.8,323.4 691.5,324.2 M694.8,323.4 694.6,318.3 M693.0,312.5 696.2,313.4 M694.4,318.2 696.2,313.4 M693.2,307.6 695.1,308.1 M696.2,313.4 697.6,312.9 M697.9,309.8 697.6,312.9 M692.9,341.3 694.9,336.2 M698.6,339.5 697.9,335.7 M694.9,336.2 697.9,335.7 M684.4,334.3 687.3,333.2 M684.4,334.3 686.3,339.2 M687.3,333.2 690.6,336.4 M690.6,336.4 689.7,340.1 M686.3,339.2 689.7,340.1 M683.1,334.1 684.4,334.3 M688.2,331.5 687.3,333.2 M688.2,331.5 687.8,330.1 M687.8,330.1 682.4,327.6 M684.4,340.4 686.3,339.2 M691.9,331.0 692.8,331.9 M691.9,331.0 688.2,331.5 M692.2,335.6 692.8,331.9 M692.2,335.6 690.6,336.4 M690.1,340.8 689.7,340.1 M692.2,335.6 694.9,336.2 M697.8,326.4 696.2,328.1 M697.8,326.4 699.6,326.2 M699.6,326.2 700.7,327.2 M696.2,328.1 696.7,331.9 M701.3,329.1 700.7,327.2 M701.3,329.1 697.2,332.4 M697.2,332.4 696.7,331.9 M691.9,331.0 692.7,327.6 M692.7,327.6 696.2,328.1 M692.8,331.9 696.7,331.9 M703.5,330.9 705.6,330.7 M703.5,330.9 701.3,329.1 M705.6,330.7 706.9,329.1 M705.8,325.6 700.7,327.2 M701.4,334.4 703.5,330.9 M701.4,334.4 698.1,335.1 M698.1,335.1 697.2,332.4 M698.1,335.1 697.9,335.7 M689.0,326.7 684.9,325.5 M689.0,326.7 691.0,325.4 M691.0,325.3 685.5,322.7 M685.5,322.7 684.9,325.5 M687.8,330.1 689.0,326.7 M682.4,327.5 684.9,325.5 M692.7,327.6 691.0,325.4 M695.7,323.6 697.8,326.4 M695.7,323.6 694.8,323.4 M691.5,324.2 691.0,325.3 M685.1,319.8 685.5,322.7 M701.4,334.4 704.0,336.4 M705.6,330.7 706.3,332.5 M704.0,336.4 706.3,332.5 M711.9,334.3 708.7,334.8 M706.3,332.5 708.7,334.8 M711.2,345.9 710.2,343.4 M715.4,342.0 712.3,340.8 M710.2,343.4 712.3,340.8 M712.7,337.3 712.0,339.1 M712.3,340.8 712.0,339.1 M701.3,312.6 697.9,313.1 M694.2,350.7 696.8,348.4 M696.8,348.4 700.1,349.6 M691.5,349.5 694.2,350.7 M696.5,345.5 696.8,348.4 M701.4,349.1 700.8,345.3 M700.8,345.3 700.1,344.6 M705.5,347.8 701.4,349.1 M705.5,347.8 706.2,348.3 M706.4,338.4 704.9,338.1 M706.6,338.6 707.4,342.6 M704.9,338.1 701.6,340.5 M701.6,340.5 704.8,344.2 M707.4,342.6 705.2,344.4 M705.2,344.4 704.8,344.2 M704.0,336.4 704.9,338.1 M708.7,334.8 706.4,338.4 M712.0,339.1 706.6,338.6 M710.2,343.4 707.4,342.6 M700.6,340.5 701.6,340.5 M700.8,345.3 704.8,344.2 M705.5,347.8 705.2,344.4 M699.3,315.6 700.9,315.6 M699.3,315.6 698.9,319.6 M703.1,320.4 703.0,320.8 M703.0,320.8 701.5,321.1 M701.5,321.1 699.1,319.9 M699.1,319.9 698.9,319.6 M697.9,313.1 699.3,315.6 M694.6,318.3 698.9,319.6 M703.8,321.2 703.0,320.8 M699.6,326.2 701.5,321.1 M695.7,323.6 699.1,319.9 M653.0,300.5 653.8,298.6 M652.9,297.1 653.8,298.6 M676.7,306.0 677.4,305.2 M676.7,306.0 679.7,308.8 M679.7,308.8 684.0,306.7 M684.0,305.2 684.0,306.7 M683.8,305.0 677.4,305.2 M652.7,304.1 653.6,304.0 M651.8,308.8 653.1,308.6 M653.1,308.6 653.6,304.0 M653.0,300.9 654.3,303.3 M653.6,304.0 654.3,303.3 M658.5,306.6 658.4,308.0 M655.5,303.4 654.3,303.3 M653.3,308.7 658.4,308.0 M659.9,318.4 665.1,314.6 M665.1,314.6 659.2,311.1 M659.2,311.1 658.2,312.6 M659.8,318.4 658.2,312.6 M659.2,311.1 659.4,309.8 M653.3,308.7 655.1,313.2 M659.4,309.8 658.4,308.0 M658.2,312.6 655.1,313.2 M687.3,303.1 688.6,303.3 M687.3,303.1 687.1,302.1 M689.4,302.9 688.6,303.3 M687.3,303.1 684.0,305.2 M682.9,303.7 683.8,305.0 M688.6,303.3 690.5,306.9 M690.5,306.9 691.2,307.1 M672.8,323.4 673.2,319.9 M667.7,318.4 671.5,318.1 M667.7,318.4 666.8,320.5 M672.7,323.5 666.8,320.5 M673.2,319.9 671.5,318.1 M667.9,332.9 664.0,332.1 M664.0,332.1 663.0,333.0 M663.0,333.0 664.9,338.3 M666.5,337.7 664.9,338.3 M660.0,337.5 664.7,338.6 M660.0,337.5 661.3,333.4 M661.3,333.4 663.0,333.0 M668.8,329.1 668.1,326.5 M669.6,325.8 668.2,326.2 M672.8,323.4 675.4,323.8 M664.0,332.1 663.9,329.1 M663.9,329.1 668.1,326.5 M666.8,320.5 665.2,322.2 M665.2,322.2 668.2,326.2 M640.0,331.3 639.2,337.1 M639.2,337.1 636.6,336.6 M636.6,336.6 635.3,332.8 M635.3,332.8 640.0,331.3 M636.6,336.6 635.9,337.1 M635.3,332.8 634.5,332.1 M639.5,337.3 639.2,341.4 M653.8,298.6 654.6,298.6 M677.4,305.2 677.5,304.3 M658.7,332.4 661.3,333.4 M658.7,332.4 655.2,336.1 M659.8,337.7 656.4,338.3 M655.2,336.1 656.4,338.3 M639.5,337.3 643.0,337.0 M643.0,337.0 644.3,339.8 M644.3,339.8 641.0,342.9 M644.1,335.7 647.9,335.0 M644.1,335.7 642.7,331.2 M642.7,331.2 643.2,330.6 M643.2,330.6 648.1,331.0 M648.1,331.0 647.9,335.0 M640.0,331.3 642.7,331.2 M643.0,337.0 644.1,335.7 M646.6,315.4 647.9,320.0 M643.5,320.7 647.9,320.0 M646.6,315.4 650.2,313.3 M650.2,313.3 650.1,311.7 M650.2,313.3 650.8,313.7 M655.1,313.2 653.9,314.3 M650.8,313.7 653.9,314.3 M689.5,309.0 689.4,308.0 M689.4,308.0 687.3,308.3 M690.5,306.9 689.4,308.0 M684.0,306.7 684.4,307.5 M673.2,319.9 676.4,318.7 M678.5,319.0 676.4,318.7 M667.7,318.4 665.7,314.5 M665.7,314.5 666.5,313.2 M671.5,318.1 671.6,317.5 M671.6,317.5 669.7,311.5 M666.5,313.2 669.7,311.5 M665.1,314.6 665.7,314.5 M659.4,309.8 663.7,309.0 M666.5,313.2 663.7,309.0 M676.7,306.0 675.9,306.2 M664.1,341.9 664.4,341.6 M664.4,341.6 664.8,341.6 M659.8,337.7 661.6,342.1 M661.6,342.1 664.0,342.0 M664.7,338.6 664.4,341.6 M660.6,343.9 661.0,342.4 M661.6,342.1 661.0,342.4 M659.9,318.4 661.1,320.2 M665.2,322.2 664.3,322.3 M661.1,320.2 664.3,322.3 M663.9,329.1 661.8,326.8 M664.3,322.3 661.8,326.8 M643.7,326.2 646.9,325.8 M643.7,326.2 643.2,330.6 M648.1,331.0 649.3,329.4 M646.9,325.8 649.3,329.4 M643.0,325.7 641.8,322.9 M643.0,325.7 638.8,327.4 M643.7,326.2 643.0,325.7 M647.9,320.0 648.7,320.6 M648.7,320.6 648.2,323.7 M646.9,325.8 648.2,323.7 M640.0,331.3 638.6,328.6 M656.2,341.7 656.0,340.1 M656.2,341.7 654.7,344.5 M656.0,340.1 649.8,339.4 M653.4,344.7 654.7,344.5 M653.4,344.7 649.1,340.8 M649.1,340.8 649.8,339.4 M661.0,342.4 656.2,341.7 M656.4,338.3 656.0,340.1 M656.5,346.2 654.7,344.5 M655.2,336.1 652.8,335.2 M652.8,335.2 649.9,336.3 M649.9,336.3 649.8,339.4 M652.5,345.8 652.1,348.1 M652.5,345.8 653.4,344.7 M649.9,336.3 647.9,335.0 M647.0,341.9 644.3,339.8 M647.0,341.9 649.1,340.8 M659.8,318.4 656.6,319.3 M653.9,314.3 654.7,318.4 M656.6,319.3 654.7,318.4 M650.8,313.7 651.2,319.6 M654.7,318.4 651.2,319.6 M648.7,320.6 650.3,320.2 M650.3,320.2 651.2,319.6 M674.1,310.2 672.9,311.0 M674.1,310.2 679.1,311.8 M672.9,311.0 674.4,314.5 M679.1,311.8 680.0,313.5 M680.0,313.5 675.1,314.9 M675.1,314.9 674.4,314.5 M675.3,306.9 674.1,310.2 M669.6,309.1 668.8,306.8 M672.0,311.0 672.9,311.0 M679.7,308.8 679.1,311.8 M671.6,317.5 674.4,314.5 M680.8,314.1 680.0,313.5 M676.4,318.7 675.1,314.9 M668.9,305.4 668.6,306.7 M668.6,306.7 665.2,306.1 M665.2,306.1 664.7,305.4 M663.7,309.0 665.2,306.1 M653.1,329.7 652.6,329.3 M653.1,329.7 657.2,329.7 M652.6,329.3 653.0,325.7 M657.2,329.7 658.9,326.8 M653.0,325.7 654.1,324.3 M658.3,325.7 658.9,326.8 M658.3,325.7 655.8,323.7 M655.8,323.7 654.1,324.3 M652.8,335.2 653.1,329.7 M649.3,329.4 652.6,329.3 M658.7,332.4 657.2,329.7 M648.2,323.7 653.0,325.7 M661.8,326.8 658.9,326.8 M650.3,320.2 654.1,324.3 M661.1,320.2 658.3,325.7 M656.6,319.3 655.8,323.7 M645.2,345.1 646.1,344.7 M647.4,346.1 647.7,347.6 M647.4,346.1 646.1,344.7 M647.0,341.9 646.1,344.7 M652.5,345.8 647.4,346.1 M667.4,275.0 665.5,270.0 M667.4,275.0 671.3,274.8 M671.3,274.8 672.9,271.8 M672.9,271.8 670.8,269.0 M670.8,269.0 666.1,269.1 M665.5,270.0 666.1,269.1 M656.5,306.7 656.3,306.0 M684.2,296.5 684.0,300.8 M684.2,296.5 685.2,295.7 M684.0,300.8 684.3,301.2 M685.2,295.7 690.1,295.8 M690.1,295.8 691.0,299.8 M684.2,296.5 678.3,295.4 M684.0,300.8 678.6,302.0 M678.3,295.4 676.6,297.2 M676.6,297.2 678.6,302.0 M665.5,270.0 660.6,270.8 M666.1,269.1 666.0,267.9 M660.6,270.8 660.1,269.1 M716.0,278.4 711.6,277.4 M716.0,278.4 716.2,281.6 M711.6,277.4 709.8,283.7 M716.2,281.6 709.8,283.7 M715.8,270.1 718.0,270.0 M715.8,270.1 715.0,271.7 M715.0,271.7 716.5,275.2 M691.1,294.9 690.1,295.8 M691.1,294.9 696.0,294.2 M697.4,298.4 696.0,294.2 M662.2,305.6 662.5,305.1 M662.5,305.1 659.6,299.3 M655.4,301.1 659.6,299.3 M667.1,275.4 661.5,276.5 M667.1,275.4 667.2,280.4 M667.2,280.4 662.2,280.3 M662.2,280.3 661.5,276.5 M667.4,275.0 667.1,275.4 M660.6,270.8 659.4,272.0 M659.4,272.0 659.5,275.1 M659.5,275.1 661.5,276.5 M666.4,303.5 667.3,304.6 M666.4,303.5 662.5,305.1 M678.6,302.0 678.4,302.4 M671.8,300.2 673.1,303.5 M671.8,300.2 674.2,297.5 M674.2,297.5 676.6,297.2 M667.7,300.0 666.4,303.5 M667.7,300.0 671.8,300.2 M659.4,272.0 654.9,271.1 M654.9,271.1 654.3,268.2 M650.1,272.0 653.6,272.1 M653.6,272.1 654.9,271.1 M670.8,269.0 672.6,266.6 M721.8,282.9 717.8,283.3 M720.6,289.9 717.0,286.6 M717.8,283.3 717.0,286.6 M716.7,277.3 716.0,278.4 M716.2,281.6 717.8,283.3 M712.7,289.4 717.0,286.6 M712.5,289.3 709.1,284.2 M709.1,284.2 709.8,283.7 M712.7,289.4 714.9,292.8 M679.0,276.2 678.2,277.7 M679.0,276.2 686.0,276.5 M686.0,276.5 687.2,281.2 M678.2,277.7 681.6,281.9 M687.2,281.2 681.6,281.9 M676.9,287.1 680.5,285.4 M676.9,287.1 676.5,289.4 M677.8,291.3 676.5,289.4 M677.8,291.3 684.6,290.1 M680.5,285.4 685.2,288.6 M684.6,290.1 685.2,288.6 M678.3,295.4 677.8,291.3 M671.0,293.4 672.2,290.8 M671.0,293.4 674.2,297.5 M672.2,290.8 676.5,289.4 M685.2,295.7 684.6,290.1 M674.1,280.6 674.3,283.8 M674.1,280.6 667.4,280.7 M674.3,283.8 668.4,286.9 M667.4,280.7 666.7,286.5 M666.7,286.5 668.4,286.9 M675.1,279.0 678.2,277.7 M675.1,279.0 674.1,280.6 M681.6,281.9 680.5,285.4 M676.9,287.1 674.3,283.8 M671.3,274.8 675.1,279.0 M672.2,290.8 668.4,286.9 M664.1,287.1 659.8,282.9 M664.1,287.1 665.3,287.4 M665.3,287.4 666.7,286.5 M662.2,280.3 659.8,282.9 M703.0,272.0 702.2,273.4 M703.0,272.0 709.5,272.1 M702.2,273.4 704.0,277.9 M710.2,276.1 710.4,272.9 M710.2,276.1 705.2,278.7 M705.2,278.7 704.0,277.9 M709.5,272.1 710.4,272.9 M715.0,271.7 710.4,272.9 M711.6,277.4 710.2,276.1 M706.7,283.8 705.2,278.7 M706.7,283.8 709.1,284.2 M706.2,284.2 706.7,283.8 M706.2,284.2 700.3,285.3 M700.3,285.3 699.5,284.8 M699.5,284.8 698.2,281.2 M698.2,281.2 704.0,277.9 M694.0,287.9 694.9,286.4 M694.0,287.9 689.7,288.1 M694.9,286.4 693.2,281.8 M689.7,288.1 688.1,287.0 M688.1,287.0 688.3,282.1 M688.3,282.1 690.7,281.2 M690.7,281.2 693.2,281.8 M700.3,285.3 699.9,291.6 M699.5,284.8 694.9,286.4 M699.9,291.6 697.2,292.5 M697.2,292.5 694.0,287.9 M691.1,294.9 689.7,288.1 M697.2,292.5 696.0,294.2 M697.3,280.6 698.2,281.2 M697.3,280.6 693.2,281.8 M685.2,288.6 688.1,287.0 M687.2,281.2 688.3,282.1 M706.2,284.2 705.4,289.9 M712.5,289.3 708.1,292.4 M708.1,292.4 705.4,289.9 M699.9,291.6 700.3,291.7 M705.4,289.9 700.3,291.7 M700.3,291.7 704.2,296.8 M659.7,294.8 660.2,298.2 M659.7,294.8 665.4,292.3 M660.2,298.2 666.7,298.7 M666.7,298.7 667.4,294.4 M665.4,292.3 667.4,294.4 M667.7,300.0 666.7,298.7 M659.6,299.3 660.2,298.2 M671.0,293.4 667.4,294.4 M665.3,287.4 665.4,292.3 M654.1,294.3 658.0,293.1 M653.1,288.5 656.0,287.9 M656.0,287.9 658.0,290.7 M658.0,290.7 658.0,293.1 M659.7,294.8 658.0,293.1 M664.1,287.1 658.0,290.7 M659.8,282.9 656.9,282.9 M656.9,282.9 656.0,287.9 M683.6,264.7 683.5,269.5 M683.4,264.5 676.0,265.9 M683.5,269.5 679.0,272.8 M676.0,265.9 676.8,271.2 M679.0,272.8 676.8,271.2 M672.9,271.8 676.8,271.2 M679.0,276.2 679.0,272.8 M700.8,260.4 702.4,266.9 M702.4,266.9 697.1,266.7 M697.1,266.7 695.0,264.2 M698.7,260.8 695.0,264.2 M687.8,264.1 683.6,264.7 M687.8,264.1 688.0,263.3 M687.8,264.1 690.3,265.0 M690.3,265.0 693.6,263.6 M693.6,263.6 693.6,262.0 M693.6,263.6 695.0,264.2 M651.0,277.3 653.8,276.2 M651.9,282.2 656.4,282.4 M653.8,276.2 656.5,277.8 M656.5,277.8 656.4,282.4 M653.6,272.1 653.8,276.2 M656.9,282.9 656.4,282.4 M659.5,275.1 656.5,277.8 M708.7,295.8 707.5,295.7 M707.1,296.2 707.5,295.7 M708.1,292.4 707.5,295.7 M715.8,270.1 714.1,265.6 M709.5,272.1 709.6,265.5 M714.1,265.6 709.6,265.5 M702.5,267.0 708.2,264.6 M702.5,267.0 703.0,272.0 M709.6,265.5 708.2,264.6 M690.3,265.0 690.9,269.2 M683.5,269.5 685.9,271.3 M690.9,269.2 685.9,271.3 M686.0,276.5 687.0,274.5 M685.9,271.3 687.0,274.5 M695.8,269.0 692.3,270.5 M695.8,269.0 698.4,274.1 M692.3,270.5 692.5,274.5 M696.5,275.5 698.4,274.1 M696.5,275.5 692.9,274.9 M692.9,274.9 692.5,274.5 M697.1,266.7 695.8,269.0 M690.9,269.2 692.3,270.5 M702.2,273.4 698.4,274.1 M687.0,274.5 692.5,274.5 M697.3,280.6 696.5,275.5 M690.7,281.2 692.9,274.9 M708.2,264.6 708.1,260.5 M705.7,259.2 708.1,260.5 M710.3,258.5 708.1,260.5 M717.2,264.7 714.6,265.0 M714.6,265.0 714.8,263.3 M714.1,265.6 714.6,265.0 M716.9,213.9 719.3,222.2 M716.9,213.9 722.0,212.3 M723.1,222.1 719.3,222.2 M723.1,222.1 723.6,221.1 M712.2,210.8 707.4,213.9 M712.2,210.8 713.0,207.6 M704.7,210.6 706.0,212.8 M707.4,213.9 706.0,212.8 M706.0,212.8 702.6,212.6 M726.7,227.7 727.0,230.1 M728.6,231.0 727.0,230.1 M660.9,265.2 660.1,262.9 M660.9,265.2 665.4,264.0 M665.4,263.9 663.1,259.3 M660.1,268.7 659.4,267.3 M659.4,267.3 660.9,265.2 M666.1,267.6 665.4,264.0 M659.4,267.3 658.4,267.1 M689.4,250.6 685.6,247.2 M689.4,250.6 693.7,249.0 M693.7,249.0 693.9,244.5 M693.9,244.5 685.7,247.1 M686.4,242.7 685.7,247.1 M682.6,248.2 685.6,247.2 M682.6,248.2 680.5,246.0 M680.5,246.0 680.0,244.3 M716.9,213.9 712.2,210.8 M714.5,207.3 720.7,206.9 M713.3,244.7 718.4,244.6 M713.3,244.7 711.5,247.0 M711.5,247.0 715.0,251.2 M718.4,244.6 718.9,245.2 M718.9,245.2 718.6,250.7 M715.0,251.2 718.6,250.7 M731.1,248.0 730.4,247.6 M730.4,247.6 730.3,241.1 M730.3,241.1 730.9,241.0 M706.7,228.8 708.8,220.2 M706.7,228.8 701.5,229.1 M699.1,227.1 701.5,229.1 M699.1,227.1 703.9,219.2 M703.9,219.2 706.6,217.5 M706.6,217.5 708.8,220.2 M717.6,223.6 719.3,222.2 M717.6,223.6 715.0,224.2 M707.4,213.9 706.6,217.5 M715.0,224.2 708.8,220.2 M702.7,235.3 701.5,229.1 M702.7,235.3 709.8,234.5 M706.7,228.8 711.2,230.6 M709.8,234.5 711.2,230.6 M715.0,224.2 711.5,230.5 M710.9,238.6 709.8,234.5 M710.9,238.6 705.8,241.3 M705.8,241.3 702.6,235.7 M694.4,222.0 697.4,227.0 M691.8,226.4 697.4,227.0 M715.5,263.2 721.1,263.9 M715.5,263.2 715.5,258.7 M715.5,258.7 720.7,256.8 M721.1,263.9 722.7,261.5 M722.7,261.5 722.3,258.0 M720.7,256.8 722.3,258.0 M721.8,266.4 721.1,263.9 M710.2,258.0 713.0,256.9 M713.0,256.9 715.5,258.7 M720.5,252.1 718.6,250.7 M720.5,252.1 720.7,256.8 M715.0,251.2 713.0,254.8 M713.0,256.9 713.0,254.8 M664.9,251.4 667.2,250.0 M667.3,245.7 667.4,249.8 M665.4,256.8 665.2,255.3 M664.9,251.9 664.9,251.4 M665.4,256.8 663.5,258.5 M734.1,267.2 733.8,266.7 M734.3,266.3 733.8,266.7 M725.0,267.4 729.6,265.0 M722.7,261.5 729.3,263.8 M729.6,265.0 729.3,263.8 M731.5,266.7 729.6,265.0 M731.5,266.7 730.8,269.2 M733.8,266.7 731.5,266.7 M703.9,219.2 697.7,217.2 M699.1,227.1 697.5,227.1 M680.5,246.0 674.3,250.0 M674.3,250.0 673.7,249.5 M673.7,249.5 673.7,244.6 M673.7,249.5 667.4,249.8 M723.1,222.1 724.3,223.1 M724.6,245.3 724.2,245.0 M724.6,245.3 729.8,241.0 M724.2,245.0 723.0,238.3 M723.0,238.3 727.4,238.6 M729.8,241.0 727.4,238.6 M725.1,250.2 725.9,248.2 M725.1,250.2 720.5,252.1 M725.9,248.2 724.6,245.3 M718.9,245.2 724.2,245.0 M725.9,248.2 730.4,247.6 M730.3,241.1 729.8,241.0 M729.3,234.1 727.4,238.6 M722.2,237.7 719.0,239.0 M722.2,237.7 722.5,232.9 M715.8,233.0 716.3,238.0 M715.8,233.0 720.2,231.5 M719.0,239.0 716.3,238.0 M720.2,231.5 722.5,232.9 M718.4,244.6 719.0,239.0 M723.0,238.3 722.2,237.7 M727.0,230.1 722.5,232.9 M712.4,239.3 716.3,238.0 M712.4,239.3 710.9,238.6 M711.5,230.5 715.8,233.0 M717.6,223.6 720.2,231.5 M713.3,244.7 712.4,239.3 M705.1,243.6 705.8,241.3 M705.1,243.6 698.2,243.3 M702.6,235.7 699.4,237.4 M699.4,237.4 698.2,243.3 M692.4,231.4 695.1,230.2 M690.6,239.1 690.6,239.7 M695.1,230.2 696.1,236.1 M696.1,236.1 690.9,239.9 M697.5,227.1 695.1,230.2 M690.0,239.7 690.6,239.7 M699.4,237.4 696.1,236.1 M693.9,244.5 697.9,243.6 M693.9,244.5 690.9,239.9 M697.9,243.6 698.2,243.3 M688.6,257.5 684.6,259.7 M688.6,257.5 687.8,253.5 M684.6,259.7 680.6,253.1 M687.8,253.5 682.4,250.6 M682.4,250.6 680.6,253.1 M682.6,248.2 682.4,250.6 M689.4,250.6 687.8,253.5 M674.3,250.0 676.1,254.0 M676.1,254.0 680.6,253.1 M672.2,257.2 675.8,254.6 M672.2,257.2 671.2,259.0 M675.8,254.6 678.8,259.6 M678.8,259.6 676.1,262.7 M671.2,259.0 671.4,261.6 M676.1,262.7 672.9,263.2 M671.4,261.6 672.9,263.2 M667.2,250.0 672.2,257.2 M676.1,254.0 675.8,254.6 M665.4,256.8 671.2,259.0 M684.5,259.8 678.8,259.6 M679.6,264.8 676.1,262.7 M684.2,263.8 684.5,259.8 M665.4,263.9 671.4,261.6 M730.0,260.8 732.8,259.6 M730.0,260.8 727.8,256.5 M731.6,253.6 728.4,255.0 M728.4,255.0 727.8,256.5 M729.3,263.8 730.0,260.8 M722.3,258.0 727.8,256.5 M725.1,250.2 728.4,255.0 M703.5,254.8 699.8,251.2 M703.5,254.8 706.0,253.1 M706.0,253.1 707.1,251.0 M700.9,249.6 699.8,251.2 M700.9,249.6 706.9,247.4 M707.1,251.0 707.1,247.6 M709.6,258.0 706.0,253.1 M704.5,259.2 702.9,256.6 M702.9,256.6 703.5,254.8 M713.0,254.8 707.1,251.0 M693.7,249.0 695.7,252.3 M697.9,243.6 700.9,249.6 M695.7,252.3 699.8,251.2 M705.1,243.6 706.9,247.4 M711.5,247.0 707.1,247.6 M672.9,263.2 672.9,266.2 M691.8,262.1 691.0,258.0 M691.0,258.0 695.0,256.4 M697.8,260.8 697.0,257.9 M695.0,256.4 697.0,257.9 M688.6,257.5 691.0,258.0 M695.7,252.3 695.0,256.4 M702.9,256.6 697.0,257.9 M722.0,274.6 724.5,274.1 M721.7,274.5 720.0,271.5 M722.8,269.2 720.0,271.5 M722.8,269.2 724.6,270.7 M724.6,270.7 724.5,274.1 M722.7,267.0 722.8,269.2 M724.6,270.7 728.0,268.6 M728.6,274.0 725.7,274.6 M728.6,274.0 729.1,273.3 M729.1,273.3 728.9,268.9 M725.7,274.6 724.5,274.1 M718.9,268.9 719.4,271.3 M719.4,271.3 717.4,271.9 M721.1,266.5 720.1,266.6 M720.0,271.5 719.4,271.3 M716.9,276.4 721.7,274.5 M731.5,278.3 731.1,278.6 M730.7,273.3 729.1,273.3 M728.6,274.0 729.6,276.1 M731.1,278.6 730.6,278.4 M725.7,274.6 726.0,279.2 M730.6,278.4 726.8,279.5 M726.0,279.2 726.8,279.5 M731.5,279.9 731.1,278.6 M731.5,279.9 731.8,280.2 M731.8,280.2 732.3,280.4 M731.5,279.9 728.5,283.5 M726.8,279.5 727.7,282.8 M728.5,283.5 727.7,282.8 M731.8,280.2 732.1,285.5 M728.5,283.5 729.4,286.2 M732.1,285.5 729.4,286.2 M727.8,296.9 726.0,295.4 M727.8,296.9 728.6,299.7 M726.0,295.4 722.3,298.5 M728.6,299.7 723.2,300.5 M722.6,300.1 722.3,298.5 M725.8,293.7 726.0,295.4 M725.8,293.7 721.2,292.7 M722.3,298.5 720.8,296.8 M721.2,292.7 720.8,296.8 M720.8,296.8 717.8,297.1 M732.1,285.5 732.8,285.6 M731.5,293.8 729.8,291.7 M732.3,290.0 730.0,290.4 M729.8,291.7 730.0,290.4 M726.2,293.1 725.8,293.7 M726.2,293.1 729.8,291.7 M727.8,296.9 731.2,294.3 M728.9,287.0 729.4,286.2 M728.9,287.0 730.0,290.4 M726.2,293.1 724.8,287.6 M724.8,287.6 728.9,287.0 M720.6,290.3 720.8,292.1 M720.8,292.1 717.7,293.6 M724.8,287.6 724.2,287.4 M721.2,292.7 720.8,292.1 M721.5,288.8 724.2,287.4 M723.4,283.5 722.8,280.5 M723.4,283.5 723.0,283.6 M721.8,279.9 719.1,280.3 M721.8,279.9 722.8,280.5 M727.7,282.8 723.4,283.5 M724.2,287.4 723.7,284.8 M723.5,284.0 723.4,283.5 M726.0,279.2 722.8,280.5 M722.0,274.6 721.8,279.9 M717.0,277.1 718.3,279.6 M714.5,307.8 711.6,312.0 M714.5,307.8 713.8,306.9 M713.8,306.9 710.3,306.5 M712.4,321.5 708.8,320.3 M708.8,320.3 708.5,318.6 M710.2,316.8 708.5,318.6 M707.5,321.6 708.8,320.3 M713.2,323.0 713.4,323.8 M705.8,316.3 705.4,313.0 M705.8,316.3 702.1,319.7 M702.1,319.7 700.6,319.1 M701.6,312.5 701.7,311.9 M705.4,313.0 703.9,312.3 M701.7,311.9 703.9,312.3 M708.2,311.9 705.4,313.0 M708.5,318.6 705.8,316.3 M706.1,305.8 707.8,306.2 M706.1,305.8 703.9,312.3 M714.5,307.8 715.2,308.1 M713.8,306.9 714.7,303.2 M715.2,308.1 717.2,308.0 M715.7,303.2 714.7,303.2 M675.9,303.6 676.2,303.2 M675.6,303.8 675.3,303.4 M674.8,307.0 674.6,304.9 M672.8,309.4 670.0,309.7 M674.6,304.9 669.5,305.2 M669.2,305.5 669.5,305.2 M675.6,303.8 674.6,304.9 M669.5,304.5 669.5,305.2 M706.1,305.8 703.7,304.3 M703.7,304.3 700.8,310.5 M701.7,311.9 701.1,311.4 M701.1,311.4 700.8,310.5 M714.1,324.4 713.4,323.8 M714.7,303.2 713.6,301.9 M711.4,302.4 713.6,301.9 M714.7,299.6 713.9,299.8 M713.6,301.9 713.9,299.8 M713.9,299.8 711.7,296.1 M713.4,295.3 711.7,296.1 M711.6,296.1 711.5,295.4 M699.1,303.9 703.1,303.8 M699.1,303.9 698.1,308.4 M700.8,310.5 698.1,308.4 M703.6,304.1 703.1,303.8 M709.5,301.8 707.9,299.6 M703.6,304.1 707.9,299.6 M711.6,296.1 707.8,297.4 M707.9,299.6 707.8,297.4 M680.9,304.3 683.0,303.0 M675.9,303.6 677.2,304.2 M683.0,303.0 682.9,301.8 M689.7,301.4 690.1,301.1 M689.7,301.4 687.4,300.8 M690.1,301.1 689.9,300.3 M689.2,302.1 689.7,301.4 M703.1,303.8 701.7,298.1 M707.8,297.4 706.5,296.6 M701.7,298.1 702.1,297.6 M701.7,298.1 698.3,298.9 M698.3,298.9 698.1,298.5 M698.1,308.4 696.0,308.3 M692.9,301.7 693.3,302.6 M692.9,301.7 693.3,301.3 M693.3,301.3 697.8,299.7 M693.3,302.6 695.1,304.0 M695.1,304.0 698.9,303.8 M698.9,303.8 697.8,299.7 M690.1,301.1 692.9,301.7 M691.7,306.3 693.3,302.6 M693.5,299.5 693.3,301.3 M698.3,298.9 697.8,299.7 M695.5,308.0 695.1,304.0 M726.3,312.8 726.3,313.3 M726.3,313.3 727.0,313.2 M713.4,314.0 716.0,314.7 M715.2,308.1 716.0,314.7 M715.8,318.7 716.3,318.3 M716.0,314.7 716.3,318.3 M717.7,319.8 717.5,319.0 M716.3,318.3 717.5,319.0 M717.5,319.0 721.5,318.7 M721.8,321.0 721.5,318.7 M726.0,313.6 726.0,317.0 M726.0,313.6 724.3,313.3 M726.0,317.0 721.9,318.3 M721.9,318.3 720.0,314.2 M726.3,313.3 726.0,313.6 M726.6,317.7 726.0,317.0 M721.5,318.7 721.9,318.3 M716.0,314.7 718.7,313.3 M725.7,312.6 725.9,309.0 M725.6,312.7 719.1,311.7 M719.6,306.9 718.7,309.9 M719.6,306.9 723.5,306.1 M719.1,311.7 718.7,309.9 M720.0,301.3 718.1,302.5 M718.1,302.5 719.6,306.9 M718.1,302.5 715.6,301.8 M718.7,309.9 717.9,309.5 M714.4,296.8 714.8,298.9 M718.7,312.2 719.1,311.7 M714.9,293.2 715.4,295.5 M715.4,295.5 716.7,295.3 M714.4,296.8 715.4,295.5 M743.8,261.4 743.8,257.8 M739.7,263.3 737.9,259.9 M737.9,259.9 742.4,257.0 M742.4,257.0 743.8,257.8 M747.9,256.6 743.8,257.8 M747.9,256.6 746.4,250.9 M746.4,250.9 740.8,251.3 M742.4,257.0 740.3,252.4 M740.3,252.4 740.8,251.3 M734.7,266.3 736.6,266.2 M739.7,263.3 739.2,264.0 M737.9,259.9 735.3,259.1 M733.2,260.3 735.3,259.1 M740.3,252.4 736.1,253.7 M735.3,259.1 736.1,253.7 M747.9,256.6 749.1,257.0 M749.1,257.0 750.1,259.1 M752.3,254.2 749.1,257.0 M740.8,251.3 740.5,249.7 M734.4,251.2 734.8,253.0 M736.1,253.7 734.8,253.0 M734.8,253.0 731.8,253.4 M747.0,248.1 747.1,250.2 M747.1,250.2 751.5,250.5 M746.4,250.9 747.1,250.2 M756.9,248.9 756.5,247.3 M756.7,250.0 754.5,250.9 M754.5,250.9 753.0,249.5 M755.8,247.0 756.5,247.3 M755.8,247.0 753.1,247.4 M753.0,249.5 753.1,247.4 M758.8,249.6 758.0,250.3 M755.7,245.7 755.8,247.0 M752.3,246.7 753.1,247.4 M753.0,249.5 751.8,250.3 M755.7,256.5 754.5,253.4 M756.9,253.2 754.6,253.3 M752.6,254.0 754.5,253.4 M754.5,250.9 754.6,253.3 M759.4,252.5 760.6,252.3 M731.2,242.1 732.6,243.0 M732.6,243.0 731.5,249.5 M732.5,251.3 731.6,249.6 M772.1,246.7 771.8,244.6 M771.8,244.6 772.8,243.9 M757.7,230.9 757.4,232.3 M755.6,232.3 757.4,232.3 M761.0,234.1 757.9,233.5 M757.4,232.3 757.9,233.5 M747.0,238.1 750.9,236.5 M747.0,238.1 747.8,244.0 M752.7,241.8 747.8,244.0 M752.7,241.8 751.5,236.9 M751.5,236.9 750.9,236.5 M745.4,237.3 747.0,238.1 M751.0,235.6 750.9,236.5 M754.9,242.6 754.2,245.8 M754.9,242.6 752.7,241.8 M747.5,244.6 747.8,244.0 M747.5,244.6 749.1,247.2 M758.5,241.0 754.9,242.6 M758.5,241.0 756.7,237.2 M756.7,237.2 751.5,236.9 M756.7,237.2 757.9,233.5 M757.4,247.6 760.3,246.7 M760.3,246.7 761.5,252.1 M759.8,241.6 758.5,241.0 M759.8,241.6 760.8,245.7 M760.8,245.7 760.3,246.7 M765.8,247.4 765.0,246.2 M765.0,246.2 760.8,245.7 M770.4,242.7 770.4,241.4 M765.0,246.2 765.8,245.3 M771.8,244.6 771.2,244.1 M759.8,241.6 762.0,240.2 M739.7,240.3 739.4,238.4 M739.6,240.6 737.7,241.3 M737.7,241.3 736.3,239.2 M745.4,237.3 739.7,240.3 M747.5,244.6 743.7,245.1 M743.7,245.1 739.6,240.6 M732.6,243.0 736.1,242.8 M736.1,242.8 737.7,241.3 M737.4,247.6 737.5,246.9 M737.4,247.6 738.4,249.9 M737.5,246.9 743.1,245.9 M743.1,245.9 742.6,248.9 M731.6,249.6 737.4,247.6 M736.1,242.8 737.5,246.9 M743.7,245.1 743.1,245.9 M725.2,220.3 729.1,221.3 M724.7,216.0 726.2,215.2 M726.2,215.2 730.2,218.4 M729.1,221.3 730.2,218.4 M730.2,224.7 725.9,225.3 M730.2,224.7 729.1,221.3 M726.6,209.5 727.7,211.4 M723.3,210.0 726.3,209.4 M727.7,211.4 726.2,215.2 M730.2,224.7 731.1,225.4 M735.9,217.0 734.3,215.9 M735.9,217.0 734.9,224.1 M734.3,215.9 730.2,218.4 M734.9,224.1 731.1,225.4 M730.7,230.7 729.0,231.8 M730.7,230.7 730.9,230.3 M731.1,225.4 730.9,230.3 M726.6,209.5 731.1,205.5 M726.3,209.4 724.7,204.5 M731.1,205.5 729.9,203.0 M736.3,224.6 738.5,227.0 M736.3,224.6 738.9,222.8 M738.7,230.9 730.9,230.3 M734.9,224.1 736.3,224.6 M735.9,217.0 738.8,217.0 M730.7,230.7 735.1,236.5 M735.1,236.5 739.5,234.9 M734.7,239.3 734.4,237.5 M734.4,237.5 730.6,237.9 M735.1,236.5 734.4,237.5 M738.5,209.8 737.8,205.6 M738.5,209.8 733.5,213.1 M733.0,212.5 733.5,213.1 M733.0,212.5 733.4,206.5 M733.4,206.5 736.9,205.0 M736.9,205.0 737.8,205.6 M741.7,205.1 737.8,205.6 M739.6,210.5 738.5,209.8 M734.3,215.9 733.5,213.1 M727.7,211.4 733.0,212.5 M731.1,205.5 733.4,206.5 M736.5,201.2 736.9,205.0 M748.5,206.0 745.3,206.4 M745.3,206.4 742.6,200.8 M742.6,200.8 746.2,198.6 M742.6,200.8 742.1,200.7 M742.1,200.7 741.2,198.7 M745.3,206.4 745.1,207.2 M745.1,207.2 746.3,213.0 M746.3,213.0 750.4,212.1 M745.1,207.2 742.1,208.3 M742.1,200.7 741.4,201.0 M738.9,211.8 740.5,214.6 M740.5,214.6 746.3,213.0 M756.8,225.8 756.7,230.9 M740.5,214.6 740.3,215.0 M740.3,215.0 738.9,215.7 M740.3,215.0 742.4,221.3 M739.1,223.8 741.1,223.2 M741.1,223.2 742.4,221.3 M746.3,213.0 748.2,219.6 M742.4,221.3 748.2,219.6 M756.2,225.3 750.9,224.9 M752.4,218.0 749.1,220.1 M750.9,224.9 749.1,220.1 M748.2,219.6 749.1,220.1 M746.5,235.8 752.5,234.8 M746.5,235.8 743.8,231.1 M748.6,228.0 745.7,228.6 M748.6,228.0 752.6,234.5 M745.7,228.6 743.8,231.1 M746.1,236.5 746.5,235.8 M739.4,232.6 743.8,231.1 M741.1,223.2 745.7,228.6 M750.9,224.9 748.6,228.0 M754.2,233.8 752.6,234.5 M769.3,155.1 772.0,166.5 M774.2,165.7 772.0,166.5 M751.1,164.0 755.2,165.7 M755.2,165.7 757.6,157.1 M757.8,173.0 755.2,165.7 M757.8,173.0 771.1,167.3 M771.1,167.3 772.0,166.5 M771.1,167.3 781.4,180.8 M781.4,180.8 783.4,180.4 M787.2,183.0 788.6,189.2 M789.3,190.1 788.6,189.2 M752.5,178.0 750.4,181.0 M752.5,178.0 748.9,177.8 M757.8,173.0 756.8,177.0 M756.8,177.0 752.5,178.0 M744.6,194.2 749.5,195.9 M748.1,203.8 749.7,203.8 M749.7,203.8 749.5,195.9 M788.6,189.2 781.7,195.3 M781.7,195.3 782.8,196.2 M749.9,204.0 752.5,210.6 M750.6,211.6 752.5,210.6 M749.9,204.0 757.8,200.6 M749.5,195.9 758.1,188.8 M758.1,188.8 757.8,200.6 M756.8,177.0 759.2,181.2 M759.2,181.2 758.4,188.3 M758.1,188.8 758.4,188.3 M781.4,180.8 777.1,183.6 M781.6,195.3 777.1,183.6 M759.2,181.2 772.8,184.8 M777.1,183.6 772.8,184.8 M770.8,208.4 771.0,207.1 M772.1,206.7 771.0,207.1 M781.6,195.3 775.4,199.4 M776.0,201.9 775.4,199.4 M772.8,184.8 773.1,197.6 M775.4,199.4 773.1,197.6 M758.4,188.3 766.8,198.1 M773.1,197.6 766.8,198.1 M753.8,221.5 754.5,221.4 M754.5,221.4 755.6,224.4 M755.6,219.0 753.9,211.4 M755.6,219.0 754.5,221.4 M752.5,210.6 753.9,211.4 M760.3,219.1 755.6,219.0 M760.0,202.3 765.6,200.3 M760.0,202.3 760.2,209.4 M765.6,200.3 766.7,206.3 M766.7,206.3 762.0,209.9 M762.0,209.9 760.2,209.4 M757.8,200.6 760.0,202.3 M766.8,198.1 765.6,200.3 M753.9,211.4 760.2,209.4 M771.0,207.1 766.7,206.3 M764.7,213.8 762.0,209.9 M721.7,332.5 721.0,332.7 M721.0,332.7 720.2,332.0 M723.8,324.7 719.9,327.3 M720.2,332.0 719.9,327.3 M721.0,332.7 721.0,335.2 M723.8,324.7 722.9,321.0 M719.9,327.3 719.5,327.1 M743.0,270.3 743.1,270.7 M743.0,270.3 746.7,267.2 M746.7,267.2 747.7,267.7 M751.5,262.5 751.5,263.4 M749.6,262.2 748.7,262.6 M746.7,267.2 746.2,265.7 M743.0,270.3 742.2,269.8 M742.2,269.8 741.6,267.4 M731.6,272.9 732.7,272.5 M732.6,271.9 732.7,272.5 M742.2,269.8 737.8,270.0 M737.4,269.0 737.8,270.0 M734.7,275.2 733.6,273.0 M738.8,273.2 737.7,270.2 M733.6,273.0 737.7,270.2 M733.6,273.0 732.7,272.5" fill="none" stroke="#000" stroke-width="0.68"/>
<path d="M182.5,410.6 187.2,411.2 191.8,411.8 196.5,412.3 201.1,412.8 205.8,413.4 210.4,413.9 215.1,414.3 M215.1,414.3 213.1,417.7 217.8,420.6 222.4,423.4 227.1,426.1 231.8,428.9 236.5,431.7 241.3,434.4 246.0,437.1 250.8,439.8 255.6,442.5 260.4,445.1 265.0,445.9 269.6,446.6 274.2,447.2 278.8,447.9 283.4,448.5 288.0,449.1 M288.0,449.1 291.9,449.7 295.7,450.1 299.5,450.6 300.0,447.0 300.4,443.4 305.0,444.0 309.6,444.5 314.2,445.0 318.8,445.5 323.4,446.0 M323.4,446.0 327.4,451.5 331.2,455.0 335.0,458.6 338.8,462.4 342.7,466.3 344.4,470.9 346.1,475.5 348.0,480.1 350.0,484.7 354.9,489.0 357.6,490.6 360.4,492.1 363.5,493.8 366.6,495.5 371.1,491.2 372.8,487.4 374.4,483.6 379.5,481.5 384.7,482.4 390.0,483.4 394.4,487.2 398.8,491.1 401.4,496.5 404.1,501.9 405.4,505.6 406.7,509.3 412.2,515.7 417.8,522.0 418.1,526.1 418.3,530.2 420.8,533.9 423.3,537.7 427.3,540.7 431.5,543.3 435.6,545.8 441.2,547.2 446.7,548.7 451.9,547.9 M182.4,136.8 186.4,138.0 190.5,139.1 194.5,140.3 198.6,141.4 202.7,142.5 206.8,143.6 210.8,144.6 214.9,145.7 219.0,146.7 223.1,147.7 227.2,148.7 231.3,149.7 235.4,150.6 239.5,151.6 243.6,152.5 247.7,153.4 251.9,154.3 256.0,155.2 260.1,156.0 264.3,156.8 268.4,157.7 272.5,158.5 276.7,159.2 280.8,160.0 285.0,160.7 289.1,161.5 293.3,162.2 297.4,162.9 301.6,163.5 305.8,164.2 309.9,164.8 314.1,165.4 318.3,166.0 322.5,166.6 326.6,167.2 330.8,167.7 335.0,168.2 339.2,168.7 343.4,169.2 347.6,169.7 351.8,170.2 356.0,170.6 360.1,171.0 364.3,171.4 368.5,171.8 372.7,172.2 376.9,172.5 381.1,172.8 385.4,173.1 389.6,173.4 393.8,173.7 398.0,173.9 402.2,174.2 406.4,174.4 410.6,174.6 414.8,174.8 419.0,174.9 423.2,175.1 427.5,175.2 431.7,175.3 435.9,175.4 440.1,175.5 444.3,175.5 448.5,175.6 452.8,175.6 457.0,175.6 461.2,175.5 465.4,175.5 469.6,175.4 473.8,175.4 M473.8,175.4 473.7,169.1 477.0,170.4 477.9,174.1 478.8,177.7 481.2,179.3 483.7,180.8 486.7,181.0 489.8,181.2 492.8,181.3 495.2,181.1 497.6,180.8 500.7,183.2 503.8,185.7 507.1,186.8 510.4,187.8 513.8,188.9 517.5,187.6 521.2,186.3 525.6,186.8 530.0,187.3 532.5,187.9 535.0,188.5 M705.8,209.3 709.8,208.3 713.7,207.3 717.6,206.3 721.5,205.2 725.4,204.1 729.3,203.0 733.2,201.9 737.1,200.8 741.0,199.7 M741.0,199.7 741.2,196.1 744.3,193.9 M744.3,193.9 747.1,193.9 746.8,191.1 749.6,184.7 750.3,181.1 748.6,177.4 750.2,173.2 749.4,168.7 751.7,161.6 753.9,154.4 756.6,156.3 758.7,157.7 761.4,155.3 764.1,152.9 767.5,154.2 770.9,155.6 772.9,161.3 774.8,167.1 776.8,172.9 782.1,176.9 783.5,180.3 784.9,183.6 787.6,182.7 M157.1,175.8 160.0,177.1 162.8,178.4 164.8,179.4 166.9,180.4 167.9,184.9 167.2,189.0 169.5,190.5 171.7,191.9 176.6,191.2 178.9,191.5 181.2,191.7 184.0,194.2 187.3,194.1 190.5,193.9 192.9,194.7 195.4,195.4 199.0,194.8 202.7,194.1 206.0,194.8 209.6,194.5 213.4,195.4 217.2,196.3 220.9,197.2 224.7,198.1 228.5,199.0 232.3,199.8 M241.7,152.1 240.4,157.9 239.0,163.8 237.7,169.6 236.4,175.4 235.1,181.3 233.7,187.1 232.4,192.9 232.3,196.4 232.3,199.8 M232.3,199.8 233.3,202.5 235.4,204.7 235.9,207.2 232.3,212.2 229.3,216.5 226.4,219.2 223.7,223.5 223.6,226.5 226.1,228.7 223.5,233.4 222.2,239.2 220.9,245.0 219.6,250.8 218.3,256.6 217.0,262.4 M134.2,240.4 138.7,241.8 143.3,243.2 147.8,244.5 152.4,245.8 157.0,247.2 161.6,248.5 166.2,249.7 170.8,251.0 175.4,252.2 180.0,253.4 184.6,254.6 189.2,255.8 193.8,257.0 198.4,258.1 203.0,259.2 207.7,260.3 212.3,261.4 217.0,262.4 221.6,263.4 226.3,264.5 230.9,265.4 235.6,266.4 240.2,267.4 244.9,268.3 249.6,269.2 254.3,270.1 258.9,270.9 263.6,271.8 268.3,272.6 273.0,273.4 277.7,274.2 282.4,275.0 287.1,275.7 M182.5,254.1 181.0,259.9 179.5,265.8 178.0,271.6 176.5,277.4 175.0,283.2 173.5,289.1 172.0,294.9 170.5,300.7 174.0,306.3 177.5,311.9 181.1,317.6 184.7,323.2 188.4,328.7 192.1,334.3 195.9,339.9 199.7,345.4 203.5,351.0 207.4,356.5 211.3,362.0 215.3,367.6 219.3,373.1 223.3,378.5 M223.3,378.5 223.5,381.8 224.2,387.7 227.6,391.5 223.2,393.3 221.2,396.2 220.3,400.9 217.2,403.6 216.4,409.2 219.1,411.3 216.4,414.4 215.1,414.3 M223.3,378.5 224.7,375.5 224.2,370.5 224.6,366.5 225.0,362.5 228.5,361.0 231.5,361.1 234.5,361.2 235.3,357.0 236.1,352.7 237.0,348.5 M237.0,348.5 238.1,342.4 239.3,336.3 240.4,330.3 241.6,324.2 242.7,318.1 243.9,312.1 245.0,306.0 246.2,300.0 247.3,293.9 248.5,287.8 249.6,281.8 250.8,275.7 251.9,269.6 M237.0,348.5 241.9,349.4 246.9,350.3 251.9,351.2 257.0,352.1 262.0,352.9 267.0,353.7 272.0,354.5 277.0,355.3 282.0,356.1 287.1,356.8 292.1,357.5 297.1,358.2 302.2,358.9 307.2,359.6 312.2,360.2 317.3,360.8 322.3,361.4 327.4,362.0 332.4,362.5 337.5,363.0 342.5,363.5 347.6,364.0 352.6,364.4 357.7,364.9 362.8,365.3 367.8,365.7 372.9,366.0 378.0,366.4 383.0,366.7 388.1,367.0 393.2,367.3 398.3,367.5 403.3,367.8 408.4,368.0 413.5,368.2 418.6,368.3 423.6,368.5 428.7,368.6 433.8,368.7 438.9,368.8 444.0,368.8 449.0,368.9 454.1,368.9 459.2,368.9 464.3,368.8 469.4,368.8 474.4,368.7 479.5,368.6 484.6,368.5 M287.1,275.7 286.3,281.0 285.5,286.3 284.6,291.6 M287.1,275.7 288.0,269.8 289.0,263.8 289.9,257.9 290.8,251.9 291.7,245.9 292.7,240.0 293.6,234.0 294.5,228.0 M284.6,291.6 289.3,292.3 294.0,293.0 298.7,293.7 303.4,294.3 308.1,295.0 312.8,295.6 317.5,296.2 322.2,296.8 326.9,297.3 331.6,297.9 336.3,298.4 341.0,298.9 345.7,299.4 350.4,299.8 355.2,300.2 359.9,300.7 364.6,301.1 369.3,301.4 374.0,301.8 378.8,302.1 383.5,302.4 388.2,302.7 393.0,303.0 M308.6,295.0 307.8,301.2 307.0,307.4 306.2,313.5 305.4,319.7 304.5,325.8 303.7,332.0 302.9,338.1 302.1,344.3 301.3,350.4 300.4,356.6 299.6,362.7 298.8,368.9 298.0,375.0 297.2,381.2 296.3,387.3 295.5,393.5 294.7,399.7 293.9,405.8 293.0,412.0 292.2,418.2 291.4,424.4 290.6,430.6 289.7,436.8 288.9,443.0 288.1,449.2 M251.9,154.3 250.8,159.7 249.6,165.1 248.5,170.5 249.5,175.1 250.5,179.6 252.3,181.7 254.1,183.8 256.5,188.4 258.4,192.9 259.9,195.2 262.7,195.4 261.4,198.9 260.0,202.3 259.6,207.2 257.0,212.1 259.5,214.1 263.3,212.0 264.1,211.5 265.3,216.5 267.3,221.8 267.2,225.0 269.1,229.1 271.0,233.1 273.1,234.8 276.1,233.8 279.2,232.9 283.2,233.5 287.2,234.2 290.2,231.4 293.2,236.5 M294.5,228.0 298.9,228.7 303.3,229.3 307.7,230.0 312.1,230.6 316.5,231.2 320.9,231.8 325.3,232.3 329.7,232.9 334.1,233.4 338.5,233.9 342.9,234.4 347.4,234.9 351.8,235.3 356.2,235.7 360.6,236.2 365.0,236.5 369.5,236.9 373.9,237.3 M378.8,172.6 378.3,179.1 377.8,185.6 377.3,192.1 376.8,198.6 376.3,205.0 375.8,211.5 375.3,217.9 374.8,224.4 374.3,230.8 373.8,237.3 373.3,243.7 372.8,250.1 372.3,256.5 371.8,263.0 371.3,269.4 370.8,275.8 370.3,282.2 369.8,288.6 369.3,295.0 368.8,301.4 M393.0,303.0 392.6,309.4 392.3,315.8 391.9,322.2 391.6,328.6 391.2,335.0 390.9,341.4 390.5,347.9 390.2,354.3 389.8,360.7 389.5,367.1 M392.1,319.0 396.9,319.3 401.8,319.5 406.7,319.7 411.5,319.9 416.4,320.1 421.3,320.3 426.1,320.4 431.0,320.5 435.9,320.6 440.8,320.7 445.6,320.7 450.5,320.7 455.4,320.7 460.2,320.7 465.1,320.7 470.0,320.6 474.9,320.6 M371.2,269.4 375.9,269.7 380.5,270.0 385.2,270.4 389.9,270.6 394.5,270.9 399.2,271.2 403.8,271.4 408.5,271.6 413.1,271.8 417.8,272.0 422.5,272.1 427.1,272.2 431.8,272.3 436.5,272.4 M436.5,272.4 439.4,274.3 442.3,276.2 445.8,275.4 449.4,274.7 451.7,275.5 454.1,276.3 457.6,279.0 460.6,280.8 M375.0,222.1 379.4,222.5 383.8,222.8 388.3,223.1 392.7,223.4 397.1,223.6 401.5,223.9 405.9,224.1 410.4,224.3 414.8,224.5 419.2,224.7 423.6,224.8 428.0,224.9 432.5,225.0 436.9,225.1 441.3,225.2 445.8,225.2 450.2,225.3 454.6,225.3 459.0,225.3 M451.6,175.6 452.3,179.6 453.0,183.7 452.8,187.8 452.7,191.8 453.8,193.1 454.7,196.5 455.7,200.0 456.1,205.0 456.5,210.0 457.5,214.7 458.6,219.4 459.0,225.3 M459.0,225.3 455.8,230.7 460.3,235.5 460.4,241.3 460.4,247.1 460.4,252.9 460.5,258.7 460.5,264.5 M460.5,264.5 458.8,267.7 460.0,272.6 459.4,277.4 460.6,280.8 M460.5,264.5 464.9,264.5 469.2,264.4 473.6,264.4 477.9,264.3 482.3,264.2 486.7,264.0 491.0,263.9 495.4,263.7 499.7,263.6 504.1,263.4 508.4,263.1 512.8,262.9 517.1,262.7 521.5,262.4 M460.6,280.8 462.4,285.4 463.6,288.6 464.9,291.8 465.9,296.1 467.0,300.5 468.0,306.2 469.1,311.3 M469.1,311.3 471.8,315.8 474.9,320.6 M474.9,320.6 477.4,322.1 480.0,323.7 477.6,327.7 480.1,330.9 483.8,334.6 484.0,340.6 484.1,346.6 484.2,352.6 484.4,358.5 484.5,364.5 484.7,370.5 484.8,376.5 M484.8,376.5 485.8,382.4 486.8,388.3 487.8,394.2 487.8,399.9 487.8,405.5 487.8,411.1 487.9,416.8 487.9,422.4 M487.9,422.4 490.9,423.1 493.8,423.7 493.9,428.0 494.1,432.2 M494.1,432.2 494.3,437.8 494.5,443.3 494.6,448.8 496.4,452.7 498.2,456.6 501.9,461.7 501.0,466.4 500.1,471.2 499.6,476.0 499.1,480.9 498.5,485.8 M494.1,432.2 498.9,432.1 503.8,432.0 508.6,431.8 513.5,431.6 518.3,431.4 523.2,431.2 528.0,430.9 532.9,430.7 M414.4,407.4 418.2,410.4 421.5,412.0 424.8,413.5 428.8,414.0 432.8,414.5 436.1,414.7 439.4,414.9 441.4,419.0 446.4,420.0 451.4,421.1 455.4,417.9 459.4,419.8 463.5,419.6 467.5,419.4 470.8,419.1 474.1,418.9 478.1,417.5 480.8,419.1 483.6,420.8 487.9,422.4 M414.4,407.4 414.6,401.2 414.8,394.9 415.0,388.7 415.2,382.5 415.4,376.3 410.5,376.1 405.6,375.9 400.7,375.7 395.8,375.4 390.9,375.2 386.0,374.9 381.1,374.6 376.2,374.3 M377.2,366.3 376.7,370.3 376.2,374.3 375.8,380.3 375.3,386.3 374.9,392.3 374.5,398.3 374.1,404.4 373.6,410.4 373.2,416.4 372.8,422.4 372.3,428.5 371.9,434.5 371.5,440.5 371.1,446.6 365.7,446.2 360.3,445.8 354.9,445.4 349.5,444.9 344.1,444.5 338.7,444.0 333.3,443.5 327.9,442.9 322.5,442.4 323.4,446.0 M469.1,311.3 473.6,311.2 478.0,311.0 482.5,310.9 487.0,310.7 491.4,310.5 495.9,310.4 500.4,310.1 504.8,309.9 509.3,309.7 513.8,309.4 518.2,309.1 522.2,312.6 M484.8,376.5 489.6,376.4 494.4,376.2 499.2,376.0 504.0,375.8 508.8,375.6 513.6,375.4 518.4,375.1 523.2,374.9 528.0,374.6 532.8,374.3 537.6,373.9 542.4,373.6 541.3,377.7 540.2,381.8 544.5,381.5 548.8,381.1 M508.4,210.6 506.4,212.2 506.6,216.9 506.9,221.6 503.1,226.3 500.6,230.1 503.4,232.7 502.5,239.2 502.2,243.3 505.1,245.2 508.1,247.0 512.8,249.2 515.3,251.9 517.7,254.6 520.8,257.6 521.5,262.4 M521.5,262.4 523.3,268.7 523.1,274.4 526.2,276.2 529.4,278.0 M529.4,278.0 532.2,281.0 535.1,284.0 536.0,288.8 533.9,293.0 531.0,294.0 528.4,295.4 525.7,296.7 525.5,302.4 527.4,303.9 524.9,306.8 522.3,309.8 522.2,312.6 M522.2,312.6 521.6,318.7 522.9,319.7 525.0,323.1 527.1,326.4 531.7,330.9 533.3,335.6 536.1,335.8 538.9,336.0 539.5,339.5 538.7,343.0 537.8,346.6 543.2,350.2 546.2,352.7 549.3,355.3 549.7,360.1 554.6,364.5 M554.6,364.5 553.1,369.5 550.8,372.9 549.8,377.0 548.8,381.1 M548.8,381.1 547.5,384.8 546.2,388.6 545.4,392.0 544.7,395.5 542.3,397.7 M542.3,397.7 538.7,402.8 537.0,407.0 535.2,411.1 534.2,415.2 533.1,419.3 532.7,424.2 532.9,430.7 M532.9,430.7 534.3,437.0 537.3,441.2 534.2,447.6 531.0,454.3 529.8,458.8 528.6,463.3 M528.6,463.3 533.9,463.0 539.1,462.6 544.4,462.3 549.6,461.9 554.9,461.5 556.5,467.0 554.7,471.3 558.9,474.5 M529.4,278.0 533.6,277.7 537.8,277.4 542.0,277.1 546.1,276.7 550.3,276.4 554.5,276.0 558.7,275.6 562.9,275.2 M554.6,364.5 558.0,363.6 561.5,362.6 562.9,357.3 567.2,355.3 567.6,350.4 M567.6,350.4 569.1,348.7 573.1,347.1 576.2,348.3 579.4,349.5 583.0,347.9 586.7,346.3 588.8,342.5 592.8,344.4 595.4,339.7 597.1,335.8 598.8,331.9 601.9,331.1 604.9,330.3 605.2,325.0 M605.2,325.0 609.2,324.5 613.6,328.7 616.4,329.6 619.2,330.4 622.5,329.1 625.5,328.4 628.6,327.6 631.4,329.7 634.3,331.8 M634.3,331.8 636.2,331.5 638.8,328.1 638.2,324.6 640.7,323.3 643.1,322.0 643.3,320.9 644.9,316.2 648.9,313.4 652.1,307.9 652.9,301.8 652.8,296.4 653.6,292.3 M567.6,350.4 567.8,347.2 568.0,343.9 570.1,339.9 572.2,335.8 571.8,330.4 571.3,325.1 570.8,319.6 570.2,314.1 569.6,308.6 569.1,303.1 568.5,297.6 567.9,292.1 567.4,286.6 M605.2,325.0 604.5,319.1 603.7,313.2 602.9,307.3 602.2,301.4 601.4,295.5 600.6,289.6 599.8,283.7 M575.8,285.7 579.8,285.4 583.8,285.1 587.8,284.7 591.8,284.4 595.8,284.0 599.8,283.7 M599.8,283.7 603.8,283.0 607.8,282.3 611.9,281.6 615.9,280.9 M653.6,292.3 652.7,287.0 651.7,281.8 650.7,276.5 649.8,271.2 M550.8,372.9 555.4,372.5 560.0,372.1 564.6,371.7 569.2,371.2 568.9,368.4 573.9,368.0 578.9,367.6 584.0,367.1 589.0,366.7 593.8,366.2 598.6,365.8 603.5,365.3 608.3,364.8 612.5,364.3 616.7,363.8 620.9,363.3 625.1,362.7 M625.1,362.7 630.3,362.0 635.4,361.2 640.4,360.5 645.5,359.7 650.6,358.8 655.6,358.0 660.5,357.2 665.4,356.4 670.3,355.5 675.2,354.6 680.1,353.7 685.1,352.8 690.0,351.8 694.9,350.8 699.7,349.8 704.6,348.8 709.5,347.8 714.4,346.7 719.3,345.7 724.2,344.6 M650.6,358.8 648.5,363.1 646.6,367.5 643.5,368.8 640.4,370.1 636.7,371.5 633.4,375.8 629.9,378.8 626.9,380.6 623.8,382.4 622.2,386.0 620.6,389.5 M542.3,397.7 546.9,397.4 551.4,397.0 556.0,396.6 560.6,396.2 565.2,395.8 569.8,395.4 574.7,395.0 579.5,394.5 584.4,394.0 589.3,393.5 594.1,393.0 599.0,392.5 603.8,391.9 608.0,391.3 612.2,390.7 616.4,390.1 620.6,389.5 624.5,388.9 628.5,388.3 632.4,387.7 636.3,387.0 M569.8,395.4 571.3,396.9 571.3,402.9 571.2,409.0 571.2,415.1 571.2,421.1 571.1,427.2 571.1,433.3 571.0,439.4 571.0,445.5 571.8,451.6 572.6,457.7 573.4,463.9 574.3,470.0 M603.8,391.9 605.5,397.4 607.1,402.9 608.8,408.4 610.4,413.9 612.1,419.4 613.8,424.9 615.6,429.3 617.4,433.7 617.8,439.3 618.2,445.0 619.2,449.8 620.2,454.5 M620.2,454.5 615.1,455.2 610.0,455.9 604.8,456.5 599.7,457.1 594.6,457.7 589.5,458.2 584.3,458.8 587.8,464.9 586.9,470.2 M620.2,454.5 622.8,459.1 628.0,458.7 633.3,458.2 638.6,457.8 643.9,457.3 649.2,456.8 654.5,456.3 659.8,455.7 662.4,458.7 662.0,452.4 665.9,452.1 669.7,451.7 M673.9,429.3 669.3,425.7 666.0,420.5 662.7,415.4 659.1,412.1 655.5,408.9 651.9,406.0 648.4,403.1 642.9,398.2 637.4,393.4 636.3,387.0 M636.3,387.0 640.4,385.3 643.4,383.7 646.3,382.2 650.5,381.7 654.6,381.2 658.7,380.7 662.8,380.2 663.1,382.0 664.4,380.7 667.1,384.8 671.9,384.1 676.8,383.3 681.6,382.5 687.4,386.5 693.3,390.5 699.2,394.5 M625.1,362.7 628.5,360.2 631.9,357.7 636.4,352.9 638.6,350.9 640.9,348.9 644.4,344.4 M644.4,344.4 639.9,342.6 637.4,339.3 635.0,336.1 634.3,331.8 M644.4,344.4 649.0,349.2 651.8,348.3 654.5,347.4 658.2,345.4 661.8,343.4 665.5,341.4 666.7,337.5 667.9,333.6 669.2,328.4 670.4,323.3 675.1,324.5 677.2,321.2 679.3,317.9 681.6,312.7 683.8,307.5 687.3,308.5 690.8,309.5 691.5,306.4 M700.2,310.9 694.6,307.7 691.5,306.4 689.3,302.3 684.4,301.6 681.9,304.6 677.7,303.9 674.7,307.4 672.5,310.0 670.4,312.7 669.6,308.6 668.9,304.5 M656.3,306.9 661.1,306.0 665.9,305.1 670.6,304.1 675.4,303.2 680.2,302.2 684.9,301.2 689.7,300.2 694.4,299.2 699.2,298.1 703.9,297.0 708.7,296.0 713.4,294.8 M653.6,292.3 654.5,297.2 655.4,302.0 656.3,306.9 M713.4,294.8 715.3,292.6 717.5,292.5 M713.4,294.8 714.8,299.7 716.3,304.5 717.7,309.4 719.2,314.2 723.2,313.4 727.1,312.5 M719.2,322.6 721.5,321.3 724.0,320.4 726.4,319.6 M717.5,292.5 720.6,290.1 723.8,284.4 720.3,281.5 716.9,278.6 716.5,273.3 718.3,269.7 720.2,266.1 715.1,263.4 710.0,258.0 M710.0,258.0 705.8,259.0 701.5,260.1 697.2,261.0 693.0,262.0 688.7,263.0 684.4,263.9 680.1,264.8 675.8,265.7 671.5,266.6 667.2,267.5 662.9,268.4 658.6,269.2 657.8,264.9 M720.2,266.1 725.5,267.7 730.9,269.3 M733.7,268.8 735.0,264.9 733.7,263.6 732.5,257.7 731.4,251.8 M731.4,251.8 731.2,246.1 731.0,240.4 730.0,236.2 728.9,232.0 727.9,227.8 726.0,227.4 724.3,221.2 722.7,215.0 721.7,210.2 720.7,205.3 M731.4,251.8 735.3,250.8 739.2,249.9 743.1,248.9 747.0,247.9 750.9,246.9 M750.9,246.9 752.1,252.4 753.3,257.9 M750.9,246.9 753.3,246.2 755.7,245.5 756.8,247.2 759.2,249.9 761.1,252.7 M731.0,240.4 734.1,239.6 737.2,238.8 740.3,238.0 744.7,237.0 749.2,235.9 753.6,234.8 756.2,231.2 758.3,230.6 M740.3,238.0 739.4,233.5 738.5,229.0 738.9,223.9 739.3,218.8 738.1,212.4 740.2,210.2 742.2,207.9 741.6,203.8 741.0,199.7 M758.7,227.1 754.4,223.6 752.7,218.7 751.1,213.7 749.5,208.6 747.9,203.5 746.2,198.4 744.3,193.9 M527.2,212.4 531.0,213.9 534.8,215.4 538.7,216.8 542.5,218.3 546.3,219.1 550.1,219.9 554.0,220.6 557.8,224.6 557.7,229.5 560.9,233.2 M691.0,227.5 693.6,222.9 696.3,218.3 699.5,215.3 702.7,212.3 705.8,209.3 M777.4,137.4 774.4,138.8 771.4,140.1 768.4,141.4 765.9,142.6 763.5,143.8 762.1,150.3 760.4,154.0 758.7,157.7 M272.7,158.5 270.7,153.9 268.7,149.4 268.9,145.3 269.2,141.2 267.6,135.9 266.0,130.5 262.9,124.9 259.9,119.2 256.8,114.3 253.6,109.4 251.1,104.6 248.5,99.8 M315.6,165.6 316.5,159.2 317.4,152.7 318.4,146.2 319.3,139.8 320.3,133.3 321.2,126.8 322.1,120.3 323.1,113.7 324.0,107.2 325.0,100.6 M407.5,174.4 407.6,167.9 407.7,161.4 407.9,154.8 408.0,148.3 408.1,141.7 407.9,136.2 407.7,130.7 407.4,125.2 407.4,119.7 407.3,114.2 407.3,108.7 M473.7,169.1 473.6,162.9 473.5,156.7 473.3,150.5 473.2,144.3 473.1,138.0 472.9,131.8 472.8,125.5 472.7,119.3 472.6,113.0 M627.3,93.2 628.5,99.5 629.7,105.8 630.9,112.1 632.2,118.4 633.4,124.7 634.6,131.0 635.8,137.2 637.0,143.5 638.3,149.7 639.5,155.9 640.7,162.2 641.9,168.4 643.1,174.6 644.3,180.8 645.7,184.2 647.0,187.7 649.6,189.7 652.3,191.6 656.8,197.3 660.7,197.6 664.6,197.9 668.4,198.2 671.8,200.3 675.1,202.5 678.3,203.8 681.5,205.2 684.5,205.3 687.4,205.5 690.3,205.6 693.3,205.8 697.3,203.1 701.3,200.5 704.1,200.0 706.9,199.6 707.8,205.5" fill="none" stroke="#000" stroke-width="1.3" stroke-linejoin="round"/>
<path d="M144.3,79.8 144.6,85.1 144.9,90.5 148.0,92.4 151.2,94.4 153.4,97.7 155.5,101.0 158.0,103.6 160.4,106.1 162.7,107.7 164.9,109.3 166.4,114.9 167.4,119.0 170.1,120.9 172.8,122.9 172.6,125.4 174.6,126.8 176.7,128.3 179.9,126.7 181.6,124.7 179.4,129.5 180.1,131.0 178.5,133.4 179.4,135.9 182.4,136.8 M182.4,136.8 182.0,138.4 183.9,141.5 182.5,144.5 182.9,148.8 182.3,152.9 183.6,154.4 180.5,157.4 180.4,159.9 179.6,163.1 177.8,164.7 174.4,166.6 172.0,166.8 173.7,163.0 176.0,162.9 178.2,159.3 180.1,154.8 178.7,153.5 174.5,158.2 171.5,160.7 174.7,155.7 178.4,150.5 174.7,149.8 171.4,148.3 168.6,147.1 165.8,145.8 162.5,143.0 159.2,140.3 M159.2,140.3 158.3,144.8 159.0,151.0 158.5,157.6 158.6,163.6 160.5,165.0 158.5,165.6 158.2,168.6 159.1,171.4 156.8,173.2 156.2,175.2 157.1,175.8 M157.1,175.8 155.3,181.2 153.6,187.4 151.2,193.4 149.7,196.9 148.2,200.4 146.4,205.2 144.7,210.0 141.9,215.9 139.0,219.2 137.3,222.8 134.2,226.3 134.2,232.8 133.6,238.5 134.2,240.4 M134.2,240.4 133.1,244.3 133.1,249.3 131.7,252.2 130.4,255.2 128.4,259.6 124.5,263.6 126.5,269.9 127.8,276.2 126.8,281.1 126.2,285.0 125.7,289.0 127.8,295.5 130.6,301.3 130.9,304.8 129.6,306.1 133.1,308.7 135.2,310.7 M135.2,310.7 136.1,309.6 136.2,307.1 138.3,306.6 139.9,308.0 142.9,308.9 139.7,308.6 137.6,309.2 137.5,311.7 138.5,315.3 140.3,318.3 137.9,317.1 136.1,312.9 135.0,311.3 M135.0,311.3 133.7,315.6 133.7,321.4 137.1,325.6 139.3,328.9 136.8,331.5 135.9,336.2 138.7,342.9 140.7,348.1 142.8,351.1 144.8,354.2 144.0,356.0 146.8,358.7 145.6,363.0 144.4,367.2 146.1,369.9 151.0,371.5 155.8,373.2 158.3,374.9 160.8,376.6 162.4,379.8 165.9,382.3 169.8,383.1 169.9,387.1 172.7,388.1 176.1,391.4 178.2,394.2 181.5,399.3 181.5,405.1 181.4,408.0 182.5,410.6 M182.5,410.6 184.3,416.4 186.8,422.8 184.5,424.8 186.4,429.3 188.2,433.9 189.4,438.3 190.6,442.7 190.9,447.7 191.2,451.5 191.5,455.3 194.9,459.7 198.3,464.2 200.9,467.2 203.6,470.2 206.0,474.4 208.5,478.6 209.4,483.3 210.3,488.1 207.8,493.4 204.6,493.2 201.3,493.0 198.0,491.9 194.6,490.8 197.1,495.5 201.1,501.3 204.4,507.8 208.5,510.5 212.6,513.1 215.5,514.7 218.4,516.2 222.0,519.3 225.5,522.5 229.0,528.1 229.3,533.1 229.6,538.2 229.3,542.3 229.0,546.4 233.8,553.9 238.5,558.3 243.1,562.6 245.6,566.1 248.2,569.6 253.1,574.5 253.6,578.4 254.0,582.2 256.8,584.7 M256.8,584.7 262.6,581.8 265.0,575.4 262.8,570.5 260.6,565.6 257.2,563.8 253.9,562.1 251.5,562.6 249.4,556.4 249.3,552.2 249.2,548.0 247.3,542.7 245.5,537.4 242.9,530.4 241.5,525.1 240.1,519.9 236.1,514.3 234.6,510.4 233.2,506.5 230.4,502.2 227.6,497.9 227.7,492.9 227.9,488.0 226.0,484.3 224.1,480.7 219.6,477.4 219.2,471.5 216.1,467.2 212.9,462.9 210.9,458.8 208.8,454.7 208.9,450.5 209.0,446.4 208.2,441.0 208.9,437.2 209.5,433.3 211.1,428.7 M211.1,428.7 214.3,430.2 217.6,432.9 221.0,435.6 223.7,437.7 226.5,439.9 229.3,441.6 232.2,443.4 231.7,449.9 232.8,453.8 233.9,457.7 234.0,461.0 234.2,464.3 237.2,471.4 239.8,477.6 241.7,483.7 244.3,487.5 247.0,491.2 249.2,495.3 251.5,499.4 255.0,500.3 258.5,501.3 258.2,505.4 258.0,509.5 261.5,512.9 265.1,516.3 269.3,522.7 273.5,529.9 272.1,534.7 270.7,539.5 275.6,542.6 279.4,547.3 282.6,549.3 285.7,551.4 288.0,555.6 290.2,559.8 293.8,563.8 297.3,567.8 300.8,571.1 304.2,574.4 307.3,580.1 310.3,585.9 313.2,589.5 316.1,593.2 M442.5,608.3 442.3,603.3 442.1,598.3 442.4,593.3 442.7,588.3 443.1,582.5 443.5,576.7 444.7,570.9 445.9,565.2 447.4,561.0 448.9,556.9 450.4,552.4 451.9,547.9 M451.9,547.9 451.5,544.2 451.1,540.5 450.1,536.4 449.0,532.3 448.6,529.0 448.3,525.7 450.5,519.2 454.1,514.3 457.7,510.2 462.7,507.7 465.6,506.5 468.4,505.2 471.3,503.6 474.1,501.9 479.7,497.7 483.9,493.6 486.0,491.1 482.3,487.9 485.1,485.4 488.8,489.4 491.6,488.5 495.0,487.2 498.5,485.8 M498.5,485.8 502.4,485.1 506.2,484.4 511.2,485.6 516.2,486.7 521.9,487.2 524.6,483.9 527.6,487.7 531.2,487.5 534.7,487.3 535.6,491.3 538.9,492.8 542.2,494.2 547.9,493.0 552.1,491.8 554.7,489.2 558.3,489.7 562.1,492.7 564.2,491.7 566.4,493.1 566.9,489.8 561.6,487.0 559.2,483.1 560.4,480.6 558.0,477.5 562.1,476.3 558.3,476.3 554.4,476.2 551.0,477.6 546.7,476.7 547.1,473.5 551.9,472.0 555.6,473.6 558.9,474.5 M558.9,474.5 561.8,472.3 564.9,471.2 567.9,470.1 571.1,470.1 574.3,470.0 M574.3,470.0 578.5,470.0 578.7,465.0 580.8,464.8 582.0,470.4 586.9,470.2 M586.9,470.2 591.0,469.0 595.9,468.0 600.7,467.1 603.5,467.2 606.3,467.2 612.3,469.9 616.8,472.1 618.8,476.3 623.2,477.0 627.0,474.1 631.5,470.2 636.0,467.1 639.0,468.3 642.0,469.5 645.7,474.7 649.0,477.5 652.3,480.3 656.4,483.7 657.7,487.2 659.0,490.7 657.7,496.7 659.3,502.2 661.2,500.3 663.6,501.6 661.5,506.9 665.5,512.9 669.8,517.1 672.7,520.8 677.4,526.7 679.4,529.7 682.5,530.4 685.7,531.1 689.7,537.1 693.2,539.8 697.7,539.0 700.4,537.7 701.2,533.3 702.7,527.9 702.5,523.4 702.2,518.9 701.6,514.9 701.0,510.8 698.6,507.1 696.3,503.3 694.1,499.6 692.0,495.8 689.4,489.7 688.6,485.7 685.0,481.4 682.5,477.7 680.0,474.0 677.5,469.9 675.0,465.8 673.2,462.0 671.5,458.2 670.6,454.9 669.7,451.7 M669.7,451.7 669.3,445.4 670.2,438.6 672.6,432.5 673.9,429.3 M673.9,429.3 676.2,425.3 678.8,420.7 681.5,418.5 684.3,416.4 688.0,410.7 692.5,405.7 693.6,400.6 696.2,396.8 699.2,394.5 M699.2,394.5 702.7,393.6 706.3,392.7 706.3,389.7 709.7,383.3 712.5,380.6 715.3,377.9 718.9,377.1 722.4,376.3 724.4,370.1 728.8,365.7 733.4,363.8 732.8,357.3 730.7,354.1 728.6,350.9 726.4,347.7 724.2,344.6 M724.2,344.6 721.2,339.5 717.3,339.6 715.2,335.9 716.5,333.2 714.8,328.6 714.7,324.9 M714.7,324.9 709.4,322.4 706.6,321.4 703.8,320.4 700.4,319.5 701.6,312.7 700.2,310.9 M714.7,324.9 713.1,322.6 711.2,318.7 709.8,315.4 708.3,312.0 708.7,307.8 707.2,304.0 710.8,300.7 711.5,298.1 M711.5,298.1 711.6,301.4 710.1,305.8 710.8,311.4 713.3,314.1 712.4,318.5 717.1,319.0 719.2,322.6 M719.2,322.6 719.3,325.9 719.5,329.2 720.0,334.0 721.1,335.9 722.1,331.9 723.4,326.6 726.4,319.6 M726.4,319.6 727.1,315.0 727.1,312.5 M727.1,312.5 725.5,307.4 722.0,304.6 719.7,300.3 716.7,296.0 717.5,292.5 M717.5,292.5 717.7,297.4 720.7,299.2 723.7,300.9 726.3,301.1 726.5,304.7 729.5,298.7 731.9,293.1 732.9,287.0 732.9,282.1 731.9,278.2 728.7,278.2 730.4,274.8 730.8,274.0 M730.8,274.0 730.9,271.8 730.9,269.3 M730.8,274.0 731.7,272.4 733.2,271.2 735.9,269.3 738.2,268.5 740.4,267.6 743.3,266.6 746.2,265.6 748.9,262.0 752.9,262.5 750.3,264.5 747.7,266.5 751.0,264.2 754.3,261.8 751.7,264.4 749.1,266.9 745.9,269.1 742.7,271.2 739.4,273.1 736.1,274.9 733.6,275.7 731.2,276.4 730.8,274.0 M730.9,269.3 731.0,271.3 732.8,271.8 733.7,268.8 M733.7,268.8 736.1,266.8 738.4,264.8 741.5,262.4 744.4,261.4 747.2,260.4 750.3,259.2 753.3,257.9 M753.3,257.9 757.3,255.9 756.9,251.4 756.7,248.9 758.3,251.0 759.6,253.1 761.1,252.7 M761.1,252.7 762.8,251.3 766.3,250.3 765.9,247.0 769.9,247.9 773.7,246.0 772.2,241.8 769.0,240.8 771.5,244.9 769.2,245.6 766.9,246.2 764.2,243.4 761.9,239.9 758.8,239.9 759.3,237.3 761.8,233.2 758.3,230.6 M758.3,230.6 758.7,227.1 M758.7,227.1 759.1,222.2 761.6,216.4 765.0,213.7 768.4,211.0 770.3,209.1 772.1,207.3 772.9,200.3 776.7,202.5 780.6,199.5 783.1,196.1 784.9,194.2 786.7,192.4 788.6,190.9 790.5,189.4 791.3,187.1 787.6,182.7 M508.4,210.6 510.7,208.3 512.9,206.0 516.9,201.5 520.8,196.9 523.8,195.1 526.8,193.2 530.9,190.9 535.0,188.5 538.2,181.7 541.4,181.0 544.6,180.3 546.1,176.5 547.6,172.7 551.7,172.7 555.7,172.7 559.7,173.1 563.7,173.5 567.7,173.8 571.1,179.2 574.4,184.5 578.3,184.3 582.1,184.1 585.9,183.8 587.4,188.9 588.9,194.1 590.9,200.3 594.5,206.4 592.4,207.5 589.9,205.2 587.3,202.9 584.4,204.1 581.5,205.2 578.8,205.6 576.2,206.0 572.7,208.4 569.3,210.9 565.0,210.3 560.7,209.7 556.9,205.2 554.1,204.7 551.2,204.2 548.8,207.6 549.8,201.0 552.8,198.3 555.7,195.6 553.1,195.8 550.5,196.1 546.4,199.7 542.7,203.2 539.0,206.6 535.1,208.5 531.2,210.5 527.2,212.4 524.7,212.3 522.1,212.2 523.1,206.5 520.7,207.3 518.3,208.1 515.0,209.0 511.7,209.8 508.4,210.6 M539.0,190.6 542.8,187.7 546.6,184.7 545.7,186.8 542.4,188.7 539.0,190.6 M566.3,285.2 569.7,288.6 572.3,287.5 574.9,286.4 575.8,285.7 578.9,279.8 581.0,274.7 581.2,268.6 580.0,265.1 578.7,261.6 577.2,258.3 575.6,255.1 576.1,250.2 576.9,245.2 577.1,239.1 578.6,234.5 581.3,231.7 583.9,229.0 584.0,232.5 584.0,235.9 586.0,231.9 586.9,226.6 590.3,225.2 588.4,223.5 588.4,221.1 591.9,218.5 595.1,220.2 599.0,221.5 602.9,222.8 608.1,227.9 610.5,233.4 610.9,237.9 609.8,240.8 607.5,244.8 606.1,251.2 608.6,250.1 611.1,249.1 612.6,245.3 616.0,242.8 620.0,245.8 621.4,250.3 622.8,254.8 624.8,258.9 628.3,255.8 631.8,252.8 631.3,249.2 630.9,245.6 630.8,242.1 630.6,238.6 632.7,233.0 630.1,227.4 627.4,221.7 630.4,223.6 633.5,225.5 637.5,230.6 641.8,230.6 646.1,230.6 648.3,229.9 648.9,226.0 646.8,221.5 644.7,217.0 641.1,213.1 637.5,209.3 634.1,209.5 630.7,209.7 627.3,209.9 624.3,208.9 621.3,208.0 617.8,208.4 614.3,208.8 610.7,209.2 607.1,209.1 603.5,209.0 599.9,208.9 597.2,207.6 594.5,206.4 597.4,210.9 600.7,213.8 597.7,214.9 594.8,216.0 591.8,217.0 587.5,215.8 583.2,214.6 578.9,216.2 574.6,217.9 571.1,224.0 569.7,220.1 566.0,222.1 563.5,227.7 560.9,233.2 559.1,238.1 557.3,243.0 560.3,238.2 563.8,232.9 567.4,229.3 566.1,233.1 564.8,236.9 563.2,243.5 562.0,249.3 562.0,255.0 561.6,260.9 561.1,266.7 562.8,271.6 562.9,275.2 562.9,277.4 564.6,281.3 566.3,285.2 M608.7,214.1 612.5,213.1 616.3,212.1 620.4,212.6 624.5,213.2 626.3,217.0 622.8,216.7 619.3,216.5 615.8,215.8 612.2,215.2 608.7,214.1 M582.3,221.0 583.7,222.5 583.1,222.9 582.3,221.0 M624.8,258.9 624.8,264.6 620.7,265.2 620.7,269.3 619.1,270.8 618.6,275.3 616.6,278.0 615.9,280.9 M624.8,258.9 625.5,265.3 626.8,269.6 623.9,270.2 621.0,270.9 619.3,271.9 619.2,275.2 621.7,275.6 624.2,275.9 626.6,276.1 626.9,274.0 630.1,271.7 633.3,269.3 636.6,265.6 639.9,261.9 644.0,261.6 648.2,261.3 650.9,261.3 653.6,261.2 651.2,257.8 654.5,256.6 657.9,255.4 661.9,254.3 665.6,253.1 M615.9,280.9 618.7,281.9 621.6,282.9 625.4,284.0 628.5,283.3 631.6,282.7 634.4,281.9 637.2,281.2 640.4,278.5 643.5,275.8 646.7,273.0 649.8,271.2 652.1,269.5 654.5,267.9 657.8,264.9 660.0,262.8 662.2,260.6 664.1,257.0 666.1,253.3 M665.6,253.1 663.5,250.2 662.7,247.8 M662.7,247.8 665.8,246.2 668.9,244.7 672.5,244.6 676.0,244.4 679.6,244.2 683.3,243.3 687.0,242.4 689.2,240.3 691.4,238.1 694.5,236.1 692.3,231.7 691.0,227.5 688.7,226.4 686.7,229.5 684.8,232.6 680.3,232.7 675.9,232.8 673.3,233.8 670.8,234.8 667.0,236.2 663.3,237.6 660.7,240.0 658.0,242.5 656.1,245.6 654.2,248.8 658.0,249.7 660.3,248.7 662.7,247.8 M735.0,172.7 736.8,170.8 739.5,168.5 742.3,166.1 744.1,162.3 745.9,158.4 747.5,154.1 749.0,149.7 751.5,145.4 753.9,141.1 756.4,136.8 759.1,133.6 761.8,130.4 764.4,127.2 767.8,124.6 771.3,121.9 774.6,119.2 778.0,116.5 M735.0,172.7 735.9,169.9 738.3,164.4 740.7,159.0 743.4,154.5 744.5,149.9 745.7,145.3 748.2,140.7 750.7,136.0 752.6,132.0 754.5,128.0 756.3,123.9 M726.0,227.4 723.8,221.4 723.6,217.2 723.4,213.1 720.6,207.2 722.1,206.0 723.2,210.3 724.4,214.5 725.2,221.0 726.0,227.4 M801.8,125.2 798.4,127.6 795.1,130.0 791.7,132.3 788.1,133.1 784.5,133.8 780.9,134.5 779.2,136.0 777.4,137.4 781.2,137.0 785.1,136.4 787.8,137.6 790.6,138.8 794.3,136.2 797.9,133.5 M787.6,182.7 789.8,183.7 792.2,182.0 794.6,180.3 796.7,178.5 798.8,176.8 801.7,175.5 804.5,174.2 M173.4,144.0 171.1,145.0 168.5,142.9 165.8,140.8 163.2,138.7 160.1,135.3 157.1,132.0 154.1,128.3 151.1,124.5 148.7,119.9 146.3,115.2 144.0,112.3 141.7,109.3 139.4,106.3 137.1,103.4 136.0,97.1 134.9,90.8 138.0,92.2 141.2,93.7 144.4,95.2 147.3,98.2 150.2,101.2 153.1,104.2 156.1,107.2 159.0,110.2 162.0,113.2 163.8,119.7 166.0,123.4 168.2,127.1 171.1,130.5 172.8,137.4 174.2,140.3 173.4,144.0 M441.5,155.9 438.9,153.0 436.4,150.1 435.7,146.4 435.0,142.7 432.7,138.5 430.5,134.3 434.7,132.8 436.6,137.8 438.6,142.7 442.1,147.7 441.8,151.8 441.5,155.9 M455.7,152.7 454.9,148.6 454.1,144.5 455.1,137.9 453.1,133.0 451.0,128.1 448.5,123.1 446.0,118.1 449.1,118.1 452.1,118.2 455.1,118.2 456.8,123.1 458.5,128.0 460.2,133.0 461.3,137.9 462.4,142.8 461.4,149.4 458.5,151.0 455.7,152.7 M426.5,132.6 423.6,127.6 420.7,122.5 417.9,117.4 415.1,112.4 418.6,111.7 422.1,111.0 425.0,116.9 427.8,122.7 427.1,127.7 426.5,132.6 M473.7,169.1 476.8,163.1 479.4,163.0 482.1,162.9 484.9,169.4 481.4,176.0 478.8,177.7 477.9,174.1 477.0,170.4 M540.0,165.2 537.5,161.3 535.1,157.4 536.8,153.2 538.5,148.9 542.2,149.4 546.0,149.9 547.4,153.9 548.9,157.8 547.1,161.3 545.3,164.7 542.6,165.0 540.0,165.2 M492.8,181.3 494.9,180.0 497.0,178.7 499.2,180.2 501.5,181.7 497.6,180.8 M151.7,377.6 154.2,378.6 156.7,379.6 155.4,380.2 151.5,379.2 151.7,377.6 M147.1,377.6 150.7,378.5 148.7,379.7 147.1,377.6 M166.5,391.1 169.6,394.4 167.9,393.9 166.5,391.1 M164.8,398.2 167.3,402.3 166.0,401.8 164.8,398.2 M152.9,391.1 154.7,392.5 153.7,392.6 152.9,391.1 M153.6,459.6 153.8,464.7 152.9,464.1 153.6,459.6 M192.5,482.1 194.0,487.4 192.9,487.2 192.5,482.1 M234.3,475.9 238.2,478.2 236.7,483.2 234.0,481.6 234.3,475.9 M221.4,467.8 223.4,472.3 225.5,476.8 223.7,474.8 222.5,471.3 221.4,467.8 M687.3,506.7 691.6,507.5 692.1,512.5 689.5,514.6 686.0,511.9 687.3,506.7 M264.3,277.6 266.7,279.7 269.1,281.7 271.7,284.6 273.4,289.0 270.2,293.3 266.7,291.9 264.4,287.4 263.3,283.2 264.3,277.6 M772.0,252.8 775.3,252.1 773.9,250.8 772.0,252.8 M765.1,254.0 769.2,252.4 767.2,251.4 765.1,254.0" fill="none" stroke="#000" stroke-width="1.6" stroke-linejoin="round"/>
<path d="M291.0,449.5 291.6,462.9 288.5,482.0 289.5,494.7 282.1,500.0 284.2,509.5 289.5,520.1 293.8,527.5 301.2,537.1 307.5,544.5 M307.5,544.5 303.3,547.7 305.4,558.2 311.8,569.0 M307.5,544.5 312.8,542.4 318.1,531.8 323.4,526.5 330.8,531.8 338.2,533.9 347.8,529.7 354.5,530.3 M364.7,494.3 356.2,505.3 354.1,520.1 354.5,530.3 M354.5,530.3 360.5,537.1 361.5,547.7 358.4,554.0 364.7,561.4 373.2,560.4 379.5,563.5 392.2,569.0 M408.0,517.0 398.6,526.5 402.8,533.9 393.3,539.2 397.5,556.1 404.9,558.2 398.6,562.5 397.5,569.0 M410.2,516.9 415.5,522.2 417.7,537.1 426.1,545.5 432.5,556.1 424.0,560.4 417.7,562.5 424.0,569.0 M271.0,533.0 279.4,528.6 289.5,521.0 M198.5,492.2 214.0,493.6 229.5,495.6" fill="none" stroke="#000" stroke-width="1.3" stroke-linejoin="round"/>
<path d="M175.4,136.5 178.5,144.0 180.8,150.0 179.5,155.0 176.5,160.0 173.0,164.5 171.5,167.5" fill="none" stroke="#000" stroke-width="4.6" stroke-linejoin="round" stroke-linecap="round"/>
<path d="M163.5,122.5 167.0,128.0 170.5,134.0 174.0,139.0" fill="none" stroke="#000" stroke-width="3.0" stroke-linejoin="round" stroke-linecap="round"/>
<path d="M150.0,122.0 154.0,128.0 158.0,129.0 161.0,127.0" fill="none" stroke="#000" stroke-width="2.6" stroke-linejoin="round" stroke-linecap="round"/>
<path d="M158.5,163.0 160.0,168.0 159.0,172.0" fill="none" stroke="#000" stroke-width="2.4" stroke-linejoin="round" stroke-linecap="round"/>
<path d="M157.5,176.5 161.0,178.0 166.0,180.0 168.0,186.0" fill="none" stroke="#000" stroke-width="2.8" stroke-linejoin="round" stroke-linecap="round"/>
<path d="M556.0,482.0 560.0,486.0 565.0,490.0 567.0,492.0" fill="none" stroke="#000" stroke-width="2.6" stroke-linejoin="round" stroke-linecap="round"/>
<path d="M521.0,484.0 528.0,488.0 535.0,491.0 541.0,493.0" fill="none" stroke="#000" stroke-width="2.0" stroke-linejoin="round" stroke-linecap="round"/>
<path d="M476.5,163.5 479.0,167.0 481.5,170.0" fill="none" stroke="#000" stroke-width="4.2" stroke-linejoin="round" stroke-linecap="round"/>
<path d="M472.5,160.0 476.0,163.0" fill="none" stroke="#000" stroke-width="2.4" stroke-linejoin="round" stroke-linecap="round"/>
<path d="M481.0,170.0 486.0,173.0" fill="none" stroke="#000" stroke-width="2.2" stroke-linejoin="round" stroke-linecap="round"/>
<path d="M492.0,177.0 497.0,180.0 503.0,183.0" fill="none" stroke="#000" stroke-width="2.4" stroke-linejoin="round" stroke-linecap="round"/>
<path d="M141.0,312.0 143.0,318.0 142.0,322.0" fill="none" stroke="#000" stroke-width="2.2" stroke-linejoin="round" stroke-linecap="round"/>
<path d="M774.0,196.0 778.0,192.0 783.0,188.0 788.0,184.0" fill="none" stroke="#000" stroke-width="2.0" stroke-linejoin="round" stroke-linecap="round"/>
<path d="M455.0,505.0 451.0,510.0 447.0,517.0" fill="none" stroke="#000" stroke-width="2.4" stroke-linejoin="round" stroke-linecap="round"/>
<path d="M447.0,517.0 445.0,524.0" fill="none" stroke="#000" stroke-width="2.0" stroke-linejoin="round" stroke-linecap="round"/>
<path d="M715.2,509.5 721.0,508.0 726.0,506.0 730.1,504.6" fill="none" stroke="#000" stroke-width="3.2" stroke-linejoin="round" stroke-linecap="round"/>
<path d="M730.1,503.9 734.0,500.7 741.8,502.6 745.6,505.9 745.0,512.4 743.1,517.5" fill="none" stroke="#000" stroke-width="3.4" stroke-linejoin="round" stroke-linecap="round"/>
<path d="M733.0,506.0 737.0,511.0 741.0,515.0" fill="none" stroke="#000" stroke-width="2.2" stroke-linejoin="round" stroke-linecap="round"/>
<path d="M722.4,499.4 723.0,500.0" fill="none" stroke="#000" stroke-width="1.6" stroke-linejoin="round" stroke-linecap="round"/>
<path d="M726.0,500.5 726.6,501.0" fill="none" stroke="#000" stroke-width="1.6" stroke-linejoin="round" stroke-linecap="round"/>
<path d="M713.7,525.3 714.1,525.6" fill="none" stroke="#000" stroke-width="2.2" stroke-linejoin="round" stroke-linecap="round"/>
<path d="M733.4,520.8 736.6,524.0 735.3,526.6" fill="none" stroke="#000" stroke-width="2.0" stroke-linejoin="round" stroke-linecap="round"/>
<path d="M732.7,529.8 735.3,531.8 740.5,540.8 745.6,547.3 745.6,553.8 743.1,555.1 740.5,549.9 735.3,544.7 728.8,540.8 731.4,536.9 732.7,529.8" fill="none" stroke="#000" stroke-width="2.6" stroke-linejoin="round" stroke-linecap="round"/>
<path d="M734.0,536.0 739.0,544.0 743.0,551.0" fill="none" stroke="#000" stroke-width="3.6" stroke-linejoin="round" stroke-linecap="round"/>
<path d="M741.8,531.1 746.9,529.2" fill="none" stroke="#000" stroke-width="2.2" stroke-linejoin="round" stroke-linecap="round"/>
<path d="M749.5,522.7 753.4,520.8 758.6,523.4 762.5,529.2 763.8,533.1" fill="none" stroke="#000" stroke-width="2.8" stroke-linejoin="round" stroke-linecap="round"/>
<path d="M753.4,533.1 757.3,538.2 763.8,544.7 770.2,549.9 778.0,551.2" fill="none" stroke="#000" stroke-width="2.3" stroke-linejoin="round" stroke-linecap="round"/>
<path d="M768.9,531.1 774.1,535.0 777.4,538.9" fill="none" stroke="#000" stroke-width="2.4" stroke-linejoin="round" stroke-linecap="round"/>
<path d="M779.3,546.0 783.2,552.5 789.0,557.6" fill="none" stroke="#000" stroke-width="2.2" stroke-linejoin="round" stroke-linecap="round"/>
<path d="M789.4,536.2 789.8,537.6" fill="none" stroke="#000" stroke-width="2.4" stroke-linejoin="round" stroke-linecap="round"/>
<path d="M785.5,544.0 786.2,544.3" fill="none" stroke="#000" stroke-width="1.8" stroke-linejoin="round" stroke-linecap="round"/>
<path d="M750.5,546.5 751.0,547.0" fill="none" stroke="#000" stroke-width="1.6" stroke-linejoin="round" stroke-linecap="round"/>
<path d="M775.4,557.6 774.1,562.8 776.1,566.7" fill="none" stroke="#000" stroke-width="1.8" stroke-linejoin="round" stroke-linecap="round"/>
<path d="M702.3,531.1 700.4,536.9 695.2,543.4 690.0,547.5 681.4,550.8" fill="none" stroke="#000" stroke-width="1.7" stroke-linejoin="round" stroke-linecap="round"/>
<path d="M681.4,550.8 684.0,550.0" fill="none" stroke="#000" stroke-width="2.4" stroke-linejoin="round" stroke-linecap="round"/>
<path d="M731.1,275.9 733.5,275.3 736.0,274.6 739.3,272.8 742.6,270.9 745.8,268.8 749.0,266.6 751.5,264.3 753.9,261.9" fill="none" stroke="#000" stroke-width="2.3" stroke-linejoin="round" stroke-linecap="round"/>
<path d="M733.1,270.9 736.8,269.2 740.4,267.5 743.3,266.5 746.2,265.6 748.9,262.0" fill="none" stroke="#000" stroke-width="2.0" stroke-linejoin="round" stroke-linecap="round"/>
<path d="M711.1,299.0 708.3,306.2 709.1,312.6 710.5,315.6 711.8,318.6 714.5,324.6 716.0,328.3 717.5,332.1 720.2,338.1" fill="none" stroke="#000" stroke-width="2.8" stroke-linejoin="round" stroke-linecap="round"/>
<path d="M701.9,313.5 700.4,319.5 703.8,320.4 706.6,321.4 709.4,322.4 713.0,323.6" fill="none" stroke="#000" stroke-width="2.2" stroke-linejoin="round" stroke-linecap="round"/>
<path d="M701.9,323.3 706.3,325.6 711.5,328.6 715.0,329.4" fill="none" stroke="#000" stroke-width="1.8" stroke-linejoin="round" stroke-linecap="round"/>
<path d="M708.3,331.7 712.1,334.2 715.0,335.2" fill="none" stroke="#000" stroke-width="1.8" stroke-linejoin="round" stroke-linecap="round"/>
<path d="M704.8,336.6 707.5,336.9 710.2,337.1 713.8,338.7 717.2,339.3" fill="none" stroke="#000" stroke-width="2.0" stroke-linejoin="round" stroke-linecap="round"/>
<path d="M716.7,317.5 713.2,313.4 711.3,308.0 712.4,302.0" fill="none" stroke="#000" stroke-width="1.8" stroke-linejoin="round" stroke-linecap="round"/>
<path d="M727.1,352.9 723.5,352.1 720.0,354.3 715.7,355.6" fill="none" stroke="#000" stroke-width="2.6" stroke-linejoin="round" stroke-linecap="round"/>
<path d="M724.4,370.1 725.2,364.9 727.9,359.3 728.1,354.4 725.1,350.1 722.9,346.5" fill="none" stroke="#000" stroke-width="1.7" stroke-linejoin="round" stroke-linecap="round"/>
<path d="M726.9,363.7 723.7,364.1 720.4,364.4 717.3,364.3 714.3,364.1" fill="none" stroke="#000" stroke-width="2.2" stroke-linejoin="round" stroke-linecap="round"/>
<path d="M722.9,369.6 718.0,371.9 714.4,370.7" fill="none" stroke="#000" stroke-width="2.2" stroke-linejoin="round" stroke-linecap="round"/>
<path d="M766.3,250.3 769.9,247.9 773.7,246.0 772.2,241.8 769.0,240.8" fill="none" stroke="#000" stroke-width="1.9" stroke-linejoin="round" stroke-linecap="round"/>
<path d="M764.8,253.9 768.8,252.4" fill="none" stroke="#000" stroke-width="2.0" stroke-linejoin="round" stroke-linecap="round"/>
<path d="M772.1,252.9 774.9,252.0" fill="none" stroke="#000" stroke-width="2.0" stroke-linejoin="round" stroke-linecap="round"/>
<path d="M772.4,200.4 776.4,201.7 780.0,199.7" fill="none" stroke="#000" stroke-width="2.0" stroke-linejoin="round" stroke-linecap="round"/>
<path d="M764.2,213.1 766.2,211.7 768.2,210.2 770.1,208.4 771.9,206.5" fill="none" stroke="#000" stroke-width="1.8" stroke-linejoin="round" stroke-linecap="round"/>
<path d="M782.8,195.4 785.2,193.3 787.5,191.2 789.2,189.0 790.8,186.7" fill="none" stroke="#000" stroke-width="1.8" stroke-linejoin="round" stroke-linecap="round"/>
<path d="M136.3,308.8 137.1,310.7 137.8,315.1 139.1,317.6" fill="none" stroke="#000" stroke-width="2.2" stroke-linejoin="round" stroke-linecap="round"/>
<path d="M137.5,307.0 141.0,308.5" fill="none" stroke="#000" stroke-width="2.0" stroke-linejoin="round" stroke-linecap="round"/>
<path d="M158.9,164.5 161.0,165.2" fill="none" stroke="#000" stroke-width="2.0" stroke-linejoin="round" stroke-linecap="round"/>
<path d="M158.5,169.5 157.9,173.5" fill="none" stroke="#000" stroke-width="2.0" stroke-linejoin="round" stroke-linecap="round"/>
<path d="M156.6,175.7 158.7,176.6 160.7,177.4 163.7,179.2" fill="none" stroke="#000" stroke-width="2.4" stroke-linejoin="round" stroke-linecap="round"/>
<path d="M483.0,486.3 485.2,490.3 486.0,492.2" fill="none" stroke="#000" stroke-width="2.0" stroke-linejoin="round" stroke-linecap="round"/>
<path d="M459.8,508.6 465.5,504.5 469.8,503.6" fill="none" stroke="#000" stroke-width="2.0" stroke-linejoin="round" stroke-linecap="round"/>
<path d="M449.8,516.7 451.9,513.5 455.5,511.8" fill="none" stroke="#000" stroke-width="2.0" stroke-linejoin="round" stroke-linecap="round"/>
<path d="M579.3,464.2 579.9,469.8" fill="none" stroke="#000" stroke-width="2.0" stroke-linejoin="round" stroke-linecap="round"/>
<path d="M592.1,466.1 593.7,467.6" fill="none" stroke="#000" stroke-width="2.0" stroke-linejoin="round" stroke-linecap="round"/>
<path d="M661.0,498.7 663.0,502.5 661.3,505.3" fill="none" stroke="#000" stroke-width="2.0" stroke-linejoin="round" stroke-linecap="round"/>
<path d="M669.3,513.9 671.7,519.3" fill="none" stroke="#000" stroke-width="1.8" stroke-linejoin="round" stroke-linecap="round"/>
<path d="M689.2,484.7 688.3,491.5" fill="none" stroke="#000" stroke-width="1.8" stroke-linejoin="round" stroke-linecap="round"/>
<path d="M669.0,443.8 669.5,438.8" fill="none" stroke="#000" stroke-width="2.0" stroke-linejoin="round" stroke-linecap="round"/>
<path d="M674.7,424.7 678.2,420.8" fill="none" stroke="#000" stroke-width="1.8" stroke-linejoin="round" stroke-linecap="round"/>
<path d="M683.9,414.8 685.6,416.1" fill="none" stroke="#000" stroke-width="1.8" stroke-linejoin="round" stroke-linecap="round"/>
</g>
<rect x="112.6" y="121.6" width="682.9" height="445.8" fill="none" stroke="#000" stroke-width="1.1"/>
<line x1="99.3" y1="183.1" x2="112.6" y2="183.1" stroke="#000" stroke-width="1.1"/>
<line x1="99.3" y1="267.8" x2="112.6" y2="267.8" stroke="#000" stroke-width="1.1"/>
<line x1="99.3" y1="351.6" x2="112.6" y2="351.6" stroke="#000" stroke-width="1.1"/>
<line x1="99.3" y1="435.7" x2="112.6" y2="435.7" stroke="#000" stroke-width="1.1"/>
<line x1="99.3" y1="519.8" x2="112.6" y2="519.8" stroke="#000" stroke-width="1.1"/>
<line x1="258.5" y1="567.4" x2="258.5" y2="580.9" stroke="#000" stroke-width="1.1"/>
<line x1="409.2" y1="567.4" x2="409.2" y2="580.9" stroke="#000" stroke-width="1.1"/>
<line x1="559.0" y1="567.4" x2="559.0" y2="580.9" stroke="#000" stroke-width="1.1"/>
<line x1="711.3" y1="567.4" x2="711.3" y2="580.9" stroke="#000" stroke-width="1.1"/>
<rect x="236.40" y="664.7" width="20.08" height="23.7" fill="#a50026"/>
<rect x="256.18" y="664.7" width="20.08" height="23.7" fill="#bd1726"/>
<rect x="275.96" y="664.7" width="20.08" height="23.7" fill="#d42d27"/>
<rect x="295.74" y="664.7" width="20.08" height="23.7" fill="#e34933"/>
<rect x="315.52" y="664.7" width="20.08" height="23.7" fill="#f16640"/>
<rect x="335.30" y="664.7" width="20.08" height="23.7" fill="#f7844e"/>
<rect x="355.08" y="664.7" width="20.08" height="23.7" fill="#fca55d"/>
<rect x="374.86" y="664.7" width="20.08" height="23.7" fill="#fdbf71"/>
<rect x="394.64" y="664.7" width="20.08" height="23.7" fill="#fed687"/>
<rect x="414.42" y="664.7" width="20.08" height="23.7" fill="#fee99d"/>
<rect x="434.20" y="664.7" width="20.08" height="23.7" fill="#fff7b3"/>
<rect x="453.98" y="664.7" width="20.08" height="23.7" fill="#f7fcce"/>
<rect x="473.76" y="664.7" width="20.08" height="23.7" fill="#e9f6e8"/>
<rect x="493.54" y="664.7" width="20.08" height="23.7" fill="#d6eef5"/>
<rect x="513.32" y="664.7" width="20.08" height="23.7" fill="#bde2ee"/>
<rect x="533.10" y="664.7" width="20.08" height="23.7" fill="#a3d3e6"/>
<rect x="552.88" y="664.7" width="20.08" height="23.7" fill="#87bdd9"/>
<rect x="572.66" y="664.7" width="20.08" height="23.7" fill="#6ea6ce"/>
<rect x="592.44" y="664.7" width="20.08" height="23.7" fill="#588cc0"/>
<rect x="612.22" y="664.7" width="20.08" height="23.7" fill="#4471b2"/>
<rect x="632.00" y="664.7" width="20.08" height="23.7" fill="#3a54a4"/>
<rect x="651.78" y="664.7" width="19.78" height="23.7" fill="#313695"/>
<line x1="256.18" y1="664.7" x2="256.18" y2="688.4" stroke="#000" stroke-width="0.55"/>
<line x1="275.96" y1="664.7" x2="275.96" y2="688.4" stroke="#000" stroke-width="0.55"/>
<line x1="295.74" y1="664.7" x2="295.74" y2="688.4" stroke="#000" stroke-width="0.55"/>
<line x1="315.52" y1="664.7" x2="315.52" y2="688.4" stroke="#000" stroke-width="0.55"/>
<line x1="335.30" y1="664.7" x2="335.30" y2="688.4" stroke="#000" stroke-width="0.55"/>
<line x1="355.08" y1="664.7" x2="355.08" y2="688.4" stroke="#000" stroke-width="0.55"/>
<line x1="374.86" y1="664.7" x2="374.86" y2="688.4" stroke="#000" stroke-width="0.55"/>
<line x1="394.64" y1="664.7" x2="394.64" y2="688.4" stroke="#000" stroke-width="0.55"/>
<line x1="414.42" y1="664.7" x2="414.42" y2="688.4" stroke="#000" stroke-width="0.55"/>
<line x1="434.20" y1="664.7" x2="434.20" y2="688.4" stroke="#000" stroke-width="0.55"/>
<line x1="453.98" y1="664.7" x2="453.98" y2="688.4" stroke="#000" stroke-width="0.55"/>
<line x1="473.76" y1="664.7" x2="473.76" y2="688.4" stroke="#000" stroke-width="0.55"/>
<line x1="493.54" y1="664.7" x2="493.54" y2="688.4" stroke="#000" stroke-width="0.55"/>
<line x1="513.32" y1="664.7" x2="513.32" y2="688.4" stroke="#000" stroke-width="0.55"/>
<line x1="533.10" y1="664.7" x2="533.10" y2="688.4" stroke="#000" stroke-width="0.55"/>
<line x1="552.88" y1="664.7" x2="552.88" y2="688.4" stroke="#000" stroke-width="0.55"/>
<line x1="572.66" y1="664.7" x2="572.66" y2="688.4" stroke="#000" stroke-width="0.55"/>
<line x1="592.44" y1="664.7" x2="592.44" y2="688.4" stroke="#000" stroke-width="0.55"/>
<line x1="612.22" y1="664.7" x2="612.22" y2="688.4" stroke="#000" stroke-width="0.55"/>
<line x1="632.00" y1="664.7" x2="632.00" y2="688.4" stroke="#000" stroke-width="0.55"/>
<line x1="651.78" y1="664.7" x2="651.78" y2="688.4" stroke="#000" stroke-width="0.55"/>
<rect x="236.4" y="664.7" width="435.16" height="23.7" fill="none" stroke="#333" stroke-width="0.7"/>
</svg>
<div class="t yl" style="top:175.5px">45°N</div>
<div class="t yl" style="top:260.2px">40°N</div>
<div class="t yl" style="top:344.0px">35°N</div>
<div class="t yl" style="top:428.1px">30°N</div>
<div class="t yl" style="top:512.2px">25°N</div>
<div class="t xl" style="left:218.5px;top:590.7px">110°W</div>
<div class="t xl" style="left:369.2px;top:590.7px">100°W</div>
<div class="t xl" style="left:519.0px;top:590.7px">90°W</div>
<div class="t xl" style="left:671.3px;top:590.7px">80°W</div>
<div class="t" id="cbt">AFWA Diagnostic: Surface Lifted Index</div><div class="t" id="cbk">(K)</div>
<div class="t cl" style="left:226.2px">-40</div>
<div class="t cl" style="left:265.7px">-32</div>
<div class="t cl" style="left:305.3px">-24</div>
<div class="t cl" style="left:344.9px">-16</div>
<div class="t cl" style="left:384.4px">-8</div>
<div class="t cl" style="left:424.0px">0</div>
<div class="t cl" style="left:463.5px">8</div>
<div class="t cl" style="left:503.1px">16</div>
<div class="t cl" style="left:542.7px">24</div>
<div class="t cl" style="left:582.2px">32</div>
<div class="t cl" style="left:621.8px">40</div>
<div class="t" id="foot1">OUTPUT FROM WRF V4.6.1 MODEL</div>
<div class="t" id="foot2">WE = 580 ; SN = 380 ; Levels = 38 ; Dis = 8km ; Phys Opt = 8 ; PBL Opt = 1 ; Cu Opt = 5</div>
</body></html>
